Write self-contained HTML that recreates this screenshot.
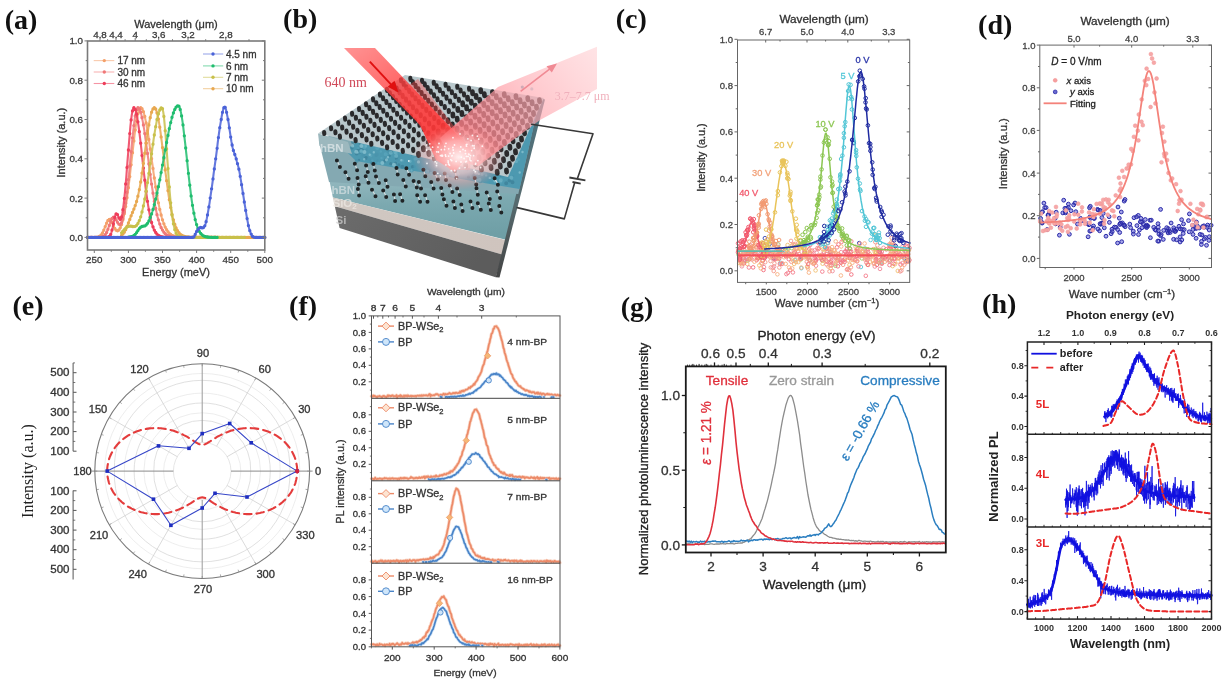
<!DOCTYPE html>
<html><head><meta charset="utf-8"><style>
html,body{margin:0;padding:0;background:#fff;width:1224px;height:683px;overflow:hidden}
svg{display:block;filter:blur(0.6px)}
text{font-family:"Liberation Sans",sans-serif}
.sf{font-family:"Liberation Serif",serif}
</style></head><body>
<svg width="1224" height="683" viewBox="0 0 1224 683">
<defs><linearGradient id="gSi" x1="0" y1="0" x2="1" y2="0.3"><stop offset="0" stop-color="#6c6c6c"/><stop offset="1" stop-color="#5c5c5c"/></linearGradient>
<linearGradient id="gOx" x1="0" y1="0" x2="1" y2="0"><stop offset="0" stop-color="#d0c8c2"/><stop offset="1" stop-color="#cfc4be"/></linearGradient>
<linearGradient id="gBN" x1="0" y1="0" x2="0.15" y2="1"><stop offset="0" stop-color="#94b8bf"/><stop offset="0.45" stop-color="#7ca9b0"/><stop offset="1" stop-color="#6f9fa6"/></linearGradient>
<linearGradient id="gIn" x1="0" y1="0" x2="0.7" y2="1"><stop offset="0" stop-color="#ff6464" stop-opacity="0.7"/><stop offset="0.45" stop-color="#ff3a3a" stop-opacity="0.8"/><stop offset="1" stop-color="#ff2020" stop-opacity="0.88"/></linearGradient>
<linearGradient id="gOut" x1="1" y1="0" x2="0" y2="0.6"><stop offset="0" stop-color="#ffc8cc" stop-opacity="0.5"/><stop offset="0.5" stop-color="#ffa8b0" stop-opacity="0.65"/><stop offset="1" stop-color="#ff7880" stop-opacity="0.8"/></linearGradient>
<radialGradient id="gGlow"><stop offset="0" stop-color="#fff6f6" stop-opacity="0.95"/><stop offset="0.5" stop-color="#ffcaca" stop-opacity="0.7"/><stop offset="1" stop-color="#ff8080" stop-opacity="0"/></radialGradient>
<linearGradient id="gRF" x1="0" y1="0" x2="0" y2="1"><stop offset="0" stop-color="#4f7480"/><stop offset="0.6" stop-color="#566a6e"/><stop offset="1" stop-color="#444"/></linearGradient></defs>
<rect width="1224" height="683" fill="#fff"/>
<path d="M87.5 237.4l.7 0 .6 0 .7 0 .7 0 .7 0 .7 0 .7 0 .6 0 .7 0 .7 0 .7 0 .7-.1.6 0 .7-.1.7-.1.7-.2.7-.3.7-.4.6-.5.7-.7.7-.9.7-1.1.7-1.4.6-1.5.7-1.7.7-1.8.7-1.8.7-1.6.7-1.5.6-1.2.7-.7.7-.3.7.1.7.6.7 1 .6 1.3.7 1.5.7 1.5.7 1.5.7 1.3.6 1.1.7.8.7.4.7.2.7-.3.7-.5.6-.9.7-1.3.7-1.5.7-1.8.7-2.2.6-2.5.7-2.8.7-3.2.7-3.5.7-3.9.7-4.2.6-4.5.7-4.9.7-5.1.7-5.5.7-5.6.6-5.9.7-5.9.7-6.1.7-6 .7-6 .7-5.8.6-5.6.7-5.2.7-4.9.7-4.4.7-3.8.6-3.3.7-2.6.7-1.9.7-1.1.7-.4.7.3.6.7.7 1.3.7 1.7.7 2.2.7 2.6.6 3 .7 3.4.7 3.8.7 4 .7 4.3.7 4.5.6 4.7.7 4.8.7 4.8.7 4.9.7 4.9.7 4.9.6 4.8.7 4.7.7 4.6.7 4.4.7 4.2.6 4.1.7 3.8.7 3.7.7 3.4.7 3.2.7 2.9.6 2.7.7 2.6.7 2.2.7 2.1.7 1.9.6 1.7.7 1.6.7 1.4.7 1.2.7 1.1.7.9.6.8.7.8.7.6.7.5.7.5.6.4.7.4.7.3.7.2.7.2.7.2.6.1.7.2.7.1.7 0 .7.1.7.1.6 0 .7.1.7 0 .7 0 .7 0 .6 0 .7.1.7 0 .7 0 .7 0 .7 0 .6 0 .7 0 .7 0 .7 0 .7 0 .6 0 .7 0 .7 0 .7 0 .7 0 .7 0 .6 0 .7 0 .7 0 .7 0 .7 0 .6 0 .7 0 .7 0 .7 0 .7 0 .7 0 .6 0 .7 0 .7 0 .7 0 .7 0 .6 0 .7 0 .7 0 .7 0 .7 0 .7 0 .6 0 .7 0 .7 0 .7 0 .7 0 .6 0 .7 0 .7 0 .7 0 .7 0 .7 0" stroke="#f4a06a" stroke-width="2.1" fill="none" stroke-linejoin="round" stroke-linecap="round" opacity="0.85"/>
<path d="M87.5 237.4h0M88.8 237.4h0M90.2 237.4h0M91.6 237.4h0M92.9 237.4h0M94.3 237.4h0M95.7 237.3h0M97 237.2h0M98.4 236.9h0M99.8 236.2h0M101.1 235h0M102.5 233h0M103.8 230.1h0M105.2 226.6h0M106.6 223.2h0M107.9 220.5h0M109.3 219.5h0M110.7 220.2h0M112 222.5h0M113.4 225.5h0M114.8 228.3h0M116.1 230.2h0M117.5 230.8h0M118.9 230h0M120.2 227.8h0M121.6 224.5h0M122.9 219.8h0M124.3 213.8h0M125.7 206.4h0M127 197.7h0M128.4 187.7h0M129.8 176.6h0M131.1 164.8h0M132.5 152.7h0M133.9 140.9h0M135.2 130.1h0M136.6 120.8h0M137.9 113.7h0M139.3 109.2h0M140.7 107.7h0M142 108.7h0M143.4 111.7h0M144.8 116.5h0M146.1 122.9h0M147.5 130.7h0M148.9 139.5h0M150.2 149h0M151.6 158.7h0M153 168.5h0M154.3 178h0M155.7 187h0M157 195.3h0M158.4 202.8h0M159.8 209.4h0M161.1 215h0M162.5 219.8h0M163.9 223.8h0M165.2 227.1h0M166.6 229.7h0M168 231.7h0M169.3 233.3h0M170.7 234.4h0M172 235.3h0M173.4 236h0M174.8 236.4h0M176.1 236.7h0M177.5 237h0M178.9 237.1h0M180.2 237.2h0M181.6 237.3h0M183 237.3h0M184.3 237.4h0M185.7 237.4h0M187.1 237.4h0M188.4 237.4h0M189.8 237.4h0M191.1 237.4h0M192.5 237.4h0M193.9 237.4h0M195.2 237.4h0M196.6 237.4h0M198 237.4h0M199.3 237.4h0M200.7 237.4h0M202.1 237.4h0M203.4 237.4h0M204.8 237.4h0M206.1 237.4h0M207.5 237.4h0M208.9 237.4h0M210.2 237.4h0M211.6 237.4h0M213 237.4h0M214.3 237.4h0M215.7 237.4h0M217.1 237.4h0" stroke="#f4a06a" stroke-width="3.3" stroke-linecap="round"/>
<path d="M87.5 237.4l.7 0 .6 0 .7 0 .7 0 .7 0 .7 0 .7 0 .6 0 .7 0 .7 0 .7 0 .7 0 .6 0 .7 0 .7 0 .7 0 .7 0 .7-.1.6 0 .7-.1.7-.2.7-.2.7-.3.6-.4.7-.6.7-.8.7-1 .7-1.2.7-1.5.6-1.7.7-1.9.7-2 .7-2 .7-1.9.7-1.7.6-1.3.7-.9.7-.5.7.1.7.5.6.9.7 1.2.7 1.3.7 1.2.7 1.1.7.8.6.4.7 0 .7-.7.7-1.2.7-1.8.6-2.3.7-3 .7-3.6.7-4.1.7-4.7.7-5.2.6-5.7.7-6.1.7-6.5.7-6.8.7-7 .6-7.2.7-7.1.7-7 .7-6.8.7-6.3.7-5.9.6-5.2.7-4.4.7-3.6.7-2.6.7-1.6.6-.5.7.3.7.9.7 1.4.7 1.9.7 2.5.6 3 .7 3.4.7 3.8.7 4.2.7 4.5.6 4.7.7 4.9.7 5.1.7 5.2.7 5.2.7 5.3.6 5.2.7 5.1.7 5 .7 4.8.7 4.6.7 4.5.6 4.2.7 3.9.7 3.8.7 3.4.7 3.2.6 3 .7 2.7.7 2.4.7 2.3.7 2 .7 1.8.6 1.6.7 1.4.7 1.2.7 1.1.7 1 .6.8.7.7.7.6.7.5.7.5.7.3.6.4.7.2.7.2.7.2.7.2.6.1.7.1.7.1.7 0 .7.1.7 0 .6.1.7 0 .7 0 .7 0 .7.1.7 0 .6 0 .7 0 .7 0 .7 0 .7 0 .6 0 .7 0 .7 0 .7 0 .7 0 .7 0 .6 0 .7 0 .7 0 .7 0 .7 0 .6 0 .7 0 .7 0 .7 0 .7 0 .7 0 .6 0 .7 0 .7 0 .7 0 .7 0 .6 0 .7 0 .7 0 .7 0 .7 0 .7 0 .6 0 .7 0 .7 0 .7 0 .7 0 .6 0 .7 0 .7 0 .7 0 .7 0 .7 0 .6 0 .7 0 .7 0 .7 0 .7 0 .6 0 .7 0 .7 0 .7 0 .7 0 .7 0" stroke="#f07878" stroke-width="2.1" fill="none" stroke-linejoin="round" stroke-linecap="round" opacity="0.85"/>
<path d="M87.5 237.4h0M88.8 237.4h0M90.2 237.4h0M91.6 237.4h0M92.9 237.4h0M94.3 237.4h0M95.7 237.4h0M97 237.4h0M98.4 237.4h0M99.8 237.3h0M101.1 237.2h0M102.5 236.8h0M103.8 236.1h0M105.2 234.7h0M106.6 232.5h0M107.9 229.3h0M109.3 225.4h0M110.7 221.5h0M112 218.5h0M113.4 217.1h0M114.8 217.7h0M116.1 219.8h0M117.5 222.3h0M118.9 224.2h0M120.2 224.6h0M121.6 222.7h0M122.9 218.6h0M124.3 212h0M125.7 203.2h0M127 192.3h0M128.4 179.7h0M129.8 165.9h0M131.1 151.6h0M132.5 137.8h0M133.9 125.6h0M135.2 116h0M136.6 109.8h0M137.9 107.7h0M139.3 108.9h0M140.7 112.2h0M142 117.7h0M143.4 124.9h0M144.8 133.6h0M146.1 143.2h0M147.5 153.5h0M148.9 164h0M150.2 174.3h0M151.6 184.1h0M153 193.2h0M154.3 201.3h0M155.7 208.5h0M157 214.7h0M158.4 219.8h0M159.8 224.1h0M161.1 227.5h0M162.5 230.1h0M163.9 232.2h0M165.2 233.7h0M166.6 234.8h0M168 235.6h0M169.3 236.2h0M170.7 236.6h0M172 236.9h0M173.4 237.1h0M174.8 237.2h0M176.1 237.3h0M177.5 237.3h0M178.9 237.4h0M180.2 237.4h0M181.6 237.4h0M183 237.4h0M184.3 237.4h0M185.7 237.4h0M187.1 237.4h0M188.4 237.4h0M189.8 237.4h0M191.1 237.4h0M192.5 237.4h0M193.9 237.4h0M195.2 237.4h0M196.6 237.4h0M198 237.4h0M199.3 237.4h0M200.7 237.4h0M202.1 237.4h0M203.4 237.4h0M204.8 237.4h0M206.1 237.4h0M207.5 237.4h0M208.9 237.4h0M210.2 237.4h0M211.6 237.4h0M213 237.4h0M214.3 237.4h0M215.7 237.4h0M217.1 237.4h0" stroke="#f07878" stroke-width="3.3" stroke-linecap="round"/>
<path d="M102.5 237.4l.7 0 .6 0 .7 0 .7 0 .7 0 .7-.1.7 0 .6-.2.7-.2.7-.5.7-.8.7-1.2.7-1.8.6-2.5.7-2.9.7-3.4.7-3.4.7-3.1.6-2.3.7-1.2.7-.1.7.9.7 1.5.7 1.7.6 1.2.7.4.7-.6.7-1.9.7-3 .6-4.2.7-5.1.7-6.1.7-6.9.7-7.6.7-8.1.6-8.5.7-8.7.7-8.7.7-8.4.7-8 .6-7.3.7-6.4.7-5.2.7-3.8.7-2.4.7-.8.6.4.7 1.3.7 2 .7 2.8.7 3.5.6 4.1.7 4.7.7 5.2.7 5.6.7 5.9.7 6.1.6 6.3.7 6.3.7 6.2.7 6.2.7 5.9.6 5.8.7 5.4.7 5.1.7 4.8.7 4.5.7 4 .6 3.7.7 3.4.7 2.9.7 2.7.7 2.3.7 2 .6 1.8.7 1.5.7 1.3.7 1.1.7.9.6.8.7.6.7.5.7.5.7.3.7.3.6.2.7.2.7.1.7.2.7 0 .6.1.7.1.7 0 .7 0 .7 0 .7.1.6 0 .7 0" stroke="#ee3d5a" stroke-width="2.1" fill="none" stroke-linejoin="round" stroke-linecap="round" opacity="0.85"/>
<path d="M102.5 237.4h0M103.8 237.4h0M105.2 237.4h0M106.6 237.3h0M107.9 237.1h0M109.3 236.4h0M110.7 234.4h0M112 230.1h0M113.4 223.8h0M114.8 217.3h0M116.1 213.8h0M117.5 214.6h0M118.9 217.8h0M120.2 219.4h0M121.6 216.9h0M122.9 209.7h0M124.3 198.5h0M125.7 184h0M127 167.4h0M128.4 150h0M129.8 133.6h0M131.1 119.9h0M132.5 110.9h0M133.9 107.7h0M135.2 109.4h0M136.6 114.2h0M137.9 121.8h0M139.3 131.7h0M140.7 143.2h0M142 155.6h0M143.4 168.1h0M144.8 180.2h0M146.1 191.4h0M147.5 201.3h0M148.9 209.8h0M150.2 216.9h0M151.6 222.5h0M153 226.8h0M154.3 230.1h0M155.7 232.5h0M157 234.2h0M158.4 235.3h0M159.8 236.1h0M161.1 236.6h0M162.5 236.9h0M163.9 237.1h0M165.2 237.3h0M166.6 237.3h0M168 237.4h0M169.3 237.4h0" stroke="#ee3d5a" stroke-width="3.3" stroke-linecap="round"/>
<path d="M121.6 235.4l.7-.6.6-.7.7-.9.7-1 .7-1.2.7-1.3.7-1.5.6-1.7.7-1.7.7-1.8.7-1.8.7-1.8.6-1.8.7-1.8.7-1.7.7-1.7.7-1.6.7-1.7.6-1.7.7-1.8.7-2 .7-2.2.7-2.5.6-2.7.7-3.1.7-3.4.7-3.7.7-4 .7-4.3.6-4.6.7-4.8.7-4.9.7-5.1.7-5.1.6-5.1.7-5 .7-4.9.7-4.7.7-4.5.7-4.1.6-3.8.7-3.4.7-3 .7-2.5.7-1.9.7-1.4.6-.9.7-.3.7.3.7 1 .7 1.7.6 2.2.7 2.8.7 3.4.7 3.8.7 4.3.7 4.7.6 5 .7 5.3.7 5.4.7 5.5.7 5.6.6 5.6.7 5.6.7 5.5.7 5.3.7 5.1.7 4.9.6 4.6.7 4.4.7 4.1.7 3.8.7 3.5.6 3.2.7 2.9.7 2.6.7 2.4.7 2.1.7 1.9.6 1.7.7 1.4.7 1.3.7 1.1.7.9.7.9.6.6.7.6.7.5.7.4.7.4.6.2.7.3.7.2.7.1.7.1.7.1.6.1.7.1.7 0 .7.1.7 0 .6 0 .7 0 .7.1.7 0 .7 0 .7 0 .6 0 .7 0 .7 0 .7 0 .7 0 .6 0 .7 0 .7 0 .7 0 .7 0 .7 0 .6 0 .7 0 .7 0 .7 0 .7 0 .6 0 .7 0 .7 0 .7 0 .7 0 .7 0 .6 0 .7 0 .7 0 .7 0 .7 0 .6 0 .7 0 .7 0 .7 0 .7 0 .7 0 .6 0 .7 0 .7 0 .7 0 .7 0 .7 0 .6 0 .7 0 .7 0 .7 0 .7 0 .6 0 .7 0 .7 0 .7 0 .7 0 .7 0 .6 0 .7 0 .7 0 .7 0 .7 0 .6 0 .7 0 .7 0 .7 0 .7 0 .7 0 .6 0 .7 0 .7 0 .7 0 .7 0 .6 0 .7 0 .7 0 .7 0 .7 0 .7 0 .6 0 .7 0 .7 0 .7 0 .7 0 .7 0 .6 0 .7 0 .7 0 .7 0 .7 0 .6 0 .7 0 .7 0 .7 0 .7 0 .7 0 .6 0 .7 0 .7 0 .7 0 .7 0 .6 0 .7 0 .7 0 .7 0 .7 0 .7 0 .6 0 .7 0 .7 0" stroke="#e8a850" stroke-width="2.1" fill="none" stroke-linejoin="round" stroke-linecap="round" opacity="0.85"/>
<path d="M121.6 235.4h0M122.9 234.1h0M124.3 232.2h0M125.7 229.7h0M127 226.5h0M128.4 223h0M129.8 219.4h0M131.1 215.8h0M132.5 212.4h0M133.9 209.1h0M135.2 205.6h0M136.6 201.4h0M137.9 196.2h0M139.3 189.7h0M140.7 182h0M142 173.1h0M143.4 163.4h0M144.8 153.2h0M146.1 143.1h0M147.5 133.5h0M148.9 124.9h0M150.2 117.7h0M151.6 112.2h0M153 108.9h0M154.3 107.7h0M155.7 109h0M157 112.9h0M158.4 119.1h0M159.8 127.2h0M161.1 136.9h0M162.5 147.6h0M163.9 158.7h0M165.2 169.9h0M166.6 180.7h0M168 190.7h0M169.3 199.7h0M170.7 207.6h0M172 214.3h0M173.4 219.8h0M174.8 224.3h0M176.1 227.9h0M177.5 230.6h0M178.9 232.6h0M180.2 234.1h0M181.6 235.2h0M183 236h0M184.3 236.5h0M185.7 236.8h0M187.1 237h0M188.4 237.2h0M189.8 237.3h0M191.1 237.3h0M192.5 237.4h0M193.9 237.4h0M195.2 237.4h0M196.6 237.4h0M198 237.4h0M199.3 237.4h0M200.7 237.4h0M202.1 237.4h0M203.4 237.4h0M204.8 237.4h0M206.1 237.4h0M207.5 237.4h0M208.9 237.4h0M210.2 237.4h0M211.6 237.4h0M213 237.4h0M214.3 237.4h0M215.7 237.4h0M217.1 237.4h0M218.4 237.4h0M219.8 237.4h0M221.2 237.4h0M222.5 237.4h0M223.9 237.4h0M225.2 237.4h0M226.6 237.4h0M228 237.4h0M229.3 237.4h0M230.7 237.4h0M232.1 237.4h0M233.4 237.4h0M234.8 237.4h0M236.2 237.4h0M237.5 237.4h0M238.9 237.4h0M240.2 237.4h0M241.6 237.4h0M243 237.4h0M244.3 237.4h0M245.7 237.4h0M247.1 237.4h0M248.4 237.4h0M249.8 237.4h0M251.2 237.4h0M252.5 237.4h0M253.9 237.4h0M255.3 237.4h0M256.6 237.4h0M258 237.4h0M259.3 237.4h0M260.7 237.4h0M262.1 237.4h0M263.4 237.4h0M264.8 237.4h0" stroke="#e8a850" stroke-width="3.3" stroke-linecap="round"/>
<path d="M121.6 232.8l.7-.8.6-.8.7-.8.7-.8.7-.7.7-.7.7-.6.6-.5.7-.4.7-.3.7-.2.7-.1.6.1.7 0 .7.2.7.1.7.1.7 0 .6-.1.7-.2.7-.4.7-.6.7-.8.6-1.1.7-1.3.7-1.5.7-1.8.7-2 .7-2.3.6-2.6.7-2.9.7-3.1.7-3.3.7-3.6.6-3.8.7-4 .7-4.2.7-4.4.7-4.6.7-4.7.6-4.8.7-4.9.7-4.9.7-4.9.7-4.8.7-4.8.6-4.7.7-4.5.7-4.3.7-4 .7-3.8.6-3.4.7-3 .7-2.6.7-2.2.7-1.7.7-1.3.6-.7.7-.3.7 1 .7 3 .7 4.8.6 6.4.7 7.8.7 8.8.7 9.5.7 9.7.7 9.8.6 9.5.7 9 .7 8.3.7 7.5.7 6.6.6 5.6.7 4.8.7 4 .7 3.3.7 2.6.7 2 .6 1.6.7 1.1.7.9.7.7.7.4.7.3.6.3.7.1.7.1.7.1.7 0 .6.1.7 0 .7 0 .7 0 .7 0 .7 0 .6 0 .7 0 .7 0 .7 0 .7 0 .6 0 .7 0 .7 0 .7 0 .7 0 .7 0 .6 0 .7 0 .7 0 .7 0 .7 0 .6 0 .7 0 .7 0 .7 0 .7 0 .7 0 .6 0 .7 0 .7 0 .7 0 .7 0 .6 0 .7 0 .7 0 .7 0 .7 0 .7 0 .6 0 .7 0 .7 0 .7 0 .7 0 .6 0 .7 0 .7 0 .7 0 .7 0 .7 0 .6 0 .7 0 .7 0 .7 0 .7 0 .7 0 .6 0 .7 0 .7 0 .7 0 .7 0 .6 0 .7 0 .7 0 .7 0 .7 0 .7 0 .6 0 .7 0 .7 0 .7 0 .7 0 .6 0 .7 0 .7 0 .7 0 .7 0 .7 0 .6 0 .7 0 .7 0 .7 0 .7 0 .6 0 .7 0 .7 0 .7 0 .7 0 .7 0 .6 0" stroke="#c8c04a" stroke-width="2.1" fill="none" stroke-linejoin="round" stroke-linecap="round" opacity="0.85"/>
<path d="M121.6 232.8h0M122.9 231.2h0M124.3 229.6h0M125.7 228.2h0M127 227.1h0M128.4 226.4h0M129.8 226.1h0M131.1 226.2h0M132.5 226.5h0M133.9 226.6h0M135.2 226.3h0M136.6 225.3h0M137.9 223.4h0M139.3 220.6h0M140.7 216.8h0M142 211.9h0M143.4 205.9h0M144.8 199h0M146.1 191.2h0M147.5 182.6h0M148.9 173.3h0M150.2 163.6h0M151.6 153.8h0M153 144.2h0M154.3 135h0M155.7 126.7h0M157 119.5h0M158.4 113.9h0M159.8 110h0M161.1 108h0M162.5 108.7h0M163.9 116.5h0M165.2 130.7h0M166.6 149h0M168 168.5h0M169.3 187h0M170.7 202.8h0M172 215h0M173.4 223.8h0M174.8 229.7h0M176.1 233.3h0M177.5 235.3h0M178.9 236.4h0M180.2 237h0M181.6 237.2h0M183 237.3h0M184.3 237.4h0M185.7 237.4h0M187.1 237.4h0M188.4 237.4h0M189.8 237.4h0M191.1 237.4h0M192.5 237.4h0M193.9 237.4h0M195.2 237.4h0M196.6 237.4h0M198 237.4h0M199.3 237.4h0M200.7 237.4h0M202.1 237.4h0M203.4 237.4h0M204.8 237.4h0M206.1 237.4h0M207.5 237.4h0M208.9 237.4h0M210.2 237.4h0M211.6 237.4h0M213 237.4h0M214.3 237.4h0M215.7 237.4h0M217.1 237.4h0M218.4 237.4h0M219.8 237.4h0M221.2 237.4h0M222.5 237.4h0M223.9 237.4h0M225.2 237.4h0M226.6 237.4h0M228 237.4h0M229.3 237.4h0M230.7 237.4h0M232.1 237.4h0M233.4 237.4h0M234.8 237.4h0M236.2 237.4h0M237.5 237.4h0M238.9 237.4h0M240.2 237.4h0M241.6 237.4h0M243 237.4h0M244.3 237.4h0" stroke="#c8c04a" stroke-width="3.3" stroke-linecap="round"/>
<path d="M128.4 237.1l.7-.1.7-.1.6-.1.7-.1.7-.2.7-.2.7-.4.7-.4.6-.5.7-.7.7-.8.7-.9.7-1 .6-1 .7-1 .7-1 .7-.7.7-.7.7-.4.6-.3.7-.2.7-.1.7-.1.7-.2.6-.4.7-.5.7-.7.7-1 .7-1.1.7-1.3.6-1.5.7-1.7.7-1.8.7-2 .7-2.1.7-2.3.6-2.4.7-2.5.7-2.7.7-2.8.7-2.9.6-3.1.7-3.2.7-3.2.7-3.4.7-3.5.7-3.6.6-3.6.7-3.7.7-3.8.7-3.8.7-3.8.6-3.8.7-3.7.7-3.8.7-3.7.7-3.6.7-3.5.6-3.4.7-3.3.7-3.1.7-3 .7-2.7.6-2.6.7-2.3.7-2.1.7-1.9.7-1.6.7-1.3.6-1 .7-.8.7-.4.7-.2.7.5.7 1.2.6 2.1.7 2.8.7 3.6.7 4.2.7 4.8.6 5.2.7 5.7.7 6 .7 6.2.7 6.4.7 6.3.6 6.4.7 6.2.7 6.1.7 5.8.7 5.5.6 5.2.7 4.9.7 4.5.7 4.1.7 3.8.7 3.4.6 3 .7 2.7.7 2.3.7 2.1.7 1.8.6 1.5.7 1.3.7 1.1.7 1 .7.7.7.7.6.5.7.5.7.3.7.3.7.2.6.2.7.1.7.1.7.1.7.1.7 0 .6.1.7 0 .7 0 .7.1.7 0 .6 0 .7 0 .7 0 .7 0 .7 0 .7 0" stroke="#1fbd6e" stroke-width="2.1" fill="none" stroke-linejoin="round" stroke-linecap="round" opacity="0.85"/>
<path d="M128.4 237.1h0M129.8 236.9h0M131.1 236.7h0M132.5 236.3h0M133.9 235.5h0M135.2 234.3h0M136.6 232.6h0M137.9 230.6h0M139.3 228.6h0M140.7 227.2h0M142 226.5h0M143.4 226.2h0M144.8 225.9h0M146.1 225h0M147.5 223.3h0M148.9 220.9h0M150.2 217.7h0M151.6 213.9h0M153 209.5h0M154.3 204.6h0M155.7 199.1h0M157 193.1h0M158.4 186.7h0M159.8 179.8h0M161.1 172.6h0M162.5 165.1h0M163.9 157.5h0M165.2 150h0M166.6 142.5h0M168 135.4h0M169.3 128.7h0M170.7 122.6h0M172 117.3h0M173.4 112.9h0M174.8 109.4h0M176.1 107.1h0M177.5 105.9h0M178.9 106.2h0M180.2 109.5h0M181.6 115.9h0M183 124.9h0M184.3 135.8h0M185.7 148h0M187.1 160.7h0M188.4 173.3h0M189.8 185.2h0M191.1 195.9h0M192.5 205.3h0M193.9 213.2h0M195.2 219.6h0M196.6 224.6h0M198 228.5h0M199.3 231.3h0M200.7 233.4h0M202.1 234.8h0M203.4 235.8h0M204.8 236.4h0M206.1 236.8h0M207.5 237h0M208.9 237.2h0M210.2 237.3h0M211.6 237.3h0M213 237.4h0M214.3 237.4h0M215.7 237.4h0M217.1 237.4h0" stroke="#1fbd6e" stroke-width="3.3" stroke-linecap="round"/>
<path d="M87.5 237.4l.7 0 .6 0 .7 0 .7 0 .7 0 .7 0 .7 0 .6 0 .7 0 .7 0 .7 0 .7 0 .6 0 .7 0 .7 0 .7 0 .7 0 .7 0 .6 0 .7 0 .7 0 .7 0 .7 0 .6 0 .7 0 .7 0 .7 0 .7 0 .7 0 .6 0 .7 0 .7 0 .7 0 .7 0 .7 0 .6 0 .7 0 .7 0 .7 0 .7 0 .6 0 .7 0 .7 0 .7 0 .7 0 .7 0 .6 0 .7 0 .7 0 .7 0 .7 0 .6 0 .7 0 .7 0 .7 0 .7 0 .7 0 .6 0 .7 0 .7 0 .7 0 .7 0 .6 0 .7 0 .7 0 .7 0 .7 0 .7 0 .6 0 .7 0 .7 0 .7 0 .7 0 .6 0 .7 0 .7 0 .7 0 .7 0 .7 0 .6 0 .7 0 .7 0 .7 0 .7 0 .6 0 .7 0 .7 0 .7 0 .7 0 .7 0 .6 0 .7 0 .7 0 .7 0 .7 0 .7 0 .6 0 .7 0 .7 0 .7 0 .7 0 .6 0 .7 0 .7 0 .7 0 .7 0 .7 0 .6 0 .7 0 .7 0 .7 0 .7 0 .6 0 .7 0 .7 0 .7 0 .7 0 .7 0 .6 0 .7 0 .7 0 .7 0 .7 0 .6 0 .7 0 .7 0 .7 0 .7 0 .7 0 .6 0 .7 0 .7 0 .7 0 .7 0 .7 0 .6 0 .7 0 .7 0 .7 0 .7 0 .6 0 .7 0 .7 0 .7 0 .7 0 .7 0 .6 0 .7 0 .7 0 .7 0 .7 0 .6 0 .7 0 .7 0 .7 0 .7-.5.7-1.1.6-1.5.7-1.6.7-1.2.7-1 .7-.9.6-.8.7-.7.7-.5.7-.2.7.2.7.3.6 0 .7-.3.7-.8.7-1 .7-1.7.6-2.4.7-3.2.7-3.6.7-3.9.7-4.1.7-4.3.6-4.5.7-4.6.7-4.7.7-4.9.7-5 .6-5 .7-5 .7-5.1.7-5 .7-5.1.7-5.4.6-5.4.7-5.3.7-5.1.7-4.8.7-4.3.7-3.9.6-3.8.7-3.4.7-2.7.7-1.9.7-1 .6.6.7 2 .7 3 .7 3.6.7 3.6.7 3.9.6 4.4.7 4.6.7 4.7.7 4.3.7 3.6.6 3 .7 2.4.7 2.1.7 2 .7 2 .7 2.3.6 2.5.7 2.4.7 2.6.7 2.9.7 3.4.6 3.7.7 4.1.7 4.3.7 4.4.7 4.4.7 4.3.6 4.2.7 4.2.7 4.2.7 4.2.7 4 .7 3.7.6 3.3.7 2.8.7 2.3.7 1.9.7 1.5.6 1.3.7 1 .7.5.7.3.7.1.7.1.6 0 .7 0 .7 0 .7 0 .7 0 .6 0 .7 0 .7 0 .7 0 .7 0 .7 0 .6 0 .7 0 .7 0" stroke="#4a62d8" stroke-width="2.1" fill="none" stroke-linejoin="round" stroke-linecap="round" opacity="0.85"/>
<path d="M87.5 237.4h0M88.8 237.4h0M90.2 237.4h0M91.6 237.4h0M92.9 237.4h0M94.3 237.4h0M95.7 237.4h0M97 237.4h0M98.4 237.4h0M99.8 237.4h0M101.1 237.4h0M102.5 237.4h0M103.8 237.4h0M105.2 237.4h0M106.6 237.4h0M107.9 237.4h0M109.3 237.4h0M110.7 237.4h0M112 237.4h0M113.4 237.4h0M114.8 237.4h0M116.1 237.4h0M117.5 237.4h0M118.9 237.4h0M120.2 237.4h0M121.6 237.4h0M122.9 237.4h0M124.3 237.4h0M125.7 237.4h0M127 237.4h0M128.4 237.4h0M129.8 237.4h0M131.1 237.4h0M132.5 237.4h0M133.9 237.4h0M135.2 237.4h0M136.6 237.4h0M137.9 237.4h0M139.3 237.4h0M140.7 237.4h0M142 237.4h0M143.4 237.4h0M144.8 237.4h0M146.1 237.4h0M147.5 237.4h0M148.9 237.4h0M150.2 237.4h0M151.6 237.4h0M153 237.4h0M154.3 237.4h0M155.7 237.4h0M157 237.4h0M158.4 237.4h0M159.8 237.4h0M161.1 237.4h0M162.5 237.4h0M163.9 237.4h0M165.2 237.4h0M166.6 237.4h0M168 237.4h0M169.3 237.4h0M170.7 237.4h0M172 237.4h0M173.4 237.4h0M174.8 237.4h0M176.1 237.4h0M177.5 237.4h0M178.9 237.4h0M180.2 237.4h0M181.6 237.4h0M183 237.4h0M184.3 237.4h0M185.7 237.4h0M187.1 237.4h0M188.4 237.4h0M189.8 237.4h0M191.1 237.4h0M192.5 237.4h0M193.9 236.9h0M195.2 234.3h0M196.6 231.5h0M198 229.6h0M199.3 228.1h0M200.7 227.4h0M202.1 227.9h0M203.4 227.6h0M204.8 225.8h0M206.1 221.7h0M207.5 214.9h0M208.9 206.9h0M210.2 198.1h0M211.6 188.8h0M213 178.9h0M214.3 168.9h0M215.7 158.8h0M217.1 148.3h0M218.4 137.6h0M219.8 127.7h0M221.2 119.5h0M222.5 112.3h0M223.9 107.7h0M225.2 107.3h0M226.6 112.3h0M228 119.5h0M229.3 127.8h0M230.7 137.1h0M232.1 145h0M233.4 150.4h0M234.8 154.5h0M236.2 158.8h0M237.5 163.7h0M238.9 169.2h0M240.2 176.3h0M241.6 184.7h0M243 193.5h0M244.3 202h0M245.7 210.4h0M247.1 218.6h0M248.4 225.6h0M249.8 230.7h0M251.2 234.1h0M252.5 236.4h0M253.9 237.2h0M255.3 237.4h0M256.6 237.4h0M258 237.4h0M259.3 237.4h0M260.7 237.4h0M262.1 237.4h0M263.4 237.4h0M264.8 237.4h0" stroke="#4a62d8" stroke-width="3.3" stroke-linecap="round"/>
<rect x="87.5" y="41" width="177.3" height="209" stroke="#7a7a7a" stroke-width="1.6" fill="none"/>
<path d="M87.5 237.4L84.5 237.4M264.8 237.4L261.8 237.4" stroke="#7a7a7a" stroke-width="1"/>
<text x="83" y="240.9" font-size="9.8" text-anchor="end" fill="#3a3a3a" stroke="#3a3a3a" stroke-width="0.3">0.0</text>
<path d="M87.5 198.1L84.5 198.1M264.8 198.1L261.8 198.1" stroke="#7a7a7a" stroke-width="1"/>
<text x="83" y="201.6" font-size="9.8" text-anchor="end" fill="#3a3a3a" stroke="#3a3a3a" stroke-width="0.3">0.2</text>
<path d="M87.5 158.8L84.5 158.8M264.8 158.8L261.8 158.8" stroke="#7a7a7a" stroke-width="1"/>
<text x="83" y="162.3" font-size="9.8" text-anchor="end" fill="#3a3a3a" stroke="#3a3a3a" stroke-width="0.3">0.4</text>
<path d="M87.5 119.5L84.5 119.5M264.8 119.5L261.8 119.5" stroke="#7a7a7a" stroke-width="1"/>
<text x="83" y="123" font-size="9.8" text-anchor="end" fill="#3a3a3a" stroke="#3a3a3a" stroke-width="0.3">0.6</text>
<path d="M87.5 80.2L84.5 80.2M264.8 80.2L261.8 80.2" stroke="#7a7a7a" stroke-width="1"/>
<text x="83" y="83.7" font-size="9.8" text-anchor="end" fill="#3a3a3a" stroke="#3a3a3a" stroke-width="0.3">0.8</text>
<path d="M87.5 40.9L84.5 40.9M264.8 40.9L261.8 40.9" stroke="#7a7a7a" stroke-width="1"/>
<text x="83" y="44.4" font-size="9.8" text-anchor="end" fill="#3a3a3a" stroke="#3a3a3a" stroke-width="0.3">1.0</text>
<path d="M87.5 217.8L85.7 217.8M264.8 217.8L263 217.8M87.5 178.4L85.7 178.4M264.8 178.4L263 178.4M87.5 139.2L85.7 139.2M264.8 139.2L263 139.2M87.5 99.8L85.7 99.8M264.8 99.8L263 99.8M87.5 60.6L85.7 60.6M264.8 60.6L263 60.6M94.3 250L94.3 253" stroke="#7a7a7a" stroke-width="1"/>
<text x="94.3" y="263" font-size="9.8" text-anchor="middle" fill="#3a3a3a" stroke="#3a3a3a" stroke-width="0.3">250</text>
<path d="M128.4 250L128.4 253" stroke="#7a7a7a" stroke-width="1"/>
<text x="128.4" y="263" font-size="9.8" text-anchor="middle" fill="#3a3a3a" stroke="#3a3a3a" stroke-width="0.3">300</text>
<path d="M162.5 250L162.5 253" stroke="#7a7a7a" stroke-width="1"/>
<text x="162.5" y="263" font-size="9.8" text-anchor="middle" fill="#3a3a3a" stroke="#3a3a3a" stroke-width="0.3">350</text>
<path d="M196.6 250L196.6 253" stroke="#7a7a7a" stroke-width="1"/>
<text x="196.6" y="263" font-size="9.8" text-anchor="middle" fill="#3a3a3a" stroke="#3a3a3a" stroke-width="0.3">400</text>
<path d="M230.7 250L230.7 253" stroke="#7a7a7a" stroke-width="1"/>
<text x="230.7" y="263" font-size="9.8" text-anchor="middle" fill="#3a3a3a" stroke="#3a3a3a" stroke-width="0.3">450</text>
<path d="M264.8 250L264.8 253" stroke="#7a7a7a" stroke-width="1"/>
<text x="264.8" y="263" font-size="9.8" text-anchor="middle" fill="#3a3a3a" stroke="#3a3a3a" stroke-width="0.3">500</text>
<path d="M111.3 250L111.3 251.8M145.4 250L145.4 251.8M179.6 250L179.6 251.8M213.7 250L213.7 251.8M247.8 250L247.8 251.8" stroke="#7a7a7a" stroke-width="1"/>
<text x="176" y="275.5" font-size="11" text-anchor="middle" fill="#333" stroke="#333" stroke-width="0.3">Energy (meV)</text>
<text font-size="11" text-anchor="middle" fill="#333" stroke="#333" stroke-width="0.3" transform="translate(64.8 142.6) rotate(-90)">Intensity (a.u.)</text>
<path d="M100 41L100 38" stroke="#7a7a7a" stroke-width="1"/>
<text x="100" y="37.5" font-size="9.8" text-anchor="middle" fill="#3a3a3a" stroke="#3a3a3a" stroke-width="0.3">4.8</text>
<path d="M116 41L116 38" stroke="#7a7a7a" stroke-width="1"/>
<text x="116" y="37.5" font-size="9.8" text-anchor="middle" fill="#3a3a3a" stroke="#3a3a3a" stroke-width="0.3">4.4</text>
<path d="M135.2 41L135.2 38" stroke="#7a7a7a" stroke-width="1"/>
<text x="135.2" y="37.5" font-size="9.8" text-anchor="middle" fill="#3a3a3a" stroke="#3a3a3a" stroke-width="0.3">4</text>
<path d="M158.7 41L158.7 38" stroke="#7a7a7a" stroke-width="1"/>
<text x="158.7" y="37.5" font-size="9.8" text-anchor="middle" fill="#3a3a3a" stroke="#3a3a3a" stroke-width="0.3">3.6</text>
<path d="M188 41L188 38" stroke="#7a7a7a" stroke-width="1"/>
<text x="188" y="37.5" font-size="9.8" text-anchor="middle" fill="#3a3a3a" stroke="#3a3a3a" stroke-width="0.3">3.2</text>
<path d="M225.8 41L225.8 38" stroke="#7a7a7a" stroke-width="1"/>
<text x="225.8" y="37.5" font-size="9.8" text-anchor="middle" fill="#3a3a3a" stroke="#3a3a3a" stroke-width="0.3">2.8</text>
<path d="M107.6 41L107.6 39.2M125.1 41L125.1 39.2M146.3 41L146.3 39.2M172.5 41L172.5 39.2M205.7 41L205.7 39.2M249 41L249 39.2" stroke="#7a7a7a" stroke-width="1"/>
<text x="176" y="27.5" font-size="11" text-anchor="middle" fill="#333" stroke="#333" stroke-width="0.3">Wavelength (μm)</text>
<path d="M93.7 60.6L114.3 60.6" stroke="#f4a06a" stroke-width="1.1" opacity="0.55"/>
<path d="M104.3 60.6h0" stroke="#f4a06a" stroke-width="3.4" stroke-linecap="round"/>
<text x="117.4" y="64.2" font-size="10" fill="#333" stroke="#333" stroke-width="0.3">17 nm</text>
<path d="M93.7 72L114.3 72" stroke="#f07878" stroke-width="1.1" opacity="0.55"/>
<path d="M104.3 72h0" stroke="#f07878" stroke-width="3.4" stroke-linecap="round"/>
<text x="117.4" y="75.6" font-size="10" fill="#333" stroke="#333" stroke-width="0.3">30 nm</text>
<path d="M93.7 83.5L114.3 83.5" stroke="#ee3d5a" stroke-width="1.1" opacity="0.55"/>
<path d="M104.3 83.5h0" stroke="#ee3d5a" stroke-width="3.4" stroke-linecap="round"/>
<text x="117.4" y="87.1" font-size="10" fill="#333" stroke="#333" stroke-width="0.3">46 nm</text>
<path d="M203 54L223.2 54" stroke="#4a62d8" stroke-width="1.1" opacity="0.55"/>
<path d="M213 54h0" stroke="#4a62d8" stroke-width="3.4" stroke-linecap="round"/>
<text x="225.9" y="57.6" font-size="10" fill="#333" stroke="#333" stroke-width="0.3">4.5 nm</text>
<path d="M203 65.9L223.2 65.9" stroke="#1fbd6e" stroke-width="1.1" opacity="0.55"/>
<path d="M213 65.9h0" stroke="#1fbd6e" stroke-width="3.4" stroke-linecap="round"/>
<text x="225.9" y="69.5" font-size="10" fill="#333" stroke="#333" stroke-width="0.3">6 nm</text>
<path d="M203 77.3L223.2 77.3" stroke="#c8c04a" stroke-width="1.1" opacity="0.55"/>
<path d="M213 77.3h0" stroke="#c8c04a" stroke-width="3.4" stroke-linecap="round"/>
<text x="225.9" y="80.9" font-size="10" fill="#333" stroke="#333" stroke-width="0.3">7 nm</text>
<path d="M203 88.7L223.2 88.7" stroke="#e8a850" stroke-width="1.1" opacity="0.55"/>
<path d="M213 88.7h0" stroke="#e8a850" stroke-width="3.4" stroke-linecap="round"/>
<text x="225.9" y="92.3" font-size="10" fill="#333" stroke="#333" stroke-width="0.3">10 nm</text>
<polygon points="329,178.5 519.5,189 507.9,240.2 332.9,197.4" fill="url(#gBN)"/>
<polygon points="332.9,197.4 506.6,240.2 503,254.8 334.8,206.3" fill="url(#gOx)"/>
<polygon points="334.8,206.3 503,254.8 495.7,277.2 339.6,228" fill="url(#gSi)"/>
<polygon points="540,98 545,99.5 499.5,277.5 495.7,277.2" fill="url(#gRF)"/>
<polygon points="319,142 405,90 538.4,105 518.3,194 329,182" fill="#84a9b2"/>
<text x="331.5" y="193.5" font-size="11.5" fill="#dfe6e8" font-weight="bold" opacity="0.65">hBN</text>
<text x="332.5" y="207" font-size="11.5" fill="#efebe6" font-weight="bold" opacity="0.7">SiO<tspan font-size="8" dy="2">2</tspan></text>
<text x="335.5" y="224" font-size="11.5" fill="#d0d0d0" font-weight="bold" opacity="0.7">Si</text>
<polygon points="345,150 420,100 539.8,99 530.5,140 519.5,189 356,161" fill="#4a98b0" opacity="0.95"/>
<path d="M386.5 139.2h0M454.6 156h0M472.7 133.9h0M488.9 139.4h0M532 101.5h0M365.2 136h0M422.3 131.8h0M359 160h0M420.6 152.8h0M453.6 163.3h0M479.9 172h0M469.4 152.8h0M377 145.4h0M360.1 144.3h0M503.4 122.8h0M500.5 138h0M493.4 151.4h0M503.7 102.9h0M486.3 116.8h0M490.3 138.6h0M408.4 142h0M444 147.8h0M389.7 155.8h0M394.3 140.4h0M502.9 155.9h0M385.4 159.4h0M449.4 123.7h0M497.4 134.2h0M451.1 151.1h0" stroke="#3c8098" stroke-width="2.4" stroke-linecap="round" opacity="0.75"/>
<path d="M390.7 163.7h0M509.3 99.2h0M352 147.9h0M411.4 151.7h0M444 152.9h0M511.5 133.8h0M396.4 158.4h0M395.6 163.1h0M421.1 151.6h0M378.3 135.5h0M468.4 177h0M403.3 132.2h0M385.2 142.7h0M491.9 166.8h0M473.2 175.7h0M501.2 175.4h0M501.3 145.6h0M391.5 151.3h0M480.6 124.2h0M529.6 99.4h0M459.5 147.9h0M499.8 165.2h0M398.8 164.9h0M422.8 128.7h0M506.8 140.7h0M428.8 157.9h0M412.5 166.7h0M512.4 125.8h0M466.9 149.7h0M384.6 161.2h0M431.3 134.3h0M423.8 148.8h0M359.1 138.7h0" stroke="#3c8098" stroke-width="3.2" stroke-linecap="round" opacity="0.75"/>
<path d="M353 142h0M356.7 153.4h0M376.5 138h0M506.2 183.3h0M511.1 111.7h0M359.5 152.3h0M478.3 124.1h0M402.3 166.8h0M512.2 111.1h0M357.9 150.7h0M526.1 106.9h0M440.1 127.9h0M473.7 124.5h0M509.5 180.4h0M389.8 137.8h0M384.6 142h0M512.5 182.2h0M510.5 119.4h0M359.4 141.6h0M380.6 127.5h0M389.5 150.2h0M381.2 140.9h0M395.2 142.3h0M397 123.2h0M527.3 103.3h0M439 138.6h0M466.7 169.3h0M376.6 141.4h0M412.5 153.7h0M473.6 115.9h0M508.3 141.4h0M429.8 136.2h0M372.3 162.9h0M361.9 150.1h0M366 158.1h0M390.9 151.1h0M482 136h0M474.9 174.3h0M507.3 115.7h0M359.7 148.2h0M511.9 150h0" stroke="#3c8098" stroke-width="4" stroke-linecap="round" opacity="0.75"/>
<path d="M364.2 140.7h0M393.7 133h0M360.1 152.8h0M436 141.6h0M488.4 139.9h0M464.9 140.9h0M521.6 110h0M409.3 140h0M505.6 109.8h0M428.5 147.7h0M427.8 164.1h0M474.9 164.4h0M388.1 158.7h0M453.2 151.6h0M380.4 146.6h0M513.1 176.1h0M455.1 137.8h0M439.1 145.3h0M510.2 114.9h0M437 173.7h0M392.6 142h0M444.3 158h0M475.3 148.2h0M377.4 160.5h0M412 140.6h0M486.2 112h0M478 179.1h0M366.9 149.6h0M447.9 172h0M371.9 156.3h0M500.5 101.2h0M414.4 166.7h0M489.9 94.3h0" stroke="#4a94ac" stroke-width="2.4" stroke-linecap="round" opacity="0.75"/>
<path d="M444.8 132h0M518.2 151.9h0M522.3 87.1h0M420.8 149.3h0M495.8 170.1h0M476.7 143.1h0M372.4 141.9h0M456.8 148.7h0M388.1 152.3h0M369.6 159.7h0M414.2 149.7h0M507.4 114.1h0M385.8 156.5h0M493 152h0M426.8 160h0M396.5 146.7h0M461.6 141.7h0M398.6 146h0M435.7 153.1h0M488.3 112.5h0M416.9 155.7h0M368.5 158.9h0M385.3 129h0M507 139.4h0M397.5 160.2h0M444.4 147.2h0M455.8 133.7h0M398.7 156.4h0M376 155.4h0M365.5 144h0M473 141.1h0" stroke="#4a94ac" stroke-width="3.2" stroke-linecap="round" opacity="0.75"/>
<path d="M480.4 181.3h0M469 134.7h0M502.8 160.4h0M502.2 175.4h0M364.3 146.5h0M465.5 171.8h0M503.4 152.4h0M448.2 128.1h0M356.7 161h0M376.7 154.4h0M421.3 142.8h0M429.4 170.4h0M411.8 170.5h0M465.2 146.3h0M501.2 154.8h0M372.2 130.2h0M484.1 124.5h0M447.4 115.3h0M479.8 121.9h0M406.5 143h0M397 138.2h0M363.3 155h0M509.2 142.8h0M411.6 144.5h0M486.1 157.3h0M384 145.9h0M476.3 158.8h0" stroke="#4a94ac" stroke-width="4" stroke-linecap="round" opacity="0.75"/>
<path d="M385.1 137.7h0M420.9 136.7h0M490.3 163.6h0M494.2 115.7h0M428.1 149.9h0M380.8 151.5h0M526.8 115.1h0M393.5 150.3h0M396.7 144.2h0M479 104.2h0M379.1 144.5h0M381.5 158.1h0M437.4 115.3h0M532 101.4h0M441.5 158.2h0M447.1 106.8h0M372.4 160.8h0M510.9 164.2h0M358.5 147.9h0M528.9 104.2h0M457 155h0M460.3 165.4h0M402.9 160.5h0M501.3 126.7h0M438.1 149h0M413.3 155.4h0M461.4 127.9h0M407.8 169.4h0M454 151.6h0M505.5 125.3h0M424.6 154.1h0M364.3 144.9h0M410 134.1h0" stroke="#5aa6bc" stroke-width="2.4" stroke-linecap="round" opacity="0.75"/>
<path d="M396.2 130.9h0M511.5 131.4h0M405 147.5h0M503.8 139.4h0M510.6 140.5h0M516.3 142.2h0M416.4 158.5h0M429 153.3h0M422.1 149.2h0M402.2 132h0M500.6 181.9h0M378.5 163.4h0M414.9 159.1h0M382.6 142.1h0M396.6 153.1h0M371 155.7h0M480 148.5h0M365 146.3h0M395.7 145.2h0M496.4 124.6h0M518.6 159.5h0M426.2 162.1h0M404.2 149.3h0M389.8 148.9h0M494 162.3h0M476 166h0M452.8 176.2h0M519.2 111.7h0" stroke="#5aa6bc" stroke-width="3.2" stroke-linecap="round" opacity="0.75"/>
<path d="M496.4 161.2h0M489.5 128.8h0M477.8 169h0M477.5 142.4h0M513.8 158.3h0M467 124.1h0M377.3 148.1h0M480.4 158h0M409.1 149h0M476 107.8h0M490.6 152.1h0M364.3 147.2h0M463.4 145.7h0M385.7 154.2h0M484.9 172.7h0M490.1 139.3h0M513.7 158.9h0M361.3 151.2h0M395.2 151.5h0" stroke="#5aa6bc" stroke-width="4" stroke-linecap="round" opacity="0.75"/>
<path d="M387 148.6h0M411.5 170.5h0M442.9 136.1h0M486.2 175.4h0M505.1 157.6h0M464.3 142h0M442.7 122.7h0M432.8 135.8h0M429.6 145.6h0M409.6 144.4h0M520.3 106.1h0M421.7 146.9h0M357.9 152.6h0M405 139.7h0M426.3 133.4h0M525.3 108.3h0M365.9 146.3h0M372.7 138.3h0M518.3 148.2h0M457.9 108.5h0M497.8 146h0M400.5 144.1h0M467.8 138.1h0" stroke="#6eb2c4" stroke-width="2.4" stroke-linecap="round" opacity="0.75"/>
<path d="M498.7 130.2h0M458.4 174.3h0M508.3 134h0M516.8 156.2h0M391.8 129.4h0M395.3 152.7h0M373.8 129.6h0M476.9 180.4h0M423.4 155h0M426.9 133.1h0M410.1 161.3h0M516.3 161.4h0M361.1 150.9h0M435.1 163.4h0M523.6 119.5h0M395 151h0M404.7 132.9h0M482.1 174.3h0M459.2 156h0" stroke="#6eb2c4" stroke-width="3.2" stroke-linecap="round" opacity="0.75"/>
<path d="M431 173.8h0M464.4 144.2h0M474.1 119.7h0M448.2 141.2h0M479.6 180.1h0M472.7 153.1h0M457.2 172.7h0M500.8 180.2h0M396.2 155.9h0M408.1 151.6h0M441.6 138.9h0M475.7 166.9h0M370.3 140.3h0M357.1 138.5h0M427.2 171.5h0M444.3 112.3h0M477.7 162.4h0M436.3 165.9h0M377.6 144.6h0M477.9 124.3h0M511.3 177.8h0M390.8 152.8h0M362.4 138.5h0" stroke="#6eb2c4" stroke-width="4" stroke-linecap="round" opacity="0.75"/>
<path d="M394.2 134.6h0M502.9 129.7h0M453.2 144.7h0M373.8 152.3h0M354.8 139.5h0M412.5 138.1h0M522.5 152h0M510.8 156.7h0M387.9 157.2h0M391.8 143h0M498.4 103.7h0M352.2 137.5h0M364.2 159.3h0M489.8 177.9h0M401.3 160.3h0M478.8 173.9h0M439 123.3h0M447.7 176.2h0M479.9 124.2h0M527.3 115.2h0M369.7 154.7h0M416.2 145.8h0M519.7 172.5h0" stroke="#8cc4d2" stroke-width="2.4" stroke-linecap="round" opacity="0.75"/>
<path d="M501.8 115.5h0M388.2 146.1h0M429.6 154.6h0M474.5 101.1h0M418.5 161.9h0M465.2 118.3h0M423.5 147.4h0M512.2 112.9h0M531.8 88.9h0M516.4 129h0M511.3 166.4h0M356.8 140.1h0M458.3 111.9h0M414.5 130.2h0M523.4 137.7h0M428.8 157.1h0M509.8 124.1h0M496.8 103.9h0M363 135.1h0M478.2 121.9h0M386 144.9h0M410 133.4h0M467.2 128.7h0M491.5 167.9h0M495 180.8h0M386.4 159.8h0M352.6 145.9h0M508 161.6h0" stroke="#8cc4d2" stroke-width="3.2" stroke-linecap="round" opacity="0.75"/>
<path d="M361.3 145.9h0M490.6 117.8h0M371.6 131.3h0M364.4 152.1h0M477.8 135.2h0M446.1 142.8h0M504.3 129.1h0M444.7 117.5h0M486.1 158.6h0M471.1 148.2h0M475.2 102h0M444.4 136.6h0M504.6 125h0M467.2 128.4h0M514.2 148.3h0M480.1 116.9h0M394 164.7h0M495 133.4h0M433 143h0M356.2 151.8h0M494.9 138.2h0M438.3 152.3h0M476.1 172.8h0M439.3 158.8h0M522.2 117.6h0M440.8 150.5h0M494.7 116.6h0M382.3 162.9h0M380 133h0M503.7 141.4h0" stroke="#8cc4d2" stroke-width="4" stroke-linecap="round" opacity="0.75"/>
<path d="M336.9 160.5l3 6M345.4 172.3l3.1 6M357.5 177.9l1.2 6M357.9 189.1l1.1 6M354.8 163.7l2.3 6M365.7 176.2l2.8 6M366.1 165.5l1.8 6M376 176.4l2.9 6M372 189.7l3.5 6M373.4 164.1l1.4 6M385.7 180.3l1.9 6M383.2 190.5l3 6M393.9 194.4l1.2 6M396.5 167.9l1.2 6M403.3 179.9l2.5 6M400.1 194.2l2.3 6M406.4 168.3l2.7 6M413.6 180.9l3.2 6M418.9 182.1l2.1 6M417.2 195.3l3 6M423.4 169.7l1.9 6M431.2 182.1l2.4 6M425.1 195.3l2.4 6M434.6 173l3.3 6M441.2 188.1l1.2 6M444.7 173.4l1.3 6M449.7 185.5l2.7 6M443.9 199.2l2.6 6M455 171.2l1.5 6M457.1 188.5l2.6 6M453.4 201.4l1.5 6M461.3 204.4l1.3 6M474.7 177.9l1.5 6M476.5 188.2l1.2 6M470.5 201.5l1.9 6M486.7 192.5l3.1 6M477.8 203.3l3 6M494.6 178.3l3.4 6M497.2 191.6l2.9 6M488.8 203.5l2 6M499.3 206l1.9 6" stroke="#d8e0e2" stroke-width="1.1"/>
<path d="M336.9 160.5h0M339.9 167h0M345.4 172.3h0M348.6 178.8h0M357.5 177.9h0M358.7 184.4h0M357.9 189.1h0M359.1 195.6h0M354.8 163.7h0M357.1 170.2h0M365.7 176.2h0M368.5 182.7h0M366.1 165.5h0M367.8 172h0M376 176.4h0M378.9 182.9h0M372 189.7h0M375.5 196.2h0M373.4 164.1h0M374.8 170.6h0M385.7 180.3h0M387.5 186.8h0M383.2 190.5h0M386.2 197h0M393.9 194.4h0M395.1 200.9h0M396.5 167.9h0M397.7 174.4h0M403.3 179.9h0M405.8 186.4h0M400.1 194.2h0M402.4 200.7h0M406.4 168.3h0M409.1 174.8h0M413.6 180.9h0M416.8 187.4h0M418.9 182.1h0M421 188.6h0M417.2 195.3h0M420.1 201.8h0M423.4 169.7h0M425.3 176.2h0M431.2 182.1h0M433.6 188.6h0M425.1 195.3h0M427.5 201.8h0M434.6 173h0M437.9 179.5h0M441.2 188.1h0M442.4 194.6h0M444.7 173.4h0M446 179.9h0M449.7 185.5h0M452.4 192h0M443.9 199.2h0M446.5 205.7h0M455 171.2h0M456.4 177.7h0M457.1 188.5h0M459.7 195h0M453.4 201.4h0M454.9 207.9h0M461.3 204.4h0M462.6 210.9h0M474.7 177.9h0M476.2 184.4h0M476.5 188.2h0M477.8 194.7h0M470.5 201.5h0M472.4 208h0M486.7 192.5h0M489.8 199h0M477.8 203.3h0M480.8 209.8h0M494.6 178.3h0M497.9 184.8h0M497.2 191.6h0M500.1 198.1h0M488.8 203.5h0M490.8 210h0M499.3 206h0M501.3 212.5h0" stroke="#202426" stroke-width="4" stroke-linecap="round"/>
<polygon points="318,133.5 348,142 352,154 319.5,146" fill="#9cb8be"/>
<text x="320" y="151.5" font-size="11.5" fill="#e6ecee" font-weight="bold" opacity="0.7">hBN</text>
<polygon points="318,133.5 405,75 543.8,98 508,177" fill="#b9c8cc"/>
<path d="M324.1 132l.2 2M335.3 131.3l.2 2M339.8 135.6l.2 2M350.9 134.8l.2 2M355.5 139.1l.2 2M366.4 138.4l.2 2M371.2 142.7l.2 2M382 141.9l.2 2M387 146.3l.2 2M397.5 145.4l.2 2M402.7 149.9l.2 2M413.1 148.9l.2 2M331 127.2l.2 2M342.1 126.5l.2 2M346.4 130.6l.2 2M357.3 129.8l.2 2M361.8 134.1l.2 2M372.6 133.2l.2 2M377.2 137.5l.2 2M387.8 136.6l.2 2M392.6 141l.2 2M403 140l.2 2M408 144.4l.2 2M418.2 143.3l.2 2M338 122.4l.2 2M349 121.6l.2 2M353.1 125.7l.2 2M363.8 124.8l.2 2M368.1 129l.2 2M378.7 128.1l.2 2M383.1 132.3l.2 2M393.5 131.3l.2 2M398.2 135.6l.2 2M408.4 134.6l.2 2M413.2 138.9l.2 2M423.3 137.8l.2 2M345 117.6l.2 2M355.8 116.7l.2 2M359.7 120.8l.2 2M370.3 119.8l.2 2M374.4 123.9l.2 2M384.8 122.9l.2 2M389.1 127.1l.2 2M399.3 126l.2 2M403.8 130.3l.2 2M413.8 129.1l.2 2M418.5 133.4l.2 2M428.3 132.2l.2 2M352 112.8l.2 2M362.6 111.9l.2 2M366.3 115.8l.2 2M376.7 114.8l.2 2M380.7 118.9l.2 2M390.9 117.8l.2 2M395 121.9l.2 2M405.1 120.8l.2 2M409.4 124.9l.2 2M419.3 123.7l.2 2M423.7 127.9l.2 2M433.4 126.7l.2 2M359 108l.2 2M369.4 107l.2 2M373 110.9l.2 2M383.2 109.8l.2 2M387 113.8l.2 2M397 112.7l.2 2M401 116.7l.2 2M410.9 115.5l.2 2M415 119.6l.2 2M424.7 118.3l.2 2M429 122.5l.2 2M438.5 121.1l.2 2M366 103.2l.2 2M376.2 102.2l.2 2M379.6 106l.2 2M389.7 104.8l.2 2M393.3 108.7l.2 2M403.2 107.5l.2 2M406.9 111.5l.2 2M416.6 110.2l.2 2M420.6 114.2l.2 2M430.1 112.9l.2 2M434.2 117l.2 2M443.6 115.6l.2 2M373 98.4l.2 2M383 97.3l.2 2M386.3 101l.2 2M396.1 99.9l.2 2M399.6 103.7l.2 2M409.3 102.4l.2 2M412.9 106.3l.2 2M422.4 104.9l.2 2M426.2 108.9l.2 2M435.5 107.5l.2 2M439.5 111.5l.2 2M448.7 110l.2 2M379.9 93.6l.2 2M389.8 92.4l.2 2M392.9 96.1l.2 2M402.6 94.9l.2 2M405.9 98.6l.2 2M415.4 97.3l.2 2M418.8 101.1l.2 2M428.2 99.7l.2 2M431.8 103.5l.2 2M441 102.1l.2 2M444.7 106l.2 2M453.7 104.5l.2 2M386.9 88.9l.2 2M396.6 87.6l.2 2M399.5 91.2l.2 2M409.1 89.9l.2 2M412.1 93.5l.2 2M421.5 92.1l.2 2M424.8 95.9l.2 2M433.9 94.4l.2 2M437.4 98.2l.2 2M446.4 96.6l.2 2M450 100.5l.2 2M458.8 98.9l.2 2M393.9 84.1l.2 2M403.5 82.7l.2 2M406.2 86.3l.2 2M415.5 84.9l.2 2M418.4 88.4l.2 2M427.6 87l.2 2M430.7 90.6l.2 2M439.7 89.1l.2 2M443 92.8l.2 2M451.8 91.2l.2 2M455.2 95l.2 2M463.9 93.4l.2 2M400.9 79.3l.2 2M410.3 77.9l.2 2M412.8 81.3l.2 2M422 79.9l.2 2M424.7 83.4l.2 2M433.7 81.8l.2 2M436.6 85.4l.2 2M445.5 83.8l.2 2M448.6 87.5l.2 2M457.2 85.8l.2 2M460.5 89.5l.2 2M469 87.8l.2 2" stroke="#2a2a2c" stroke-width="4.1" stroke-linecap="round"/>
<path d="M418.4 153.3l.2 2.3M428.7 152.3l.2 2.3M434.2 156.9l.2 2.3M444.2 155.8l.2 2.3M449.9 160.5l.2 2.3M459.8 159.3l.2 2.3M465.6 164.1l.2 2.3M475.3 162.8l.2 2.3M481.3 167.7l.2 2.3M490.9 166.3l.2 2.3M497.1 171.2l.2 2.3M506.4 169.8l.2 2.3M423.3 147.7l.2 2.3M433.4 146.6l.2 2.3M438.7 151.1l.2 2.3M448.6 149.9l.2 2.3M454.1 154.6l.2 2.3M463.8 153.3l.2 2.3M469.5 158l.2 2.3M479 156.7l.2 2.3M484.9 161.5l.2 2.3M494.2 160.1l.2 2.3M500.2 164.9l.2 2.3M509.4 163.4l.2 2.3M428.2 142.1l.2 2.3M438.1 140.9l.2 2.3M443.3 145.4l.2 2.3M453 144.1l.2 2.3M458.3 148.7l.2 2.3M467.8 147.3l.2 2.3M473.3 152l.2 2.3M482.7 150.6l.2 2.3M488.4 155.3l.2 2.3M497.6 153.8l.2 2.3M503.4 158.6l.2 2.3M512.4 157.1l.2 2.3M433.1 136.4l.2 2.3M442.9 135.2l.2 2.3M447.8 139.6l.2 2.3M457.4 138.3l.2 2.3M462.5 142.8l.2 2.3M471.9 141.4l.2 2.3M477.2 145.9l.2 2.3M486.4 144.5l.2 2.3M491.9 149.1l.2 2.3M500.9 147.6l.2 2.3M506.6 152.3l.2 2.3M515.4 150.7l.2 2.3M438.1 130.8l.2 2.3M447.6 129.5l.2 2.3M452.4 133.9l.2 2.3M461.8 132.4l.2 2.3M466.7 136.9l.2 2.3M475.9 135.4l.2 2.3M481.1 139.9l.2 2.3M490.1 138.4l.2 2.3M495.4 142.9l.2 2.3M504.3 141.3l.2 2.3M509.8 146l.2 2.3M518.4 144.3l.2 2.3M443 125.2l.2 2.3M452.3 123.8l.2 2.3M457 128.1l.2 2.3M466.1 126.6l.2 2.3M470.9 131l.2 2.3M480 129.4l.2 2.3M484.9 133.9l.2 2.3M493.8 132.3l.2 2.3M498.9 136.8l.2 2.3M507.6 135.1l.2 2.3M512.9 139.6l.2 2.3M521.4 137.9l.2 2.3M447.9 119.6l.2 2.3M457.1 118.1l.2 2.3M461.5 122.3l.2 2.3M470.5 120.8l.2 2.3M475.2 125.1l.2 2.3M484 123.5l.2 2.3M488.8 127.8l.2 2.3M497.5 126.1l.2 2.3M502.5 130.6l.2 2.3M510.9 128.8l.2 2.3M516.1 133.3l.2 2.3M524.4 131.5l.2 2.3M452.8 113.9l.2 2.3M461.8 112.4l.2 2.3M466.1 116.6l.2 2.3M474.9 115l.2 2.3M479.4 119.2l.2 2.3M488 117.5l.2 2.3M492.7 121.8l.2 2.3M501.2 120l.2 2.3M506 124.4l.2 2.3M514.3 122.6l.2 2.3M519.3 127l.2 2.3M527.4 125.1l.2 2.3M457.7 108.3l.2 2.3M466.5 106.7l.2 2.3M470.6 110.8l.2 2.3M479.3 109.1l.2 2.3M483.6 113.3l.2 2.3M492.1 111.5l.2 2.3M496.5 115.7l.2 2.3M504.9 113.9l.2 2.3M509.5 118.2l.2 2.3M517.6 116.3l.2 2.3M522.4 120.7l.2 2.3M530.4 118.7l.2 2.3M462.6 102.7l.2 2.3M471.2 101l.2 2.3M475.2 105l.2 2.3M483.7 103.3l.2 2.3M487.8 107.4l.2 2.3M496.1 105.5l.2 2.3M500.4 109.7l.2 2.3M508.5 107.8l.2 2.3M513 112l.2 2.3M521 110.1l.2 2.3M525.6 114.4l.2 2.3M533.4 112.3l.2 2.3M467.5 97.1l.2 2.3M476 95.3l.2 2.3M479.7 99.3l.2 2.3M488.1 97.5l.2 2.3M492 101.5l.2 2.3M500.2 99.6l.2 2.3M504.3 103.7l.2 2.3M512.2 101.7l.2 2.3M516.5 105.9l.2 2.3M524.3 103.8l.2 2.3M528.8 108l.2 2.3M536.4 106l.2 2.3M472.4 91.5l.2 2.3M480.7 89.6l.2 2.3M484.3 93.5l.2 2.3M492.4 91.6l.2 2.3M496.2 95.6l.2 2.3M504.2 93.6l.2 2.3M508.1 97.6l.2 2.3M515.9 95.6l.2 2.3M520 99.7l.2 2.3M527.7 97.6l.2 2.3M532 101.7l.2 2.3M539.4 99.6l.2 2.3" stroke="#2a2a2c" stroke-width="4.7" stroke-linecap="round"/>
<polygon points="344,48 375,48 472,150 455,172 436,160 420,125" fill="url(#gIn)"/>
<polygon points="597,46.7 597,89 540,120 478,166 452,160 440,138 498,87" fill="url(#gOut)"/>
<polygon points="397,93 418,79 472,150 470,170 450,170" fill="#ff4848" opacity="0.4"/>
<ellipse cx="459" cy="157" rx="46" ry="33" fill="url(#gGlow)"/>
<path d="M437.8 173.3h0M454.5 145h0M467.9 138.8h0M466.5 146.2h0M427 163.4h0M442.1 156.2h0M439 143.5h0M450.1 153.5h0M465.5 153.6h0M444.5 149.5h0M466.4 156.3h0M452.1 155.6h0M471 160.8h0M451.9 155.9h0M451.7 160.6h0M477.4 136.2h0M478.8 139.1h0M445.4 155h0M448.7 148.8h0M465.3 150.7h0M438 147.1h0M475.7 163.5h0M433 156.1h0M430.8 149.5h0M464.1 158.5h0M453.2 150h0M436.7 163.1h0M465.7 161.8h0M452.9 147.5h0M449.5 165.2h0M466.9 144.3h0M466.2 144.8h0M480.6 167.5h0M448.6 156.1h0M441.3 149.7h0M468.7 154.1h0M466.4 161.3h0M440.4 175.8h0M468.1 156.4h0M470.5 155.7h0M448.1 161h0M461 162h0M472.4 135.4h0M436.7 151.8h0M456.7 178.6h0M473.6 155.7h0M438.4 152h0M474.2 148.2h0M461.3 157.2h0M453.7 153h0M436.5 165.5h0M408.8 161h0M442.6 155.8h0M469.9 159.8h0M435.2 161.7h0M429.8 143.8h0M440.5 155.6h0M475.5 164.2h0M448.6 164h0M446 143.3h0M465 167.6h0M475.3 171.7h0M499.7 153.3h0M442 155.1h0M432.6 147.2h0M459.5 168.1h0M448.2 162.2h0M477.9 160.6h0M445.9 164.9h0M426.5 150h0M453 137.7h0M482.3 146.2h0M474 170.1h0M463 149.5h0M451.3 170.7h0M460.1 151.6h0M460 133.9h0M445.8 156.3h0M456.1 161.4h0M471.1 140.5h0M454.7 170.5h0M460.8 146.9h0M472.5 145.7h0M469.9 158h0M450.7 159.6h0M444.9 146.5h0M471.6 150.6h0M426.7 145h0M469 154.3h0M474.1 145.8h0" stroke="#ffffff" stroke-width="1.8" stroke-linecap="round" opacity="0.85"/>
<path d="M369.8 61.6L393.5 87.2" stroke="#e01010" stroke-width="1.9"/>
<path d="M398.5 92.5 L387.8 86.8 L394.5 80.7 Z" fill="#e01010"/>
<path d="M520.6 91.3L551.5 67.6" stroke="#f08a94" stroke-width="1.6"/>
<path d="M557 63.4 L546.5 66.2 L551.8 72.6 Z" fill="#f08a94"/>
<text x="345.8" y="86.8" font-size="14" text-anchor="middle" fill="#d04858" class="sf">640 nm</text>
<text x="582.2" y="99.8" font-size="12" text-anchor="middle" fill="#f0b0bc" class="sf">3.7–7.7 μm</text>
<path d="M531.5 124.2l61.5 9.6-15.4 44.1" stroke="#383838" stroke-width="1.6" fill="none" stroke-linejoin="round" stroke-linecap="round"/>
<path d="M574.5 183.2l-10.2 35.7-47.1-11.3" stroke="#383838" stroke-width="1.6" fill="none" stroke-linejoin="round" stroke-linecap="round"/>
<path d="M569.4 177.5L585.4 180.3M572.5 182L580.7 183.6" stroke="#383838" stroke-width="1.8"/>
<path d="M904 251.5a1.8 1.8 0 1 0 3.6 0a1.8 1.8 0 1 0 -3.6 0M780.5 250.3a1.8 1.8 0 1 0 3.6 0a1.8 1.8 0 1 0 -3.6 0M902.6 258.3a1.8 1.8 0 1 0 3.6 0a1.8 1.8 0 1 0 -3.6 0M771.8 258.4a1.8 1.8 0 1 0 3.6 0a1.8 1.8 0 1 0 -3.6 0M877.7 251.7a1.8 1.8 0 1 0 3.6 0a1.8 1.8 0 1 0 -3.6 0M857.4 243.1a1.8 1.8 0 1 0 3.6 0a1.8 1.8 0 1 0 -3.6 0M906 261.2a1.8 1.8 0 1 0 3.6 0a1.8 1.8 0 1 0 -3.6 0M799.3 256.7a1.8 1.8 0 1 0 3.6 0a1.8 1.8 0 1 0 -3.6 0M880.9 259.3a1.8 1.8 0 1 0 3.6 0a1.8 1.8 0 1 0 -3.6 0M767.8 243.9a1.8 1.8 0 1 0 3.6 0a1.8 1.8 0 1 0 -3.6 0M906 260.6a1.8 1.8 0 1 0 3.6 0a1.8 1.8 0 1 0 -3.6 0M763.1 238.2a1.8 1.8 0 1 0 3.6 0a1.8 1.8 0 1 0 -3.6 0M828.6 252a1.8 1.8 0 1 0 3.6 0a1.8 1.8 0 1 0 -3.6 0" fill="none" stroke="#3040b0" stroke-width="0.9"/>
<path d="M776.4 244.4a1.8 1.8 0 1 0 3.6 0a1.8 1.8 0 1 0 -3.6 0M793.3 260.1a1.8 1.8 0 1 0 3.6 0a1.8 1.8 0 1 0 -3.6 0M799.6 268.2a1.8 1.8 0 1 0 3.6 0a1.8 1.8 0 1 0 -3.6 0M778.9 262.9a1.8 1.8 0 1 0 3.6 0a1.8 1.8 0 1 0 -3.6 0M868.8 240a1.8 1.8 0 1 0 3.6 0a1.8 1.8 0 1 0 -3.6 0M743 260.6a1.8 1.8 0 1 0 3.6 0a1.8 1.8 0 1 0 -3.6 0M745.3 260.4a1.8 1.8 0 1 0 3.6 0a1.8 1.8 0 1 0 -3.6 0M804.4 255.4a1.8 1.8 0 1 0 3.6 0a1.8 1.8 0 1 0 -3.6 0M859.1 267a1.8 1.8 0 1 0 3.6 0a1.8 1.8 0 1 0 -3.6 0M863.3 248.5a1.8 1.8 0 1 0 3.6 0a1.8 1.8 0 1 0 -3.6 0M782.2 253.7a1.8 1.8 0 1 0 3.6 0a1.8 1.8 0 1 0 -3.6 0M879.2 262.4a1.8 1.8 0 1 0 3.6 0a1.8 1.8 0 1 0 -3.6 0M784.9 251a1.8 1.8 0 1 0 3.6 0a1.8 1.8 0 1 0 -3.6 0" fill="none" stroke="#60c8d8" stroke-width="0.9"/>
<path d="M736.7 254.5a1.8 1.8 0 1 0 3.6 0a1.8 1.8 0 1 0 -3.6 0M820.9 260.6a1.8 1.8 0 1 0 3.6 0a1.8 1.8 0 1 0 -3.6 0M877.6 262.9a1.8 1.8 0 1 0 3.6 0a1.8 1.8 0 1 0 -3.6 0M789.9 248.1a1.8 1.8 0 1 0 3.6 0a1.8 1.8 0 1 0 -3.6 0M799.1 259.3a1.8 1.8 0 1 0 3.6 0a1.8 1.8 0 1 0 -3.6 0M888.3 260.4a1.8 1.8 0 1 0 3.6 0a1.8 1.8 0 1 0 -3.6 0M833.6 265.7a1.8 1.8 0 1 0 3.6 0a1.8 1.8 0 1 0 -3.6 0M873.8 249a1.8 1.8 0 1 0 3.6 0a1.8 1.8 0 1 0 -3.6 0M786.3 249a1.8 1.8 0 1 0 3.6 0a1.8 1.8 0 1 0 -3.6 0M808.1 260.1a1.8 1.8 0 1 0 3.6 0a1.8 1.8 0 1 0 -3.6 0M785.3 254.9a1.8 1.8 0 1 0 3.6 0a1.8 1.8 0 1 0 -3.6 0M765.5 246.7a1.8 1.8 0 1 0 3.6 0a1.8 1.8 0 1 0 -3.6 0M860.1 258.4a1.8 1.8 0 1 0 3.6 0a1.8 1.8 0 1 0 -3.6 0M803 252.1a1.8 1.8 0 1 0 3.6 0a1.8 1.8 0 1 0 -3.6 0" fill="none" stroke="#9ccc60" stroke-width="0.9"/>
<path d="M812.8 250.3a1.8 1.8 0 1 0 3.6 0a1.8 1.8 0 1 0 -3.6 0M825.3 254.1a1.8 1.8 0 1 0 3.6 0a1.8 1.8 0 1 0 -3.6 0M786.6 252.8a1.8 1.8 0 1 0 3.6 0a1.8 1.8 0 1 0 -3.6 0M823.5 247.8a1.8 1.8 0 1 0 3.6 0a1.8 1.8 0 1 0 -3.6 0M772.3 266.5a1.8 1.8 0 1 0 3.6 0a1.8 1.8 0 1 0 -3.6 0M802.5 251.5a1.8 1.8 0 1 0 3.6 0a1.8 1.8 0 1 0 -3.6 0M742.1 240.6a1.8 1.8 0 1 0 3.6 0a1.8 1.8 0 1 0 -3.6 0M739.8 261a1.8 1.8 0 1 0 3.6 0a1.8 1.8 0 1 0 -3.6 0M907.8 248a1.8 1.8 0 1 0 3.6 0a1.8 1.8 0 1 0 -3.6 0M743.7 251.8a1.8 1.8 0 1 0 3.6 0a1.8 1.8 0 1 0 -3.6 0M796.6 242.8a1.8 1.8 0 1 0 3.6 0a1.8 1.8 0 1 0 -3.6 0M900.6 246.6a1.8 1.8 0 1 0 3.6 0a1.8 1.8 0 1 0 -3.6 0M783.4 254.1a1.8 1.8 0 1 0 3.6 0a1.8 1.8 0 1 0 -3.6 0M825.4 248.8a1.8 1.8 0 1 0 3.6 0a1.8 1.8 0 1 0 -3.6 0M900.8 263.1a1.8 1.8 0 1 0 3.6 0a1.8 1.8 0 1 0 -3.6 0M770.1 253.4a1.8 1.8 0 1 0 3.6 0a1.8 1.8 0 1 0 -3.6 0M822.1 251.7a1.8 1.8 0 1 0 3.6 0a1.8 1.8 0 1 0 -3.6 0M814 260.1a1.8 1.8 0 1 0 3.6 0a1.8 1.8 0 1 0 -3.6 0M888.6 247a1.8 1.8 0 1 0 3.6 0a1.8 1.8 0 1 0 -3.6 0M815.8 258.5a1.8 1.8 0 1 0 3.6 0a1.8 1.8 0 1 0 -3.6 0M884.9 259.6a1.8 1.8 0 1 0 3.6 0a1.8 1.8 0 1 0 -3.6 0M828.4 254.2a1.8 1.8 0 1 0 3.6 0a1.8 1.8 0 1 0 -3.6 0M740.1 266.3a1.8 1.8 0 1 0 3.6 0a1.8 1.8 0 1 0 -3.6 0M829.4 257.1a1.8 1.8 0 1 0 3.6 0a1.8 1.8 0 1 0 -3.6 0M906.2 251.5a1.8 1.8 0 1 0 3.6 0a1.8 1.8 0 1 0 -3.6 0M791.7 244.3a1.8 1.8 0 1 0 3.6 0a1.8 1.8 0 1 0 -3.6 0M805.8 266.9a1.8 1.8 0 1 0 3.6 0a1.8 1.8 0 1 0 -3.6 0M898.4 257a1.8 1.8 0 1 0 3.6 0a1.8 1.8 0 1 0 -3.6 0M838.8 259.5a1.8 1.8 0 1 0 3.6 0a1.8 1.8 0 1 0 -3.6 0M836.8 257.4a1.8 1.8 0 1 0 3.6 0a1.8 1.8 0 1 0 -3.6 0M897.1 257.9a1.8 1.8 0 1 0 3.6 0a1.8 1.8 0 1 0 -3.6 0M839.4 252.1a1.8 1.8 0 1 0 3.6 0a1.8 1.8 0 1 0 -3.6 0M840.9 260.4a1.8 1.8 0 1 0 3.6 0a1.8 1.8 0 1 0 -3.6 0M822.4 258.4a1.8 1.8 0 1 0 3.6 0a1.8 1.8 0 1 0 -3.6 0M830.7 271.1a1.8 1.8 0 1 0 3.6 0a1.8 1.8 0 1 0 -3.6 0M795.2 255.1a1.8 1.8 0 1 0 3.6 0a1.8 1.8 0 1 0 -3.6 0M880.1 254.9a1.8 1.8 0 1 0 3.6 0a1.8 1.8 0 1 0 -3.6 0M786.1 272.9a1.8 1.8 0 1 0 3.6 0a1.8 1.8 0 1 0 -3.6 0M750.1 259.5a1.8 1.8 0 1 0 3.6 0a1.8 1.8 0 1 0 -3.6 0M814.8 252.5a1.8 1.8 0 1 0 3.6 0a1.8 1.8 0 1 0 -3.6 0M750.6 255a1.8 1.8 0 1 0 3.6 0a1.8 1.8 0 1 0 -3.6 0M862.7 253.4a1.8 1.8 0 1 0 3.6 0a1.8 1.8 0 1 0 -3.6 0M873 266.5a1.8 1.8 0 1 0 3.6 0a1.8 1.8 0 1 0 -3.6 0M749.2 258.4a1.8 1.8 0 1 0 3.6 0a1.8 1.8 0 1 0 -3.6 0M848.5 249a1.8 1.8 0 1 0 3.6 0a1.8 1.8 0 1 0 -3.6 0M833 256.7a1.8 1.8 0 1 0 3.6 0a1.8 1.8 0 1 0 -3.6 0M762.2 267.1a1.8 1.8 0 1 0 3.6 0a1.8 1.8 0 1 0 -3.6 0M770.5 256.8a1.8 1.8 0 1 0 3.6 0a1.8 1.8 0 1 0 -3.6 0M752.3 253.6a1.8 1.8 0 1 0 3.6 0a1.8 1.8 0 1 0 -3.6 0M843.1 251.7a1.8 1.8 0 1 0 3.6 0a1.8 1.8 0 1 0 -3.6 0M898.4 271.4a1.8 1.8 0 1 0 3.6 0a1.8 1.8 0 1 0 -3.6 0M835.2 259.5a1.8 1.8 0 1 0 3.6 0a1.8 1.8 0 1 0 -3.6 0M747 252.1a1.8 1.8 0 1 0 3.6 0a1.8 1.8 0 1 0 -3.6 0M814.2 265.7a1.8 1.8 0 1 0 3.6 0a1.8 1.8 0 1 0 -3.6 0M759.9 248.8a1.8 1.8 0 1 0 3.6 0a1.8 1.8 0 1 0 -3.6 0M881.7 247.8a1.8 1.8 0 1 0 3.6 0a1.8 1.8 0 1 0 -3.6 0M880.1 263.8a1.8 1.8 0 1 0 3.6 0a1.8 1.8 0 1 0 -3.6 0M887.3 244.5a1.8 1.8 0 1 0 3.6 0a1.8 1.8 0 1 0 -3.6 0M808.5 254.1a1.8 1.8 0 1 0 3.6 0a1.8 1.8 0 1 0 -3.6 0M760.4 263.6a1.8 1.8 0 1 0 3.6 0a1.8 1.8 0 1 0 -3.6 0M770.9 267.6a1.8 1.8 0 1 0 3.6 0a1.8 1.8 0 1 0 -3.6 0M747.1 259.3a1.8 1.8 0 1 0 3.6 0a1.8 1.8 0 1 0 -3.6 0M878.2 268.9a1.8 1.8 0 1 0 3.6 0a1.8 1.8 0 1 0 -3.6 0M830.2 256.2a1.8 1.8 0 1 0 3.6 0a1.8 1.8 0 1 0 -3.6 0M835.7 260.7a1.8 1.8 0 1 0 3.6 0a1.8 1.8 0 1 0 -3.6 0M765.6 255.9a1.8 1.8 0 1 0 3.6 0a1.8 1.8 0 1 0 -3.6 0M856.1 253.1a1.8 1.8 0 1 0 3.6 0a1.8 1.8 0 1 0 -3.6 0M767.4 256.3a1.8 1.8 0 1 0 3.6 0a1.8 1.8 0 1 0 -3.6 0M857.5 256.5a1.8 1.8 0 1 0 3.6 0a1.8 1.8 0 1 0 -3.6 0M864.5 256.8a1.8 1.8 0 1 0 3.6 0a1.8 1.8 0 1 0 -3.6 0M787.3 255.6a1.8 1.8 0 1 0 3.6 0a1.8 1.8 0 1 0 -3.6 0M796.4 251.2a1.8 1.8 0 1 0 3.6 0a1.8 1.8 0 1 0 -3.6 0M836.2 258.4a1.8 1.8 0 1 0 3.6 0a1.8 1.8 0 1 0 -3.6 0M741.4 251.5a1.8 1.8 0 1 0 3.6 0a1.8 1.8 0 1 0 -3.6 0" fill="none" stroke="#ef8a9a" stroke-width="0.9"/>
<path d="M813.8 270.4a1.8 1.8 0 1 0 3.6 0a1.8 1.8 0 1 0 -3.6 0M785.8 245a1.8 1.8 0 1 0 3.6 0a1.8 1.8 0 1 0 -3.6 0M738.7 252.8a1.8 1.8 0 1 0 3.6 0a1.8 1.8 0 1 0 -3.6 0M738 252.2a1.8 1.8 0 1 0 3.6 0a1.8 1.8 0 1 0 -3.6 0M873 251.9a1.8 1.8 0 1 0 3.6 0a1.8 1.8 0 1 0 -3.6 0M868.3 261.7a1.8 1.8 0 1 0 3.6 0a1.8 1.8 0 1 0 -3.6 0M769.9 245.2a1.8 1.8 0 1 0 3.6 0a1.8 1.8 0 1 0 -3.6 0M757.8 257.8a1.8 1.8 0 1 0 3.6 0a1.8 1.8 0 1 0 -3.6 0M798.3 259.4a1.8 1.8 0 1 0 3.6 0a1.8 1.8 0 1 0 -3.6 0M751.7 251.7a1.8 1.8 0 1 0 3.6 0a1.8 1.8 0 1 0 -3.6 0M861.2 252.2a1.8 1.8 0 1 0 3.6 0a1.8 1.8 0 1 0 -3.6 0M896.6 258.4a1.8 1.8 0 1 0 3.6 0a1.8 1.8 0 1 0 -3.6 0M865.6 264.6a1.8 1.8 0 1 0 3.6 0a1.8 1.8 0 1 0 -3.6 0M887.3 245.9a1.8 1.8 0 1 0 3.6 0a1.8 1.8 0 1 0 -3.6 0M755.5 257.5a1.8 1.8 0 1 0 3.6 0a1.8 1.8 0 1 0 -3.6 0M790.3 245.3a1.8 1.8 0 1 0 3.6 0a1.8 1.8 0 1 0 -3.6 0M847.7 264.9a1.8 1.8 0 1 0 3.6 0a1.8 1.8 0 1 0 -3.6 0M738 260.5a1.8 1.8 0 1 0 3.6 0a1.8 1.8 0 1 0 -3.6 0M806.6 250.4a1.8 1.8 0 1 0 3.6 0a1.8 1.8 0 1 0 -3.6 0M894.9 252.1a1.8 1.8 0 1 0 3.6 0a1.8 1.8 0 1 0 -3.6 0M822.8 249.6a1.8 1.8 0 1 0 3.6 0a1.8 1.8 0 1 0 -3.6 0M868.1 254.3a1.8 1.8 0 1 0 3.6 0a1.8 1.8 0 1 0 -3.6 0M894.1 253a1.8 1.8 0 1 0 3.6 0a1.8 1.8 0 1 0 -3.6 0M827.7 261.8a1.8 1.8 0 1 0 3.6 0a1.8 1.8 0 1 0 -3.6 0M890.8 266.1a1.8 1.8 0 1 0 3.6 0a1.8 1.8 0 1 0 -3.6 0M898.6 256.9a1.8 1.8 0 1 0 3.6 0a1.8 1.8 0 1 0 -3.6 0M835.6 260.1a1.8 1.8 0 1 0 3.6 0a1.8 1.8 0 1 0 -3.6 0M824.8 256.8a1.8 1.8 0 1 0 3.6 0a1.8 1.8 0 1 0 -3.6 0M896 270.9a1.8 1.8 0 1 0 3.6 0a1.8 1.8 0 1 0 -3.6 0M782.4 251.8a1.8 1.8 0 1 0 3.6 0a1.8 1.8 0 1 0 -3.6 0M820.8 263.7a1.8 1.8 0 1 0 3.6 0a1.8 1.8 0 1 0 -3.6 0M843.2 257.9a1.8 1.8 0 1 0 3.6 0a1.8 1.8 0 1 0 -3.6 0M888.8 253.7a1.8 1.8 0 1 0 3.6 0a1.8 1.8 0 1 0 -3.6 0M752.8 253.5a1.8 1.8 0 1 0 3.6 0a1.8 1.8 0 1 0 -3.6 0M874 234.8a1.8 1.8 0 1 0 3.6 0a1.8 1.8 0 1 0 -3.6 0M891.6 253.7a1.8 1.8 0 1 0 3.6 0a1.8 1.8 0 1 0 -3.6 0M752.5 239.9a1.8 1.8 0 1 0 3.6 0a1.8 1.8 0 1 0 -3.6 0M792.3 263.9a1.8 1.8 0 1 0 3.6 0a1.8 1.8 0 1 0 -3.6 0M864 253.5a1.8 1.8 0 1 0 3.6 0a1.8 1.8 0 1 0 -3.6 0M827.7 248.8a1.8 1.8 0 1 0 3.6 0a1.8 1.8 0 1 0 -3.6 0M841.1 240.1a1.8 1.8 0 1 0 3.6 0a1.8 1.8 0 1 0 -3.6 0M785 249.7a1.8 1.8 0 1 0 3.6 0a1.8 1.8 0 1 0 -3.6 0M809.9 261.8a1.8 1.8 0 1 0 3.6 0a1.8 1.8 0 1 0 -3.6 0M757.5 265.4a1.8 1.8 0 1 0 3.6 0a1.8 1.8 0 1 0 -3.6 0M759 247.2a1.8 1.8 0 1 0 3.6 0a1.8 1.8 0 1 0 -3.6 0M749.6 248a1.8 1.8 0 1 0 3.6 0a1.8 1.8 0 1 0 -3.6 0M876.2 251.3a1.8 1.8 0 1 0 3.6 0a1.8 1.8 0 1 0 -3.6 0M791.5 260.9a1.8 1.8 0 1 0 3.6 0a1.8 1.8 0 1 0 -3.6 0M804.1 257.1a1.8 1.8 0 1 0 3.6 0a1.8 1.8 0 1 0 -3.6 0M872.9 256.2a1.8 1.8 0 1 0 3.6 0a1.8 1.8 0 1 0 -3.6 0M848 258.2a1.8 1.8 0 1 0 3.6 0a1.8 1.8 0 1 0 -3.6 0M851.6 254.1a1.8 1.8 0 1 0 3.6 0a1.8 1.8 0 1 0 -3.6 0M893.3 258.3a1.8 1.8 0 1 0 3.6 0a1.8 1.8 0 1 0 -3.6 0M823.5 244.8a1.8 1.8 0 1 0 3.6 0a1.8 1.8 0 1 0 -3.6 0M873.8 253.6a1.8 1.8 0 1 0 3.6 0a1.8 1.8 0 1 0 -3.6 0M889.4 245.2a1.8 1.8 0 1 0 3.6 0a1.8 1.8 0 1 0 -3.6 0M796.5 262.1a1.8 1.8 0 1 0 3.6 0a1.8 1.8 0 1 0 -3.6 0M807.7 253.1a1.8 1.8 0 1 0 3.6 0a1.8 1.8 0 1 0 -3.6 0M790.4 255.1a1.8 1.8 0 1 0 3.6 0a1.8 1.8 0 1 0 -3.6 0M854.2 250.3a1.8 1.8 0 1 0 3.6 0a1.8 1.8 0 1 0 -3.6 0M754.9 257.8a1.8 1.8 0 1 0 3.6 0a1.8 1.8 0 1 0 -3.6 0M877.2 260.5a1.8 1.8 0 1 0 3.6 0a1.8 1.8 0 1 0 -3.6 0M849.4 255.1a1.8 1.8 0 1 0 3.6 0a1.8 1.8 0 1 0 -3.6 0M805.4 266.6a1.8 1.8 0 1 0 3.6 0a1.8 1.8 0 1 0 -3.6 0M866.3 255.7a1.8 1.8 0 1 0 3.6 0a1.8 1.8 0 1 0 -3.6 0M778.1 252.9a1.8 1.8 0 1 0 3.6 0a1.8 1.8 0 1 0 -3.6 0M903.2 260a1.8 1.8 0 1 0 3.6 0a1.8 1.8 0 1 0 -3.6 0M746.9 245.7a1.8 1.8 0 1 0 3.6 0a1.8 1.8 0 1 0 -3.6 0M789 255.3a1.8 1.8 0 1 0 3.6 0a1.8 1.8 0 1 0 -3.6 0M793.7 248.6a1.8 1.8 0 1 0 3.6 0a1.8 1.8 0 1 0 -3.6 0M737.3 263.1a1.8 1.8 0 1 0 3.6 0a1.8 1.8 0 1 0 -3.6 0M838.1 255.3a1.8 1.8 0 1 0 3.6 0a1.8 1.8 0 1 0 -3.6 0M776.5 259.1a1.8 1.8 0 1 0 3.6 0a1.8 1.8 0 1 0 -3.6 0M776.6 244.7a1.8 1.8 0 1 0 3.6 0a1.8 1.8 0 1 0 -3.6 0M739.2 263.2a1.8 1.8 0 1 0 3.6 0a1.8 1.8 0 1 0 -3.6 0M863 253.5a1.8 1.8 0 1 0 3.6 0a1.8 1.8 0 1 0 -3.6 0M760.4 260.3a1.8 1.8 0 1 0 3.6 0a1.8 1.8 0 1 0 -3.6 0M742.9 261a1.8 1.8 0 1 0 3.6 0a1.8 1.8 0 1 0 -3.6 0M874.3 252.1a1.8 1.8 0 1 0 3.6 0a1.8 1.8 0 1 0 -3.6 0M817.3 248.1a1.8 1.8 0 1 0 3.6 0a1.8 1.8 0 1 0 -3.6 0M828.9 268.2a1.8 1.8 0 1 0 3.6 0a1.8 1.8 0 1 0 -3.6 0M880.2 256.5a1.8 1.8 0 1 0 3.6 0a1.8 1.8 0 1 0 -3.6 0M776.4 257.8a1.8 1.8 0 1 0 3.6 0a1.8 1.8 0 1 0 -3.6 0M756.7 258a1.8 1.8 0 1 0 3.6 0a1.8 1.8 0 1 0 -3.6 0M746.4 260.4a1.8 1.8 0 1 0 3.6 0a1.8 1.8 0 1 0 -3.6 0M777.3 250.5a1.8 1.8 0 1 0 3.6 0a1.8 1.8 0 1 0 -3.6 0M874.3 252.2a1.8 1.8 0 1 0 3.6 0a1.8 1.8 0 1 0 -3.6 0M893.2 264.2a1.8 1.8 0 1 0 3.6 0a1.8 1.8 0 1 0 -3.6 0M745.5 264a1.8 1.8 0 1 0 3.6 0a1.8 1.8 0 1 0 -3.6 0M807.5 257.9a1.8 1.8 0 1 0 3.6 0a1.8 1.8 0 1 0 -3.6 0M801.7 242.9a1.8 1.8 0 1 0 3.6 0a1.8 1.8 0 1 0 -3.6 0M821.2 249.5a1.8 1.8 0 1 0 3.6 0a1.8 1.8 0 1 0 -3.6 0" fill="none" stroke="#f0c070" stroke-width="0.9"/>
<path d="M813.7 261.5a1.8 1.8 0 1 0 3.6 0a1.8 1.8 0 1 0 -3.6 0M768.7 253.1a1.8 1.8 0 1 0 3.6 0a1.8 1.8 0 1 0 -3.6 0M845.1 249a1.8 1.8 0 1 0 3.6 0a1.8 1.8 0 1 0 -3.6 0M904.8 245.9a1.8 1.8 0 1 0 3.6 0a1.8 1.8 0 1 0 -3.6 0M847.8 258a1.8 1.8 0 1 0 3.6 0a1.8 1.8 0 1 0 -3.6 0M887.2 256.2a1.8 1.8 0 1 0 3.6 0a1.8 1.8 0 1 0 -3.6 0M783.9 255.7a1.8 1.8 0 1 0 3.6 0a1.8 1.8 0 1 0 -3.6 0M866.3 264.9a1.8 1.8 0 1 0 3.6 0a1.8 1.8 0 1 0 -3.6 0M736.2 243.3a1.8 1.8 0 1 0 3.6 0a1.8 1.8 0 1 0 -3.6 0M906.1 254.5a1.8 1.8 0 1 0 3.6 0a1.8 1.8 0 1 0 -3.6 0M777.9 253.6a1.8 1.8 0 1 0 3.6 0a1.8 1.8 0 1 0 -3.6 0M799.4 258.4a1.8 1.8 0 1 0 3.6 0a1.8 1.8 0 1 0 -3.6 0M819.2 258.3a1.8 1.8 0 1 0 3.6 0a1.8 1.8 0 1 0 -3.6 0M892.2 249.4a1.8 1.8 0 1 0 3.6 0a1.8 1.8 0 1 0 -3.6 0M779 251.5a1.8 1.8 0 1 0 3.6 0a1.8 1.8 0 1 0 -3.6 0M754.8 260.2a1.8 1.8 0 1 0 3.6 0a1.8 1.8 0 1 0 -3.6 0M808.4 244.9a1.8 1.8 0 1 0 3.6 0a1.8 1.8 0 1 0 -3.6 0M904.6 261.6a1.8 1.8 0 1 0 3.6 0a1.8 1.8 0 1 0 -3.6 0M898.8 264.6a1.8 1.8 0 1 0 3.6 0a1.8 1.8 0 1 0 -3.6 0M884.5 249.3a1.8 1.8 0 1 0 3.6 0a1.8 1.8 0 1 0 -3.6 0M890.1 258.4a1.8 1.8 0 1 0 3.6 0a1.8 1.8 0 1 0 -3.6 0M828.8 254.6a1.8 1.8 0 1 0 3.6 0a1.8 1.8 0 1 0 -3.6 0M761.7 270a1.8 1.8 0 1 0 3.6 0a1.8 1.8 0 1 0 -3.6 0M878.9 259.6a1.8 1.8 0 1 0 3.6 0a1.8 1.8 0 1 0 -3.6 0M881 257.3a1.8 1.8 0 1 0 3.6 0a1.8 1.8 0 1 0 -3.6 0M780.2 264a1.8 1.8 0 1 0 3.6 0a1.8 1.8 0 1 0 -3.6 0M778.1 263.9a1.8 1.8 0 1 0 3.6 0a1.8 1.8 0 1 0 -3.6 0M757.2 255.7a1.8 1.8 0 1 0 3.6 0a1.8 1.8 0 1 0 -3.6 0M884.5 256.5a1.8 1.8 0 1 0 3.6 0a1.8 1.8 0 1 0 -3.6 0M845.8 269.1a1.8 1.8 0 1 0 3.6 0a1.8 1.8 0 1 0 -3.6 0M755.9 258.5a1.8 1.8 0 1 0 3.6 0a1.8 1.8 0 1 0 -3.6 0M754.4 247.2a1.8 1.8 0 1 0 3.6 0a1.8 1.8 0 1 0 -3.6 0M897.5 249a1.8 1.8 0 1 0 3.6 0a1.8 1.8 0 1 0 -3.6 0M867 255.7a1.8 1.8 0 1 0 3.6 0a1.8 1.8 0 1 0 -3.6 0M812.3 263.3a1.8 1.8 0 1 0 3.6 0a1.8 1.8 0 1 0 -3.6 0M891.7 263.6a1.8 1.8 0 1 0 3.6 0a1.8 1.8 0 1 0 -3.6 0M845.7 254.7a1.8 1.8 0 1 0 3.6 0a1.8 1.8 0 1 0 -3.6 0M883.1 258.3a1.8 1.8 0 1 0 3.6 0a1.8 1.8 0 1 0 -3.6 0M836.1 266.3a1.8 1.8 0 1 0 3.6 0a1.8 1.8 0 1 0 -3.6 0M753.7 254.1a1.8 1.8 0 1 0 3.6 0a1.8 1.8 0 1 0 -3.6 0M875.1 264.9a1.8 1.8 0 1 0 3.6 0a1.8 1.8 0 1 0 -3.6 0M878 251.7a1.8 1.8 0 1 0 3.6 0a1.8 1.8 0 1 0 -3.6 0M892.6 258.5a1.8 1.8 0 1 0 3.6 0a1.8 1.8 0 1 0 -3.6 0M829 262.4a1.8 1.8 0 1 0 3.6 0a1.8 1.8 0 1 0 -3.6 0M820.1 260a1.8 1.8 0 1 0 3.6 0a1.8 1.8 0 1 0 -3.6 0M820 254.8a1.8 1.8 0 1 0 3.6 0a1.8 1.8 0 1 0 -3.6 0M888.8 246.2a1.8 1.8 0 1 0 3.6 0a1.8 1.8 0 1 0 -3.6 0M803 252.8a1.8 1.8 0 1 0 3.6 0a1.8 1.8 0 1 0 -3.6 0M773.5 254.7a1.8 1.8 0 1 0 3.6 0a1.8 1.8 0 1 0 -3.6 0M843.8 251.6a1.8 1.8 0 1 0 3.6 0a1.8 1.8 0 1 0 -3.6 0M761 260.8a1.8 1.8 0 1 0 3.6 0a1.8 1.8 0 1 0 -3.6 0M758.6 256.3a1.8 1.8 0 1 0 3.6 0a1.8 1.8 0 1 0 -3.6 0M771.9 257.3a1.8 1.8 0 1 0 3.6 0a1.8 1.8 0 1 0 -3.6 0M771.6 255.5a1.8 1.8 0 1 0 3.6 0a1.8 1.8 0 1 0 -3.6 0M812.9 258.1a1.8 1.8 0 1 0 3.6 0a1.8 1.8 0 1 0 -3.6 0M879.9 251.6a1.8 1.8 0 1 0 3.6 0a1.8 1.8 0 1 0 -3.6 0M849.5 274.5a1.8 1.8 0 1 0 3.6 0a1.8 1.8 0 1 0 -3.6 0M877.9 249.8a1.8 1.8 0 1 0 3.6 0a1.8 1.8 0 1 0 -3.6 0M905.6 256.5a1.8 1.8 0 1 0 3.6 0a1.8 1.8 0 1 0 -3.6 0M907.6 260.1a1.8 1.8 0 1 0 3.6 0a1.8 1.8 0 1 0 -3.6 0M813.8 256.4a1.8 1.8 0 1 0 3.6 0a1.8 1.8 0 1 0 -3.6 0M829.5 260.8a1.8 1.8 0 1 0 3.6 0a1.8 1.8 0 1 0 -3.6 0M763.3 257.3a1.8 1.8 0 1 0 3.6 0a1.8 1.8 0 1 0 -3.6 0M802.5 254.8a1.8 1.8 0 1 0 3.6 0a1.8 1.8 0 1 0 -3.6 0M839.2 262.8a1.8 1.8 0 1 0 3.6 0a1.8 1.8 0 1 0 -3.6 0M893 254.4a1.8 1.8 0 1 0 3.6 0a1.8 1.8 0 1 0 -3.6 0M806.4 264a1.8 1.8 0 1 0 3.6 0a1.8 1.8 0 1 0 -3.6 0M792.9 252.1a1.8 1.8 0 1 0 3.6 0a1.8 1.8 0 1 0 -3.6 0M787 259.2a1.8 1.8 0 1 0 3.6 0a1.8 1.8 0 1 0 -3.6 0M799.5 255.8a1.8 1.8 0 1 0 3.6 0a1.8 1.8 0 1 0 -3.6 0M887.7 248.6a1.8 1.8 0 1 0 3.6 0a1.8 1.8 0 1 0 -3.6 0M874.2 259.2a1.8 1.8 0 1 0 3.6 0a1.8 1.8 0 1 0 -3.6 0M784.1 256.1a1.8 1.8 0 1 0 3.6 0a1.8 1.8 0 1 0 -3.6 0M843 259.6a1.8 1.8 0 1 0 3.6 0a1.8 1.8 0 1 0 -3.6 0M824.9 248.5a1.8 1.8 0 1 0 3.6 0a1.8 1.8 0 1 0 -3.6 0M742.2 263.3a1.8 1.8 0 1 0 3.6 0a1.8 1.8 0 1 0 -3.6 0M792 253.3a1.8 1.8 0 1 0 3.6 0a1.8 1.8 0 1 0 -3.6 0M748.6 248.2a1.8 1.8 0 1 0 3.6 0a1.8 1.8 0 1 0 -3.6 0M855.6 251a1.8 1.8 0 1 0 3.6 0a1.8 1.8 0 1 0 -3.6 0M751.3 267.4a1.8 1.8 0 1 0 3.6 0a1.8 1.8 0 1 0 -3.6 0M849.3 251.7a1.8 1.8 0 1 0 3.6 0a1.8 1.8 0 1 0 -3.6 0M902.8 248a1.8 1.8 0 1 0 3.6 0a1.8 1.8 0 1 0 -3.6 0M777.4 258.5a1.8 1.8 0 1 0 3.6 0a1.8 1.8 0 1 0 -3.6 0M852.9 259.7a1.8 1.8 0 1 0 3.6 0a1.8 1.8 0 1 0 -3.6 0M836.7 244.4a1.8 1.8 0 1 0 3.6 0a1.8 1.8 0 1 0 -3.6 0M855.5 256.1a1.8 1.8 0 1 0 3.6 0a1.8 1.8 0 1 0 -3.6 0M773.1 258.3a1.8 1.8 0 1 0 3.6 0a1.8 1.8 0 1 0 -3.6 0M842.8 261.9a1.8 1.8 0 1 0 3.6 0a1.8 1.8 0 1 0 -3.6 0M750.4 251.2a1.8 1.8 0 1 0 3.6 0a1.8 1.8 0 1 0 -3.6 0M741.6 258.5a1.8 1.8 0 1 0 3.6 0a1.8 1.8 0 1 0 -3.6 0M855.3 249a1.8 1.8 0 1 0 3.6 0a1.8 1.8 0 1 0 -3.6 0M898 254.4a1.8 1.8 0 1 0 3.6 0a1.8 1.8 0 1 0 -3.6 0M829.4 265.4a1.8 1.8 0 1 0 3.6 0a1.8 1.8 0 1 0 -3.6 0" fill="none" stroke="#f26a7a" stroke-width="0.9"/>
<path d="M872.3 263.2a1.8 1.8 0 1 0 3.6 0a1.8 1.8 0 1 0 -3.6 0M802.5 242.8a1.8 1.8 0 1 0 3.6 0a1.8 1.8 0 1 0 -3.6 0M772.8 259.3a1.8 1.8 0 1 0 3.6 0a1.8 1.8 0 1 0 -3.6 0M816.9 248.8a1.8 1.8 0 1 0 3.6 0a1.8 1.8 0 1 0 -3.6 0M866.3 251.9a1.8 1.8 0 1 0 3.6 0a1.8 1.8 0 1 0 -3.6 0M788.4 269.9a1.8 1.8 0 1 0 3.6 0a1.8 1.8 0 1 0 -3.6 0M835.2 247.3a1.8 1.8 0 1 0 3.6 0a1.8 1.8 0 1 0 -3.6 0M887.7 261.5a1.8 1.8 0 1 0 3.6 0a1.8 1.8 0 1 0 -3.6 0M820.5 271.6a1.8 1.8 0 1 0 3.6 0a1.8 1.8 0 1 0 -3.6 0M784.6 274.1a1.8 1.8 0 1 0 3.6 0a1.8 1.8 0 1 0 -3.6 0M789.7 254a1.8 1.8 0 1 0 3.6 0a1.8 1.8 0 1 0 -3.6 0M817.4 243.6a1.8 1.8 0 1 0 3.6 0a1.8 1.8 0 1 0 -3.6 0M738.6 259.3a1.8 1.8 0 1 0 3.6 0a1.8 1.8 0 1 0 -3.6 0M840.7 261.5a1.8 1.8 0 1 0 3.6 0a1.8 1.8 0 1 0 -3.6 0M880.1 263a1.8 1.8 0 1 0 3.6 0a1.8 1.8 0 1 0 -3.6 0M825.2 261.7a1.8 1.8 0 1 0 3.6 0a1.8 1.8 0 1 0 -3.6 0M821.4 258a1.8 1.8 0 1 0 3.6 0a1.8 1.8 0 1 0 -3.6 0M791.1 272.4a1.8 1.8 0 1 0 3.6 0a1.8 1.8 0 1 0 -3.6 0M814.3 259.6a1.8 1.8 0 1 0 3.6 0a1.8 1.8 0 1 0 -3.6 0M868.3 257a1.8 1.8 0 1 0 3.6 0a1.8 1.8 0 1 0 -3.6 0M905.2 243.7a1.8 1.8 0 1 0 3.6 0a1.8 1.8 0 1 0 -3.6 0M891.8 255.8a1.8 1.8 0 1 0 3.6 0a1.8 1.8 0 1 0 -3.6 0M806.7 257.1a1.8 1.8 0 1 0 3.6 0a1.8 1.8 0 1 0 -3.6 0M822.6 257.1a1.8 1.8 0 1 0 3.6 0a1.8 1.8 0 1 0 -3.6 0M829.6 252.2a1.8 1.8 0 1 0 3.6 0a1.8 1.8 0 1 0 -3.6 0M854.8 256a1.8 1.8 0 1 0 3.6 0a1.8 1.8 0 1 0 -3.6 0M826.3 243.1a1.8 1.8 0 1 0 3.6 0a1.8 1.8 0 1 0 -3.6 0M856.7 266.4a1.8 1.8 0 1 0 3.6 0a1.8 1.8 0 1 0 -3.6 0M853.8 260.2a1.8 1.8 0 1 0 3.6 0a1.8 1.8 0 1 0 -3.6 0M749.4 249.3a1.8 1.8 0 1 0 3.6 0a1.8 1.8 0 1 0 -3.6 0M752.4 253.2a1.8 1.8 0 1 0 3.6 0a1.8 1.8 0 1 0 -3.6 0M784.1 256.3a1.8 1.8 0 1 0 3.6 0a1.8 1.8 0 1 0 -3.6 0M767.9 254a1.8 1.8 0 1 0 3.6 0a1.8 1.8 0 1 0 -3.6 0M824.5 260.6a1.8 1.8 0 1 0 3.6 0a1.8 1.8 0 1 0 -3.6 0M744.8 253.5a1.8 1.8 0 1 0 3.6 0a1.8 1.8 0 1 0 -3.6 0M833.7 258.3a1.8 1.8 0 1 0 3.6 0a1.8 1.8 0 1 0 -3.6 0M850.9 258.3a1.8 1.8 0 1 0 3.6 0a1.8 1.8 0 1 0 -3.6 0M864.7 262.7a1.8 1.8 0 1 0 3.6 0a1.8 1.8 0 1 0 -3.6 0M779.2 255.7a1.8 1.8 0 1 0 3.6 0a1.8 1.8 0 1 0 -3.6 0M839.8 241.9a1.8 1.8 0 1 0 3.6 0a1.8 1.8 0 1 0 -3.6 0M744.8 258.8a1.8 1.8 0 1 0 3.6 0a1.8 1.8 0 1 0 -3.6 0M899.8 256.3a1.8 1.8 0 1 0 3.6 0a1.8 1.8 0 1 0 -3.6 0M742.9 259.5a1.8 1.8 0 1 0 3.6 0a1.8 1.8 0 1 0 -3.6 0M737.7 255.8a1.8 1.8 0 1 0 3.6 0a1.8 1.8 0 1 0 -3.6 0M773.7 259.2a1.8 1.8 0 1 0 3.6 0a1.8 1.8 0 1 0 -3.6 0M824.7 264.4a1.8 1.8 0 1 0 3.6 0a1.8 1.8 0 1 0 -3.6 0M747.1 267.5a1.8 1.8 0 1 0 3.6 0a1.8 1.8 0 1 0 -3.6 0M848.4 257.5a1.8 1.8 0 1 0 3.6 0a1.8 1.8 0 1 0 -3.6 0M866.2 249.3a1.8 1.8 0 1 0 3.6 0a1.8 1.8 0 1 0 -3.6 0M874.6 256.3a1.8 1.8 0 1 0 3.6 0a1.8 1.8 0 1 0 -3.6 0M798.3 258.4a1.8 1.8 0 1 0 3.6 0a1.8 1.8 0 1 0 -3.6 0M847.4 255a1.8 1.8 0 1 0 3.6 0a1.8 1.8 0 1 0 -3.6 0M865.5 260.1a1.8 1.8 0 1 0 3.6 0a1.8 1.8 0 1 0 -3.6 0M836.5 254.2a1.8 1.8 0 1 0 3.6 0a1.8 1.8 0 1 0 -3.6 0M849.5 241.3a1.8 1.8 0 1 0 3.6 0a1.8 1.8 0 1 0 -3.6 0M903.8 252.4a1.8 1.8 0 1 0 3.6 0a1.8 1.8 0 1 0 -3.6 0M877.3 251.5a1.8 1.8 0 1 0 3.6 0a1.8 1.8 0 1 0 -3.6 0M855.3 261.4a1.8 1.8 0 1 0 3.6 0a1.8 1.8 0 1 0 -3.6 0M747.6 248.4a1.8 1.8 0 1 0 3.6 0a1.8 1.8 0 1 0 -3.6 0M864.4 251.5a1.8 1.8 0 1 0 3.6 0a1.8 1.8 0 1 0 -3.6 0M844.4 253.8a1.8 1.8 0 1 0 3.6 0a1.8 1.8 0 1 0 -3.6 0M857 254.3a1.8 1.8 0 1 0 3.6 0a1.8 1.8 0 1 0 -3.6 0M810.6 254.7a1.8 1.8 0 1 0 3.6 0a1.8 1.8 0 1 0 -3.6 0M847.9 251.3a1.8 1.8 0 1 0 3.6 0a1.8 1.8 0 1 0 -3.6 0M815.7 248.1a1.8 1.8 0 1 0 3.6 0a1.8 1.8 0 1 0 -3.6 0M838.8 261.6a1.8 1.8 0 1 0 3.6 0a1.8 1.8 0 1 0 -3.6 0M874.2 261.1a1.8 1.8 0 1 0 3.6 0a1.8 1.8 0 1 0 -3.6 0M810.4 250.7a1.8 1.8 0 1 0 3.6 0a1.8 1.8 0 1 0 -3.6 0M887.7 265.1a1.8 1.8 0 1 0 3.6 0a1.8 1.8 0 1 0 -3.6 0M808.5 260.4a1.8 1.8 0 1 0 3.6 0a1.8 1.8 0 1 0 -3.6 0M891.3 245.7a1.8 1.8 0 1 0 3.6 0a1.8 1.8 0 1 0 -3.6 0M890.6 243.3a1.8 1.8 0 1 0 3.6 0a1.8 1.8 0 1 0 -3.6 0M769 254.1a1.8 1.8 0 1 0 3.6 0a1.8 1.8 0 1 0 -3.6 0M807.4 249.1a1.8 1.8 0 1 0 3.6 0a1.8 1.8 0 1 0 -3.6 0M846 251.2a1.8 1.8 0 1 0 3.6 0a1.8 1.8 0 1 0 -3.6 0M815.6 242a1.8 1.8 0 1 0 3.6 0a1.8 1.8 0 1 0 -3.6 0M827.3 248.6a1.8 1.8 0 1 0 3.6 0a1.8 1.8 0 1 0 -3.6 0M874.1 260.2a1.8 1.8 0 1 0 3.6 0a1.8 1.8 0 1 0 -3.6 0M741.1 254.8a1.8 1.8 0 1 0 3.6 0a1.8 1.8 0 1 0 -3.6 0M892.4 259.2a1.8 1.8 0 1 0 3.6 0a1.8 1.8 0 1 0 -3.6 0M860.3 255.6a1.8 1.8 0 1 0 3.6 0a1.8 1.8 0 1 0 -3.6 0M777 252.1a1.8 1.8 0 1 0 3.6 0a1.8 1.8 0 1 0 -3.6 0M864 275.8a1.8 1.8 0 1 0 3.6 0a1.8 1.8 0 1 0 -3.6 0M896.8 252.1a1.8 1.8 0 1 0 3.6 0a1.8 1.8 0 1 0 -3.6 0M756.5 251.3a1.8 1.8 0 1 0 3.6 0a1.8 1.8 0 1 0 -3.6 0M801.6 243.4a1.8 1.8 0 1 0 3.6 0a1.8 1.8 0 1 0 -3.6 0M760.2 249.6a1.8 1.8 0 1 0 3.6 0a1.8 1.8 0 1 0 -3.6 0M748.5 245.2a1.8 1.8 0 1 0 3.6 0a1.8 1.8 0 1 0 -3.6 0" fill="none" stroke="#f47a8a" stroke-width="0.9"/>
<path d="M738.7 258.1a1.8 1.8 0 1 0 3.6 0a1.8 1.8 0 1 0 -3.6 0M741.3 263a1.8 1.8 0 1 0 3.6 0a1.8 1.8 0 1 0 -3.6 0M833.4 256.6a1.8 1.8 0 1 0 3.6 0a1.8 1.8 0 1 0 -3.6 0M808.4 252.4a1.8 1.8 0 1 0 3.6 0a1.8 1.8 0 1 0 -3.6 0M772.6 263.4a1.8 1.8 0 1 0 3.6 0a1.8 1.8 0 1 0 -3.6 0M864.8 249.3a1.8 1.8 0 1 0 3.6 0a1.8 1.8 0 1 0 -3.6 0M746.5 252.7a1.8 1.8 0 1 0 3.6 0a1.8 1.8 0 1 0 -3.6 0M789.6 261.8a1.8 1.8 0 1 0 3.6 0a1.8 1.8 0 1 0 -3.6 0M818.7 256.3a1.8 1.8 0 1 0 3.6 0a1.8 1.8 0 1 0 -3.6 0M770.9 252.9a1.8 1.8 0 1 0 3.6 0a1.8 1.8 0 1 0 -3.6 0M805.6 255.8a1.8 1.8 0 1 0 3.6 0a1.8 1.8 0 1 0 -3.6 0M773.8 251.6a1.8 1.8 0 1 0 3.6 0a1.8 1.8 0 1 0 -3.6 0M858.3 250.4a1.8 1.8 0 1 0 3.6 0a1.8 1.8 0 1 0 -3.6 0M873.5 242.1a1.8 1.8 0 1 0 3.6 0a1.8 1.8 0 1 0 -3.6 0M771.9 271a1.8 1.8 0 1 0 3.6 0a1.8 1.8 0 1 0 -3.6 0M902.5 264.7a1.8 1.8 0 1 0 3.6 0a1.8 1.8 0 1 0 -3.6 0M769 267.4a1.8 1.8 0 1 0 3.6 0a1.8 1.8 0 1 0 -3.6 0M807.1 259.8a1.8 1.8 0 1 0 3.6 0a1.8 1.8 0 1 0 -3.6 0M836.9 258.3a1.8 1.8 0 1 0 3.6 0a1.8 1.8 0 1 0 -3.6 0M776.1 256.5a1.8 1.8 0 1 0 3.6 0a1.8 1.8 0 1 0 -3.6 0M889.1 251.6a1.8 1.8 0 1 0 3.6 0a1.8 1.8 0 1 0 -3.6 0M888.6 244.4a1.8 1.8 0 1 0 3.6 0a1.8 1.8 0 1 0 -3.6 0M845.1 269.7a1.8 1.8 0 1 0 3.6 0a1.8 1.8 0 1 0 -3.6 0M761.3 253.9a1.8 1.8 0 1 0 3.6 0a1.8 1.8 0 1 0 -3.6 0M738.4 259.8a1.8 1.8 0 1 0 3.6 0a1.8 1.8 0 1 0 -3.6 0M863.1 259.5a1.8 1.8 0 1 0 3.6 0a1.8 1.8 0 1 0 -3.6 0M887.3 259.8a1.8 1.8 0 1 0 3.6 0a1.8 1.8 0 1 0 -3.6 0M787.5 254.3a1.8 1.8 0 1 0 3.6 0a1.8 1.8 0 1 0 -3.6 0M802.5 249.4a1.8 1.8 0 1 0 3.6 0a1.8 1.8 0 1 0 -3.6 0M850.1 255.8a1.8 1.8 0 1 0 3.6 0a1.8 1.8 0 1 0 -3.6 0M836.1 256.8a1.8 1.8 0 1 0 3.6 0a1.8 1.8 0 1 0 -3.6 0M892.4 244.9a1.8 1.8 0 1 0 3.6 0a1.8 1.8 0 1 0 -3.6 0M797.4 254a1.8 1.8 0 1 0 3.6 0a1.8 1.8 0 1 0 -3.6 0M876.1 249.9a1.8 1.8 0 1 0 3.6 0a1.8 1.8 0 1 0 -3.6 0M833.2 264a1.8 1.8 0 1 0 3.6 0a1.8 1.8 0 1 0 -3.6 0M768.7 261.1a1.8 1.8 0 1 0 3.6 0a1.8 1.8 0 1 0 -3.6 0M783.9 255.2a1.8 1.8 0 1 0 3.6 0a1.8 1.8 0 1 0 -3.6 0M780.4 263.2a1.8 1.8 0 1 0 3.6 0a1.8 1.8 0 1 0 -3.6 0M787.5 255.3a1.8 1.8 0 1 0 3.6 0a1.8 1.8 0 1 0 -3.6 0M792.5 245.2a1.8 1.8 0 1 0 3.6 0a1.8 1.8 0 1 0 -3.6 0M889.8 237.8a1.8 1.8 0 1 0 3.6 0a1.8 1.8 0 1 0 -3.6 0M875.6 245.3a1.8 1.8 0 1 0 3.6 0a1.8 1.8 0 1 0 -3.6 0M864.2 258.8a1.8 1.8 0 1 0 3.6 0a1.8 1.8 0 1 0 -3.6 0M873.9 262.1a1.8 1.8 0 1 0 3.6 0a1.8 1.8 0 1 0 -3.6 0M778.3 252.3a1.8 1.8 0 1 0 3.6 0a1.8 1.8 0 1 0 -3.6 0M906.4 258.7a1.8 1.8 0 1 0 3.6 0a1.8 1.8 0 1 0 -3.6 0M819 255.4a1.8 1.8 0 1 0 3.6 0a1.8 1.8 0 1 0 -3.6 0M849.1 267.3a1.8 1.8 0 1 0 3.6 0a1.8 1.8 0 1 0 -3.6 0M828 265.4a1.8 1.8 0 1 0 3.6 0a1.8 1.8 0 1 0 -3.6 0M834.4 253.7a1.8 1.8 0 1 0 3.6 0a1.8 1.8 0 1 0 -3.6 0M739.4 262.9a1.8 1.8 0 1 0 3.6 0a1.8 1.8 0 1 0 -3.6 0M865.8 258.5a1.8 1.8 0 1 0 3.6 0a1.8 1.8 0 1 0 -3.6 0M794.8 248.7a1.8 1.8 0 1 0 3.6 0a1.8 1.8 0 1 0 -3.6 0M847.3 270a1.8 1.8 0 1 0 3.6 0a1.8 1.8 0 1 0 -3.6 0M805 261.8a1.8 1.8 0 1 0 3.6 0a1.8 1.8 0 1 0 -3.6 0M841.3 264.8a1.8 1.8 0 1 0 3.6 0a1.8 1.8 0 1 0 -3.6 0M777.5 267.5a1.8 1.8 0 1 0 3.6 0a1.8 1.8 0 1 0 -3.6 0M805.8 257.7a1.8 1.8 0 1 0 3.6 0a1.8 1.8 0 1 0 -3.6 0M745.3 253.4a1.8 1.8 0 1 0 3.6 0a1.8 1.8 0 1 0 -3.6 0M849 256.6a1.8 1.8 0 1 0 3.6 0a1.8 1.8 0 1 0 -3.6 0M740.2 255.7a1.8 1.8 0 1 0 3.6 0a1.8 1.8 0 1 0 -3.6 0M760.7 253.7a1.8 1.8 0 1 0 3.6 0a1.8 1.8 0 1 0 -3.6 0M765.6 239.2a1.8 1.8 0 1 0 3.6 0a1.8 1.8 0 1 0 -3.6 0M827.7 271.4a1.8 1.8 0 1 0 3.6 0a1.8 1.8 0 1 0 -3.6 0M901.3 256.8a1.8 1.8 0 1 0 3.6 0a1.8 1.8 0 1 0 -3.6 0M858.2 243.7a1.8 1.8 0 1 0 3.6 0a1.8 1.8 0 1 0 -3.6 0M890 253.7a1.8 1.8 0 1 0 3.6 0a1.8 1.8 0 1 0 -3.6 0M764.4 251.3a1.8 1.8 0 1 0 3.6 0a1.8 1.8 0 1 0 -3.6 0M802.2 248.4a1.8 1.8 0 1 0 3.6 0a1.8 1.8 0 1 0 -3.6 0M899.6 270.6a1.8 1.8 0 1 0 3.6 0a1.8 1.8 0 1 0 -3.6 0M902.9 248.6a1.8 1.8 0 1 0 3.6 0a1.8 1.8 0 1 0 -3.6 0M905.5 253.6a1.8 1.8 0 1 0 3.6 0a1.8 1.8 0 1 0 -3.6 0M789.2 240.9a1.8 1.8 0 1 0 3.6 0a1.8 1.8 0 1 0 -3.6 0M894.8 249.7a1.8 1.8 0 1 0 3.6 0a1.8 1.8 0 1 0 -3.6 0M906.8 261.7a1.8 1.8 0 1 0 3.6 0a1.8 1.8 0 1 0 -3.6 0M759.7 251.8a1.8 1.8 0 1 0 3.6 0a1.8 1.8 0 1 0 -3.6 0M803.8 255.6a1.8 1.8 0 1 0 3.6 0a1.8 1.8 0 1 0 -3.6 0M824.4 253.8a1.8 1.8 0 1 0 3.6 0a1.8 1.8 0 1 0 -3.6 0M800.9 244.6a1.8 1.8 0 1 0 3.6 0a1.8 1.8 0 1 0 -3.6 0M879.5 263.2a1.8 1.8 0 1 0 3.6 0a1.8 1.8 0 1 0 -3.6 0M774.9 257.4a1.8 1.8 0 1 0 3.6 0a1.8 1.8 0 1 0 -3.6 0M856.9 251.6a1.8 1.8 0 1 0 3.6 0a1.8 1.8 0 1 0 -3.6 0M763.4 262.2a1.8 1.8 0 1 0 3.6 0a1.8 1.8 0 1 0 -3.6 0M876.2 261.4a1.8 1.8 0 1 0 3.6 0a1.8 1.8 0 1 0 -3.6 0" fill="none" stroke="#f59a8a" stroke-width="0.9"/>
<path d="M907.2 249.9a1.8 1.8 0 1 0 3.6 0a1.8 1.8 0 1 0 -3.6 0M754.6 250.7a1.8 1.8 0 1 0 3.6 0a1.8 1.8 0 1 0 -3.6 0M869.9 256.1a1.8 1.8 0 1 0 3.6 0a1.8 1.8 0 1 0 -3.6 0M792.6 250.5a1.8 1.8 0 1 0 3.6 0a1.8 1.8 0 1 0 -3.6 0M759.4 263.1a1.8 1.8 0 1 0 3.6 0a1.8 1.8 0 1 0 -3.6 0M901.5 255a1.8 1.8 0 1 0 3.6 0a1.8 1.8 0 1 0 -3.6 0M832.2 250a1.8 1.8 0 1 0 3.6 0a1.8 1.8 0 1 0 -3.6 0M862.8 243.5a1.8 1.8 0 1 0 3.6 0a1.8 1.8 0 1 0 -3.6 0M894.2 247.9a1.8 1.8 0 1 0 3.6 0a1.8 1.8 0 1 0 -3.6 0M889.3 242.4a1.8 1.8 0 1 0 3.6 0a1.8 1.8 0 1 0 -3.6 0M783.9 263.9a1.8 1.8 0 1 0 3.6 0a1.8 1.8 0 1 0 -3.6 0M834.1 262.3a1.8 1.8 0 1 0 3.6 0a1.8 1.8 0 1 0 -3.6 0M812.8 262.7a1.8 1.8 0 1 0 3.6 0a1.8 1.8 0 1 0 -3.6 0M828 250.9a1.8 1.8 0 1 0 3.6 0a1.8 1.8 0 1 0 -3.6 0M887.2 255.4a1.8 1.8 0 1 0 3.6 0a1.8 1.8 0 1 0 -3.6 0M904.6 252.1a1.8 1.8 0 1 0 3.6 0a1.8 1.8 0 1 0 -3.6 0M883.1 261.7a1.8 1.8 0 1 0 3.6 0a1.8 1.8 0 1 0 -3.6 0M826.6 266.6a1.8 1.8 0 1 0 3.6 0a1.8 1.8 0 1 0 -3.6 0M742.2 255.2a1.8 1.8 0 1 0 3.6 0a1.8 1.8 0 1 0 -3.6 0M791.4 254.9a1.8 1.8 0 1 0 3.6 0a1.8 1.8 0 1 0 -3.6 0M790.4 268.4a1.8 1.8 0 1 0 3.6 0a1.8 1.8 0 1 0 -3.6 0M752.6 261.7a1.8 1.8 0 1 0 3.6 0a1.8 1.8 0 1 0 -3.6 0M772.2 254a1.8 1.8 0 1 0 3.6 0a1.8 1.8 0 1 0 -3.6 0M806.2 268.5a1.8 1.8 0 1 0 3.6 0a1.8 1.8 0 1 0 -3.6 0M839.1 275.5a1.8 1.8 0 1 0 3.6 0a1.8 1.8 0 1 0 -3.6 0M759 268.3a1.8 1.8 0 1 0 3.6 0a1.8 1.8 0 1 0 -3.6 0M737.9 261.4a1.8 1.8 0 1 0 3.6 0a1.8 1.8 0 1 0 -3.6 0M906.3 253.9a1.8 1.8 0 1 0 3.6 0a1.8 1.8 0 1 0 -3.6 0M740 264.3a1.8 1.8 0 1 0 3.6 0a1.8 1.8 0 1 0 -3.6 0M780.5 249.4a1.8 1.8 0 1 0 3.6 0a1.8 1.8 0 1 0 -3.6 0M782.5 251.5a1.8 1.8 0 1 0 3.6 0a1.8 1.8 0 1 0 -3.6 0M763 255.6a1.8 1.8 0 1 0 3.6 0a1.8 1.8 0 1 0 -3.6 0M822.5 260.9a1.8 1.8 0 1 0 3.6 0a1.8 1.8 0 1 0 -3.6 0M870.9 260.4a1.8 1.8 0 1 0 3.6 0a1.8 1.8 0 1 0 -3.6 0M904.7 262.2a1.8 1.8 0 1 0 3.6 0a1.8 1.8 0 1 0 -3.6 0M799.5 267.6a1.8 1.8 0 1 0 3.6 0a1.8 1.8 0 1 0 -3.6 0M752.8 246.5a1.8 1.8 0 1 0 3.6 0a1.8 1.8 0 1 0 -3.6 0M833.9 241.4a1.8 1.8 0 1 0 3.6 0a1.8 1.8 0 1 0 -3.6 0M811.4 263.8a1.8 1.8 0 1 0 3.6 0a1.8 1.8 0 1 0 -3.6 0M832.8 250.5a1.8 1.8 0 1 0 3.6 0a1.8 1.8 0 1 0 -3.6 0M793.6 259.3a1.8 1.8 0 1 0 3.6 0a1.8 1.8 0 1 0 -3.6 0M794.2 262a1.8 1.8 0 1 0 3.6 0a1.8 1.8 0 1 0 -3.6 0M786.3 253.4a1.8 1.8 0 1 0 3.6 0a1.8 1.8 0 1 0 -3.6 0M861.7 256.2a1.8 1.8 0 1 0 3.6 0a1.8 1.8 0 1 0 -3.6 0M770.1 256.8a1.8 1.8 0 1 0 3.6 0a1.8 1.8 0 1 0 -3.6 0M767.9 256.6a1.8 1.8 0 1 0 3.6 0a1.8 1.8 0 1 0 -3.6 0M818.5 256.7a1.8 1.8 0 1 0 3.6 0a1.8 1.8 0 1 0 -3.6 0M808.5 250.7a1.8 1.8 0 1 0 3.6 0a1.8 1.8 0 1 0 -3.6 0M900.3 267.5a1.8 1.8 0 1 0 3.6 0a1.8 1.8 0 1 0 -3.6 0M807.1 272.6a1.8 1.8 0 1 0 3.6 0a1.8 1.8 0 1 0 -3.6 0M817.8 255.2a1.8 1.8 0 1 0 3.6 0a1.8 1.8 0 1 0 -3.6 0M787.3 267.5a1.8 1.8 0 1 0 3.6 0a1.8 1.8 0 1 0 -3.6 0M860.5 250.6a1.8 1.8 0 1 0 3.6 0a1.8 1.8 0 1 0 -3.6 0M827.1 256.1a1.8 1.8 0 1 0 3.6 0a1.8 1.8 0 1 0 -3.6 0M831.8 254a1.8 1.8 0 1 0 3.6 0a1.8 1.8 0 1 0 -3.6 0M858.7 256a1.8 1.8 0 1 0 3.6 0a1.8 1.8 0 1 0 -3.6 0M830.3 247.1a1.8 1.8 0 1 0 3.6 0a1.8 1.8 0 1 0 -3.6 0M793.4 243.9a1.8 1.8 0 1 0 3.6 0a1.8 1.8 0 1 0 -3.6 0M906.6 257.9a1.8 1.8 0 1 0 3.6 0a1.8 1.8 0 1 0 -3.6 0M839.4 246.5a1.8 1.8 0 1 0 3.6 0a1.8 1.8 0 1 0 -3.6 0M853.8 246.7a1.8 1.8 0 1 0 3.6 0a1.8 1.8 0 1 0 -3.6 0M833.7 252.6a1.8 1.8 0 1 0 3.6 0a1.8 1.8 0 1 0 -3.6 0M890.8 256.8a1.8 1.8 0 1 0 3.6 0a1.8 1.8 0 1 0 -3.6 0M855.5 260.8a1.8 1.8 0 1 0 3.6 0a1.8 1.8 0 1 0 -3.6 0M899.5 250.6a1.8 1.8 0 1 0 3.6 0a1.8 1.8 0 1 0 -3.6 0M836.7 254.1a1.8 1.8 0 1 0 3.6 0a1.8 1.8 0 1 0 -3.6 0M890.2 251.3a1.8 1.8 0 1 0 3.6 0a1.8 1.8 0 1 0 -3.6 0M788.7 257.3a1.8 1.8 0 1 0 3.6 0a1.8 1.8 0 1 0 -3.6 0M782.3 257.3a1.8 1.8 0 1 0 3.6 0a1.8 1.8 0 1 0 -3.6 0M871.9 263.8a1.8 1.8 0 1 0 3.6 0a1.8 1.8 0 1 0 -3.6 0M775.5 256.3a1.8 1.8 0 1 0 3.6 0a1.8 1.8 0 1 0 -3.6 0M829.6 250.1a1.8 1.8 0 1 0 3.6 0a1.8 1.8 0 1 0 -3.6 0M871.3 249.1a1.8 1.8 0 1 0 3.6 0a1.8 1.8 0 1 0 -3.6 0M775.6 274.3a1.8 1.8 0 1 0 3.6 0a1.8 1.8 0 1 0 -3.6 0M896.3 261.5a1.8 1.8 0 1 0 3.6 0a1.8 1.8 0 1 0 -3.6 0M771.1 254a1.8 1.8 0 1 0 3.6 0a1.8 1.8 0 1 0 -3.6 0M748.6 258.1a1.8 1.8 0 1 0 3.6 0a1.8 1.8 0 1 0 -3.6 0M859 248.8a1.8 1.8 0 1 0 3.6 0a1.8 1.8 0 1 0 -3.6 0M753.9 245.3a1.8 1.8 0 1 0 3.6 0a1.8 1.8 0 1 0 -3.6 0M860.4 254.6a1.8 1.8 0 1 0 3.6 0a1.8 1.8 0 1 0 -3.6 0M851.1 259.9a1.8 1.8 0 1 0 3.6 0a1.8 1.8 0 1 0 -3.6 0M802.5 257.4a1.8 1.8 0 1 0 3.6 0a1.8 1.8 0 1 0 -3.6 0M747.6 250.4a1.8 1.8 0 1 0 3.6 0a1.8 1.8 0 1 0 -3.6 0M850.6 262.8a1.8 1.8 0 1 0 3.6 0a1.8 1.8 0 1 0 -3.6 0M756.8 242.8a1.8 1.8 0 1 0 3.6 0a1.8 1.8 0 1 0 -3.6 0M881.6 259.2a1.8 1.8 0 1 0 3.6 0a1.8 1.8 0 1 0 -3.6 0M795.7 248.8a1.8 1.8 0 1 0 3.6 0a1.8 1.8 0 1 0 -3.6 0M846.5 260.5a1.8 1.8 0 1 0 3.6 0a1.8 1.8 0 1 0 -3.6 0M742.7 250.3a1.8 1.8 0 1 0 3.6 0a1.8 1.8 0 1 0 -3.6 0" fill="none" stroke="#f7b080" stroke-width="0.9"/>
<path d="M742.3 246.5a1.8 1.8 0 1 0 3.6 0a1.8 1.8 0 1 0 -3.6 0M748.7 218.7a1.8 1.8 0 1 0 3.6 0a1.8 1.8 0 1 0 -3.6 0M759.8 257.5a1.8 1.8 0 1 0 3.6 0a1.8 1.8 0 1 0 -3.6 0M761.2 253.1a1.8 1.8 0 1 0 3.6 0a1.8 1.8 0 1 0 -3.6 0M748.4 218.7a1.8 1.8 0 1 0 3.6 0a1.8 1.8 0 1 0 -3.6 0M743.8 232.3a1.8 1.8 0 1 0 3.6 0a1.8 1.8 0 1 0 -3.6 0M752.3 226.1a1.8 1.8 0 1 0 3.6 0a1.8 1.8 0 1 0 -3.6 0M745.3 230.1a1.8 1.8 0 1 0 3.6 0a1.8 1.8 0 1 0 -3.6 0M738.4 248.3a1.8 1.8 0 1 0 3.6 0a1.8 1.8 0 1 0 -3.6 0M752 219.1a1.8 1.8 0 1 0 3.6 0a1.8 1.8 0 1 0 -3.6 0M740.4 240.4a1.8 1.8 0 1 0 3.6 0a1.8 1.8 0 1 0 -3.6 0M755.2 235.4a1.8 1.8 0 1 0 3.6 0a1.8 1.8 0 1 0 -3.6 0M736.2 252.2a1.8 1.8 0 1 0 3.6 0a1.8 1.8 0 1 0 -3.6 0M758.6 243.9a1.8 1.8 0 1 0 3.6 0a1.8 1.8 0 1 0 -3.6 0M764.3 251.9a1.8 1.8 0 1 0 3.6 0a1.8 1.8 0 1 0 -3.6 0M746.1 230.8a1.8 1.8 0 1 0 3.6 0a1.8 1.8 0 1 0 -3.6 0M752 227.8a1.8 1.8 0 1 0 3.6 0a1.8 1.8 0 1 0 -3.6 0M753.7 231.1a1.8 1.8 0 1 0 3.6 0a1.8 1.8 0 1 0 -3.6 0M759.6 248.1a1.8 1.8 0 1 0 3.6 0a1.8 1.8 0 1 0 -3.6 0M744.4 235.1a1.8 1.8 0 1 0 3.6 0a1.8 1.8 0 1 0 -3.6 0M743.2 240a1.8 1.8 0 1 0 3.6 0a1.8 1.8 0 1 0 -3.6 0M762.9 256.3a1.8 1.8 0 1 0 3.6 0a1.8 1.8 0 1 0 -3.6 0M737.4 243.6a1.8 1.8 0 1 0 3.6 0a1.8 1.8 0 1 0 -3.6 0M751.4 232.2a1.8 1.8 0 1 0 3.6 0a1.8 1.8 0 1 0 -3.6 0M755.3 236.4a1.8 1.8 0 1 0 3.6 0a1.8 1.8 0 1 0 -3.6 0M751.9 223.5a1.8 1.8 0 1 0 3.6 0a1.8 1.8 0 1 0 -3.6 0M737.9 259.8a1.8 1.8 0 1 0 3.6 0a1.8 1.8 0 1 0 -3.6 0M737.9 248.3a1.8 1.8 0 1 0 3.6 0a1.8 1.8 0 1 0 -3.6 0M746.5 229.7a1.8 1.8 0 1 0 3.6 0a1.8 1.8 0 1 0 -3.6 0M743.1 246a1.8 1.8 0 1 0 3.6 0a1.8 1.8 0 1 0 -3.6 0M762.4 254.4a1.8 1.8 0 1 0 3.6 0a1.8 1.8 0 1 0 -3.6 0M751.2 223a1.8 1.8 0 1 0 3.6 0a1.8 1.8 0 1 0 -3.6 0M755.1 232.7a1.8 1.8 0 1 0 3.6 0a1.8 1.8 0 1 0 -3.6 0M762.7 258a1.8 1.8 0 1 0 3.6 0a1.8 1.8 0 1 0 -3.6 0M749.8 219.7a1.8 1.8 0 1 0 3.6 0a1.8 1.8 0 1 0 -3.6 0M761.7 254.1a1.8 1.8 0 1 0 3.6 0a1.8 1.8 0 1 0 -3.6 0M753.9 228.1a1.8 1.8 0 1 0 3.6 0a1.8 1.8 0 1 0 -3.6 0M745.3 234.4a1.8 1.8 0 1 0 3.6 0a1.8 1.8 0 1 0 -3.6 0M756.7 245a1.8 1.8 0 1 0 3.6 0a1.8 1.8 0 1 0 -3.6 0M764.3 251.1a1.8 1.8 0 1 0 3.6 0a1.8 1.8 0 1 0 -3.6 0M753.9 234.8a1.8 1.8 0 1 0 3.6 0a1.8 1.8 0 1 0 -3.6 0M738 249.1a1.8 1.8 0 1 0 3.6 0a1.8 1.8 0 1 0 -3.6 0M754.7 236.9a1.8 1.8 0 1 0 3.6 0a1.8 1.8 0 1 0 -3.6 0M742.2 246.9a1.8 1.8 0 1 0 3.6 0a1.8 1.8 0 1 0 -3.6 0M741.2 244.5a1.8 1.8 0 1 0 3.6 0a1.8 1.8 0 1 0 -3.6 0M744.8 235.9a1.8 1.8 0 1 0 3.6 0a1.8 1.8 0 1 0 -3.6 0M742 246.9a1.8 1.8 0 1 0 3.6 0a1.8 1.8 0 1 0 -3.6 0M746.7 227a1.8 1.8 0 1 0 3.6 0a1.8 1.8 0 1 0 -3.6 0M741.3 242.1a1.8 1.8 0 1 0 3.6 0a1.8 1.8 0 1 0 -3.6 0M737.6 249.8a1.8 1.8 0 1 0 3.6 0a1.8 1.8 0 1 0 -3.6 0M738.8 241.4a1.8 1.8 0 1 0 3.6 0a1.8 1.8 0 1 0 -3.6 0M757.8 247a1.8 1.8 0 1 0 3.6 0a1.8 1.8 0 1 0 -3.6 0M736.7 250a1.8 1.8 0 1 0 3.6 0a1.8 1.8 0 1 0 -3.6 0M752.9 225.6a1.8 1.8 0 1 0 3.6 0a1.8 1.8 0 1 0 -3.6 0M752.6 228.5a1.8 1.8 0 1 0 3.6 0a1.8 1.8 0 1 0 -3.6 0M762.8 245.8a1.8 1.8 0 1 0 3.6 0a1.8 1.8 0 1 0 -3.6 0M750.3 220.4a1.8 1.8 0 1 0 3.6 0a1.8 1.8 0 1 0 -3.6 0M759.2 256.9a1.8 1.8 0 1 0 3.6 0a1.8 1.8 0 1 0 -3.6 0M738.1 258.3a1.8 1.8 0 1 0 3.6 0a1.8 1.8 0 1 0 -3.6 0M761.2 243.1a1.8 1.8 0 1 0 3.6 0a1.8 1.8 0 1 0 -3.6 0" fill="none" stroke="#f25a6e" stroke-width="1"/>
<path d="M771.1 241.5a1.8 1.8 0 1 0 3.6 0a1.8 1.8 0 1 0 -3.6 0M769.5 234.4a1.8 1.8 0 1 0 3.6 0a1.8 1.8 0 1 0 -3.6 0M767.3 220.8a1.8 1.8 0 1 0 3.6 0a1.8 1.8 0 1 0 -3.6 0M765.8 214.2a1.8 1.8 0 1 0 3.6 0a1.8 1.8 0 1 0 -3.6 0M756.9 227.6a1.8 1.8 0 1 0 3.6 0a1.8 1.8 0 1 0 -3.6 0M759.5 204.2a1.8 1.8 0 1 0 3.6 0a1.8 1.8 0 1 0 -3.6 0M777.3 248.5a1.8 1.8 0 1 0 3.6 0a1.8 1.8 0 1 0 -3.6 0M769.8 236.7a1.8 1.8 0 1 0 3.6 0a1.8 1.8 0 1 0 -3.6 0M770 241.2a1.8 1.8 0 1 0 3.6 0a1.8 1.8 0 1 0 -3.6 0M773 244.2a1.8 1.8 0 1 0 3.6 0a1.8 1.8 0 1 0 -3.6 0M762.1 205.5a1.8 1.8 0 1 0 3.6 0a1.8 1.8 0 1 0 -3.6 0M747.1 246.4a1.8 1.8 0 1 0 3.6 0a1.8 1.8 0 1 0 -3.6 0M775.7 254.8a1.8 1.8 0 1 0 3.6 0a1.8 1.8 0 1 0 -3.6 0M755 232.8a1.8 1.8 0 1 0 3.6 0a1.8 1.8 0 1 0 -3.6 0M747.2 246.5a1.8 1.8 0 1 0 3.6 0a1.8 1.8 0 1 0 -3.6 0M763.2 201.3a1.8 1.8 0 1 0 3.6 0a1.8 1.8 0 1 0 -3.6 0M756.4 224.2a1.8 1.8 0 1 0 3.6 0a1.8 1.8 0 1 0 -3.6 0M751.8 237.9a1.8 1.8 0 1 0 3.6 0a1.8 1.8 0 1 0 -3.6 0M761 203.8a1.8 1.8 0 1 0 3.6 0a1.8 1.8 0 1 0 -3.6 0M777.3 251a1.8 1.8 0 1 0 3.6 0a1.8 1.8 0 1 0 -3.6 0M770.3 235.9a1.8 1.8 0 1 0 3.6 0a1.8 1.8 0 1 0 -3.6 0M751.8 245.8a1.8 1.8 0 1 0 3.6 0a1.8 1.8 0 1 0 -3.6 0M775.8 249.2a1.8 1.8 0 1 0 3.6 0a1.8 1.8 0 1 0 -3.6 0M749.4 251.2a1.8 1.8 0 1 0 3.6 0a1.8 1.8 0 1 0 -3.6 0M749.1 249.2a1.8 1.8 0 1 0 3.6 0a1.8 1.8 0 1 0 -3.6 0M751.7 241a1.8 1.8 0 1 0 3.6 0a1.8 1.8 0 1 0 -3.6 0M746.9 253.6a1.8 1.8 0 1 0 3.6 0a1.8 1.8 0 1 0 -3.6 0M757.1 215.3a1.8 1.8 0 1 0 3.6 0a1.8 1.8 0 1 0 -3.6 0M752.5 237.6a1.8 1.8 0 1 0 3.6 0a1.8 1.8 0 1 0 -3.6 0M761.6 201a1.8 1.8 0 1 0 3.6 0a1.8 1.8 0 1 0 -3.6 0M777.1 250.3a1.8 1.8 0 1 0 3.6 0a1.8 1.8 0 1 0 -3.6 0M760.1 202.6a1.8 1.8 0 1 0 3.6 0a1.8 1.8 0 1 0 -3.6 0M770.4 237a1.8 1.8 0 1 0 3.6 0a1.8 1.8 0 1 0 -3.6 0M761.9 202.6a1.8 1.8 0 1 0 3.6 0a1.8 1.8 0 1 0 -3.6 0M747.5 241.7a1.8 1.8 0 1 0 3.6 0a1.8 1.8 0 1 0 -3.6 0M747.8 259.1a1.8 1.8 0 1 0 3.6 0a1.8 1.8 0 1 0 -3.6 0M776.4 249.1a1.8 1.8 0 1 0 3.6 0a1.8 1.8 0 1 0 -3.6 0M756.6 225.6a1.8 1.8 0 1 0 3.6 0a1.8 1.8 0 1 0 -3.6 0M776 246.8a1.8 1.8 0 1 0 3.6 0a1.8 1.8 0 1 0 -3.6 0M755.1 232.1a1.8 1.8 0 1 0 3.6 0a1.8 1.8 0 1 0 -3.6 0M759.3 208.9a1.8 1.8 0 1 0 3.6 0a1.8 1.8 0 1 0 -3.6 0M767.9 226.6a1.8 1.8 0 1 0 3.6 0a1.8 1.8 0 1 0 -3.6 0M760.9 204.5a1.8 1.8 0 1 0 3.6 0a1.8 1.8 0 1 0 -3.6 0M766.9 219.4a1.8 1.8 0 1 0 3.6 0a1.8 1.8 0 1 0 -3.6 0M763.1 207.1a1.8 1.8 0 1 0 3.6 0a1.8 1.8 0 1 0 -3.6 0M777.3 240a1.8 1.8 0 1 0 3.6 0a1.8 1.8 0 1 0 -3.6 0M764 200.4a1.8 1.8 0 1 0 3.6 0a1.8 1.8 0 1 0 -3.6 0M772.3 244.9a1.8 1.8 0 1 0 3.6 0a1.8 1.8 0 1 0 -3.6 0M768.5 222.9a1.8 1.8 0 1 0 3.6 0a1.8 1.8 0 1 0 -3.6 0M767.2 230.6a1.8 1.8 0 1 0 3.6 0a1.8 1.8 0 1 0 -3.6 0M752.5 240.4a1.8 1.8 0 1 0 3.6 0a1.8 1.8 0 1 0 -3.6 0M751.3 238a1.8 1.8 0 1 0 3.6 0a1.8 1.8 0 1 0 -3.6 0M764.6 203.9a1.8 1.8 0 1 0 3.6 0a1.8 1.8 0 1 0 -3.6 0M754.1 235.1a1.8 1.8 0 1 0 3.6 0a1.8 1.8 0 1 0 -3.6 0M756.9 223.7a1.8 1.8 0 1 0 3.6 0a1.8 1.8 0 1 0 -3.6 0M746 253.5a1.8 1.8 0 1 0 3.6 0a1.8 1.8 0 1 0 -3.6 0M747.9 248a1.8 1.8 0 1 0 3.6 0a1.8 1.8 0 1 0 -3.6 0M774.1 241a1.8 1.8 0 1 0 3.6 0a1.8 1.8 0 1 0 -3.6 0M770.8 239.4a1.8 1.8 0 1 0 3.6 0a1.8 1.8 0 1 0 -3.6 0M754.4 233.2a1.8 1.8 0 1 0 3.6 0a1.8 1.8 0 1 0 -3.6 0" fill="none" stroke="#f29a72" stroke-width="1"/>
<path d="M776.1 191.1a1.8 1.8 0 1 0 3.6 0a1.8 1.8 0 1 0 -3.6 0M765.4 248a1.8 1.8 0 1 0 3.6 0a1.8 1.8 0 1 0 -3.6 0M764.9 241.8a1.8 1.8 0 1 0 3.6 0a1.8 1.8 0 1 0 -3.6 0M778.1 172.4a1.8 1.8 0 1 0 3.6 0a1.8 1.8 0 1 0 -3.6 0M781.4 162.7a1.8 1.8 0 1 0 3.6 0a1.8 1.8 0 1 0 -3.6 0M798.6 244.8a1.8 1.8 0 1 0 3.6 0a1.8 1.8 0 1 0 -3.6 0M801.9 243.9a1.8 1.8 0 1 0 3.6 0a1.8 1.8 0 1 0 -3.6 0M769.5 229.4a1.8 1.8 0 1 0 3.6 0a1.8 1.8 0 1 0 -3.6 0M780.7 163.7a1.8 1.8 0 1 0 3.6 0a1.8 1.8 0 1 0 -3.6 0M769.2 229.1a1.8 1.8 0 1 0 3.6 0a1.8 1.8 0 1 0 -3.6 0M788 195.7a1.8 1.8 0 1 0 3.6 0a1.8 1.8 0 1 0 -3.6 0M785.5 173a1.8 1.8 0 1 0 3.6 0a1.8 1.8 0 1 0 -3.6 0M788.8 200a1.8 1.8 0 1 0 3.6 0a1.8 1.8 0 1 0 -3.6 0M759.9 243.7a1.8 1.8 0 1 0 3.6 0a1.8 1.8 0 1 0 -3.6 0M786.7 179.1a1.8 1.8 0 1 0 3.6 0a1.8 1.8 0 1 0 -3.6 0M785.9 178.1a1.8 1.8 0 1 0 3.6 0a1.8 1.8 0 1 0 -3.6 0M798.1 248.4a1.8 1.8 0 1 0 3.6 0a1.8 1.8 0 1 0 -3.6 0M763.9 245.3a1.8 1.8 0 1 0 3.6 0a1.8 1.8 0 1 0 -3.6 0M798.7 246.4a1.8 1.8 0 1 0 3.6 0a1.8 1.8 0 1 0 -3.6 0M788.8 201a1.8 1.8 0 1 0 3.6 0a1.8 1.8 0 1 0 -3.6 0M779.6 166.1a1.8 1.8 0 1 0 3.6 0a1.8 1.8 0 1 0 -3.6 0M760.1 242.5a1.8 1.8 0 1 0 3.6 0a1.8 1.8 0 1 0 -3.6 0M760.7 256.2a1.8 1.8 0 1 0 3.6 0a1.8 1.8 0 1 0 -3.6 0M803.6 254.3a1.8 1.8 0 1 0 3.6 0a1.8 1.8 0 1 0 -3.6 0M795.8 235a1.8 1.8 0 1 0 3.6 0a1.8 1.8 0 1 0 -3.6 0M766.3 248.4a1.8 1.8 0 1 0 3.6 0a1.8 1.8 0 1 0 -3.6 0M762.6 246.4a1.8 1.8 0 1 0 3.6 0a1.8 1.8 0 1 0 -3.6 0M780.8 160.8a1.8 1.8 0 1 0 3.6 0a1.8 1.8 0 1 0 -3.6 0M788.5 194a1.8 1.8 0 1 0 3.6 0a1.8 1.8 0 1 0 -3.6 0M760.3 249.1a1.8 1.8 0 1 0 3.6 0a1.8 1.8 0 1 0 -3.6 0M794.7 238.7a1.8 1.8 0 1 0 3.6 0a1.8 1.8 0 1 0 -3.6 0M783.6 165.9a1.8 1.8 0 1 0 3.6 0a1.8 1.8 0 1 0 -3.6 0M764.3 229.6a1.8 1.8 0 1 0 3.6 0a1.8 1.8 0 1 0 -3.6 0M788.7 191.8a1.8 1.8 0 1 0 3.6 0a1.8 1.8 0 1 0 -3.6 0M794.7 230.6a1.8 1.8 0 1 0 3.6 0a1.8 1.8 0 1 0 -3.6 0M785.5 178.4a1.8 1.8 0 1 0 3.6 0a1.8 1.8 0 1 0 -3.6 0M781.6 161.6a1.8 1.8 0 1 0 3.6 0a1.8 1.8 0 1 0 -3.6 0M763.7 252.9a1.8 1.8 0 1 0 3.6 0a1.8 1.8 0 1 0 -3.6 0M794.9 224.8a1.8 1.8 0 1 0 3.6 0a1.8 1.8 0 1 0 -3.6 0M790.5 211.3a1.8 1.8 0 1 0 3.6 0a1.8 1.8 0 1 0 -3.6 0M794.5 229.3a1.8 1.8 0 1 0 3.6 0a1.8 1.8 0 1 0 -3.6 0M802.7 254a1.8 1.8 0 1 0 3.6 0a1.8 1.8 0 1 0 -3.6 0M780.6 161.8a1.8 1.8 0 1 0 3.6 0a1.8 1.8 0 1 0 -3.6 0M766.3 246.7a1.8 1.8 0 1 0 3.6 0a1.8 1.8 0 1 0 -3.6 0M776 195.2a1.8 1.8 0 1 0 3.6 0a1.8 1.8 0 1 0 -3.6 0M798.8 240.2a1.8 1.8 0 1 0 3.6 0a1.8 1.8 0 1 0 -3.6 0M764.2 252.4a1.8 1.8 0 1 0 3.6 0a1.8 1.8 0 1 0 -3.6 0M802.9 247.2a1.8 1.8 0 1 0 3.6 0a1.8 1.8 0 1 0 -3.6 0M794.1 218.7a1.8 1.8 0 1 0 3.6 0a1.8 1.8 0 1 0 -3.6 0M784.6 161.8a1.8 1.8 0 1 0 3.6 0a1.8 1.8 0 1 0 -3.6 0M762.4 248.7a1.8 1.8 0 1 0 3.6 0a1.8 1.8 0 1 0 -3.6 0M782.2 160.8a1.8 1.8 0 1 0 3.6 0a1.8 1.8 0 1 0 -3.6 0M773.2 212.3a1.8 1.8 0 1 0 3.6 0a1.8 1.8 0 1 0 -3.6 0M785.8 175a1.8 1.8 0 1 0 3.6 0a1.8 1.8 0 1 0 -3.6 0M780.2 160.8a1.8 1.8 0 1 0 3.6 0a1.8 1.8 0 1 0 -3.6 0M767 242.2a1.8 1.8 0 1 0 3.6 0a1.8 1.8 0 1 0 -3.6 0M764 241.2a1.8 1.8 0 1 0 3.6 0a1.8 1.8 0 1 0 -3.6 0M795.6 231.4a1.8 1.8 0 1 0 3.6 0a1.8 1.8 0 1 0 -3.6 0M781.9 160.8a1.8 1.8 0 1 0 3.6 0a1.8 1.8 0 1 0 -3.6 0M767.1 236.6a1.8 1.8 0 1 0 3.6 0a1.8 1.8 0 1 0 -3.6 0" fill="none" stroke="#e9c45a" stroke-width="1"/>
<path d="M830.3 181.6a1.8 1.8 0 1 0 3.6 0a1.8 1.8 0 1 0 -3.6 0M804 241.3a1.8 1.8 0 1 0 3.6 0a1.8 1.8 0 1 0 -3.6 0M841 234.6a1.8 1.8 0 1 0 3.6 0a1.8 1.8 0 1 0 -3.6 0M803.5 232a1.8 1.8 0 1 0 3.6 0a1.8 1.8 0 1 0 -3.6 0M836.5 228.2a1.8 1.8 0 1 0 3.6 0a1.8 1.8 0 1 0 -3.6 0M830.3 186.3a1.8 1.8 0 1 0 3.6 0a1.8 1.8 0 1 0 -3.6 0M819.1 186.5a1.8 1.8 0 1 0 3.6 0a1.8 1.8 0 1 0 -3.6 0M826.3 145.2a1.8 1.8 0 1 0 3.6 0a1.8 1.8 0 1 0 -3.6 0M837.9 228.6a1.8 1.8 0 1 0 3.6 0a1.8 1.8 0 1 0 -3.6 0M813.5 222.6a1.8 1.8 0 1 0 3.6 0a1.8 1.8 0 1 0 -3.6 0M809.1 238.7a1.8 1.8 0 1 0 3.6 0a1.8 1.8 0 1 0 -3.6 0M819.8 169.4a1.8 1.8 0 1 0 3.6 0a1.8 1.8 0 1 0 -3.6 0M844.9 236.2a1.8 1.8 0 1 0 3.6 0a1.8 1.8 0 1 0 -3.6 0M827.2 141.2a1.8 1.8 0 1 0 3.6 0a1.8 1.8 0 1 0 -3.6 0M805 228a1.8 1.8 0 1 0 3.6 0a1.8 1.8 0 1 0 -3.6 0M802.9 242a1.8 1.8 0 1 0 3.6 0a1.8 1.8 0 1 0 -3.6 0M830.7 193.1a1.8 1.8 0 1 0 3.6 0a1.8 1.8 0 1 0 -3.6 0M809.3 225.3a1.8 1.8 0 1 0 3.6 0a1.8 1.8 0 1 0 -3.6 0M802.2 240.1a1.8 1.8 0 1 0 3.6 0a1.8 1.8 0 1 0 -3.6 0M831.9 206.7a1.8 1.8 0 1 0 3.6 0a1.8 1.8 0 1 0 -3.6 0M815.3 205.5a1.8 1.8 0 1 0 3.6 0a1.8 1.8 0 1 0 -3.6 0M825.7 137.3a1.8 1.8 0 1 0 3.6 0a1.8 1.8 0 1 0 -3.6 0M806.3 239.8a1.8 1.8 0 1 0 3.6 0a1.8 1.8 0 1 0 -3.6 0M840.8 232.6a1.8 1.8 0 1 0 3.6 0a1.8 1.8 0 1 0 -3.6 0M833.3 211.5a1.8 1.8 0 1 0 3.6 0a1.8 1.8 0 1 0 -3.6 0M816.7 200.1a1.8 1.8 0 1 0 3.6 0a1.8 1.8 0 1 0 -3.6 0M847.8 248.3a1.8 1.8 0 1 0 3.6 0a1.8 1.8 0 1 0 -3.6 0M836.3 225.5a1.8 1.8 0 1 0 3.6 0a1.8 1.8 0 1 0 -3.6 0M817.4 194.6a1.8 1.8 0 1 0 3.6 0a1.8 1.8 0 1 0 -3.6 0M833.9 216a1.8 1.8 0 1 0 3.6 0a1.8 1.8 0 1 0 -3.6 0M816.6 199.6a1.8 1.8 0 1 0 3.6 0a1.8 1.8 0 1 0 -3.6 0M834.3 204.5a1.8 1.8 0 1 0 3.6 0a1.8 1.8 0 1 0 -3.6 0M842 235.1a1.8 1.8 0 1 0 3.6 0a1.8 1.8 0 1 0 -3.6 0M800.7 234.8a1.8 1.8 0 1 0 3.6 0a1.8 1.8 0 1 0 -3.6 0M807.4 229.4a1.8 1.8 0 1 0 3.6 0a1.8 1.8 0 1 0 -3.6 0M815.9 199.4a1.8 1.8 0 1 0 3.6 0a1.8 1.8 0 1 0 -3.6 0M842.8 236.7a1.8 1.8 0 1 0 3.6 0a1.8 1.8 0 1 0 -3.6 0M840.3 228.4a1.8 1.8 0 1 0 3.6 0a1.8 1.8 0 1 0 -3.6 0M847.4 245.1a1.8 1.8 0 1 0 3.6 0a1.8 1.8 0 1 0 -3.6 0M802.5 244.7a1.8 1.8 0 1 0 3.6 0a1.8 1.8 0 1 0 -3.6 0M827.9 158.8a1.8 1.8 0 1 0 3.6 0a1.8 1.8 0 1 0 -3.6 0M809.6 228.2a1.8 1.8 0 1 0 3.6 0a1.8 1.8 0 1 0 -3.6 0M810.9 224.9a1.8 1.8 0 1 0 3.6 0a1.8 1.8 0 1 0 -3.6 0M806 236.8a1.8 1.8 0 1 0 3.6 0a1.8 1.8 0 1 0 -3.6 0M812.8 225a1.8 1.8 0 1 0 3.6 0a1.8 1.8 0 1 0 -3.6 0M823.6 129.6a1.8 1.8 0 1 0 3.6 0a1.8 1.8 0 1 0 -3.6 0M818.6 179.6a1.8 1.8 0 1 0 3.6 0a1.8 1.8 0 1 0 -3.6 0M815.7 205.1a1.8 1.8 0 1 0 3.6 0a1.8 1.8 0 1 0 -3.6 0M835.5 227.1a1.8 1.8 0 1 0 3.6 0a1.8 1.8 0 1 0 -3.6 0M808.9 237.2a1.8 1.8 0 1 0 3.6 0a1.8 1.8 0 1 0 -3.6 0M826.5 145.2a1.8 1.8 0 1 0 3.6 0a1.8 1.8 0 1 0 -3.6 0M815.4 212.6a1.8 1.8 0 1 0 3.6 0a1.8 1.8 0 1 0 -3.6 0M830.7 184.9a1.8 1.8 0 1 0 3.6 0a1.8 1.8 0 1 0 -3.6 0M806.8 240.6a1.8 1.8 0 1 0 3.6 0a1.8 1.8 0 1 0 -3.6 0M802.2 242.4a1.8 1.8 0 1 0 3.6 0a1.8 1.8 0 1 0 -3.6 0M837.6 230.9a1.8 1.8 0 1 0 3.6 0a1.8 1.8 0 1 0 -3.6 0M833.4 210.3a1.8 1.8 0 1 0 3.6 0a1.8 1.8 0 1 0 -3.6 0M845 245.3a1.8 1.8 0 1 0 3.6 0a1.8 1.8 0 1 0 -3.6 0M836 217.9a1.8 1.8 0 1 0 3.6 0a1.8 1.8 0 1 0 -3.6 0M816.5 210.4a1.8 1.8 0 1 0 3.6 0a1.8 1.8 0 1 0 -3.6 0M841.5 238.1a1.8 1.8 0 1 0 3.6 0a1.8 1.8 0 1 0 -3.6 0M818.7 187.7a1.8 1.8 0 1 0 3.6 0a1.8 1.8 0 1 0 -3.6 0M834.1 217a1.8 1.8 0 1 0 3.6 0a1.8 1.8 0 1 0 -3.6 0M843.4 240.8a1.8 1.8 0 1 0 3.6 0a1.8 1.8 0 1 0 -3.6 0M802.9 241.9a1.8 1.8 0 1 0 3.6 0a1.8 1.8 0 1 0 -3.6 0M847.6 240.3a1.8 1.8 0 1 0 3.6 0a1.8 1.8 0 1 0 -3.6 0M805.9 238.1a1.8 1.8 0 1 0 3.6 0a1.8 1.8 0 1 0 -3.6 0M844.9 235.8a1.8 1.8 0 1 0 3.6 0a1.8 1.8 0 1 0 -3.6 0M846.7 239.7a1.8 1.8 0 1 0 3.6 0a1.8 1.8 0 1 0 -3.6 0M823.8 129.6a1.8 1.8 0 1 0 3.6 0a1.8 1.8 0 1 0 -3.6 0M820.7 155.5a1.8 1.8 0 1 0 3.6 0a1.8 1.8 0 1 0 -3.6 0M823.1 140.8a1.8 1.8 0 1 0 3.6 0a1.8 1.8 0 1 0 -3.6 0M826.7 144.2a1.8 1.8 0 1 0 3.6 0a1.8 1.8 0 1 0 -3.6 0M814.8 217.8a1.8 1.8 0 1 0 3.6 0a1.8 1.8 0 1 0 -3.6 0M798.5 240.8a1.8 1.8 0 1 0 3.6 0a1.8 1.8 0 1 0 -3.6 0M817.6 197.2a1.8 1.8 0 1 0 3.6 0a1.8 1.8 0 1 0 -3.6 0M840 236a1.8 1.8 0 1 0 3.6 0a1.8 1.8 0 1 0 -3.6 0M828.7 177.3a1.8 1.8 0 1 0 3.6 0a1.8 1.8 0 1 0 -3.6 0M822.1 142.6a1.8 1.8 0 1 0 3.6 0a1.8 1.8 0 1 0 -3.6 0M834.8 221.5a1.8 1.8 0 1 0 3.6 0a1.8 1.8 0 1 0 -3.6 0M818.6 176.6a1.8 1.8 0 1 0 3.6 0a1.8 1.8 0 1 0 -3.6 0M831 192.6a1.8 1.8 0 1 0 3.6 0a1.8 1.8 0 1 0 -3.6 0M816.2 203.6a1.8 1.8 0 1 0 3.6 0a1.8 1.8 0 1 0 -3.6 0M846.3 240.8a1.8 1.8 0 1 0 3.6 0a1.8 1.8 0 1 0 -3.6 0M840 234a1.8 1.8 0 1 0 3.6 0a1.8 1.8 0 1 0 -3.6 0" fill="none" stroke="#8cc652" stroke-width="1"/>
<path d="M829.6 221.2a1.8 1.8 0 1 0 3.6 0a1.8 1.8 0 1 0 -3.6 0M873 234.3a1.8 1.8 0 1 0 3.6 0a1.8 1.8 0 1 0 -3.6 0M842.1 137.8a1.8 1.8 0 1 0 3.6 0a1.8 1.8 0 1 0 -3.6 0M849.4 97a1.8 1.8 0 1 0 3.6 0a1.8 1.8 0 1 0 -3.6 0M827.9 226.9a1.8 1.8 0 1 0 3.6 0a1.8 1.8 0 1 0 -3.6 0M855 167.3a1.8 1.8 0 1 0 3.6 0a1.8 1.8 0 1 0 -3.6 0M825.6 237.3a1.8 1.8 0 1 0 3.6 0a1.8 1.8 0 1 0 -3.6 0M878.3 242.8a1.8 1.8 0 1 0 3.6 0a1.8 1.8 0 1 0 -3.6 0M846.9 84.4a1.8 1.8 0 1 0 3.6 0a1.8 1.8 0 1 0 -3.6 0M846.8 98.4a1.8 1.8 0 1 0 3.6 0a1.8 1.8 0 1 0 -3.6 0M838.5 175.5a1.8 1.8 0 1 0 3.6 0a1.8 1.8 0 1 0 -3.6 0M835.1 203.8a1.8 1.8 0 1 0 3.6 0a1.8 1.8 0 1 0 -3.6 0M877.9 238.2a1.8 1.8 0 1 0 3.6 0a1.8 1.8 0 1 0 -3.6 0M870.1 233.7a1.8 1.8 0 1 0 3.6 0a1.8 1.8 0 1 0 -3.6 0M826.4 235.3a1.8 1.8 0 1 0 3.6 0a1.8 1.8 0 1 0 -3.6 0M828.1 220.4a1.8 1.8 0 1 0 3.6 0a1.8 1.8 0 1 0 -3.6 0M839.3 159a1.8 1.8 0 1 0 3.6 0a1.8 1.8 0 1 0 -3.6 0M836.5 189.1a1.8 1.8 0 1 0 3.6 0a1.8 1.8 0 1 0 -3.6 0M866.7 222.4a1.8 1.8 0 1 0 3.6 0a1.8 1.8 0 1 0 -3.6 0M854.3 150.1a1.8 1.8 0 1 0 3.6 0a1.8 1.8 0 1 0 -3.6 0M823.2 247.1a1.8 1.8 0 1 0 3.6 0a1.8 1.8 0 1 0 -3.6 0M838.6 174.3a1.8 1.8 0 1 0 3.6 0a1.8 1.8 0 1 0 -3.6 0M858 183.5a1.8 1.8 0 1 0 3.6 0a1.8 1.8 0 1 0 -3.6 0M834.2 212.2a1.8 1.8 0 1 0 3.6 0a1.8 1.8 0 1 0 -3.6 0M821 239.2a1.8 1.8 0 1 0 3.6 0a1.8 1.8 0 1 0 -3.6 0M818.1 237.2a1.8 1.8 0 1 0 3.6 0a1.8 1.8 0 1 0 -3.6 0M825.8 242.9a1.8 1.8 0 1 0 3.6 0a1.8 1.8 0 1 0 -3.6 0M840.6 155.6a1.8 1.8 0 1 0 3.6 0a1.8 1.8 0 1 0 -3.6 0M824.4 239.3a1.8 1.8 0 1 0 3.6 0a1.8 1.8 0 1 0 -3.6 0M821.8 236.2a1.8 1.8 0 1 0 3.6 0a1.8 1.8 0 1 0 -3.6 0M863.1 220.7a1.8 1.8 0 1 0 3.6 0a1.8 1.8 0 1 0 -3.6 0M860.2 211.1a1.8 1.8 0 1 0 3.6 0a1.8 1.8 0 1 0 -3.6 0M835.4 205.9a1.8 1.8 0 1 0 3.6 0a1.8 1.8 0 1 0 -3.6 0M842.9 126.3a1.8 1.8 0 1 0 3.6 0a1.8 1.8 0 1 0 -3.6 0M850.1 109.4a1.8 1.8 0 1 0 3.6 0a1.8 1.8 0 1 0 -3.6 0M846.3 91a1.8 1.8 0 1 0 3.6 0a1.8 1.8 0 1 0 -3.6 0M829.8 228.2a1.8 1.8 0 1 0 3.6 0a1.8 1.8 0 1 0 -3.6 0M856.2 178.7a1.8 1.8 0 1 0 3.6 0a1.8 1.8 0 1 0 -3.6 0M871.6 228a1.8 1.8 0 1 0 3.6 0a1.8 1.8 0 1 0 -3.6 0M821 243.7a1.8 1.8 0 1 0 3.6 0a1.8 1.8 0 1 0 -3.6 0M874.1 239.9a1.8 1.8 0 1 0 3.6 0a1.8 1.8 0 1 0 -3.6 0M862.7 216.5a1.8 1.8 0 1 0 3.6 0a1.8 1.8 0 1 0 -3.6 0M874.6 238.1a1.8 1.8 0 1 0 3.6 0a1.8 1.8 0 1 0 -3.6 0M876.3 238.3a1.8 1.8 0 1 0 3.6 0a1.8 1.8 0 1 0 -3.6 0M838.3 177.2a1.8 1.8 0 1 0 3.6 0a1.8 1.8 0 1 0 -3.6 0M825.1 226.7a1.8 1.8 0 1 0 3.6 0a1.8 1.8 0 1 0 -3.6 0M825 235.4a1.8 1.8 0 1 0 3.6 0a1.8 1.8 0 1 0 -3.6 0M842.1 133.2a1.8 1.8 0 1 0 3.6 0a1.8 1.8 0 1 0 -3.6 0M877.1 232.6a1.8 1.8 0 1 0 3.6 0a1.8 1.8 0 1 0 -3.6 0M877.1 235.3a1.8 1.8 0 1 0 3.6 0a1.8 1.8 0 1 0 -3.6 0M843.5 122.1a1.8 1.8 0 1 0 3.6 0a1.8 1.8 0 1 0 -3.6 0M858.7 190.9a1.8 1.8 0 1 0 3.6 0a1.8 1.8 0 1 0 -3.6 0M854.5 156a1.8 1.8 0 1 0 3.6 0a1.8 1.8 0 1 0 -3.6 0M874.1 236.4a1.8 1.8 0 1 0 3.6 0a1.8 1.8 0 1 0 -3.6 0M825 234.8a1.8 1.8 0 1 0 3.6 0a1.8 1.8 0 1 0 -3.6 0M828.3 228a1.8 1.8 0 1 0 3.6 0a1.8 1.8 0 1 0 -3.6 0M875 239.8a1.8 1.8 0 1 0 3.6 0a1.8 1.8 0 1 0 -3.6 0M872.4 227.9a1.8 1.8 0 1 0 3.6 0a1.8 1.8 0 1 0 -3.6 0M832.3 211.4a1.8 1.8 0 1 0 3.6 0a1.8 1.8 0 1 0 -3.6 0M830 224.1a1.8 1.8 0 1 0 3.6 0a1.8 1.8 0 1 0 -3.6 0M850.1 99.2a1.8 1.8 0 1 0 3.6 0a1.8 1.8 0 1 0 -3.6 0M870.8 231.6a1.8 1.8 0 1 0 3.6 0a1.8 1.8 0 1 0 -3.6 0M865.9 221.8a1.8 1.8 0 1 0 3.6 0a1.8 1.8 0 1 0 -3.6 0M854.3 152.7a1.8 1.8 0 1 0 3.6 0a1.8 1.8 0 1 0 -3.6 0M852 141.3a1.8 1.8 0 1 0 3.6 0a1.8 1.8 0 1 0 -3.6 0M872.4 237.4a1.8 1.8 0 1 0 3.6 0a1.8 1.8 0 1 0 -3.6 0M864.3 219.2a1.8 1.8 0 1 0 3.6 0a1.8 1.8 0 1 0 -3.6 0M826.1 229.8a1.8 1.8 0 1 0 3.6 0a1.8 1.8 0 1 0 -3.6 0M834.9 206.5a1.8 1.8 0 1 0 3.6 0a1.8 1.8 0 1 0 -3.6 0M835 199.6a1.8 1.8 0 1 0 3.6 0a1.8 1.8 0 1 0 -3.6 0M825.6 232.9a1.8 1.8 0 1 0 3.6 0a1.8 1.8 0 1 0 -3.6 0M827.9 235.5a1.8 1.8 0 1 0 3.6 0a1.8 1.8 0 1 0 -3.6 0M864.2 226.8a1.8 1.8 0 1 0 3.6 0a1.8 1.8 0 1 0 -3.6 0M858.2 189.5a1.8 1.8 0 1 0 3.6 0a1.8 1.8 0 1 0 -3.6 0M876.1 237.4a1.8 1.8 0 1 0 3.6 0a1.8 1.8 0 1 0 -3.6 0M829.8 226.9a1.8 1.8 0 1 0 3.6 0a1.8 1.8 0 1 0 -3.6 0M838.2 180.9a1.8 1.8 0 1 0 3.6 0a1.8 1.8 0 1 0 -3.6 0M830 231.4a1.8 1.8 0 1 0 3.6 0a1.8 1.8 0 1 0 -3.6 0M831.4 213.5a1.8 1.8 0 1 0 3.6 0a1.8 1.8 0 1 0 -3.6 0M819.2 244.4a1.8 1.8 0 1 0 3.6 0a1.8 1.8 0 1 0 -3.6 0M848.8 84.8a1.8 1.8 0 1 0 3.6 0a1.8 1.8 0 1 0 -3.6 0M838.2 188.5a1.8 1.8 0 1 0 3.6 0a1.8 1.8 0 1 0 -3.6 0M842.1 147.3a1.8 1.8 0 1 0 3.6 0a1.8 1.8 0 1 0 -3.6 0M828.8 225.3a1.8 1.8 0 1 0 3.6 0a1.8 1.8 0 1 0 -3.6 0M830.1 218.5a1.8 1.8 0 1 0 3.6 0a1.8 1.8 0 1 0 -3.6 0" fill="none" stroke="#52c6d6" stroke-width="1"/>
<path d="M894.8 233.7a1.8 1.8 0 1 0 3.6 0a1.8 1.8 0 1 0 -3.6 0M868.4 143.8a1.8 1.8 0 1 0 3.6 0a1.8 1.8 0 1 0 -3.6 0M867.2 143.2a1.8 1.8 0 1 0 3.6 0a1.8 1.8 0 1 0 -3.6 0M818.2 242.3a1.8 1.8 0 1 0 3.6 0a1.8 1.8 0 1 0 -3.6 0M842.8 191.5a1.8 1.8 0 1 0 3.6 0a1.8 1.8 0 1 0 -3.6 0M879.5 210.5a1.8 1.8 0 1 0 3.6 0a1.8 1.8 0 1 0 -3.6 0M833.7 220.5a1.8 1.8 0 1 0 3.6 0a1.8 1.8 0 1 0 -3.6 0M824.2 234.9a1.8 1.8 0 1 0 3.6 0a1.8 1.8 0 1 0 -3.6 0M874.8 199.8a1.8 1.8 0 1 0 3.6 0a1.8 1.8 0 1 0 -3.6 0M820.1 238.7a1.8 1.8 0 1 0 3.6 0a1.8 1.8 0 1 0 -3.6 0M863.9 98.2a1.8 1.8 0 1 0 3.6 0a1.8 1.8 0 1 0 -3.6 0M822.2 231.9a1.8 1.8 0 1 0 3.6 0a1.8 1.8 0 1 0 -3.6 0M822.5 226a1.8 1.8 0 1 0 3.6 0a1.8 1.8 0 1 0 -3.6 0M852.1 143.1a1.8 1.8 0 1 0 3.6 0a1.8 1.8 0 1 0 -3.6 0M873.6 186.8a1.8 1.8 0 1 0 3.6 0a1.8 1.8 0 1 0 -3.6 0M833.9 209.1a1.8 1.8 0 1 0 3.6 0a1.8 1.8 0 1 0 -3.6 0M893.8 245.9a1.8 1.8 0 1 0 3.6 0a1.8 1.8 0 1 0 -3.6 0M822.1 241.5a1.8 1.8 0 1 0 3.6 0a1.8 1.8 0 1 0 -3.6 0M899.6 238.2a1.8 1.8 0 1 0 3.6 0a1.8 1.8 0 1 0 -3.6 0M819.1 239.9a1.8 1.8 0 1 0 3.6 0a1.8 1.8 0 1 0 -3.6 0M897.8 240.9a1.8 1.8 0 1 0 3.6 0a1.8 1.8 0 1 0 -3.6 0M822 236a1.8 1.8 0 1 0 3.6 0a1.8 1.8 0 1 0 -3.6 0M829.9 233.1a1.8 1.8 0 1 0 3.6 0a1.8 1.8 0 1 0 -3.6 0M843.5 193.3a1.8 1.8 0 1 0 3.6 0a1.8 1.8 0 1 0 -3.6 0M828.1 226.5a1.8 1.8 0 1 0 3.6 0a1.8 1.8 0 1 0 -3.6 0M843.6 186.7a1.8 1.8 0 1 0 3.6 0a1.8 1.8 0 1 0 -3.6 0M819.9 238.1a1.8 1.8 0 1 0 3.6 0a1.8 1.8 0 1 0 -3.6 0M836.5 210.9a1.8 1.8 0 1 0 3.6 0a1.8 1.8 0 1 0 -3.6 0M888.8 225.6a1.8 1.8 0 1 0 3.6 0a1.8 1.8 0 1 0 -3.6 0M847.7 171.3a1.8 1.8 0 1 0 3.6 0a1.8 1.8 0 1 0 -3.6 0M878.4 207a1.8 1.8 0 1 0 3.6 0a1.8 1.8 0 1 0 -3.6 0M890.7 234a1.8 1.8 0 1 0 3.6 0a1.8 1.8 0 1 0 -3.6 0M900.3 240.9a1.8 1.8 0 1 0 3.6 0a1.8 1.8 0 1 0 -3.6 0M826.8 240.2a1.8 1.8 0 1 0 3.6 0a1.8 1.8 0 1 0 -3.6 0M843.7 195.4a1.8 1.8 0 1 0 3.6 0a1.8 1.8 0 1 0 -3.6 0M860.9 78.9a1.8 1.8 0 1 0 3.6 0a1.8 1.8 0 1 0 -3.6 0M886 234.7a1.8 1.8 0 1 0 3.6 0a1.8 1.8 0 1 0 -3.6 0M838.6 209.4a1.8 1.8 0 1 0 3.6 0a1.8 1.8 0 1 0 -3.6 0M824.1 236.2a1.8 1.8 0 1 0 3.6 0a1.8 1.8 0 1 0 -3.6 0M895 237.3a1.8 1.8 0 1 0 3.6 0a1.8 1.8 0 1 0 -3.6 0M899.7 233.2a1.8 1.8 0 1 0 3.6 0a1.8 1.8 0 1 0 -3.6 0M832.2 229.4a1.8 1.8 0 1 0 3.6 0a1.8 1.8 0 1 0 -3.6 0M898.8 240.4a1.8 1.8 0 1 0 3.6 0a1.8 1.8 0 1 0 -3.6 0M857.6 76.4a1.8 1.8 0 1 0 3.6 0a1.8 1.8 0 1 0 -3.6 0M892.6 238.2a1.8 1.8 0 1 0 3.6 0a1.8 1.8 0 1 0 -3.6 0M901.5 242.9a1.8 1.8 0 1 0 3.6 0a1.8 1.8 0 1 0 -3.6 0M858 70.7a1.8 1.8 0 1 0 3.6 0a1.8 1.8 0 1 0 -3.6 0M856.4 81.4a1.8 1.8 0 1 0 3.6 0a1.8 1.8 0 1 0 -3.6 0M874.3 197.8a1.8 1.8 0 1 0 3.6 0a1.8 1.8 0 1 0 -3.6 0M862.7 88.7a1.8 1.8 0 1 0 3.6 0a1.8 1.8 0 1 0 -3.6 0M840.3 202.3a1.8 1.8 0 1 0 3.6 0a1.8 1.8 0 1 0 -3.6 0M886.6 226.4a1.8 1.8 0 1 0 3.6 0a1.8 1.8 0 1 0 -3.6 0M898.4 234a1.8 1.8 0 1 0 3.6 0a1.8 1.8 0 1 0 -3.6 0M898.5 238.1a1.8 1.8 0 1 0 3.6 0a1.8 1.8 0 1 0 -3.6 0M868.6 150.8a1.8 1.8 0 1 0 3.6 0a1.8 1.8 0 1 0 -3.6 0M845.5 181.6a1.8 1.8 0 1 0 3.6 0a1.8 1.8 0 1 0 -3.6 0M830.5 224.9a1.8 1.8 0 1 0 3.6 0a1.8 1.8 0 1 0 -3.6 0M888.7 231.3a1.8 1.8 0 1 0 3.6 0a1.8 1.8 0 1 0 -3.6 0M864.3 108.4a1.8 1.8 0 1 0 3.6 0a1.8 1.8 0 1 0 -3.6 0M879.8 216.8a1.8 1.8 0 1 0 3.6 0a1.8 1.8 0 1 0 -3.6 0M830.5 225.3a1.8 1.8 0 1 0 3.6 0a1.8 1.8 0 1 0 -3.6 0M868.6 147.1a1.8 1.8 0 1 0 3.6 0a1.8 1.8 0 1 0 -3.6 0M853 117.9a1.8 1.8 0 1 0 3.6 0a1.8 1.8 0 1 0 -3.6 0M897.4 240.1a1.8 1.8 0 1 0 3.6 0a1.8 1.8 0 1 0 -3.6 0M858.3 75.4a1.8 1.8 0 1 0 3.6 0a1.8 1.8 0 1 0 -3.6 0M892.4 240.3a1.8 1.8 0 1 0 3.6 0a1.8 1.8 0 1 0 -3.6 0M872.5 187.9a1.8 1.8 0 1 0 3.6 0a1.8 1.8 0 1 0 -3.6 0M894.9 235.3a1.8 1.8 0 1 0 3.6 0a1.8 1.8 0 1 0 -3.6 0M881.7 214.8a1.8 1.8 0 1 0 3.6 0a1.8 1.8 0 1 0 -3.6 0M863.7 102.4a1.8 1.8 0 1 0 3.6 0a1.8 1.8 0 1 0 -3.6 0M850.8 139.8a1.8 1.8 0 1 0 3.6 0a1.8 1.8 0 1 0 -3.6 0M870.9 174.9a1.8 1.8 0 1 0 3.6 0a1.8 1.8 0 1 0 -3.6 0M870.4 162.3a1.8 1.8 0 1 0 3.6 0a1.8 1.8 0 1 0 -3.6 0M825.8 234.1a1.8 1.8 0 1 0 3.6 0a1.8 1.8 0 1 0 -3.6 0M880 212a1.8 1.8 0 1 0 3.6 0a1.8 1.8 0 1 0 -3.6 0M874.9 201.5a1.8 1.8 0 1 0 3.6 0a1.8 1.8 0 1 0 -3.6 0M872.9 189a1.8 1.8 0 1 0 3.6 0a1.8 1.8 0 1 0 -3.6 0M888.7 227.3a1.8 1.8 0 1 0 3.6 0a1.8 1.8 0 1 0 -3.6 0M864.9 109.5a1.8 1.8 0 1 0 3.6 0a1.8 1.8 0 1 0 -3.6 0M870.9 169.6a1.8 1.8 0 1 0 3.6 0a1.8 1.8 0 1 0 -3.6 0M821.5 236.9a1.8 1.8 0 1 0 3.6 0a1.8 1.8 0 1 0 -3.6 0M862.3 86.4a1.8 1.8 0 1 0 3.6 0a1.8 1.8 0 1 0 -3.6 0M820.6 238.5a1.8 1.8 0 1 0 3.6 0a1.8 1.8 0 1 0 -3.6 0M866.1 125.4a1.8 1.8 0 1 0 3.6 0a1.8 1.8 0 1 0 -3.6 0M850.3 140a1.8 1.8 0 1 0 3.6 0a1.8 1.8 0 1 0 -3.6 0" fill="none" stroke="#1e2aa0" stroke-width="1"/>
<path d="M737.5 255.3L909.7 255.3" stroke="#f5505a" stroke-width="2.2"/>
<path d="M737.5 250.9l.7-.1.6-.1.7-.2.6-.4.7-.4.6-.6.7-.8.7-1 .6-1.2.7-1.5.6-1.8.7-2 .6-2.3.7-2.4.7-2.5.6-2.6.7-2.4.6-2.2.7-1.8.7-1.4.6-.8.7-.2.6.4.7.9.6 1.5.7 2 .7 2.2.6 2.5.7 2.5.6 2.5.7 2.4.6 2.2.7 2 .7 1.7.6 1.4.7 1.2.6.9.7.8.6.5.7.4.7.3.6.2.7.2" stroke="#f25a6e" stroke-width="1.5" fill="none" stroke-linejoin="round" stroke-linecap="round"/>
<path d="M737.5 251.1l.7 0 .6 0 .7 0 .6 0 .7 0 .6 0 .7 0 .7 0 .6 0 .7 0 .6 0 .7-.1.6 0 .7-.1.7-.1.6-.1.7-.2.6-.3.7-.3.7-.6.6-.6.7-.9.6-1.2.7-1.4.6-1.7.7-2.1.7-2.5.6-2.8.7-3.2.6-3.4.7-3.7.6-3.9.7-3.9.7-3.8.6-3.5.7-3.1.6-2.7.7-1.9.6-1.2.7-.4.7.4.6 1.2.7 1.9.6 2.7.7 3.1.6 3.5.7 3.8.7 3.9.6 3.9.7 3.7.6 3.4.7 3.2.7 2.8.6 2.5.7 2.1.6 1.7.7 1.4.6 1.2.7.9.7.6.6.6.7.3.6.3.7.2" stroke="#f29a72" stroke-width="1.5" fill="none" stroke-linejoin="round" stroke-linecap="round"/>
<path d="M737.5 251.1l.7 0 .6 0 .7 0 .6 0 .7 0 .6 0 .7 0 .7 0 .6 0 .7 0 .6 0 .7 0 .6 0 .7 0 .7 0 .6 0 .7 0 .6 0 .7 0 .7 0 .6 0 .7 0 .6 0 .7 0 .6 0 .7 0 .7 0 .6 0 .7 0 .6-.1.7 0 .6 0 .7-.1.7-.1.6-.1.7-.1.6-.2.7-.2.6-.3.7-.4.7-.5.6-.6.7-.7.6-.9.7-1.1.6-1.3.7-1.6.7-1.9.6-2.1.7-2.4.6-2.8.7-3.1.7-3.5.6-3.8.7-4.1.6-4.4.7-4.6.6-4.9.7-4.9.7-4.9.6-4.9.7-4.8.6-4.5.7-4.1.6-3.7.7-3.2.7-2.5.6-1.9.7-1.1.6-.4.7.4.6 1.1.7 1.9.7 2.5.6 3.2.7 3.7.6 4.1.7 4.5.7 4.8.6 4.9.7 4.9.6 4.9.7 4.9.6 4.6.7 4.4.7 4.1.6 3.8.7 3.5.6 3.1.7 2.8.6 2.4.7 2.1.7 1.9.6 1.6.7 1.3.6 1.1.7.9.6.7.7.6.7.5.6.4.7.3.6.2.7.2" stroke="#e9c45a" stroke-width="1.5" fill="none" stroke-linejoin="round" stroke-linecap="round"/>
<path d="M782.7 248.4l.7 0 .6-.1.7-.1.6-.1.7-.1.7-.1.6-.1.7-.1.6-.1.7-.2.6-.1.7-.1.7-.2.6-.1.7-.2.6-.2.7-.2.6-.2.7-.2.7-.2.6-.2.7-.3.6-.2.7-.3.7-.3.6-.3.7-.4.6-.4.7-.4.6-.4.7-.5.7-.5.6-.5.7-.6.6-.7.7-.7.6-.7.7-.9.7-.9.6-1 .7-1.1.6-1.2.7-1.4.6-1.5.7-1.6.7-1.9.6-2.1.7-2.3.6-2.6.7-3 .6-3.3.7-3.7.7-4.2.6-4.7.7-5.2.6-5.9.7-6.4.7-6.9.6-7.4.7-7.7.6-7.5.7-7.1.6-6.1.7-4.6.7-2.6.6-.3.7 2 .6 4.2.7 5.7.6 6.9.7 7.5.7 7.7.6 7.5.7 7 .6 6.6.7 6 .6 5.4.7 4.8.7 4.3.6 3.8.7 3.4.6 3.1.7 2.6.6 2.4.7 2.2.7 1.9.6 1.7.7 1.6.6 1.4.7 1.2.7 1.2.6 1 .7.9.6.9.7.8.6.7.7.6.7.6.6.6.7.5.6.5.7.4.6.4.7.4.7.4.6.3.7.3.6.3.7.3.6.2.7.3.7.2.6.2.7.2.6.2.7.1.6.2.7.2.7.1.6.2.7.1.6.1.7.1.7.2.6.1.7.1.6.1.7.1.6.1.7 0 .7.1.6.1.7.1.6.1.7 0 .6.1.7 0 .7.1.6.1.7 0 .6.1.7 0 .6.1.7 0 .7.1.6 0 .7.1.6 0 .7 0 .7.1.6 0 .7.1.6 0 .7 0 .6.1.7 0 .7 0 .6.1.7 0 .6 0 .7 0 .6.1.7 0 .7 0 .6 0 .7.1.6 0 .7 0 .6 0 .7 0 .7.1.6 0 .7 0 .6 0 .7 0 .6.1.7 0 .7 0 .6 0 .7 0 .6 0 .7.1.7 0 .6 0 .7 0 .6 0 .7 0 .6 0 .7.1.7 0 .6 0 .7 0 .6 0" stroke="#8cc652" stroke-width="1.5" fill="none" stroke-linejoin="round" stroke-linecap="round"/>
<path d="M803.3 246.5l.6-.1.7-.2.6-.1.7-.2.6-.1.7-.2.7-.2.6-.1.7-.2.6-.2.7-.2.7-.2.6-.3.7-.2.6-.2.7-.3.6-.3.7-.3.7-.3.6-.3.7-.4.6-.3.7-.4.6-.4.7-.5.7-.4.6-.5.7-.5.6-.6.7-.6.6-.6.7-.7.7-.7.6-.8.7-.9.6-.9.7-1 .6-1 .7-1.2.7-1.2.6-1.3.7-1.5.6-1.6.7-1.7.7-1.9.6-2.1.7-2.3.6-2.5.7-2.8.6-3 .7-3.4.7-3.7.6-4.1.7-4.5.6-4.9.7-5.5.6-6.1.7-6.6.7-7.2.6-7.7.7-8.3.6-8.7.7-9 .6-9 .7-8.8.7-8 .6-7 .7-5.3.6-3.4.7-1.2.6 1.2.7 3.4.7 5.3.6 7 .7 8 .6 8.8.7 9 .7 9 .6 8.7.7 8.3.6 7.7.7 7.2.6 6.6.7 6.1.7 5.5.6 4.9.7 4.5.6 4.1.7 3.7.6 3.4.7 3 .7 2.8.6 2.5.7 2.3.6 2.1.7 1.9.6 1.7.7 1.6.7 1.5.6 1.3.7 1.2.6 1.2.7 1 .7 1 .6.9.7.9.6.8.7.7.6.7.7.6.7.6.6.6.7.5.6.5.7.4.6.5.7.4.7.4.6.3.7.4.6.3.7.3.6.3.7.3.7.3.6.2.7.2.6.3.7.2.6.2.7.2.7.2.6.1.7.2.6.2.7.1.7.2.6.1.7.2.6.1.7.1.6.1.7.2.7.1.6.1.7.1.6.1.7.1.6.1.7.1.7 0 .6.1.7.1.6.1.7.1.6 0 .7.1.7.1.6 0 .7.1.6.1.7 0" stroke="#52c6d6" stroke-width="1.5" fill="none" stroke-linejoin="round" stroke-linecap="round"/>
<path d="M764.6 248.9l.7 0 .6 0 .7-.1.7 0 .6 0 .7-.1.6 0 .7 0 .6-.1.7 0 .7 0 .6-.1.7 0 .6 0 .7-.1.6 0 .7-.1.7 0 .6-.1.7 0 .6 0 .7-.1.7 0 .6-.1.7 0 .6-.1.7 0 .6-.1.7-.1.7 0 .6-.1.7 0 .6-.1.7-.1.6 0 .7-.1.7-.1.6 0 .7-.1.6-.1.7-.1.6 0 .7-.1.7-.1.6-.1.7-.1.6-.1.7-.1.6-.1.7 0 .7-.2.6-.1.7-.1.6-.1.7-.1.7-.1.6-.1.7-.2.6-.1.7-.1.6-.2.7-.1.7-.2.6-.1.7-.2.6-.1.7-.2.6-.2.7-.2.7-.2.6-.2.7-.2.6-.2.7-.2.6-.2.7-.3.7-.2.6-.3.7-.3.6-.3.7-.3.6-.3.7-.3.7-.3.6-.4.7-.3.6-.4.7-.4.7-.5.6-.4.7-.5.6-.4.7-.6.6-.5.7-.6.7-.6.6-.6.7-.7.6-.7.7-.7.6-.8.7-.8.7-.9.6-.9.7-1 .6-1 .7-1.1.6-1.2.7-1.3.7-1.3.6-1.4.7-1.5.6-1.7.7-1.7.6-1.9.7-2 .7-2.1.6-2.3.7-2.4.6-2.7.7-2.8.7-3.1.6-3.3.7-3.5.6-3.8.7-4.1.6-4.3.7-4.7.7-5 .6-5.4.7-5.7.6-6 .7-6.3.6-6.7.7-6.9.7-7 .6-7.2.7-7.1.6-7 .7-6.7.6-6.1.7-5.5.7-4.6.6-3.5.7-2.3.6-1 .7.3.7 1.7.6 2.9.7 4.1.6 5 .7 5.9.6 6.4.7 6.9.7 7 .6 7.2.7 7.1.6 7 .7 6.8.6 6.5.7 6.2.7 5.8.6 5.5.7 5.2.6 4.9.7 4.5.6 4.2.7 4 .7 3.6.6 3.4.7 3.2.6 2.9.7 2.8.6 2.5.7 2.4.7 2.2.6 2.1.7 1.9.6 1.8.7 1.7.7 1.5.6 1.5.7 1.4.6 1.3.7 1.2.6 1.1.7 1.1.7 1 .6 1 .7.9.6.8.7.8.6.8.7.7.7.7.6.6.7.6.6.6.7.6.6.5.7.5.7.5.6.4.7.5.6.4.7.4.6.3.7.4.7.3.6.4.7.3.6.3.7.3.7.3.6.2.7.3.6.2.7.3.6.2.7.2.7.2" stroke="#1e2aa0" stroke-width="1.5" fill="none" stroke-linejoin="round" stroke-linecap="round"/>
<path d="M737.5 251.1L782.7 251.1" stroke="#60b8b0" stroke-width="1.8"/>
<rect x="737.5" y="40" width="172.2" height="242.4" stroke="#666" stroke-width="1" fill="none"/>
<path d="M737.5 270.8L734.5 270.8M909.7 270.8L906.7 270.8" stroke="#666" stroke-width="1"/>
<text x="733" y="274.2" font-size="9.5" text-anchor="end" fill="#444" stroke="#444" stroke-width="0.3">0.0</text>
<path d="M737.5 224.5L734.5 224.5M909.7 224.5L906.7 224.5" stroke="#666" stroke-width="1"/>
<text x="733" y="227.9" font-size="9.5" text-anchor="end" fill="#444" stroke="#444" stroke-width="0.3">0.2</text>
<path d="M737.5 178.2L734.5 178.2M909.7 178.2L906.7 178.2" stroke="#666" stroke-width="1"/>
<text x="733" y="181.6" font-size="9.5" text-anchor="end" fill="#444" stroke="#444" stroke-width="0.3">0.4</text>
<path d="M737.5 131.9L734.5 131.9M909.7 131.9L906.7 131.9" stroke="#666" stroke-width="1"/>
<text x="733" y="135.3" font-size="9.5" text-anchor="end" fill="#444" stroke="#444" stroke-width="0.3">0.6</text>
<path d="M737.5 85.6L734.5 85.6M909.7 85.6L906.7 85.6" stroke="#666" stroke-width="1"/>
<text x="733" y="89" font-size="9.5" text-anchor="end" fill="#444" stroke="#444" stroke-width="0.3">0.8</text>
<path d="M737.5 39.3L734.5 39.3M909.7 39.3L906.7 39.3" stroke="#666" stroke-width="1"/>
<text x="733" y="42.7" font-size="9.5" text-anchor="end" fill="#444" stroke="#444" stroke-width="0.3">1.0</text>
<path d="M737.5 247.7L735.7 247.7M909.7 247.7L907.9 247.7M737.5 201.3L735.7 201.3M909.7 201.3L907.9 201.3M737.5 155.1L735.7 155.1M909.7 155.1L907.9 155.1M737.5 108.8L735.7 108.8M909.7 108.8L907.9 108.8M737.5 62.5L735.7 62.5M909.7 62.5L907.9 62.5M766.3 282.4L766.3 284.4" stroke="#666" stroke-width="1"/>
<text x="766.3" y="295" font-size="9.5" text-anchor="middle" fill="#444" stroke="#444" stroke-width="0.3">1500</text>
<path d="M807.4 282.4L807.4 284.4" stroke="#666" stroke-width="1"/>
<text x="807.4" y="295" font-size="9.5" text-anchor="middle" fill="#444" stroke="#444" stroke-width="0.3">2000</text>
<path d="M848.5 282.4L848.5 284.4" stroke="#666" stroke-width="1"/>
<text x="848.5" y="295" font-size="9.5" text-anchor="middle" fill="#444" stroke="#444" stroke-width="0.3">2500</text>
<path d="M889.6 282.4L889.6 284.4" stroke="#666" stroke-width="1"/>
<text x="889.6" y="295" font-size="9.5" text-anchor="middle" fill="#444" stroke="#444" stroke-width="0.3">3000</text>
<path d="M745.7 282.4L745.7 284.2M786.8 282.4L786.8 284.2M827.9 282.4L827.9 284.2M869 282.4L869 284.2" stroke="#666" stroke-width="1"/>
<text font-size="10.5" text-anchor="middle" fill="#333" stroke="#333" stroke-width="0.3" transform="translate(827 307) scale(1.080 1)">Wave number (cm<tspan dy="-4" font-size="7">−1</tspan><tspan dy="4">)</tspan></text>
<text font-size="10.8" text-anchor="middle" fill="#333" stroke="#333" stroke-width="0.3" transform="translate(704.8 157.5) rotate(-90)">Intensity (a.u.)</text>
<path d="M765.7 40L765.7 42.5" stroke="#666" stroke-width="1"/>
<text x="765.7" y="35.3" font-size="9.5" text-anchor="middle" fill="#444" stroke="#444" stroke-width="0.3">6.7</text>
<path d="M807 40L807 42.5" stroke="#666" stroke-width="1"/>
<text x="807" y="35.3" font-size="9.5" text-anchor="middle" fill="#444" stroke="#444" stroke-width="0.3">5.0</text>
<path d="M847.8 40L847.8 42.5" stroke="#666" stroke-width="1"/>
<text x="847.8" y="35.3" font-size="9.5" text-anchor="middle" fill="#444" stroke="#444" stroke-width="0.3">4.0</text>
<path d="M888.8 40L888.8 42.5" stroke="#666" stroke-width="1"/>
<text x="888.8" y="35.3" font-size="9.5" text-anchor="middle" fill="#444" stroke="#444" stroke-width="0.3">3.3</text>
<path d="M780 40L780 41.5M825.6 40L825.6 41.5M871.3 40L871.3 41.5" stroke="#666" stroke-width="1"/>
<text font-size="10.5" text-anchor="middle" fill="#333" stroke="#333" stroke-width="0.3" transform="translate(824 23) scale(1.120 1)">Wavelength (μm)</text>
<text x="862.5" y="62.8" font-size="9.3" text-anchor="middle" fill="#2a35a8" stroke="#2a35a8" stroke-width="0.3">0 V</text>
<text x="847.6" y="79.3" font-size="9.3" text-anchor="middle" fill="#55c8d8" stroke="#55c8d8" stroke-width="0.3">5 V</text>
<text x="825" y="126.5" font-size="9.3" text-anchor="middle" fill="#8cc652" stroke="#8cc652" stroke-width="0.3">10 V</text>
<text x="783.6" y="148.3" font-size="9.3" text-anchor="middle" fill="#e9c45a" stroke="#e9c45a" stroke-width="0.3">20 V</text>
<text x="761.6" y="175.5" font-size="9.3" text-anchor="middle" fill="#f2a27a" stroke="#f2a27a" stroke-width="0.3">30 V</text>
<text x="748.7" y="195.7" font-size="9.3" text-anchor="middle" fill="#f25a6e" stroke="#f25a6e" stroke-width="0.3">40 V</text>
<path d="M1144.7 227.6a1.9 1.9 0 1 0 3.8 0a1.9 1.9 0 1 0 -3.8 0M1199.5 244.5a1.9 1.9 0 1 0 3.8 0a1.9 1.9 0 1 0 -3.8 0M1164.8 227.7a1.9 1.9 0 1 0 3.8 0a1.9 1.9 0 1 0 -3.8 0M1117.8 224.5a1.9 1.9 0 1 0 3.8 0a1.9 1.9 0 1 0 -3.8 0M1199.6 241.4a1.9 1.9 0 1 0 3.8 0a1.9 1.9 0 1 0 -3.8 0M1057.5 235.2a1.9 1.9 0 1 0 3.8 0a1.9 1.9 0 1 0 -3.8 0M1118.4 223.4a1.9 1.9 0 1 0 3.8 0a1.9 1.9 0 1 0 -3.8 0M1136.4 215.4a1.9 1.9 0 1 0 3.8 0a1.9 1.9 0 1 0 -3.8 0M1040.3 212a1.9 1.9 0 1 0 3.8 0a1.9 1.9 0 1 0 -3.8 0M1195 228.1a1.9 1.9 0 1 0 3.8 0a1.9 1.9 0 1 0 -3.8 0M1169.2 223a1.9 1.9 0 1 0 3.8 0a1.9 1.9 0 1 0 -3.8 0M1061.8 200.2a1.9 1.9 0 1 0 3.8 0a1.9 1.9 0 1 0 -3.8 0M1143.8 226.4a1.9 1.9 0 1 0 3.8 0a1.9 1.9 0 1 0 -3.8 0M1187.3 231.8a1.9 1.9 0 1 0 3.8 0a1.9 1.9 0 1 0 -3.8 0M1073.9 211.7a1.9 1.9 0 1 0 3.8 0a1.9 1.9 0 1 0 -3.8 0M1187.5 213.9a1.9 1.9 0 1 0 3.8 0a1.9 1.9 0 1 0 -3.8 0M1087.6 207.7a1.9 1.9 0 1 0 3.8 0a1.9 1.9 0 1 0 -3.8 0M1154.1 230.3a1.9 1.9 0 1 0 3.8 0a1.9 1.9 0 1 0 -3.8 0M1073.1 203a1.9 1.9 0 1 0 3.8 0a1.9 1.9 0 1 0 -3.8 0M1203.6 237.4a1.9 1.9 0 1 0 3.8 0a1.9 1.9 0 1 0 -3.8 0M1191.1 234.4a1.9 1.9 0 1 0 3.8 0a1.9 1.9 0 1 0 -3.8 0M1066.5 207.5a1.9 1.9 0 1 0 3.8 0a1.9 1.9 0 1 0 -3.8 0M1063 208.3a1.9 1.9 0 1 0 3.8 0a1.9 1.9 0 1 0 -3.8 0M1141.4 223.7a1.9 1.9 0 1 0 3.8 0a1.9 1.9 0 1 0 -3.8 0M1038.7 218.4a1.9 1.9 0 1 0 3.8 0a1.9 1.9 0 1 0 -3.8 0M1091.2 228.3a1.9 1.9 0 1 0 3.8 0a1.9 1.9 0 1 0 -3.8 0M1178.2 236.9a1.9 1.9 0 1 0 3.8 0a1.9 1.9 0 1 0 -3.8 0M1120.5 222.9a1.9 1.9 0 1 0 3.8 0a1.9 1.9 0 1 0 -3.8 0M1158.7 209.4a1.9 1.9 0 1 0 3.8 0a1.9 1.9 0 1 0 -3.8 0M1042 203.1a1.9 1.9 0 1 0 3.8 0a1.9 1.9 0 1 0 -3.8 0M1166.5 228.7a1.9 1.9 0 1 0 3.8 0a1.9 1.9 0 1 0 -3.8 0M1173 231.4a1.9 1.9 0 1 0 3.8 0a1.9 1.9 0 1 0 -3.8 0M1100.8 222.6a1.9 1.9 0 1 0 3.8 0a1.9 1.9 0 1 0 -3.8 0M1046.1 215.4a1.9 1.9 0 1 0 3.8 0a1.9 1.9 0 1 0 -3.8 0M1069.1 210.7a1.9 1.9 0 1 0 3.8 0a1.9 1.9 0 1 0 -3.8 0M1167.5 231a1.9 1.9 0 1 0 3.8 0a1.9 1.9 0 1 0 -3.8 0M1197.3 228a1.9 1.9 0 1 0 3.8 0a1.9 1.9 0 1 0 -3.8 0M1098.8 224.3a1.9 1.9 0 1 0 3.8 0a1.9 1.9 0 1 0 -3.8 0M1127.9 224.1a1.9 1.9 0 1 0 3.8 0a1.9 1.9 0 1 0 -3.8 0M1166.2 232.9a1.9 1.9 0 1 0 3.8 0a1.9 1.9 0 1 0 -3.8 0M1174.6 229.3a1.9 1.9 0 1 0 3.8 0a1.9 1.9 0 1 0 -3.8 0M1200 234.9a1.9 1.9 0 1 0 3.8 0a1.9 1.9 0 1 0 -3.8 0M1053.7 223.9a1.9 1.9 0 1 0 3.8 0a1.9 1.9 0 1 0 -3.8 0M1195.3 225.8a1.9 1.9 0 1 0 3.8 0a1.9 1.9 0 1 0 -3.8 0M1096.3 210a1.9 1.9 0 1 0 3.8 0a1.9 1.9 0 1 0 -3.8 0M1091.6 226a1.9 1.9 0 1 0 3.8 0a1.9 1.9 0 1 0 -3.8 0M1092.3 218.6a1.9 1.9 0 1 0 3.8 0a1.9 1.9 0 1 0 -3.8 0M1063.6 212.9a1.9 1.9 0 1 0 3.8 0a1.9 1.9 0 1 0 -3.8 0M1156.1 223.7a1.9 1.9 0 1 0 3.8 0a1.9 1.9 0 1 0 -3.8 0M1046.4 214.9a1.9 1.9 0 1 0 3.8 0a1.9 1.9 0 1 0 -3.8 0M1207 240.4a1.9 1.9 0 1 0 3.8 0a1.9 1.9 0 1 0 -3.8 0M1078.7 220.9a1.9 1.9 0 1 0 3.8 0a1.9 1.9 0 1 0 -3.8 0M1139.8 222.1a1.9 1.9 0 1 0 3.8 0a1.9 1.9 0 1 0 -3.8 0M1110.3 231.6a1.9 1.9 0 1 0 3.8 0a1.9 1.9 0 1 0 -3.8 0M1047.6 212.3a1.9 1.9 0 1 0 3.8 0a1.9 1.9 0 1 0 -3.8 0M1122.6 225.2a1.9 1.9 0 1 0 3.8 0a1.9 1.9 0 1 0 -3.8 0M1181.6 223.9a1.9 1.9 0 1 0 3.8 0a1.9 1.9 0 1 0 -3.8 0M1200.7 226.5a1.9 1.9 0 1 0 3.8 0a1.9 1.9 0 1 0 -3.8 0M1146 226.1a1.9 1.9 0 1 0 3.8 0a1.9 1.9 0 1 0 -3.8 0M1112.5 227.1a1.9 1.9 0 1 0 3.8 0a1.9 1.9 0 1 0 -3.8 0M1063.6 211.8a1.9 1.9 0 1 0 3.8 0a1.9 1.9 0 1 0 -3.8 0M1115.7 229.5a1.9 1.9 0 1 0 3.8 0a1.9 1.9 0 1 0 -3.8 0M1209.2 225.3a1.9 1.9 0 1 0 3.8 0a1.9 1.9 0 1 0 -3.8 0M1115.7 243a1.9 1.9 0 1 0 3.8 0a1.9 1.9 0 1 0 -3.8 0M1121.7 225.3a1.9 1.9 0 1 0 3.8 0a1.9 1.9 0 1 0 -3.8 0M1087.9 231.1a1.9 1.9 0 1 0 3.8 0a1.9 1.9 0 1 0 -3.8 0M1107.2 216.7a1.9 1.9 0 1 0 3.8 0a1.9 1.9 0 1 0 -3.8 0M1207.3 230a1.9 1.9 0 1 0 3.8 0a1.9 1.9 0 1 0 -3.8 0M1202.4 238.9a1.9 1.9 0 1 0 3.8 0a1.9 1.9 0 1 0 -3.8 0M1096 229a1.9 1.9 0 1 0 3.8 0a1.9 1.9 0 1 0 -3.8 0M1053.3 218.3a1.9 1.9 0 1 0 3.8 0a1.9 1.9 0 1 0 -3.8 0M1186.6 220.6a1.9 1.9 0 1 0 3.8 0a1.9 1.9 0 1 0 -3.8 0M1100 217.6a1.9 1.9 0 1 0 3.8 0a1.9 1.9 0 1 0 -3.8 0M1157 241.1a1.9 1.9 0 1 0 3.8 0a1.9 1.9 0 1 0 -3.8 0M1151.8 227.3a1.9 1.9 0 1 0 3.8 0a1.9 1.9 0 1 0 -3.8 0M1158.7 235.7a1.9 1.9 0 1 0 3.8 0a1.9 1.9 0 1 0 -3.8 0M1086.2 236.8a1.9 1.9 0 1 0 3.8 0a1.9 1.9 0 1 0 -3.8 0M1156.4 227.1a1.9 1.9 0 1 0 3.8 0a1.9 1.9 0 1 0 -3.8 0M1088.4 206.3a1.9 1.9 0 1 0 3.8 0a1.9 1.9 0 1 0 -3.8 0M1137.5 230a1.9 1.9 0 1 0 3.8 0a1.9 1.9 0 1 0 -3.8 0M1040.1 222.4a1.9 1.9 0 1 0 3.8 0a1.9 1.9 0 1 0 -3.8 0M1153.1 229.6a1.9 1.9 0 1 0 3.8 0a1.9 1.9 0 1 0 -3.8 0M1117.4 218.2a1.9 1.9 0 1 0 3.8 0a1.9 1.9 0 1 0 -3.8 0M1174.7 239.8a1.9 1.9 0 1 0 3.8 0a1.9 1.9 0 1 0 -3.8 0M1097.7 230.8a1.9 1.9 0 1 0 3.8 0a1.9 1.9 0 1 0 -3.8 0M1179.9 239.9a1.9 1.9 0 1 0 3.8 0a1.9 1.9 0 1 0 -3.8 0M1098 210.4a1.9 1.9 0 1 0 3.8 0a1.9 1.9 0 1 0 -3.8 0M1155.9 241.1a1.9 1.9 0 1 0 3.8 0a1.9 1.9 0 1 0 -3.8 0M1205.2 227.4a1.9 1.9 0 1 0 3.8 0a1.9 1.9 0 1 0 -3.8 0M1128.7 227.7a1.9 1.9 0 1 0 3.8 0a1.9 1.9 0 1 0 -3.8 0M1066.5 204.1a1.9 1.9 0 1 0 3.8 0a1.9 1.9 0 1 0 -3.8 0M1119.8 241.7a1.9 1.9 0 1 0 3.8 0a1.9 1.9 0 1 0 -3.8 0M1156.5 230.6a1.9 1.9 0 1 0 3.8 0a1.9 1.9 0 1 0 -3.8 0M1067.5 234.3a1.9 1.9 0 1 0 3.8 0a1.9 1.9 0 1 0 -3.8 0M1171.7 239.3a1.9 1.9 0 1 0 3.8 0a1.9 1.9 0 1 0 -3.8 0M1110.1 229.2a1.9 1.9 0 1 0 3.8 0a1.9 1.9 0 1 0 -3.8 0M1144.9 225.1a1.9 1.9 0 1 0 3.8 0a1.9 1.9 0 1 0 -3.8 0M1161.4 239.4a1.9 1.9 0 1 0 3.8 0a1.9 1.9 0 1 0 -3.8 0M1042.8 207.6a1.9 1.9 0 1 0 3.8 0a1.9 1.9 0 1 0 -3.8 0M1149.4 220.2a1.9 1.9 0 1 0 3.8 0a1.9 1.9 0 1 0 -3.8 0M1075.6 224.1a1.9 1.9 0 1 0 3.8 0a1.9 1.9 0 1 0 -3.8 0M1045.3 229.5a1.9 1.9 0 1 0 3.8 0a1.9 1.9 0 1 0 -3.8 0M1118.8 223.2a1.9 1.9 0 1 0 3.8 0a1.9 1.9 0 1 0 -3.8 0M1060.9 212.9a1.9 1.9 0 1 0 3.8 0a1.9 1.9 0 1 0 -3.8 0M1092.4 217.7a1.9 1.9 0 1 0 3.8 0a1.9 1.9 0 1 0 -3.8 0M1044.2 207.6a1.9 1.9 0 1 0 3.8 0a1.9 1.9 0 1 0 -3.8 0M1117.8 232.5a1.9 1.9 0 1 0 3.8 0a1.9 1.9 0 1 0 -3.8 0M1139.1 218.4a1.9 1.9 0 1 0 3.8 0a1.9 1.9 0 1 0 -3.8 0M1078.8 218.4a1.9 1.9 0 1 0 3.8 0a1.9 1.9 0 1 0 -3.8 0M1107.5 222.4a1.9 1.9 0 1 0 3.8 0a1.9 1.9 0 1 0 -3.8 0M1085.8 223.8a1.9 1.9 0 1 0 3.8 0a1.9 1.9 0 1 0 -3.8 0M1180.4 229.4a1.9 1.9 0 1 0 3.8 0a1.9 1.9 0 1 0 -3.8 0M1102.1 208.8a1.9 1.9 0 1 0 3.8 0a1.9 1.9 0 1 0 -3.8 0M1054.3 212.2a1.9 1.9 0 1 0 3.8 0a1.9 1.9 0 1 0 -3.8 0M1131.4 231.2a1.9 1.9 0 1 0 3.8 0a1.9 1.9 0 1 0 -3.8 0M1202.2 227.2a1.9 1.9 0 1 0 3.8 0a1.9 1.9 0 1 0 -3.8 0M1178.2 242a1.9 1.9 0 1 0 3.8 0a1.9 1.9 0 1 0 -3.8 0M1148.1 220.2a1.9 1.9 0 1 0 3.8 0a1.9 1.9 0 1 0 -3.8 0M1101.3 213.4a1.9 1.9 0 1 0 3.8 0a1.9 1.9 0 1 0 -3.8 0M1134.6 216.8a1.9 1.9 0 1 0 3.8 0a1.9 1.9 0 1 0 -3.8 0M1202 225.8a1.9 1.9 0 1 0 3.8 0a1.9 1.9 0 1 0 -3.8 0M1098.2 223.7a1.9 1.9 0 1 0 3.8 0a1.9 1.9 0 1 0 -3.8 0M1191.1 229.5a1.9 1.9 0 1 0 3.8 0a1.9 1.9 0 1 0 -3.8 0M1135 225.6a1.9 1.9 0 1 0 3.8 0a1.9 1.9 0 1 0 -3.8 0M1143.4 219.5a1.9 1.9 0 1 0 3.8 0a1.9 1.9 0 1 0 -3.8 0M1190.7 225.5a1.9 1.9 0 1 0 3.8 0a1.9 1.9 0 1 0 -3.8 0M1102.4 227.8a1.9 1.9 0 1 0 3.8 0a1.9 1.9 0 1 0 -3.8 0M1088 216.9a1.9 1.9 0 1 0 3.8 0a1.9 1.9 0 1 0 -3.8 0M1204.6 245.3a1.9 1.9 0 1 0 3.8 0a1.9 1.9 0 1 0 -3.8 0M1194.5 222a1.9 1.9 0 1 0 3.8 0a1.9 1.9 0 1 0 -3.8 0M1140.1 227.7a1.9 1.9 0 1 0 3.8 0a1.9 1.9 0 1 0 -3.8 0M1123.1 199.5a1.9 1.9 0 1 0 3.8 0a1.9 1.9 0 1 0 -3.8 0M1109.2 233.7a1.9 1.9 0 1 0 3.8 0a1.9 1.9 0 1 0 -3.8 0M1122.3 201.1a1.9 1.9 0 1 0 3.8 0a1.9 1.9 0 1 0 -3.8 0M1087.1 224.8a1.9 1.9 0 1 0 3.8 0a1.9 1.9 0 1 0 -3.8 0M1144.5 226.2a1.9 1.9 0 1 0 3.8 0a1.9 1.9 0 1 0 -3.8 0M1114 227.3a1.9 1.9 0 1 0 3.8 0a1.9 1.9 0 1 0 -3.8 0M1179.7 219.7a1.9 1.9 0 1 0 3.8 0a1.9 1.9 0 1 0 -3.8 0M1040.3 223.1a1.9 1.9 0 1 0 3.8 0a1.9 1.9 0 1 0 -3.8 0M1198.2 234.4a1.9 1.9 0 1 0 3.8 0a1.9 1.9 0 1 0 -3.8 0M1172 230a1.9 1.9 0 1 0 3.8 0a1.9 1.9 0 1 0 -3.8 0M1064.6 208.4a1.9 1.9 0 1 0 3.8 0a1.9 1.9 0 1 0 -3.8 0M1207.4 236.7a1.9 1.9 0 1 0 3.8 0a1.9 1.9 0 1 0 -3.8 0M1119.4 212a1.9 1.9 0 1 0 3.8 0a1.9 1.9 0 1 0 -3.8 0M1148.5 237.7a1.9 1.9 0 1 0 3.8 0a1.9 1.9 0 1 0 -3.8 0M1058.3 227.2a1.9 1.9 0 1 0 3.8 0a1.9 1.9 0 1 0 -3.8 0M1168.3 232.5a1.9 1.9 0 1 0 3.8 0a1.9 1.9 0 1 0 -3.8 0M1095.6 209.4a1.9 1.9 0 1 0 3.8 0a1.9 1.9 0 1 0 -3.8 0M1088.9 230.9a1.9 1.9 0 1 0 3.8 0a1.9 1.9 0 1 0 -3.8 0M1099.9 223.3a1.9 1.9 0 1 0 3.8 0a1.9 1.9 0 1 0 -3.8 0M1165.6 231.1a1.9 1.9 0 1 0 3.8 0a1.9 1.9 0 1 0 -3.8 0M1081.3 220.5a1.9 1.9 0 1 0 3.8 0a1.9 1.9 0 1 0 -3.8 0M1116.1 207a1.9 1.9 0 1 0 3.8 0a1.9 1.9 0 1 0 -3.8 0M1131.5 234.1a1.9 1.9 0 1 0 3.8 0a1.9 1.9 0 1 0 -3.8 0M1040.6 211.8a1.9 1.9 0 1 0 3.8 0a1.9 1.9 0 1 0 -3.8 0M1136.6 234.5a1.9 1.9 0 1 0 3.8 0a1.9 1.9 0 1 0 -3.8 0M1159.3 234.5a1.9 1.9 0 1 0 3.8 0a1.9 1.9 0 1 0 -3.8 0M1194.2 238.3a1.9 1.9 0 1 0 3.8 0a1.9 1.9 0 1 0 -3.8 0M1104.1 236.2a1.9 1.9 0 1 0 3.8 0a1.9 1.9 0 1 0 -3.8 0M1071.7 204.9a1.9 1.9 0 1 0 3.8 0a1.9 1.9 0 1 0 -3.8 0M1088.8 218.2a1.9 1.9 0 1 0 3.8 0a1.9 1.9 0 1 0 -3.8 0M1181.3 233.5a1.9 1.9 0 1 0 3.8 0a1.9 1.9 0 1 0 -3.8 0M1157 234.1a1.9 1.9 0 1 0 3.8 0a1.9 1.9 0 1 0 -3.8 0M1171.8 227.8a1.9 1.9 0 1 0 3.8 0a1.9 1.9 0 1 0 -3.8 0M1194 228.4a1.9 1.9 0 1 0 3.8 0a1.9 1.9 0 1 0 -3.8 0M1132.1 217.7a1.9 1.9 0 1 0 3.8 0a1.9 1.9 0 1 0 -3.8 0M1123.3 226.7a1.9 1.9 0 1 0 3.8 0a1.9 1.9 0 1 0 -3.8 0M1138.4 221.9a1.9 1.9 0 1 0 3.8 0a1.9 1.9 0 1 0 -3.8 0M1177.1 226.3a1.9 1.9 0 1 0 3.8 0a1.9 1.9 0 1 0 -3.8 0M1178.4 228.9a1.9 1.9 0 1 0 3.8 0a1.9 1.9 0 1 0 -3.8 0M1173.7 231.2a1.9 1.9 0 1 0 3.8 0a1.9 1.9 0 1 0 -3.8 0M1161.8 230.4a1.9 1.9 0 1 0 3.8 0a1.9 1.9 0 1 0 -3.8 0M1205.7 225.1a1.9 1.9 0 1 0 3.8 0a1.9 1.9 0 1 0 -3.8 0M1046.5 214.9a1.9 1.9 0 1 0 3.8 0a1.9 1.9 0 1 0 -3.8 0M1182.3 229.6a1.9 1.9 0 1 0 3.8 0a1.9 1.9 0 1 0 -3.8 0" fill="#a8a8ea" stroke="#2a2aa8" stroke-width="1"/>
<path d="M1201.1 205.2a1.9 1.9 0 1 0 3.8 0a1.9 1.9 0 1 0 -3.8 0M1160.1 133a1.9 1.9 0 1 0 3.8 0a1.9 1.9 0 1 0 -3.8 0M1195.3 208.9a1.9 1.9 0 1 0 3.8 0a1.9 1.9 0 1 0 -3.8 0M1063.7 227.1a1.9 1.9 0 1 0 3.8 0a1.9 1.9 0 1 0 -3.8 0M1065.7 225.9a1.9 1.9 0 1 0 3.8 0a1.9 1.9 0 1 0 -3.8 0M1144.7 68.6a1.9 1.9 0 1 0 3.8 0a1.9 1.9 0 1 0 -3.8 0M1103 209.4a1.9 1.9 0 1 0 3.8 0a1.9 1.9 0 1 0 -3.8 0M1050.4 212.6a1.9 1.9 0 1 0 3.8 0a1.9 1.9 0 1 0 -3.8 0M1165.2 160.1a1.9 1.9 0 1 0 3.8 0a1.9 1.9 0 1 0 -3.8 0M1188.5 203.8a1.9 1.9 0 1 0 3.8 0a1.9 1.9 0 1 0 -3.8 0M1091.9 209.2a1.9 1.9 0 1 0 3.8 0a1.9 1.9 0 1 0 -3.8 0M1140.9 125.2a1.9 1.9 0 1 0 3.8 0a1.9 1.9 0 1 0 -3.8 0M1102.2 209.7a1.9 1.9 0 1 0 3.8 0a1.9 1.9 0 1 0 -3.8 0M1047.6 223.5a1.9 1.9 0 1 0 3.8 0a1.9 1.9 0 1 0 -3.8 0M1146.2 79a1.9 1.9 0 1 0 3.8 0a1.9 1.9 0 1 0 -3.8 0M1124.7 168.5a1.9 1.9 0 1 0 3.8 0a1.9 1.9 0 1 0 -3.8 0M1144.4 85.2a1.9 1.9 0 1 0 3.8 0a1.9 1.9 0 1 0 -3.8 0M1083.2 223.8a1.9 1.9 0 1 0 3.8 0a1.9 1.9 0 1 0 -3.8 0M1166.6 173a1.9 1.9 0 1 0 3.8 0a1.9 1.9 0 1 0 -3.8 0M1126.6 168.2a1.9 1.9 0 1 0 3.8 0a1.9 1.9 0 1 0 -3.8 0M1101.6 206.8a1.9 1.9 0 1 0 3.8 0a1.9 1.9 0 1 0 -3.8 0M1164.2 153.6a1.9 1.9 0 1 0 3.8 0a1.9 1.9 0 1 0 -3.8 0M1150.2 58.5a1.9 1.9 0 1 0 3.8 0a1.9 1.9 0 1 0 -3.8 0M1052.7 223.5a1.9 1.9 0 1 0 3.8 0a1.9 1.9 0 1 0 -3.8 0M1059.5 224.3a1.9 1.9 0 1 0 3.8 0a1.9 1.9 0 1 0 -3.8 0M1139.8 99.4a1.9 1.9 0 1 0 3.8 0a1.9 1.9 0 1 0 -3.8 0M1120.4 170.8a1.9 1.9 0 1 0 3.8 0a1.9 1.9 0 1 0 -3.8 0M1093.4 214.5a1.9 1.9 0 1 0 3.8 0a1.9 1.9 0 1 0 -3.8 0M1162.2 153.8a1.9 1.9 0 1 0 3.8 0a1.9 1.9 0 1 0 -3.8 0M1047.3 211.1a1.9 1.9 0 1 0 3.8 0a1.9 1.9 0 1 0 -3.8 0M1154.7 78.5a1.9 1.9 0 1 0 3.8 0a1.9 1.9 0 1 0 -3.8 0M1076.3 203.7a1.9 1.9 0 1 0 3.8 0a1.9 1.9 0 1 0 -3.8 0M1152 62.7a1.9 1.9 0 1 0 3.8 0a1.9 1.9 0 1 0 -3.8 0M1178.6 191.1a1.9 1.9 0 1 0 3.8 0a1.9 1.9 0 1 0 -3.8 0M1098.7 204a1.9 1.9 0 1 0 3.8 0a1.9 1.9 0 1 0 -3.8 0M1078.3 224.4a1.9 1.9 0 1 0 3.8 0a1.9 1.9 0 1 0 -3.8 0M1097.8 203.5a1.9 1.9 0 1 0 3.8 0a1.9 1.9 0 1 0 -3.8 0M1104.1 199.4a1.9 1.9 0 1 0 3.8 0a1.9 1.9 0 1 0 -3.8 0M1149 54.1a1.9 1.9 0 1 0 3.8 0a1.9 1.9 0 1 0 -3.8 0M1175.8 211a1.9 1.9 0 1 0 3.8 0a1.9 1.9 0 1 0 -3.8 0M1126.7 164.7a1.9 1.9 0 1 0 3.8 0a1.9 1.9 0 1 0 -3.8 0M1139.6 121.7a1.9 1.9 0 1 0 3.8 0a1.9 1.9 0 1 0 -3.8 0M1105.8 214.7a1.9 1.9 0 1 0 3.8 0a1.9 1.9 0 1 0 -3.8 0M1054.7 216.6a1.9 1.9 0 1 0 3.8 0a1.9 1.9 0 1 0 -3.8 0M1044.8 221.2a1.9 1.9 0 1 0 3.8 0a1.9 1.9 0 1 0 -3.8 0M1190.3 225a1.9 1.9 0 1 0 3.8 0a1.9 1.9 0 1 0 -3.8 0M1038.2 221a1.9 1.9 0 1 0 3.8 0a1.9 1.9 0 1 0 -3.8 0M1118.6 183.5a1.9 1.9 0 1 0 3.8 0a1.9 1.9 0 1 0 -3.8 0M1111.5 211.1a1.9 1.9 0 1 0 3.8 0a1.9 1.9 0 1 0 -3.8 0M1117.8 190.5a1.9 1.9 0 1 0 3.8 0a1.9 1.9 0 1 0 -3.8 0M1065.3 218.1a1.9 1.9 0 1 0 3.8 0a1.9 1.9 0 1 0 -3.8 0M1102.2 223.8a1.9 1.9 0 1 0 3.8 0a1.9 1.9 0 1 0 -3.8 0M1064.1 210.4a1.9 1.9 0 1 0 3.8 0a1.9 1.9 0 1 0 -3.8 0M1081.6 219.2a1.9 1.9 0 1 0 3.8 0a1.9 1.9 0 1 0 -3.8 0M1087.2 212.4a1.9 1.9 0 1 0 3.8 0a1.9 1.9 0 1 0 -3.8 0M1078.4 221a1.9 1.9 0 1 0 3.8 0a1.9 1.9 0 1 0 -3.8 0M1196.4 214.3a1.9 1.9 0 1 0 3.8 0a1.9 1.9 0 1 0 -3.8 0M1101.3 199.8a1.9 1.9 0 1 0 3.8 0a1.9 1.9 0 1 0 -3.8 0M1153.5 103.4a1.9 1.9 0 1 0 3.8 0a1.9 1.9 0 1 0 -3.8 0M1118.9 188.5a1.9 1.9 0 1 0 3.8 0a1.9 1.9 0 1 0 -3.8 0M1152.6 92.4a1.9 1.9 0 1 0 3.8 0a1.9 1.9 0 1 0 -3.8 0M1087.9 222.7a1.9 1.9 0 1 0 3.8 0a1.9 1.9 0 1 0 -3.8 0M1066 231.8a1.9 1.9 0 1 0 3.8 0a1.9 1.9 0 1 0 -3.8 0M1072.5 214.3a1.9 1.9 0 1 0 3.8 0a1.9 1.9 0 1 0 -3.8 0M1051.5 221a1.9 1.9 0 1 0 3.8 0a1.9 1.9 0 1 0 -3.8 0M1106.8 199.8a1.9 1.9 0 1 0 3.8 0a1.9 1.9 0 1 0 -3.8 0M1091.5 217a1.9 1.9 0 1 0 3.8 0a1.9 1.9 0 1 0 -3.8 0M1118.2 197.1a1.9 1.9 0 1 0 3.8 0a1.9 1.9 0 1 0 -3.8 0M1161 126.7a1.9 1.9 0 1 0 3.8 0a1.9 1.9 0 1 0 -3.8 0M1066.1 220a1.9 1.9 0 1 0 3.8 0a1.9 1.9 0 1 0 -3.8 0M1199.1 203.7a1.9 1.9 0 1 0 3.8 0a1.9 1.9 0 1 0 -3.8 0M1148.7 107a1.9 1.9 0 1 0 3.8 0a1.9 1.9 0 1 0 -3.8 0M1039.2 213.7a1.9 1.9 0 1 0 3.8 0a1.9 1.9 0 1 0 -3.8 0M1048.5 220.6a1.9 1.9 0 1 0 3.8 0a1.9 1.9 0 1 0 -3.8 0M1045.8 229.9a1.9 1.9 0 1 0 3.8 0a1.9 1.9 0 1 0 -3.8 0M1132 136.8a1.9 1.9 0 1 0 3.8 0a1.9 1.9 0 1 0 -3.8 0M1098 213.8a1.9 1.9 0 1 0 3.8 0a1.9 1.9 0 1 0 -3.8 0M1054.1 206.9a1.9 1.9 0 1 0 3.8 0a1.9 1.9 0 1 0 -3.8 0M1122.2 177a1.9 1.9 0 1 0 3.8 0a1.9 1.9 0 1 0 -3.8 0M1198.3 209.7a1.9 1.9 0 1 0 3.8 0a1.9 1.9 0 1 0 -3.8 0M1046.7 220.3a1.9 1.9 0 1 0 3.8 0a1.9 1.9 0 1 0 -3.8 0M1106.1 202.3a1.9 1.9 0 1 0 3.8 0a1.9 1.9 0 1 0 -3.8 0M1107.9 204.5a1.9 1.9 0 1 0 3.8 0a1.9 1.9 0 1 0 -3.8 0M1090.5 214a1.9 1.9 0 1 0 3.8 0a1.9 1.9 0 1 0 -3.8 0M1204.4 217.1a1.9 1.9 0 1 0 3.8 0a1.9 1.9 0 1 0 -3.8 0M1068.8 228.2a1.9 1.9 0 1 0 3.8 0a1.9 1.9 0 1 0 -3.8 0M1129.1 164.4a1.9 1.9 0 1 0 3.8 0a1.9 1.9 0 1 0 -3.8 0M1052.5 223.3a1.9 1.9 0 1 0 3.8 0a1.9 1.9 0 1 0 -3.8 0M1130.9 151a1.9 1.9 0 1 0 3.8 0a1.9 1.9 0 1 0 -3.8 0M1195.8 227.4a1.9 1.9 0 1 0 3.8 0a1.9 1.9 0 1 0 -3.8 0M1074.8 228.5a1.9 1.9 0 1 0 3.8 0a1.9 1.9 0 1 0 -3.8 0M1041.1 231a1.9 1.9 0 1 0 3.8 0a1.9 1.9 0 1 0 -3.8 0M1135.9 130.7a1.9 1.9 0 1 0 3.8 0a1.9 1.9 0 1 0 -3.8 0M1102.6 220.1a1.9 1.9 0 1 0 3.8 0a1.9 1.9 0 1 0 -3.8 0M1194.4 222.9a1.9 1.9 0 1 0 3.8 0a1.9 1.9 0 1 0 -3.8 0M1090.8 230.2a1.9 1.9 0 1 0 3.8 0a1.9 1.9 0 1 0 -3.8 0M1076.4 214.7a1.9 1.9 0 1 0 3.8 0a1.9 1.9 0 1 0 -3.8 0M1057.9 222.7a1.9 1.9 0 1 0 3.8 0a1.9 1.9 0 1 0 -3.8 0M1170.3 178.5a1.9 1.9 0 1 0 3.8 0a1.9 1.9 0 1 0 -3.8 0M1178.4 200.7a1.9 1.9 0 1 0 3.8 0a1.9 1.9 0 1 0 -3.8 0M1052.1 218.1a1.9 1.9 0 1 0 3.8 0a1.9 1.9 0 1 0 -3.8 0M1080 211.5a1.9 1.9 0 1 0 3.8 0a1.9 1.9 0 1 0 -3.8 0M1136.9 114.5a1.9 1.9 0 1 0 3.8 0a1.9 1.9 0 1 0 -3.8 0M1080.1 207.3a1.9 1.9 0 1 0 3.8 0a1.9 1.9 0 1 0 -3.8 0M1046.3 217.7a1.9 1.9 0 1 0 3.8 0a1.9 1.9 0 1 0 -3.8 0M1072.3 221.6a1.9 1.9 0 1 0 3.8 0a1.9 1.9 0 1 0 -3.8 0M1055 214.4a1.9 1.9 0 1 0 3.8 0a1.9 1.9 0 1 0 -3.8 0M1110.1 210.4a1.9 1.9 0 1 0 3.8 0a1.9 1.9 0 1 0 -3.8 0M1133.3 125.7a1.9 1.9 0 1 0 3.8 0a1.9 1.9 0 1 0 -3.8 0M1191.5 219.7a1.9 1.9 0 1 0 3.8 0a1.9 1.9 0 1 0 -3.8 0M1136.5 140.4a1.9 1.9 0 1 0 3.8 0a1.9 1.9 0 1 0 -3.8 0M1113.8 195.4a1.9 1.9 0 1 0 3.8 0a1.9 1.9 0 1 0 -3.8 0M1201.6 227.5a1.9 1.9 0 1 0 3.8 0a1.9 1.9 0 1 0 -3.8 0M1162.7 156.4a1.9 1.9 0 1 0 3.8 0a1.9 1.9 0 1 0 -3.8 0M1177.1 203.7a1.9 1.9 0 1 0 3.8 0a1.9 1.9 0 1 0 -3.8 0M1103.6 208a1.9 1.9 0 1 0 3.8 0a1.9 1.9 0 1 0 -3.8 0M1067.1 218.5a1.9 1.9 0 1 0 3.8 0a1.9 1.9 0 1 0 -3.8 0M1083 221a1.9 1.9 0 1 0 3.8 0a1.9 1.9 0 1 0 -3.8 0M1049 227.7a1.9 1.9 0 1 0 3.8 0a1.9 1.9 0 1 0 -3.8 0M1168.9 180.3a1.9 1.9 0 1 0 3.8 0a1.9 1.9 0 1 0 -3.8 0M1046.8 222.8a1.9 1.9 0 1 0 3.8 0a1.9 1.9 0 1 0 -3.8 0M1060.4 230.8a1.9 1.9 0 1 0 3.8 0a1.9 1.9 0 1 0 -3.8 0M1200.6 203.9a1.9 1.9 0 1 0 3.8 0a1.9 1.9 0 1 0 -3.8 0M1142.9 80.8a1.9 1.9 0 1 0 3.8 0a1.9 1.9 0 1 0 -3.8 0M1100.1 203.4a1.9 1.9 0 1 0 3.8 0a1.9 1.9 0 1 0 -3.8 0M1094.7 203.9a1.9 1.9 0 1 0 3.8 0a1.9 1.9 0 1 0 -3.8 0M1179.7 199.7a1.9 1.9 0 1 0 3.8 0a1.9 1.9 0 1 0 -3.8 0M1162.5 141.6a1.9 1.9 0 1 0 3.8 0a1.9 1.9 0 1 0 -3.8 0M1067.4 215.2a1.9 1.9 0 1 0 3.8 0a1.9 1.9 0 1 0 -3.8 0M1159.6 162.3a1.9 1.9 0 1 0 3.8 0a1.9 1.9 0 1 0 -3.8 0M1174.2 184.2a1.9 1.9 0 1 0 3.8 0a1.9 1.9 0 1 0 -3.8 0M1058.3 228.4a1.9 1.9 0 1 0 3.8 0a1.9 1.9 0 1 0 -3.8 0M1117 177.7a1.9 1.9 0 1 0 3.8 0a1.9 1.9 0 1 0 -3.8 0M1112.4 216.3a1.9 1.9 0 1 0 3.8 0a1.9 1.9 0 1 0 -3.8 0M1198.4 210.5a1.9 1.9 0 1 0 3.8 0a1.9 1.9 0 1 0 -3.8 0M1129.3 148.9a1.9 1.9 0 1 0 3.8 0a1.9 1.9 0 1 0 -3.8 0M1055.8 223.6a1.9 1.9 0 1 0 3.8 0a1.9 1.9 0 1 0 -3.8 0M1177.5 200.1a1.9 1.9 0 1 0 3.8 0a1.9 1.9 0 1 0 -3.8 0M1205.5 216.8a1.9 1.9 0 1 0 3.8 0a1.9 1.9 0 1 0 -3.8 0M1043.7 230.1a1.9 1.9 0 1 0 3.8 0a1.9 1.9 0 1 0 -3.8 0" fill="#f6a8a8" stroke="#f49a9a" stroke-width="0.6"/>
<path d="M1039.4 222.6l.7-.1.7 0 .7 0 .7 0 .7-.1.7 0 .7 0 .6-.1.7 0 .7 0 .7-.1.7 0 .7 0 .7-.1.7 0 .7 0 .7-.1.7 0 .7-.1.6 0 .7 0 .7-.1.7 0 .7-.1.7 0 .7-.1.7 0 .7-.1.7 0 .7-.1.7 0 .6-.1.7-.1.7 0 .7-.1.7 0 .7-.1.7-.1.7 0 .7-.1.7-.1.7-.1.7 0 .6-.1.7-.1.7-.1.7-.1.7-.1.7 0 .7-.1.7-.1.7-.1.7-.1.7-.1.7-.1.7-.2.6-.1.7-.1.7-.1.7-.1.7-.2.7-.1.7-.1.7-.2.7-.1.7-.2.7-.1.7-.2.6-.2.7-.1.7-.2.7-.2.7-.2.7-.2.7-.2.7-.2.7-.2.7-.2.7-.3.7-.2.6-.3.7-.2.7-.3.7-.3.7-.3.7-.3.7-.3.7-.3.7-.4.7-.3.7-.4.7-.4.6-.4.7-.4.7-.4.7-.5.7-.4.7-.5.7-.5.7-.6.7-.5.7-.6.7-.6.7-.7.6-.6.7-.7.7-.8.7-.7.7-.8.7-.9.7-.9.7-.9.7-1 .7-1.1.7-1 .7-1.2.7-1.2.6-1.3.7-1.3.7-1.4.7-1.5.7-1.6.7-1.7.7-1.8.7-1.8.7-2 .7-2.1.7-2.2.7-2.3.6-2.5.7-2.6.7-2.7.7-2.9.7-3.1.7-3.2.7-3.4.7-3.5.7-3.7.7-3.9.7-4.1.7-4.2.6-4.4.7-4.5.7-4.6.7-4.7.7-4.7.7-4.7.7-4.7.7-4.5.7-4.4.7-4.2.7-3.8.7-3.5.6-2.9.7-2.5.7-1.9.7-1.2.7-.5.7.1.7.8.7 1.4.7 2.1.7 2.7.7 3.1.7 3.6.6 4 .7 4.3.7 4.4.7 4.6.7 4.8.7 4.7.7 4.7.7 4.7.7 4.6.7 4.5.7 4.3.7 4.2.7 4 .6 3.9.7 3.7.7 3.5.7 3.3.7 3.2.7 3 .7 2.9.7 2.7.7 2.6.7 2.4.7 2.3.7 2.2.6 2 .7 2 .7 1.8.7 1.8.7 1.6.7 1.6.7 1.5.7 1.4.7 1.3.7 1.3.7 1.2.7 1.2.6 1.1.7 1 .7 1 .7.9.7.9.7.9.7.8.7.8.7.7.7.7.7.7.7.6.6.7.7.5.7.6.7.6.7.5.7.5.7.5.7.4.7.5.7.4.7.4.7.4.6.4.7.3.7.4.7.3.7.4.7.3.7.3.7.3.7.3.7.2.7.3.7.3.7.2.6.2.7.3.7.2.7.2.7.2.7.2.7.2.7.2.7.2" stroke="#f4827a" stroke-width="1.8" fill="none" stroke-linejoin="round" stroke-linecap="round"/>
<rect x="1039.8" y="45.1" width="171.7" height="222.4" stroke="#666" stroke-width="1" fill="none"/>
<path d="M1039.8 258.4L1036.8 258.4M1211.5 258.4L1208.5 258.4" stroke="#666" stroke-width="1"/>
<text x="1035.5" y="261.8" font-size="9.5" text-anchor="end" fill="#444" stroke="#444" stroke-width="0.3">0.0</text>
<path d="M1039.8 215.7L1036.8 215.7M1211.5 215.7L1208.5 215.7" stroke="#666" stroke-width="1"/>
<text x="1035.5" y="219.1" font-size="9.5" text-anchor="end" fill="#444" stroke="#444" stroke-width="0.3">0.2</text>
<path d="M1039.8 173.1L1036.8 173.1M1211.5 173.1L1208.5 173.1" stroke="#666" stroke-width="1"/>
<text x="1035.5" y="176.5" font-size="9.5" text-anchor="end" fill="#444" stroke="#444" stroke-width="0.3">0.4</text>
<path d="M1039.8 130.4L1036.8 130.4M1211.5 130.4L1208.5 130.4" stroke="#666" stroke-width="1"/>
<text x="1035.5" y="133.8" font-size="9.5" text-anchor="end" fill="#444" stroke="#444" stroke-width="0.3">0.6</text>
<path d="M1039.8 87.8L1036.8 87.8M1211.5 87.8L1208.5 87.8" stroke="#666" stroke-width="1"/>
<text x="1035.5" y="91.2" font-size="9.5" text-anchor="end" fill="#444" stroke="#444" stroke-width="0.3">0.8</text>
<path d="M1039.8 45.1L1036.8 45.1M1211.5 45.1L1208.5 45.1" stroke="#666" stroke-width="1"/>
<text x="1035.5" y="48.5" font-size="9.5" text-anchor="end" fill="#444" stroke="#444" stroke-width="0.3">1.0</text>
<path d="M1039.8 237.1L1038 237.1M1211.5 237.1L1209.7 237.1M1039.8 194.4L1038 194.4M1211.5 194.4L1209.7 194.4M1039.8 151.8L1038 151.8M1211.5 151.8L1209.7 151.8M1039.8 109.1L1038 109.1M1211.5 109.1L1209.7 109.1M1039.8 66.5L1038 66.5M1211.5 66.5L1209.7 66.5M1074 267.5L1074 269.5" stroke="#666" stroke-width="1"/>
<text x="1074" y="281" font-size="9.5" text-anchor="middle" fill="#444" stroke="#444" stroke-width="0.3">2000</text>
<path d="M1131.7 267.5L1131.7 269.5" stroke="#666" stroke-width="1"/>
<text x="1131.7" y="281" font-size="9.5" text-anchor="middle" fill="#444" stroke="#444" stroke-width="0.3">2500</text>
<path d="M1189.3 267.5L1189.3 269.5" stroke="#666" stroke-width="1"/>
<text x="1189.3" y="281" font-size="9.5" text-anchor="middle" fill="#444" stroke="#444" stroke-width="0.3">3000</text>
<path d="M1045.2 267.5L1045.2 269.3M1102.8 267.5L1102.8 269.3M1160.5 267.5L1160.5 269.3" stroke="#666" stroke-width="1"/>
<text font-size="10.5" text-anchor="middle" fill="#333" stroke="#333" stroke-width="0.3" transform="translate(1122 298) scale(1.100 1)">Wave number (cm<tspan dy="-4" font-size="7">−1</tspan><tspan dy="4">)</tspan></text>
<text font-size="11.2" text-anchor="middle" fill="#333" stroke="#333" stroke-width="0.3" transform="translate(1007 153.7) rotate(-90)">Intensity (a.u.)</text>
<path d="M1074 45.1L1074 47.6" stroke="#666" stroke-width="1"/>
<text x="1074" y="41.5" font-size="9.5" text-anchor="middle" fill="#444" stroke="#444" stroke-width="0.3">5.0</text>
<path d="M1131.7 45.1L1131.7 47.6" stroke="#666" stroke-width="1"/>
<text x="1131.7" y="41.5" font-size="9.5" text-anchor="middle" fill="#444" stroke="#444" stroke-width="0.3">4.0</text>
<path d="M1192.8 45.1L1192.8 47.6" stroke="#666" stroke-width="1"/>
<text x="1192.8" y="41.5" font-size="9.5" text-anchor="middle" fill="#444" stroke="#444" stroke-width="0.3">3.3</text>
<path d="M1099.6 45.1L1099.6 46.6M1163.7 45.1L1163.7 46.6" stroke="#666" stroke-width="1"/>
<text font-size="10.5" text-anchor="middle" fill="#333" stroke="#333" stroke-width="0.3" transform="translate(1125 24.5) scale(1.120 1)">Wavelength (μm)</text>
<text x="1051.3" y="64.5" font-size="10" fill="#222" stroke="#222" stroke-width="0.3"><tspan font-style="italic">D</tspan> = 0 V/nm</text>
<path d="M1053.3 80.3a1.9 1.9 0 1 0 3.8 0a1.9 1.9 0 1 0 -3.8 0" fill="#f5a0a0" stroke="#f49090" stroke-width="0.6"/>
<text x="1066.6" y="83.5" font-size="9.5" fill="#222" stroke="#222" stroke-width="0.3"><tspan font-style="italic">x</tspan> axis</text>
<path d="M1053.3 91.9a1.9 1.9 0 1 0 3.8 0a1.9 1.9 0 1 0 -3.8 0" fill="#6a6ad0" stroke="#2a2aa8" stroke-width="0.8"/>
<text x="1070" y="95.2" font-size="9.5" fill="#222" stroke="#222" stroke-width="0.3"><tspan font-style="italic">y</tspan> axis</text>
<path d="M1043.6 103.3L1066.6 103.3" stroke="#f4827a" stroke-width="1.8"/>
<text x="1070" y="106.6" font-size="9.5" fill="#222" stroke="#222" stroke-width="0.3">Fitting</text>
<path d="M163.6 471.1a38.6 38.6 0 1 0 77.2 0a38.6 38.6 0 1 0 -77.2 0" fill="none" stroke="#e9e9e9" stroke-width="0.8"/>
<path d="M153.8 471.1a48.5 48.5 0 1 0 96.9 0a48.5 48.5 0 1 0 -96.9 0" fill="none" stroke="#d8d8d8" stroke-width="0.8"/>
<path d="M143.9 471.1a58.3 58.3 0 1 0 116.6 0a58.3 58.3 0 1 0 -116.6 0" fill="none" stroke="#e9e9e9" stroke-width="0.8"/>
<path d="M134.1 471.1a68.1 68.1 0 1 0 136.2 0a68.1 68.1 0 1 0 -136.2 0" fill="none" stroke="#d8d8d8" stroke-width="0.8"/>
<path d="M124.3 471.1a77.9 77.9 0 1 0 155.9 0a77.9 77.9 0 1 0 -155.9 0" fill="none" stroke="#e9e9e9" stroke-width="0.8"/>
<path d="M114.4 471.1a87.8 87.8 0 1 0 175.5 0a87.8 87.8 0 1 0 -175.5 0" fill="none" stroke="#d8d8d8" stroke-width="0.8"/>
<path d="M104.6 471.1a97.6 97.6 0 1 0 195.2 0a97.6 97.6 0 1 0 -195.2 0" fill="none" stroke="#e9e9e9" stroke-width="0.8"/>
<path d="M173.4 471.1a28.8 28.8 0 1 0 57.6 0a28.8 28.8 0 1 0 -57.6 0" fill="none" stroke="#e0e0e0" stroke-width="0.8"/>
<path d="M227.1 456.7L295.2 417.4M216.6 446.2L255.9 378.1M187.8 446.2L148.5 378.1M177.3 456.7L109.2 417.4M177.3 485.5L109.2 524.8M187.8 496L148.5 564.1M216.6 496L255.9 564.1M227.1 485.5L295.2 524.8" stroke="#d0d0d0" stroke-width="0.8"/>
<path d="M91.8 471.1L173.4 471.1M231 471.1L312.6 471.1" stroke="#8a8a8a" stroke-width="1"/>
<path d="M202.2 363.7L202.2 442.3M202.2 499.9L202.2 578.5" stroke="#9a9a9a" stroke-width="1"/>
<path d="M94.8 471.1a107.4 107.4 0 1 0 214.8 0a107.4 107.4 0 1 0 -214.8 0" fill="none" stroke="#7a7a7a" stroke-width="1.1"/>
<path d="M309.6 471.1L307.1 471.1M308 452.5L305.5 452.9M303.1 434.4L300.8 435.2M295.2 417.4L293 418.7M284.5 402.1L282.6 403.7M271.2 388.8L269.6 390.7M255.9 378.1L254.7 380.3M238.9 370.2L238.1 372.5M220.8 365.3L220.4 367.8M202.2 363.7L202.2 366.2M183.6 365.3L184 367.8M165.5 370.2L166.3 372.5M148.5 378.1L149.8 380.3M133.2 388.8L134.8 390.7M119.9 402.1L121.8 403.7M109.2 417.4L111.4 418.7M101.3 434.4L103.6 435.2M96.4 452.5L98.9 452.9M94.8 471.1L97.3 471.1M96.4 489.7L98.9 489.3M101.3 507.8L103.6 507M109.2 524.8L111.4 523.6M119.9 540.1L121.8 538.5M133.2 553.4L134.8 551.5M148.5 564.1L149.7 561.9M165.5 572L166.3 569.7M183.6 576.9L184 574.4M202.2 578.5L202.2 576M220.8 576.9L220.4 574.4M238.9 572L238.1 569.7M255.9 564.1L254.7 561.9M271.2 553.4L269.6 551.5M284.5 540.1L282.6 538.5M295.2 524.8L293 523.6M303.1 507.8L300.8 507M308 489.7L305.5 489.3" stroke="#888" stroke-width="0.7"/>
<path d="M297.2 471.1l0-1.7-.1-1.6-.2-1.7-.3-1.6-.3-1.6-.4-1.7-.4-1.6-.5-1.5-.6-1.6-.7-1.5-.7-1.5-.8-1.5-.8-1.5-.9-1.4-1-1.4-1-1.3-1.1-1.4-1.1-1.2-1.2-1.3-1.2-1.1-1.2-1.2-1.4-1.1-1.3-1-1.4-1-1.4-1-1.5-.9-1.5-.8-1.5-.8-1.5-.7-1.6-.7-1.6-.6-1.6-.6-1.6-.5-1.7-.5-1.6-.4-1.6-.4-1.7-.3-1.7-.3-1.6-.2-1.7-.1-1.6-.1-1.7-.1-1.6 0-1.6 0-1.6.1-1.6.1-1.6.2-1.5.2-1.5.2-1.5.3-1.5.3-1.5.4-1.4.3-1.4.4-1.4.4-1.3.5-1.3.5-1.2.4-1.3.5-1.2.5-1.1.6-1.1.5-1.1.6-1.1.5-1 .5-1 .6-.9.5-.9.6-.9.5-.9.5-.8.5-.7.5-.8.5-.7.5-.7.5-.7.4-.6.4-.6.4-.6.3-.6.4-.5.3-.6.2-.5.3-.5.2-.5.2-.4.1-.5.1-.5.1-.4.1-.5 0-.5 0-.4-.1-.5-.1-.5-.1-.4-.1-.5-.2-.5-.2-.5-.3-.6-.2-.5-.3-.6-.4-.6-.3-.6-.4-.6-.4-.7-.4-.7-.5-.7-.5-.8-.5-.7-.5-.8-.5-.9-.5-.9-.5-.9-.6-.9-.5-1-.6-1-.5-1.1-.5-1.1-.6-1.1-.5-1.1-.6-1.2-.5-1.3-.5-1.2-.4-1.3-.5-1.3-.5-1.4-.4-1.4-.4-1.4-.3-1.5-.4-1.5-.3-1.5-.3-1.5-.2-1.5-.2-1.6-.2-1.6-.1-1.6-.1-1.6 0-1.6 0-1.7.1-1.6.1-1.7.1-1.6.2-1.7.3-1.7.3-1.6.4-1.6.4-1.7.5-1.6.5-1.6.6-1.6.6-1.6.7-1.5.7-1.5.8-1.5.8-1.5.9-1.4 1-1.4 1-1.3 1-1.4 1.1-1.2 1.2-1.2 1.1-1.2 1.3-1.1 1.2-1.1 1.4-1 1.3-1 1.4-.9 1.4-.8 1.5-.8 1.5-.7 1.5-.7 1.5-.6 1.6-.5 1.5-.4 1.6-.4 1.7-.3 1.6-.3 1.6-.2 1.7-.1 1.6 0 1.7 0 1.7.1 1.6.2 1.7.3 1.6.3 1.6.4 1.7.4 1.6.5 1.5.6 1.6.7 1.5.7 1.5.8 1.5.8 1.5.9 1.4 1 1.4 1 1.3 1.1 1.4 1.1 1.2 1.2 1.3 1.2 1.1 1.2 1.2 1.4 1.1 1.3 1 1.4 1 1.4 1 1.5.9 1.5.8 1.5.8 1.5.7 1.6.7 1.6.6 1.6.6 1.6.5 1.7.5 1.6.4 1.6.4 1.7.3 1.7.3 1.6.2 1.7.1 1.6.1 1.7.1 1.6 0 1.6 0 1.6-.1 1.6-.1 1.6-.2 1.5-.2 1.5-.2 1.5-.3 1.5-.3 1.5-.4 1.4-.3 1.4-.4 1.4-.4 1.3-.5 1.3-.5 1.2-.4 1.3-.5 1.2-.5 1.1-.6 1.1-.5 1.1-.6 1.1-.5 1-.5 1-.6.9-.5.9-.6.9-.5.9-.5.8-.5.7-.5.8-.5.7-.5.7-.5.7-.4.6-.4.6-.4.6-.3.6-.4.5-.3.6-.2.5-.3.5-.2.5-.2.4-.1.5-.1.5-.1.4-.1.5 0 .5 0 .4.1.5.1.5.1.4.1.5.2.5.2.5.3.6.2.5.3.6.4.6.3.6.4.6.4.7.4.7.5.7.5.8.5.7.5.8.5.9.5.9.5.9.6.9.5 1 .6 1 .5 1.1.5 1.1.6 1.1.5 1.1.6 1.2.5 1.3.5 1.2.4 1.3.5 1.3.5 1.4.4 1.4.4 1.4.3 1.5.4 1.5.3 1.5.3 1.5.2 1.5.2 1.6.2 1.6.1 1.6.1 1.6 0 1.6 0 1.7-.1 1.6-.1 1.7-.1 1.6-.2 1.7-.3 1.7-.3 1.6-.4 1.6-.4 1.7-.5 1.6-.5 1.6-.6 1.6-.6 1.6-.7 1.5-.7 1.5-.8 1.5-.8 1.5-.9 1.4-1 1.4-1 1.3-1 1.4-1.1 1.2-1.2 1.2-1.1 1.2-1.3 1.1-1.2 1.1-1.4 1-1.3 1-1.4.9-1.4.8-1.5.8-1.5.7-1.5.7-1.5.6-1.6.5-1.5.4-1.6.4-1.7.3-1.6.3-1.6.2-1.7.1-1.6 0-1.7" stroke="#e43c3c" stroke-width="2.1" fill="none" stroke-linejoin="round" stroke-linecap="round" stroke-dasharray="7.5 5"/>
<path d="M297.2 471.1l-46-28.3-21.5-19.3-27.5 10.1-13.2 14.7-30.5-2.5-51.3 25.3 46.3 28.1 17.4 26.1 31.3-17.3 12.8-14.7 32 3.7 50.2-25.9" stroke="#3646c8" stroke-width="1.1" fill="none" stroke-linejoin="round" stroke-linecap="round"/>
<rect x="295.4" y="469.3" width="3.6" height="3.6" fill="#1f2ec0"/>
<rect x="249.4" y="441" width="3.6" height="3.6" fill="#1f2ec0"/>
<rect x="227.9" y="421.7" width="3.6" height="3.6" fill="#1f2ec0"/>
<rect x="200.4" y="431.8" width="3.6" height="3.6" fill="#1f2ec0"/>
<rect x="187.2" y="446.5" width="3.6" height="3.6" fill="#1f2ec0"/>
<rect x="156.7" y="444.1" width="3.6" height="3.6" fill="#1f2ec0"/>
<rect x="105.4" y="469.3" width="3.6" height="3.6" fill="#1f2ec0"/>
<rect x="151.7" y="497.4" width="3.6" height="3.6" fill="#1f2ec0"/>
<rect x="169.1" y="523.5" width="3.6" height="3.6" fill="#1f2ec0"/>
<rect x="200.4" y="506.2" width="3.6" height="3.6" fill="#1f2ec0"/>
<rect x="213.2" y="491.5" width="3.6" height="3.6" fill="#1f2ec0"/>
<rect x="245.2" y="495.2" width="3.6" height="3.6" fill="#1f2ec0"/>
<path d="M297.2 471.1h0" stroke="#d02040" stroke-width="4.4" stroke-linecap="round"/>
<text font-size="10.5" text-anchor="middle" fill="#333" stroke="#333" stroke-width="0.3" transform="translate(318 474.8) scale(1.060 1)">0</text>
<text font-size="10.5" text-anchor="middle" fill="#333" stroke="#333" stroke-width="0.3" transform="translate(304.3 413.2) scale(1.060 1)">30</text>
<text font-size="10.5" text-anchor="middle" fill="#333" stroke="#333" stroke-width="0.3" transform="translate(264.7 373.1) scale(1.060 1)">60</text>
<text font-size="10.5" text-anchor="middle" fill="#333" stroke="#333" stroke-width="0.3" transform="translate(203 356.7) scale(1.060 1)">90</text>
<text font-size="10.5" text-anchor="middle" fill="#333" stroke="#333" stroke-width="0.3" transform="translate(139.5 373.1) scale(1.060 1)">120</text>
<text font-size="10.5" text-anchor="middle" fill="#333" stroke="#333" stroke-width="0.3" transform="translate(98 413.4) scale(1.060 1)">150</text>
<text font-size="10.5" text-anchor="middle" fill="#333" stroke="#333" stroke-width="0.3" transform="translate(82.5 474.8) scale(1.060 1)">180</text>
<text font-size="10.5" text-anchor="middle" fill="#333" stroke="#333" stroke-width="0.3" transform="translate(99 538.7) scale(1.060 1)">210</text>
<text font-size="10.5" text-anchor="middle" fill="#333" stroke="#333" stroke-width="0.3" transform="translate(137.7 578.4) scale(1.060 1)">240</text>
<text font-size="10.5" text-anchor="middle" fill="#333" stroke="#333" stroke-width="0.3" transform="translate(203 592.9) scale(1.060 1)">270</text>
<text font-size="10.5" text-anchor="middle" fill="#333" stroke="#333" stroke-width="0.3" transform="translate(265.7 578.4) scale(1.060 1)">300</text>
<text font-size="10.5" text-anchor="middle" fill="#333" stroke="#333" stroke-width="0.3" transform="translate(305.3 538.7) scale(1.060 1)">330</text>
<path d="M73.1 362.9L73.1 451.2M73.1 490.5L73.1 579.5M73.1 372.7L76.5 372.7" stroke="#555" stroke-width="1"/>
<text font-size="10.5" text-anchor="end" fill="#333" stroke="#333" stroke-width="0.3" transform="translate(69.5 376.4) scale(1.100 1)">500</text>
<path d="M73.1 382.5L75.3 382.5" stroke="#555" stroke-width="0.8"/>
<path d="M73.1 392.3L76.5 392.3" stroke="#555" stroke-width="1"/>
<text font-size="10.5" text-anchor="end" fill="#333" stroke="#333" stroke-width="0.3" transform="translate(69.5 396) scale(1.100 1)">400</text>
<path d="M73.1 402.1L75.3 402.1" stroke="#555" stroke-width="0.8"/>
<path d="M73.1 412L76.5 412" stroke="#555" stroke-width="1"/>
<text font-size="10.5" text-anchor="end" fill="#333" stroke="#333" stroke-width="0.3" transform="translate(69.5 415.7) scale(1.100 1)">300</text>
<path d="M73.1 421.8L75.3 421.8" stroke="#555" stroke-width="0.8"/>
<path d="M73.1 431.6L76.5 431.6" stroke="#555" stroke-width="1"/>
<text font-size="10.5" text-anchor="end" fill="#333" stroke="#333" stroke-width="0.3" transform="translate(69.5 435.3) scale(1.100 1)">200</text>
<path d="M73.1 441.4L75.3 441.4" stroke="#555" stroke-width="0.8"/>
<path d="M73.1 451.2L76.5 451.2" stroke="#555" stroke-width="1"/>
<text font-size="10.5" text-anchor="end" fill="#333" stroke="#333" stroke-width="0.3" transform="translate(69.5 454.9) scale(1.100 1)">100</text>
<path d="M73.1 362.9L75 362.9" stroke="#555" stroke-width="0.8"/>
<path d="M73.1 490.8L76.5 490.8" stroke="#555" stroke-width="1"/>
<text font-size="10.5" text-anchor="end" fill="#333" stroke="#333" stroke-width="0.3" transform="translate(69.5 494.5) scale(1.100 1)">100</text>
<path d="M73.1 500.6L75.3 500.6" stroke="#555" stroke-width="0.8"/>
<path d="M73.1 510.4L76.5 510.4" stroke="#555" stroke-width="1"/>
<text font-size="10.5" text-anchor="end" fill="#333" stroke="#333" stroke-width="0.3" transform="translate(69.5 514.1) scale(1.100 1)">200</text>
<path d="M73.1 520.2L75.3 520.2" stroke="#555" stroke-width="0.8"/>
<path d="M73.1 530.1L76.5 530.1" stroke="#555" stroke-width="1"/>
<text font-size="10.5" text-anchor="end" fill="#333" stroke="#333" stroke-width="0.3" transform="translate(69.5 533.8) scale(1.100 1)">300</text>
<path d="M73.1 539.9L75.3 539.9" stroke="#555" stroke-width="0.8"/>
<path d="M73.1 549.7L76.5 549.7" stroke="#555" stroke-width="1"/>
<text font-size="10.5" text-anchor="end" fill="#333" stroke="#333" stroke-width="0.3" transform="translate(69.5 553.4) scale(1.100 1)">400</text>
<path d="M73.1 559.5L75.3 559.5" stroke="#555" stroke-width="0.8"/>
<path d="M73.1 569.3L76.5 569.3" stroke="#555" stroke-width="1"/>
<text font-size="10.5" text-anchor="end" fill="#333" stroke="#333" stroke-width="0.3" transform="translate(69.5 573) scale(1.100 1)">500</text>
<text font-size="16" text-anchor="middle" fill="#222" class="sf" transform="translate(32.5 471) rotate(-90)">Intensity (a.u.)</text>
<path d="M371.4 396.3l.6.5.7-.3.6-1.1.6 1 .6-.6.7.3.6.4.6.5.7.1.6-.7.6-.1.6.1.7-.5.6.6.6.1.7.4.6.4.6-1.3.6 0 .7-.3.6.8.6.2.7-.1.6.5.6-.5.6-1.4.7 1.1.6-1 .6.3.7.6.6-.4.6.3.6-.9.7.1.6 1 .6 0 .7-.3.6.2.6-.1.6-1.1.7 2.7.6-1.6.6 0 .7-.3.6.4.6-1.2.6 1.5.7-.9.6.9.6-.1.7.2.6-1.2.6 1.2.6-.7.7-.6.6.6.6.5.7-1.2.6.8.6.2.6-.2.7 0 .6-.4.6.7.7-.5.6.3.6-.1.6.2.7-.3.6-.2.6.7.7-.6.6-.3.6-.1.6.3.7.1.6-.5.6.1.7.5.6-.8.6.4.6.3.7-.7.6.2.6-.1.7 0 .6-.1.6.1.6.4.7.1.6-.7.6-1 .7.1.6 2.2.6-1.5.6.3.7.3.6-.2.6-.2.6.3.7-.4.6-.6.6-.4.7.4.6-.3.6.6.6.4.7.7.6-.7.6-.4.7.8.6-.7.6.6.6-1.3.7-.5.6.8.6.6.7-1.1.6.4.6.3.6-.5.7-.3.6 0 .6-.9.7.4.6.6.6.1.6-.1.7-.6.6-.4.6.4.7-.4.6.6.6-.7.6-.2.7.5.6.2.6-.2.7-.4.6.2.6-1.4.6 1.2.7-1.5.6-.4.6.5.7-.9.6 1 .6-.9.6 0 .7-.9.6 0 .6 0 .7-.5.6-.4.6-1.1.6-.1.7.7.6-1.5.6.1.7-.6.6-.4.6-.7.6-1.1.7.6.6-1.7.6-.8.7-.9.6-.7.6-1.1.6-1.9.7-1.2.6-.8.6-1.1.7-1.6.6-1.1.6-2.6.6-2.3.7-1.7.6-.8.6-3 .7-2.2.6-2 .6-2.1.6-2.6.7-1.9.6-3 .6-3 .7-2 .6-3.2.6-1.8.6-3.6.7-.5.6-1.6.6-2.9.7-.2.6-2.1.6-.2.6.1.7-.3.6 1.3.6.2.7 1.4.6 1.4.6 1.6.6 2.8.7 2.4.6 2.3.6 1.6.7 3.5.6 3.1.6 1.4.6 3.5.7 1.7.6 2.1.6 3 .7 2.1.6 1.2.6 2.6.6 1.6.7 2.2.6 2 .6 1.9.7 1.1.6.6.6 2.2.6 1.5.7.8.6 1.2.6 1.1.7 0 .6 1.5.6.4.6 1.3.7.8.6.5.6.3.7-.3.6 1.2.6.5.6.4.7.3.6.8.6-.1.7.6.6.9.6 0 .6-.6.7.4.6.2.6.3.7 1 .6-.9.6.8.6.2.7.5.6-.6.6.3.7-.2.6 0 .6 1.2.6.4.7-.6.6-.4.6 1.1.7-1.4.6 1.2.6.4.6-.7.7-.3.6 1 .6.9.7-1.3.6.1.6-.1.6.4.7 1.2.6-.6.6-.2.7-.5.6-.2.6.8.6-.4.7.1.6.4.6-.1.7-.1.6 0 .6.6.6.5.7-.5.6-.1.6-.4.7.6.6.3.6-.1.6-.6.7.4.6.4.6-.4.6.4" stroke="#f6c0a8" stroke-width="3.2" fill="none" stroke-linejoin="round" stroke-linecap="round" opacity="0.7"/>
<path d="M371.4 396.3l.6.5.7-.3.6-1.1.6 1 .6-.6.7.3.6.4.6.5.7.1.6-.7.6-.1.6.1.7-.5.6.6.6.1.7.4.6.4.6-1.3.6 0 .7-.3.6.8.6.2.7-.1.6.5.6-.5.6-1.4.7 1.1.6-1 .6.3.7.6.6-.4.6.3.6-.9.7.1.6 1 .6 0 .7-.3.6.2.6-.1.6-1.1.7 2.7.6-1.6.6 0 .7-.3.6.4.6-1.2.6 1.5.7-.9.6.9.6-.1.7.2.6-1.2.6 1.2.6-.7.7-.6.6.6.6.5.7-1.2.6.8.6.2.6-.2.7 0 .6-.4.6.7.7-.5.6.3.6-.1.6.2.7-.3.6-.2.6.7.7-.6.6-.3.6-.1.6.3.7.1.6-.5.6.1.7.5.6-.8.6.4.6.3.7-.7.6.2.6-.1.7 0 .6-.1.6.1.6.4.7.1.6-.7.6-1 .7.1.6 2.2.6-1.5.6.3.7.3.6-.2.6-.2.6.3.7-.4.6-.6.6-.4.7.4.6-.3.6.6.6.4.7.7.6-.7.6-.4.7.8.6-.7.6.6.6-1.3.7-.5.6.8.6.6.7-1.1.6.4.6.3.6-.5.7-.3.6 0 .6-.9.7.4.6.6.6.1.6-.1.7-.6.6-.4.6.4.7-.4.6.6.6-.7.6-.2.7.5.6.2.6-.2.7-.4.6.2.6-1.4.6 1.2.7-1.5.6-.4.6.5.7-.9.6 1 .6-.9.6 0 .7-.9.6 0 .6 0 .7-.5.6-.4.6-1.1.6-.1.7.7.6-1.5.6.1.7-.6.6-.4.6-.7.6-1.1.7.6.6-1.7.6-.8.7-.9.6-.7.6-1.1.6-1.9.7-1.2.6-.8.6-1.1.7-1.6.6-1.1.6-2.6.6-2.3.7-1.7.6-.8.6-3 .7-2.2.6-2 .6-2.1.6-2.6.7-1.9.6-3 .6-3 .7-2 .6-3.2.6-1.8.6-3.6.7-.5.6-1.6.6-2.9.7-.2.6-2.1.6-.2.6.1.7-.3.6 1.3.6.2.7 1.4.6 1.4.6 1.6.6 2.8.7 2.4.6 2.3.6 1.6.7 3.5.6 3.1.6 1.4.6 3.5.7 1.7.6 2.1.6 3 .7 2.1.6 1.2.6 2.6.6 1.6.7 2.2.6 2 .6 1.9.7 1.1.6.6.6 2.2.6 1.5.7.8.6 1.2.6 1.1.7 0 .6 1.5.6.4.6 1.3.7.8.6.5.6.3.7-.3.6 1.2.6.5.6.4.7.3.6.8.6-.1.7.6.6.9.6 0 .6-.6.7.4.6.2.6.3.7 1 .6-.9.6.8.6.2.7.5.6-.6.6.3.7-.2.6 0 .6 1.2.6.4.7-.6.6-.4.6 1.1.7-1.4.6 1.2.6.4.6-.7.7-.3.6 1 .6.9.7-1.3.6.1.6-.1.6.4.7 1.2.6-.6.6-.2.7-.5.6-.2.6.8.6-.4.7.1.6.4.6-.1.7-.1.6 0 .6.6.6.5.7-.5.6-.1.6-.4.7.6.6.3.6-.1.6-.6.7.4.6.4.6-.4.6.4" stroke="#ec8a68" stroke-width="1.7" fill="none" stroke-linejoin="round" stroke-linecap="round"/>
<path d="M440.5 396.7l.7.6.6-.2" stroke="#b8d4f0" stroke-width="3.2" fill="none" stroke-linejoin="round" stroke-linecap="round" opacity="0.6"/>
<path d="M445.6 397.1l.6-.3.6.1.6.2.7-.1.6-.1.6.2.7-.3.6-.1.6-.2.6.5.7-.5.6 0 .6.5.7-.4.6-.3.6.6.6.1.7-.7.6.1.6-.3.7.1.6.1.6-.4.6-.2.7.3.6.2.6-.9.7-.1.6.9.6-.3.6-.2.7-.8.6.1.6-.1.7-.4.6.1.6-.5.6-.6.7.8.6-.7.6-.3.7 0 .6-.6.6.3.6-1.2.7-.1.6-.8.6-.7.7.4.6-1.1.6-.5.6-.4.7-.3.6-.5.6-.2.7-.8.6-1 .6-.5.6-1.1.7-.2.6-1 .6-.8.7-.9.6-.5.6.3.6-2 .7-.5.6-.2.6-.9.7-.6.6-.8.6-.8.6-.8.7.3.6-.5.6.2.7-.7.6.2.6.5.6-.8.7-.4.6 1.4.6-.3.7-.1.6.2.6 1.5.6-.7.7.9.6 1.1.6.1.7.7.6 1.3.6.4.6.6.7.4.6 1.3.6.6.7.2.6.7.6 1.2.6.7.7 1.1.6-.4.6 1.6.7-.5.6 1.2.6.5.6.4.7 1 .6.1.6.7.7-.6.6 1.2.6.3.6-.2.7 1 .6.4.6-.2.7.2.6.9.6.2.6-.4.7.6.6.1.6.5.7-.4.6.5.6-.5.6.5.7.2.6.8.6-.6.7 0 .6.9.6-.4.6-.1.7.3.6-.3.6.4.7.7.6-.5.6.1.6.6.7-.4.6.1.6.1.7-.3.6.4.6-.3.6-.4.7.4.6.4" stroke="#b8d4f0" stroke-width="3.2" fill="none" stroke-linejoin="round" stroke-linecap="round" opacity="0.6"/>
<path d="M543.6 397l.6 0" stroke="#b8d4f0" stroke-width="3.2" fill="none" stroke-linejoin="round" stroke-linecap="round" opacity="0.6"/>
<path d="M551.2 397.3l.6-.2" stroke="#b8d4f0" stroke-width="3.2" fill="none" stroke-linejoin="round" stroke-linecap="round" opacity="0.6"/>
<path d="M553 397.2l.7-.1" stroke="#b8d4f0" stroke-width="3.2" fill="none" stroke-linejoin="round" stroke-linecap="round" opacity="0.6"/>
<path d="M440.5 396.7l.7.6.6-.2" stroke="#4a84c8" stroke-width="1.7" fill="none" stroke-linejoin="round" stroke-linecap="round"/>
<path d="M445.6 397.1l.6-.3.6.1.6.2.7-.1.6-.1.6.2.7-.3.6-.1.6-.2.6.5.7-.5.6 0 .6.5.7-.4.6-.3.6.6.6.1.7-.7.6.1.6-.3.7.1.6.1.6-.4.6-.2.7.3.6.2.6-.9.7-.1.6.9.6-.3.6-.2.7-.8.6.1.6-.1.7-.4.6.1.6-.5.6-.6.7.8.6-.7.6-.3.7 0 .6-.6.6.3.6-1.2.7-.1.6-.8.6-.7.7.4.6-1.1.6-.5.6-.4.7-.3.6-.5.6-.2.7-.8.6-1 .6-.5.6-1.1.7-.2.6-1 .6-.8.7-.9.6-.5.6.3.6-2 .7-.5.6-.2.6-.9.7-.6.6-.8.6-.8.6-.8.7.3.6-.5.6.2.7-.7.6.2.6.5.6-.8.7-.4.6 1.4.6-.3.7-.1.6.2.6 1.5.6-.7.7.9.6 1.1.6.1.7.7.6 1.3.6.4.6.6.7.4.6 1.3.6.6.7.2.6.7.6 1.2.6.7.7 1.1.6-.4.6 1.6.7-.5.6 1.2.6.5.6.4.7 1 .6.1.6.7.7-.6.6 1.2.6.3.6-.2.7 1 .6.4.6-.2.7.2.6.9.6.2.6-.4.7.6.6.1.6.5.7-.4.6.5.6-.5.6.5.7.2.6.8.6-.6.7 0 .6.9.6-.4.6-.1.7.3.6-.3.6.4.7.7.6-.5.6.1.6.6.7-.4.6.1.6.1.7-.3.6.4.6-.3.6-.4.7.4.6.4" stroke="#4a84c8" stroke-width="1.7" fill="none" stroke-linejoin="round" stroke-linecap="round"/>
<path d="M543.6 397l.6 0" stroke="#4a84c8" stroke-width="1.7" fill="none" stroke-linejoin="round" stroke-linecap="round"/>
<path d="M551.2 397.3l.6-.2" stroke="#4a84c8" stroke-width="1.7" fill="none" stroke-linejoin="round" stroke-linecap="round"/>
<path d="M553 397.2l.7-.1" stroke="#4a84c8" stroke-width="1.7" fill="none" stroke-linejoin="round" stroke-linecap="round"/>
<path d="M487.6 352.6l3.2 3.2l-3.2 3.2l-3.2 -3.2z" fill="#f6b878" stroke="#ec9a68" stroke-width="0.8"/>
<path d="M486.2 380.4a2.6 2.6 0 1 0 5.2 0a2.6 2.6 0 1 0 -5.2 0" fill="#cfe4f8" stroke="#4a84c8" stroke-width="0.9"/>
<path d="M378 326.1L394 326.1" stroke="#ec8a68" stroke-width="1.4"/>
<path d="M386 322.1l4 4l-4 4l-4 -4z" fill="#fde4d2" stroke="#ec8a68" stroke-width="0.9"/>
<text font-size="10" fill="#333" stroke="#333" stroke-width="0.3" transform="translate(398 329.7) scale(1.080 1)">BP-WSe<tspan dy="2.5" font-size="7">2</tspan></text>
<path d="M378 341.9L394 341.9" stroke="#4a84c8" stroke-width="1.4"/>
<path d="M382.5 341.9a3.5 3.5 0 1 0 7 0a3.5 3.5 0 1 0 -7 0" fill="#cfe6fa" stroke="#4a84c8" stroke-width="0.9"/>
<text font-size="10" fill="#333" stroke="#333" stroke-width="0.3" transform="translate(398 345.5) scale(1.080 1)">BP</text>
<text font-size="9.5" fill="#333" stroke="#333" stroke-width="0.3" transform="translate(507.2 345.2) scale(1.080 1)">4 nm-BP</text>
<path d="M371.5 381.8L368.7 381.8" stroke="#444" stroke-width="0.9"/>
<text font-size="8.8" text-anchor="end" fill="#333" stroke="#333" stroke-width="0.3" transform="translate(366 384.9) scale(1.080 1)">0.2</text>
<path d="M371.5 365.3L368.7 365.3" stroke="#444" stroke-width="0.9"/>
<text font-size="8.8" text-anchor="end" fill="#333" stroke="#333" stroke-width="0.3" transform="translate(366 368.4) scale(1.080 1)">0.4</text>
<path d="M371.5 348.9L368.7 348.9" stroke="#444" stroke-width="0.9"/>
<text font-size="8.8" text-anchor="end" fill="#333" stroke="#333" stroke-width="0.3" transform="translate(366 352) scale(1.080 1)">0.6</text>
<path d="M371.5 332.4L368.7 332.4" stroke="#444" stroke-width="0.9"/>
<text font-size="8.8" text-anchor="end" fill="#333" stroke="#333" stroke-width="0.3" transform="translate(366 335.5) scale(1.080 1)">0.8</text>
<path d="M371.5 315.9L368.7 315.9" stroke="#444" stroke-width="0.9"/>
<text font-size="8.8" text-anchor="end" fill="#333" stroke="#333" stroke-width="0.3" transform="translate(366 319) scale(1.080 1)">1.0</text>
<path d="M371.5 390.1L369.9 390.1M371.5 373.6L369.9 373.6M371.5 357.1L369.9 357.1M371.5 340.6L369.9 340.6M371.5 324.1L369.9 324.1" stroke="#444" stroke-width="0.7"/>
<path d="M371.5 398.3L560 398.3" stroke="#444" stroke-width="1"/>
<path d="M371.4 478.6l.6 0 .7.2.6.5.6-.4.6.3.7-1.6.6 1.2.6.3.7 0 .6-.4.6.2.6-.2.7-.3.6.4.6-.3.7.4.6.4.6-.5.6-.3.7.2.6-.7.6.4.7-.2.6.1.6.3.6.3.7-.4.6.4.6-.6.7.7.6-.6.6.3.6-.4.7-.1.6.7.6-.4.7.1.6.1.6 0 .6.1.7-.2.6.7.6-.7.7-.2.6.7.6-1 .6-.3.7.9.6-.7.6.2.7.4.6-.9.6.6.6-.4.7.5.6-.3.6.1.7.8.6-.1.6-.4.6-.4.7 0 .6-1.2.6.9.7-.2.6.3.6.7.6-.6.7.4.6-.2.6-.6.7.2.6.6.6-.5.6.3.7-1 .6.6.6.4.7-.6.6-.4.6.6.6-.3.7-.7.6-.3.6 1.9.7-.5.6-1.5.6.4.6.4.7-1.1.6 1.4.6-.5.7.1.6.6.6-1.5.6.8.7.3.6-.5.6-.4.6.4.7-.7.6.8.6-1.5.7 1.1.6-.1.6.3.6-.1.7-.6.6-.9.6.6.7-.2.6-.5.6.5.6-.8.7.1.6-.9.6.5.7-.1.6.2.6-1.2.6 0 .7 0 .6.1.6-1.2.7.7.6-1.7.6.4.6-.6.7.5.6-1.1.6-1 .7 0 .6-1.9.6.2.6-1.7.7-.2.6-1.7.6-.4.7-1.3.6-1.5.6-2 .6-1.6.7-1.2.6-1.2.6-3.2.7-1.4.6-1.6.6-2.4.6-2.4.7-3.3.6-1.5.6-3.9.7-1.4.6-3.2.6-1.6.6-3.2.7-3.8.6-1.2.6-2.4.7-2.2.6-2.3.6-1.4.6-.5.7-2.1.6-.3.6.1.7-.4.6 1.3.6.8.6 1.1.7 1.1.6 1.9.6 3.1.7 1.9.6 2.6.6 2.2.6 2.9.7 2.1.6 3.4.6 3.6.7 1.5.6 2.2.6 3.3.6 1.3.7 1 .6 3.3.6 3.1.7 1.9.6 1 .6 2.1.6 1 .7 2.1.6 1.4.6.5.7 2.2.6-.1.6.3.6 1.6.7.9.6.3.6 1 .7-.2.6 1.2.6 1.1.6.2.7 1 .6-.5.6 1 .7.4.6.4.6-1.3.6.8.7 1.1.6 0 .6.9.7-.2.6.1.6.4.6.6.7-1.4.6 1.3.6-.9.7.1.6-.3.6 2 .6-.7.7.9.6 0 .6-.7.7.1.6.3.6.3.6-.3.7-.2.6.3.6-.5.7.5.6 1.1.6-.2.6-1.2.7 0 .6.6.6-.4.7 1.5.6-.9.6-.4.6.3.7.2.6-.2.6.3.7.5.6 0 .6-.3.6-.9.7.3.6.5.6 0 .7.6.6-1.2.6 1 .6.7.7-1.1.6-.4.6-.5.7 1.8.6-.9.6 1.3.6-.6.7-1.1.6 1.1.6 0 .7-.7.6.8.6-.5.6-.3.7.4.6.5.6-.7.7.2.6-.1.6-.1.6.3.7-.5.6 1.4.6-.8.7.5.6-.6.6.2.6.1.7-.2.6.5.6-.3.7.3.6-.7.6.9.6.1.7-.4.6-.4.6.9.6-.6" stroke="#f6c0a8" stroke-width="3.2" fill="none" stroke-linejoin="round" stroke-linecap="round" opacity="0.7"/>
<path d="M371.4 478.6l.6 0 .7.2.6.5.6-.4.6.3.7-1.6.6 1.2.6.3.7 0 .6-.4.6.2.6-.2.7-.3.6.4.6-.3.7.4.6.4.6-.5.6-.3.7.2.6-.7.6.4.7-.2.6.1.6.3.6.3.7-.4.6.4.6-.6.7.7.6-.6.6.3.6-.4.7-.1.6.7.6-.4.7.1.6.1.6 0 .6.1.7-.2.6.7.6-.7.7-.2.6.7.6-1 .6-.3.7.9.6-.7.6.2.7.4.6-.9.6.6.6-.4.7.5.6-.3.6.1.7.8.6-.1.6-.4.6-.4.7 0 .6-1.2.6.9.7-.2.6.3.6.7.6-.6.7.4.6-.2.6-.6.7.2.6.6.6-.5.6.3.7-1 .6.6.6.4.7-.6.6-.4.6.6.6-.3.7-.7.6-.3.6 1.9.7-.5.6-1.5.6.4.6.4.7-1.1.6 1.4.6-.5.7.1.6.6.6-1.5.6.8.7.3.6-.5.6-.4.6.4.7-.7.6.8.6-1.5.7 1.1.6-.1.6.3.6-.1.7-.6.6-.9.6.6.7-.2.6-.5.6.5.6-.8.7.1.6-.9.6.5.7-.1.6.2.6-1.2.6 0 .7 0 .6.1.6-1.2.7.7.6-1.7.6.4.6-.6.7.5.6-1.1.6-1 .7 0 .6-1.9.6.2.6-1.7.7-.2.6-1.7.6-.4.7-1.3.6-1.5.6-2 .6-1.6.7-1.2.6-1.2.6-3.2.7-1.4.6-1.6.6-2.4.6-2.4.7-3.3.6-1.5.6-3.9.7-1.4.6-3.2.6-1.6.6-3.2.7-3.8.6-1.2.6-2.4.7-2.2.6-2.3.6-1.4.6-.5.7-2.1.6-.3.6.1.7-.4.6 1.3.6.8.6 1.1.7 1.1.6 1.9.6 3.1.7 1.9.6 2.6.6 2.2.6 2.9.7 2.1.6 3.4.6 3.6.7 1.5.6 2.2.6 3.3.6 1.3.7 1 .6 3.3.6 3.1.7 1.9.6 1 .6 2.1.6 1 .7 2.1.6 1.4.6.5.7 2.2.6-.1.6.3.6 1.6.7.9.6.3.6 1 .7-.2.6 1.2.6 1.1.6.2.7 1 .6-.5.6 1 .7.4.6.4.6-1.3.6.8.7 1.1.6 0 .6.9.7-.2.6.1.6.4.6.6.7-1.4.6 1.3.6-.9.7.1.6-.3.6 2 .6-.7.7.9.6 0 .6-.7.7.1.6.3.6.3.6-.3.7-.2.6.3.6-.5.7.5.6 1.1.6-.2.6-1.2.7 0 .6.6.6-.4.7 1.5.6-.9.6-.4.6.3.7.2.6-.2.6.3.7.5.6 0 .6-.3.6-.9.7.3.6.5.6 0 .7.6.6-1.2.6 1 .6.7.7-1.1.6-.4.6-.5.7 1.8.6-.9.6 1.3.6-.6.7-1.1.6 1.1.6 0 .7-.7.6.8.6-.5.6-.3.7.4.6.5.6-.7.7.2.6-.1.6-.1.6.3.7-.5.6 1.4.6-.8.7.5.6-.6.6.2.6.1.7-.2.6.5.6-.3.7.3.6-.7.6.9.6.1.7-.4.6-.4.6.9.6-.6" stroke="#ec8a68" stroke-width="1.7" fill="none" stroke-linejoin="round" stroke-linecap="round"/>
<path d="M428.6 479.1l.6.6" stroke="#b8d4f0" stroke-width="3.2" fill="none" stroke-linejoin="round" stroke-linecap="round" opacity="0.6"/>
<path d="M430.5 479.8l.6-.2.6-.3.7-.1" stroke="#b8d4f0" stroke-width="3.2" fill="none" stroke-linejoin="round" stroke-linecap="round" opacity="0.6"/>
<path d="M433.6 479.4l.6.1.7-.4" stroke="#b8d4f0" stroke-width="3.2" fill="none" stroke-linejoin="round" stroke-linecap="round" opacity="0.6"/>
<path d="M436.1 479.5l.7-.3.6-.2.6.3.6-.6.7.1.6.7.6-.7.7.2.6-.4.6.2.6-.2.7.4.6-.4.6-.2.7-.2.6-.2.6-.2.6-.1.7-.7.6.3.6-.2.7.3.6-.3.6-.8.6.5.7-.9.6-.3.6-.5.7.2.6-.7.6 0 .6-.8.7-1.1.6-.5.6.5.7-1.4.6-1 .6-.1.6-1 .7-1.1.6-.7.6.2.7-1.4.6-.7.6-1.1.6-.1.7-1.9.6-.8.6-.1.7-1.2.6-.9.6-1.4.6-.6.7-.2.6-1.3.6-.5.7-1.3.6.3.6-.4.6 0 .7.1.6-.5.6-.8.7.8.6.3.6.4.6-.4.7.8.6.2.6 2 .7.2.6 1 .6.1.6 1.4.7.9.6.7.6.3.7 1.3.6.9.6.4.6 1.4.7 1.3.6.4.6.1.7 1.4.6.7.6.3.6 1.5.7.1.6.5.6.9.7.8.6.3.6.4.6.1.7.5.6.5.6.5.7.1.6 1.4.6-.4.6.1.7.2.6-.3.6.3.7.3.6 0 .6.6.6.5.7-1.2.6.9.6.2.7-.3.6-.3.6.8.6.3.7 0 .6-.1.6.1.7.7.6-.7.6-.3.6.5.7.4.6-.4.6.6.7-.6.6.2" stroke="#b8d4f0" stroke-width="3.2" fill="none" stroke-linejoin="round" stroke-linecap="round" opacity="0.6"/>
<path d="M517.8 479.7l.7-.3" stroke="#b8d4f0" stroke-width="3.2" fill="none" stroke-linejoin="round" stroke-linecap="round" opacity="0.6"/>
<path d="M519.7 479.6l.7.1" stroke="#b8d4f0" stroke-width="3.2" fill="none" stroke-linejoin="round" stroke-linecap="round" opacity="0.6"/>
<path d="M546.1 479.7l.7.1" stroke="#b8d4f0" stroke-width="3.2" fill="none" stroke-linejoin="round" stroke-linecap="round" opacity="0.6"/>
<path d="M428.6 479.1l.6.6" stroke="#4a84c8" stroke-width="1.7" fill="none" stroke-linejoin="round" stroke-linecap="round"/>
<path d="M430.5 479.8l.6-.2.6-.3.7-.1" stroke="#4a84c8" stroke-width="1.7" fill="none" stroke-linejoin="round" stroke-linecap="round"/>
<path d="M433.6 479.4l.6.1.7-.4" stroke="#4a84c8" stroke-width="1.7" fill="none" stroke-linejoin="round" stroke-linecap="round"/>
<path d="M436.1 479.5l.7-.3.6-.2.6.3.6-.6.7.1.6.7.6-.7.7.2.6-.4.6.2.6-.2.7.4.6-.4.6-.2.7-.2.6-.2.6-.2.6-.1.7-.7.6.3.6-.2.7.3.6-.3.6-.8.6.5.7-.9.6-.3.6-.5.7.2.6-.7.6 0 .6-.8.7-1.1.6-.5.6.5.7-1.4.6-1 .6-.1.6-1 .7-1.1.6-.7.6.2.7-1.4.6-.7.6-1.1.6-.1.7-1.9.6-.8.6-.1.7-1.2.6-.9.6-1.4.6-.6.7-.2.6-1.3.6-.5.7-1.3.6.3.6-.4.6 0 .7.1.6-.5.6-.8.7.8.6.3.6.4.6-.4.7.8.6.2.6 2 .7.2.6 1 .6.1.6 1.4.7.9.6.7.6.3.7 1.3.6.9.6.4.6 1.4.7 1.3.6.4.6.1.7 1.4.6.7.6.3.6 1.5.7.1.6.5.6.9.7.8.6.3.6.4.6.1.7.5.6.5.6.5.7.1.6 1.4.6-.4.6.1.7.2.6-.3.6.3.7.3.6 0 .6.6.6.5.7-1.2.6.9.6.2.7-.3.6-.3.6.8.6.3.7 0 .6-.1.6.1.7.7.6-.7.6-.3.6.5.7.4.6-.4.6.6.7-.6.6.2" stroke="#4a84c8" stroke-width="1.7" fill="none" stroke-linejoin="round" stroke-linecap="round"/>
<path d="M517.8 479.7l.7-.3" stroke="#4a84c8" stroke-width="1.7" fill="none" stroke-linejoin="round" stroke-linecap="round"/>
<path d="M519.7 479.6l.7.1" stroke="#4a84c8" stroke-width="1.7" fill="none" stroke-linejoin="round" stroke-linecap="round"/>
<path d="M546.1 479.7l.7.1" stroke="#4a84c8" stroke-width="1.7" fill="none" stroke-linejoin="round" stroke-linecap="round"/>
<path d="M466.3 437.2l3.2 3.2l-3.2 3.2l-3.2 -3.2z" fill="#f6b878" stroke="#ec9a68" stroke-width="0.8"/>
<path d="M466.2 461.8a2.6 2.6 0 1 0 5.2 0a2.6 2.6 0 1 0 -5.2 0" fill="#cfe4f8" stroke="#4a84c8" stroke-width="0.9"/>
<path d="M378 407.8L394 407.8" stroke="#ec8a68" stroke-width="1.4"/>
<path d="M386 403.8l4 4l-4 4l-4 -4z" fill="#fde4d2" stroke="#ec8a68" stroke-width="0.9"/>
<text font-size="10" fill="#333" stroke="#333" stroke-width="0.3" transform="translate(398 411.4) scale(1.080 1)">BP-WSe<tspan dy="2.5" font-size="7">2</tspan></text>
<path d="M378 423.9L394 423.9" stroke="#4a84c8" stroke-width="1.4"/>
<path d="M382.5 423.9a3.5 3.5 0 1 0 7 0a3.5 3.5 0 1 0 -7 0" fill="#cfe6fa" stroke="#4a84c8" stroke-width="0.9"/>
<text font-size="10" fill="#333" stroke="#333" stroke-width="0.3" transform="translate(398 427.5) scale(1.080 1)">BP</text>
<text font-size="9.5" fill="#333" stroke="#333" stroke-width="0.3" transform="translate(507.2 422.6) scale(1.080 1)">5 nm-BP</text>
<path d="M371.5 464.3L368.7 464.3" stroke="#444" stroke-width="0.9"/>
<text font-size="8.8" text-anchor="end" fill="#333" stroke="#333" stroke-width="0.3" transform="translate(366 467.4) scale(1.080 1)">0.2</text>
<path d="M371.5 447.8L368.7 447.8" stroke="#444" stroke-width="0.9"/>
<text font-size="8.8" text-anchor="end" fill="#333" stroke="#333" stroke-width="0.3" transform="translate(366 450.9) scale(1.080 1)">0.4</text>
<path d="M371.5 431.3L368.7 431.3" stroke="#444" stroke-width="0.9"/>
<text font-size="8.8" text-anchor="end" fill="#333" stroke="#333" stroke-width="0.3" transform="translate(366 434.4) scale(1.080 1)">0.6</text>
<path d="M371.5 414.8L368.7 414.8" stroke="#444" stroke-width="0.9"/>
<text font-size="8.8" text-anchor="end" fill="#333" stroke="#333" stroke-width="0.3" transform="translate(366 417.9) scale(1.080 1)">0.8</text>
<path d="M371.5 472.6L369.9 472.6M371.5 456.1L369.9 456.1M371.5 439.6L369.9 439.6M371.5 423.1L369.9 423.1M371.5 406.6L369.9 406.6" stroke="#444" stroke-width="0.7"/>
<path d="M371.5 480.8L560 480.8" stroke="#444" stroke-width="1"/>
<path d="M371.4 561.5l.6-.7.7 1.5.6-.6.6-.3.6 0 .7-.5.6.1.6 1.3.7-.4.6.2.6-.9.6.1.7.3.6-.8.6-.5.7 1 .6-.8.6.8.6.6.7-.7.6.5.6-1 .7.9.6-.6.6 0 .6.4.7-.8.6.4.6 0 .7 1.2.6-1.5.6.6.6-.1.7-.3.6-.3.6.8.7-.6.6.8.6-.7.6-.7.7.9.6-.7.6.6.7 1.3.6-1 .6-.7.6.4.7.6.6-.7.6.2.7-.4.6.8.6-.6.6-.5.7.2.6 1.4.6-1.8.7.6.6.6.6-1.1.6-.5.7.8.6 0 .6.6.7-.5.6-.7.6.2.6 0 .7 0 .6 1.6.6-1.3.7-.3.6.1.6-.3.6.5.7-.7.6 0 .6-.1.7.3.6-.3.6-.1.6 0 .7-.4.6.8.6-.3.7-.5.6.2.6.1.6-.6.7.4.6 0 .6-.6.7-.4.6-.9.6 1.4.6-.6.7-.7.6 1.4.6-2 .6.6.7-1.2.6-.4.6-.6.7-.4.6-.4.6.3.6-.7.7-1.3.6-1.4.6-1.1.7.1.6-1.1.6-1.5.6-1.3.7-1.5.6-2.2.6-2.7.7-2.1.6-1.8.6-2.4.6-3.2.7-2.9.6-3.5.6-3.4.7-3 .6-4.7.6-3.2.6-3.7.7-2.6.6-3.9.6-3.3.7-2 .6-3.1.6-.9.6-2 .7.4.6.4.6.9.7 1.5.6 2.9.6 1.5.6 4.2.7 3.3.6 2.8.6 4.3.7 2.8.6 3.2.6 4.5.6 2.5.7 3.6.6 4.3.6 2.1.7 2 .6 2.7.6 2.2.6 2.5.7 1.4.6.8.6 2.9.7.8.6.7.6 1.9.6.6.7.8.6 1.2.6 1.1.7.4.6.3.6-.6.6 1.1.7.4.6-.4.6 0 .7 1.4.6.2.6-.3.6.8.7-.5.6.8.6-1 .7 1.3.6.2.6-.3.6.2.7-.3.6.2.6 0 .7.9.6-.2.6.7.6 0 .7-.5.6-.6.6 1 .7.5.6-.6.6-.2.6.5.7.1.6.3.6-1.3.7-.2.6.4.6.5.6.9.7-1.4.6.4.6.4.7-.2.6.1.6-.7.6.3.7-.5.6.8.6 0 .7.3.6-.2.6-.4.6.3.7.5.6.5.6-.6.7-.2.6-.1.6.5.6-.5.7 1.1.6-1.3.6.3.7.4.6-.6.6 1 .6.3.7-.6.6-.2.6.1.7-.7.6 1.1.6-.9.6.5.7.4.6.4.6-.4.7 0 .6.1.6.2.6-.8.7.1.6 0 .6.7.7-.5.6 0 .6.5.6-.9.7 0 .6 1 .6-.4.7-.5.6-.2.6.6.6-.2.7.3.6.3.6-.9.7.5.6.4.6 0 .6-.6.7 0 .6-.2.6.3.7.2.6-.1.6-.3.6.4.7-.7.6.8.6.5.7-1.7.6.4.6.8.6-.6.7.5.6-.5.6-.2.7 1.4.6-.8.6 0 .6.1.7.6.6-1.2.6-.1.7 1 .6-.3.6.3.6-.1.7-.2.6.3.6-.5.6 1.4" stroke="#f6c0a8" stroke-width="3.2" fill="none" stroke-linejoin="round" stroke-linecap="round" opacity="0.7"/>
<path d="M371.4 561.5l.6-.7.7 1.5.6-.6.6-.3.6 0 .7-.5.6.1.6 1.3.7-.4.6.2.6-.9.6.1.7.3.6-.8.6-.5.7 1 .6-.8.6.8.6.6.7-.7.6.5.6-1 .7.9.6-.6.6 0 .6.4.7-.8.6.4.6 0 .7 1.2.6-1.5.6.6.6-.1.7-.3.6-.3.6.8.7-.6.6.8.6-.7.6-.7.7.9.6-.7.6.6.7 1.3.6-1 .6-.7.6.4.7.6.6-.7.6.2.7-.4.6.8.6-.6.6-.5.7.2.6 1.4.6-1.8.7.6.6.6.6-1.1.6-.5.7.8.6 0 .6.6.7-.5.6-.7.6.2.6 0 .7 0 .6 1.6.6-1.3.7-.3.6.1.6-.3.6.5.7-.7.6 0 .6-.1.7.3.6-.3.6-.1.6 0 .7-.4.6.8.6-.3.7-.5.6.2.6.1.6-.6.7.4.6 0 .6-.6.7-.4.6-.9.6 1.4.6-.6.7-.7.6 1.4.6-2 .6.6.7-1.2.6-.4.6-.6.7-.4.6-.4.6.3.6-.7.7-1.3.6-1.4.6-1.1.7.1.6-1.1.6-1.5.6-1.3.7-1.5.6-2.2.6-2.7.7-2.1.6-1.8.6-2.4.6-3.2.7-2.9.6-3.5.6-3.4.7-3 .6-4.7.6-3.2.6-3.7.7-2.6.6-3.9.6-3.3.7-2 .6-3.1.6-.9.6-2 .7.4.6.4.6.9.7 1.5.6 2.9.6 1.5.6 4.2.7 3.3.6 2.8.6 4.3.7 2.8.6 3.2.6 4.5.6 2.5.7 3.6.6 4.3.6 2.1.7 2 .6 2.7.6 2.2.6 2.5.7 1.4.6.8.6 2.9.7.8.6.7.6 1.9.6.6.7.8.6 1.2.6 1.1.7.4.6.3.6-.6.6 1.1.7.4.6-.4.6 0 .7 1.4.6.2.6-.3.6.8.7-.5.6.8.6-1 .7 1.3.6.2.6-.3.6.2.7-.3.6.2.6 0 .7.9.6-.2.6.7.6 0 .7-.5.6-.6.6 1 .7.5.6-.6.6-.2.6.5.7.1.6.3.6-1.3.7-.2.6.4.6.5.6.9.7-1.4.6.4.6.4.7-.2.6.1.6-.7.6.3.7-.5.6.8.6 0 .7.3.6-.2.6-.4.6.3.7.5.6.5.6-.6.7-.2.6-.1.6.5.6-.5.7 1.1.6-1.3.6.3.7.4.6-.6.6 1 .6.3.7-.6.6-.2.6.1.7-.7.6 1.1.6-.9.6.5.7.4.6.4.6-.4.7 0 .6.1.6.2.6-.8.7.1.6 0 .6.7.7-.5.6 0 .6.5.6-.9.7 0 .6 1 .6-.4.7-.5.6-.2.6.6.6-.2.7.3.6.3.6-.9.7.5.6.4.6 0 .6-.6.7 0 .6-.2.6.3.7.2.6-.1.6-.3.6.4.7-.7.6.8.6.5.7-1.7.6.4.6.8.6-.6.7.5.6-.5.6-.2.7 1.4.6-.8.6 0 .6.1.7.6.6-1.2.6-.1.7 1 .6-.3.6.3.6-.1.7-.2.6.3.6-.5.6 1.4" stroke="#ec8a68" stroke-width="1.7" fill="none" stroke-linejoin="round" stroke-linecap="round"/>
<path d="M422.9 561.9l.7.2" stroke="#b8d4f0" stroke-width="3.2" fill="none" stroke-linejoin="round" stroke-linecap="round" opacity="0.6"/>
<path d="M425.5 562.1l.6-.2.6.2" stroke="#b8d4f0" stroke-width="3.2" fill="none" stroke-linejoin="round" stroke-linecap="round" opacity="0.6"/>
<path d="M428.6 561.9l.6-.2.7.4.6-.9.6.6.6-.4.7 0 .6-1 .6.5.6.1.7.1.6-.4.6-.1.7.3.6-.9.6-.5.6-.2.7-.5.6-.5.6-.2.7-.5.6 0 .6-.8.6-1 .7-.6.6-1.4.6-1.2.7-.8.6-1.1.6-2 .6-1.2.7-2.1.6-1.6.6-1.6.7-1.1.6-2.1.6-2.2.6-1.7.7-1.4.6-2.1.6-1.4.7-1.2.6-.9.6-1.3.6-.4.7.3.6.1.6 0 .7.6.6 2 .6.6.6 1.8.7 1.7.6 1.4.6 2.6.7 1.5.6 2.1.6 2.3.6.4.7 2.2.6 1.9.6.4.7 2.2.6.9.6 1.7.6.4.7 1.4.6.7.6.6.7 1 .6.2.6.7.6.8.7.5.6-.1.6.7.7-.1.6-.1.6 1 .6.1.7-.2.6-.3.6 1.2.7-.2.6 0 .6.2.6-.8.7.2.6.3.6.1.7.3" stroke="#b8d4f0" stroke-width="3.2" fill="none" stroke-linejoin="round" stroke-linecap="round" opacity="0.6"/>
<path d="M486.4 561.8l.6.2" stroke="#b8d4f0" stroke-width="3.2" fill="none" stroke-linejoin="round" stroke-linecap="round" opacity="0.6"/>
<path d="M488.3 561.8l.6.2" stroke="#b8d4f0" stroke-width="3.2" fill="none" stroke-linejoin="round" stroke-linecap="round" opacity="0.6"/>
<path d="M490.2 562l.6.2.6-.1" stroke="#b8d4f0" stroke-width="3.2" fill="none" stroke-linejoin="round" stroke-linecap="round" opacity="0.6"/>
<path d="M497.7 561.7l.7.4.6-.1" stroke="#b8d4f0" stroke-width="3.2" fill="none" stroke-linejoin="round" stroke-linecap="round" opacity="0.6"/>
<path d="M422.9 561.9l.7.2" stroke="#4a84c8" stroke-width="1.7" fill="none" stroke-linejoin="round" stroke-linecap="round"/>
<path d="M425.5 562.1l.6-.2.6.2" stroke="#4a84c8" stroke-width="1.7" fill="none" stroke-linejoin="round" stroke-linecap="round"/>
<path d="M428.6 561.9l.6-.2.7.4.6-.9.6.6.6-.4.7 0 .6-1 .6.5.6.1.7.1.6-.4.6-.1.7.3.6-.9.6-.5.6-.2.7-.5.6-.5.6-.2.7-.5.6 0 .6-.8.6-1 .7-.6.6-1.4.6-1.2.7-.8.6-1.1.6-2 .6-1.2.7-2.1.6-1.6.6-1.6.7-1.1.6-2.1.6-2.2.6-1.7.7-1.4.6-2.1.6-1.4.7-1.2.6-.9.6-1.3.6-.4.7.3.6.1.6 0 .7.6.6 2 .6.6.6 1.8.7 1.7.6 1.4.6 2.6.7 1.5.6 2.1.6 2.3.6.4.7 2.2.6 1.9.6.4.7 2.2.6.9.6 1.7.6.4.7 1.4.6.7.6.6.7 1 .6.2.6.7.6.8.7.5.6-.1.6.7.7-.1.6-.1.6 1 .6.1.7-.2.6-.3.6 1.2.7-.2.6 0 .6.2.6-.8.7.2.6.3.6.1.7.3" stroke="#4a84c8" stroke-width="1.7" fill="none" stroke-linejoin="round" stroke-linecap="round"/>
<path d="M486.4 561.8l.6.2" stroke="#4a84c8" stroke-width="1.7" fill="none" stroke-linejoin="round" stroke-linecap="round"/>
<path d="M488.3 561.8l.6.2" stroke="#4a84c8" stroke-width="1.7" fill="none" stroke-linejoin="round" stroke-linecap="round"/>
<path d="M490.2 562l.6.2.6-.1" stroke="#4a84c8" stroke-width="1.7" fill="none" stroke-linejoin="round" stroke-linecap="round"/>
<path d="M497.7 561.7l.7.4.6-.1" stroke="#4a84c8" stroke-width="1.7" fill="none" stroke-linejoin="round" stroke-linecap="round"/>
<path d="M449.6 514.2l3.2 3.2l-3.2 3.2l-3.2 -3.2z" fill="#f6b878" stroke="#ec9a68" stroke-width="0.8"/>
<path d="M447.5 537.9a2.6 2.6 0 1 0 5.2 0a2.6 2.6 0 1 0 -5.2 0" fill="#cfe4f8" stroke="#4a84c8" stroke-width="0.9"/>
<path d="M378 493.6L394 493.6" stroke="#ec8a68" stroke-width="1.4"/>
<path d="M386 489.6l4 4l-4 4l-4 -4z" fill="#fde4d2" stroke="#ec8a68" stroke-width="0.9"/>
<text font-size="10" fill="#333" stroke="#333" stroke-width="0.3" transform="translate(398 497.2) scale(1.080 1)">BP-WSe<tspan dy="2.5" font-size="7">2</tspan></text>
<path d="M378 509L394 509" stroke="#4a84c8" stroke-width="1.4"/>
<path d="M382.5 509a3.5 3.5 0 1 0 7 0a3.5 3.5 0 1 0 -7 0" fill="#cfe6fa" stroke="#4a84c8" stroke-width="0.9"/>
<text font-size="10" fill="#333" stroke="#333" stroke-width="0.3" transform="translate(398 512.6) scale(1.080 1)">BP</text>
<text font-size="9.5" fill="#333" stroke="#333" stroke-width="0.3" transform="translate(507.2 500) scale(1.080 1)">7 nm-BP</text>
<path d="M371.5 546.7L368.7 546.7" stroke="#444" stroke-width="0.9"/>
<text font-size="8.8" text-anchor="end" fill="#333" stroke="#333" stroke-width="0.3" transform="translate(366 549.8) scale(1.080 1)">0.2</text>
<path d="M371.5 530.2L368.7 530.2" stroke="#444" stroke-width="0.9"/>
<text font-size="8.8" text-anchor="end" fill="#333" stroke="#333" stroke-width="0.3" transform="translate(366 533.3) scale(1.080 1)">0.4</text>
<path d="M371.5 513.8L368.7 513.8" stroke="#444" stroke-width="0.9"/>
<text font-size="8.8" text-anchor="end" fill="#333" stroke="#333" stroke-width="0.3" transform="translate(366 516.9) scale(1.080 1)">0.6</text>
<path d="M371.5 497.3L368.7 497.3" stroke="#444" stroke-width="0.9"/>
<text font-size="8.8" text-anchor="end" fill="#333" stroke="#333" stroke-width="0.3" transform="translate(366 500.4) scale(1.080 1)">0.8</text>
<path d="M371.5 555L369.9 555M371.5 538.5L369.9 538.5M371.5 522L369.9 522M371.5 505.5L369.9 505.5M371.5 489L369.9 489" stroke="#444" stroke-width="0.7"/>
<path d="M371.5 563.2L560 563.2" stroke="#444" stroke-width="1"/>
<path d="M371.4 644.4l.6-.2.7.2.6-.3.6.7.6-.2.7 0 .6 1.1.6-.6.7-.9.6 1.1.6.2.6-.3.7-1.5.6 1 .6-.2.7-.1.6.1.6.7.6 0 .7 0 .6-.8.6 1.4.7-.8.6-.4.6-.2.6.6.7-.2.6.2.6-1.3.7 1.7.6-.4.6-1 .6.4.7-.7.6.1.6.8.7.7.6-.6.6-.5.6-.3.7-.8.6.8.6.3.7 1 .6-.6.6-.5.6.7.7-.5.6-1.6.6 1 .7.2.6 0 .6 0 .6-.6.7-.2.6.4.6.5.7-1.1.6 1.1.6-.6.6.3.7.3.6-.4.6-.4.7.1.6-1.2.6 1.5.6-.7.7-.6.6 0 .6-.2.7-.5.6 1.3.6-1 .6-.4.7-.7.6.3.6-1.3.7.3.6-.7.6-.7.6-.9.7-.7.6.6.6-1.7.7.2.6-2.7.6-1.3.6.1.7-1.6.6-.1.6-1.9.7-2.5.6-.6.6-2.2.6-1.7.7-1.8.6-1.1.6-1.6.6-3 .7-1.3.6-2.6.6-1.8.7-1.4.6-1.4.6-2.6.6-1.2.7-1 .6-.9.6-1.1.7-.8.6-1.2.6.2.6.2.7-1.2.6 1.3.6 1.1.7.9.6.7.6 2.7.6 1.5.7 1.9.6.7.6 2.4.7 2.2.6 1.8.6.8.6 3.4.7 1.8.6 1.5.6 2.1.7 1.3.6 2.2.6 1.2.6 1.4.7 1.5.6.5.6 1.7.7 1.7.6.8.6-.2.6 1.6.7.3.6.9.6 1 .7.9.6.5.6-.9.6 1.8.7.1.6.4.6.8.7-.8.6.3.6.3.6-.6.7 1.1.6 0 .6-.1.7-.6.6.7.6 0 .6.4.7-.5.6.8.6.7.7.5.6-.7.6-.5.6-.1.7.9.6-.6.6.4.7-.5.6.6.6-.3.6-.2.7.9.6.1.6-.8.7-.1.6.5.6-.1.6.8.7-.4.6-.5.6 1.2.7-1.1.6-.6.6 1 .6-.3.7-.3.6.2.6.7.7 1.4.6-2.3.6.7.6.2.7.4.6-.5.6-.5.7-.7.6 1.9.6-.6.6.3.7-.3.6.3.6-.6.7 0 .6.7.6-.1.6-.2.7-.3.6 1 .6-.5.7-.5.6.1.6 1 .6-.8.7-.1.6-.7.6.2.7.1.6.1.6.5.6-.1.7 0 .6.4.6-.2.7-.6.6.4.6-.2.6-.2.7 1.6.6-2 .6.8.7.4.6-.1.6-.3.6.5.7.2.6-.6.6-.3.7 1 .6-.7.6-.5.6.9.7-.9.6.5.6.4.7-.6.6-.1.6-.2.6-.5.7 1.2.6-.2.6.5.7-1 .6 1.2.6-.9.6.6.7.3.6-1.2.6.9.7-.3.6.2.6-.1.6.2.7-.2.6.6.6-1.3.7 1.1.6-.8.6.4.6-.9.7.1.6 1.6.6-.2.7-.1.6-.9.6.1.6.6.7-1 .6.9.6-.2.7-.2.6-.5.6.7.6.4.7-.4.6-.5.6 1.2.7-.3.6-.3.6-.5.6.2.7-.7.6 1.3.6.2.6-.3" stroke="#f6c0a8" stroke-width="3.2" fill="none" stroke-linejoin="round" stroke-linecap="round" opacity="0.7"/>
<path d="M371.4 644.4l.6-.2.7.2.6-.3.6.7.6-.2.7 0 .6 1.1.6-.6.7-.9.6 1.1.6.2.6-.3.7-1.5.6 1 .6-.2.7-.1.6.1.6.7.6 0 .7 0 .6-.8.6 1.4.7-.8.6-.4.6-.2.6.6.7-.2.6.2.6-1.3.7 1.7.6-.4.6-1 .6.4.7-.7.6.1.6.8.7.7.6-.6.6-.5.6-.3.7-.8.6.8.6.3.7 1 .6-.6.6-.5.6.7.7-.5.6-1.6.6 1 .7.2.6 0 .6 0 .6-.6.7-.2.6.4.6.5.7-1.1.6 1.1.6-.6.6.3.7.3.6-.4.6-.4.7.1.6-1.2.6 1.5.6-.7.7-.6.6 0 .6-.2.7-.5.6 1.3.6-1 .6-.4.7-.7.6.3.6-1.3.7.3.6-.7.6-.7.6-.9.7-.7.6.6.6-1.7.7.2.6-2.7.6-1.3.6.1.7-1.6.6-.1.6-1.9.7-2.5.6-.6.6-2.2.6-1.7.7-1.8.6-1.1.6-1.6.6-3 .7-1.3.6-2.6.6-1.8.7-1.4.6-1.4.6-2.6.6-1.2.7-1 .6-.9.6-1.1.7-.8.6-1.2.6.2.6.2.7-1.2.6 1.3.6 1.1.7.9.6.7.6 2.7.6 1.5.7 1.9.6.7.6 2.4.7 2.2.6 1.8.6.8.6 3.4.7 1.8.6 1.5.6 2.1.7 1.3.6 2.2.6 1.2.6 1.4.7 1.5.6.5.6 1.7.7 1.7.6.8.6-.2.6 1.6.7.3.6.9.6 1 .7.9.6.5.6-.9.6 1.8.7.1.6.4.6.8.7-.8.6.3.6.3.6-.6.7 1.1.6 0 .6-.1.7-.6.6.7.6 0 .6.4.7-.5.6.8.6.7.7.5.6-.7.6-.5.6-.1.7.9.6-.6.6.4.7-.5.6.6.6-.3.6-.2.7.9.6.1.6-.8.7-.1.6.5.6-.1.6.8.7-.4.6-.5.6 1.2.7-1.1.6-.6.6 1 .6-.3.7-.3.6.2.6.7.7 1.4.6-2.3.6.7.6.2.7.4.6-.5.6-.5.7-.7.6 1.9.6-.6.6.3.7-.3.6.3.6-.6.7 0 .6.7.6-.1.6-.2.7-.3.6 1 .6-.5.7-.5.6.1.6 1 .6-.8.7-.1.6-.7.6.2.7.1.6.1.6.5.6-.1.7 0 .6.4.6-.2.7-.6.6.4.6-.2.6-.2.7 1.6.6-2 .6.8.7.4.6-.1.6-.3.6.5.7.2.6-.6.6-.3.7 1 .6-.7.6-.5.6.9.7-.9.6.5.6.4.7-.6.6-.1.6-.2.6-.5.7 1.2.6-.2.6.5.7-1 .6 1.2.6-.9.6.6.7.3.6-1.2.6.9.7-.3.6.2.6-.1.6.2.7-.2.6.6.6-1.3.7 1.1.6-.8.6.4.6-.9.7.1.6 1.6.6-.2.7-.1.6-.9.6.1.6.6.7-1 .6.9.6-.2.7-.2.6-.5.6.7.6.4.7-.4.6-.5.6 1.2.7-.3.6-.3.6-.5.6.2.7-.7.6 1.3.6.2.6-.3" stroke="#ec8a68" stroke-width="1.7" fill="none" stroke-linejoin="round" stroke-linecap="round"/>
<path d="M409.7 645.8l.7-.6.6.5.6-.5.7-.3.6.4" stroke="#b8d4f0" stroke-width="3.2" fill="none" stroke-linejoin="round" stroke-linecap="round" opacity="0.6"/>
<path d="M414.1 645.4l.7-.4.6.3" stroke="#b8d4f0" stroke-width="3.2" fill="none" stroke-linejoin="round" stroke-linecap="round" opacity="0.6"/>
<path d="M416.7 645.7l.6-.4.6.1.6-.6.7-.3.6 0 .6-.1.7.4.6-1.6.6.5.6-.9.7.5.6-1.1.6-.4.7-.6.6-.8.6-.4.6-1.2.7.5.6-1.8.6-1.6.7-.9.6-.8.6-1.2.6-1.7.7-1.4.6-.6.6-2.1.6-1.8.7-2.4.6-1.9.6-2 .7-1.7.6-1.1.6-2.1.6-1.1.7-.8.6-2.6.6.1.7-1.3.6-.4.6-.4.6-.1.7.8.6.5.6 1.1.7.7.6.4.6 1.9.6 2.2.7 1.3.6 2 .6 2 .7 2 .6 2 .6.6.6 2.3.7 1.4.6 1 .6 2.8.7.6.6 1.1.6 1.8.6 1.2.7 0 .6 1.3.6 1 .7.7.6 1 .6.6.6.2.7.6.6.2.6.7.7-.3.6.3.6.8.6.3.7-.6.6 1 .6-.3.7-.3.6.6.6-.9.6.8.7.4.6.1.6.2" stroke="#b8d4f0" stroke-width="3.2" fill="none" stroke-linejoin="round" stroke-linecap="round" opacity="0.6"/>
<path d="M472.6 645.3l.6-.1.6.4.7-.3.6.2.6.2.7-.3.6.2" stroke="#b8d4f0" stroke-width="3.2" fill="none" stroke-linejoin="round" stroke-linecap="round" opacity="0.6"/>
<path d="M478.2 645.4l.7-.1" stroke="#b8d4f0" stroke-width="3.2" fill="none" stroke-linejoin="round" stroke-linecap="round" opacity="0.6"/>
<path d="M482 645.4l.6.4" stroke="#b8d4f0" stroke-width="3.2" fill="none" stroke-linejoin="round" stroke-linecap="round" opacity="0.6"/>
<path d="M409.7 645.8l.7-.6.6.5.6-.5.7-.3.6.4" stroke="#4a84c8" stroke-width="1.7" fill="none" stroke-linejoin="round" stroke-linecap="round"/>
<path d="M414.1 645.4l.7-.4.6.3" stroke="#4a84c8" stroke-width="1.7" fill="none" stroke-linejoin="round" stroke-linecap="round"/>
<path d="M416.7 645.7l.6-.4.6.1.6-.6.7-.3.6 0 .6-.1.7.4.6-1.6.6.5.6-.9.7.5.6-1.1.6-.4.7-.6.6-.8.6-.4.6-1.2.7.5.6-1.8.6-1.6.7-.9.6-.8.6-1.2.6-1.7.7-1.4.6-.6.6-2.1.6-1.8.7-2.4.6-1.9.6-2 .7-1.7.6-1.1.6-2.1.6-1.1.7-.8.6-2.6.6.1.7-1.3.6-.4.6-.4.6-.1.7.8.6.5.6 1.1.7.7.6.4.6 1.9.6 2.2.7 1.3.6 2 .6 2 .7 2 .6 2 .6.6.6 2.3.7 1.4.6 1 .6 2.8.7.6.6 1.1.6 1.8.6 1.2.7 0 .6 1.3.6 1 .7.7.6 1 .6.6.6.2.7.6.6.2.6.7.7-.3.6.3.6.8.6.3.7-.6.6 1 .6-.3.7-.3.6.6.6-.9.6.8.7.4.6.1.6.2" stroke="#4a84c8" stroke-width="1.7" fill="none" stroke-linejoin="round" stroke-linecap="round"/>
<path d="M472.6 645.3l.6-.1.6.4.7-.3.6.2.6.2.7-.3.6.2" stroke="#4a84c8" stroke-width="1.7" fill="none" stroke-linejoin="round" stroke-linecap="round"/>
<path d="M478.2 645.4l.7-.1" stroke="#4a84c8" stroke-width="1.7" fill="none" stroke-linejoin="round" stroke-linecap="round"/>
<path d="M482 645.4l.6.4" stroke="#4a84c8" stroke-width="1.7" fill="none" stroke-linejoin="round" stroke-linecap="round"/>
<path d="M439.5 600.1l3.2 3.2l-3.2 3.2l-3.2 -3.2z" fill="#f6b878" stroke="#ec9a68" stroke-width="0.8"/>
<path d="M437.9 612.5a2.6 2.6 0 1 0 5.2 0a2.6 2.6 0 1 0 -5.2 0" fill="#cfe4f8" stroke="#4a84c8" stroke-width="0.9"/>
<path d="M378 576L394 576" stroke="#ec8a68" stroke-width="1.4"/>
<path d="M386 572l4 4l-4 4l-4 -4z" fill="#fde4d2" stroke="#ec8a68" stroke-width="0.9"/>
<text font-size="10" fill="#333" stroke="#333" stroke-width="0.3" transform="translate(398 579.6) scale(1.080 1)">BP-WSe<tspan dy="2.5" font-size="7">2</tspan></text>
<path d="M378 591.3L394 591.3" stroke="#4a84c8" stroke-width="1.4"/>
<path d="M382.5 591.3a3.5 3.5 0 1 0 7 0a3.5 3.5 0 1 0 -7 0" fill="#cfe6fa" stroke="#4a84c8" stroke-width="0.9"/>
<text font-size="10" fill="#333" stroke="#333" stroke-width="0.3" transform="translate(398 594.9) scale(1.080 1)">BP</text>
<text font-size="9.5" fill="#333" stroke="#333" stroke-width="0.3" transform="translate(507.2 583.1) scale(1.080 1)">16 nm-BP</text>
<path d="M371.5 630.1L368.7 630.1" stroke="#444" stroke-width="0.9"/>
<text font-size="8.8" text-anchor="end" fill="#333" stroke="#333" stroke-width="0.3" transform="translate(366 633.2) scale(1.080 1)">0.2</text>
<path d="M371.5 613.4L368.7 613.4" stroke="#444" stroke-width="0.9"/>
<text font-size="8.8" text-anchor="end" fill="#333" stroke="#333" stroke-width="0.3" transform="translate(366 616.5) scale(1.080 1)">0.4</text>
<path d="M371.5 596.6L368.7 596.6" stroke="#444" stroke-width="0.9"/>
<text font-size="8.8" text-anchor="end" fill="#333" stroke="#333" stroke-width="0.3" transform="translate(366 599.7) scale(1.080 1)">0.6</text>
<path d="M371.5 579.9L368.7 579.9" stroke="#444" stroke-width="0.9"/>
<text font-size="8.8" text-anchor="end" fill="#333" stroke="#333" stroke-width="0.3" transform="translate(366 583) scale(1.080 1)">0.8</text>
<path d="M371.5 646.8L368.7 646.8" stroke="#444" stroke-width="0.9"/>
<text font-size="8.8" text-anchor="end" fill="#333" stroke="#333" stroke-width="0.3" transform="translate(366 649.9) scale(1.080 1)">0.0</text>
<path d="M371.5 638.4L369.9 638.4M371.5 621.7L369.9 621.7M371.5 605L369.9 605M371.5 588.3L369.9 588.3M371.5 571.6L369.9 571.6" stroke="#444" stroke-width="0.7"/>
<rect x="371.5" y="315.9" width="188.5" height="330.9" stroke="#555" stroke-width="1" fill="none"/>
<path d="M392.3 646.8L392.3 649.6" stroke="#444" stroke-width="0.9"/>
<text font-size="9.3" text-anchor="middle" fill="#333" stroke="#333" stroke-width="0.3" transform="translate(392.3 660.6) scale(1.080 1)">200</text>
<path d="M434.2 646.8L434.2 649.6" stroke="#444" stroke-width="0.9"/>
<text font-size="9.3" text-anchor="middle" fill="#333" stroke="#333" stroke-width="0.3" transform="translate(434.2 660.6) scale(1.080 1)">300</text>
<path d="M476.1 646.8L476.1 649.6" stroke="#444" stroke-width="0.9"/>
<text font-size="9.3" text-anchor="middle" fill="#333" stroke="#333" stroke-width="0.3" transform="translate(476.1 660.6) scale(1.080 1)">400</text>
<path d="M518 646.8L518 649.6" stroke="#444" stroke-width="0.9"/>
<text font-size="9.3" text-anchor="middle" fill="#333" stroke="#333" stroke-width="0.3" transform="translate(518 660.6) scale(1.080 1)">500</text>
<path d="M559.9 646.8L559.9 649.6" stroke="#444" stroke-width="0.9"/>
<text font-size="9.3" text-anchor="middle" fill="#333" stroke="#333" stroke-width="0.3" transform="translate(559.9 660.6) scale(1.080 1)">600</text>
<path d="M371.4 646.8L371.4 648.4M413.3 646.8L413.3 648.4M455.2 646.8L455.2 648.4M497.1 646.8L497.1 648.4M539 646.8L539 648.4" stroke="#444" stroke-width="0.7"/>
<text font-size="9.5" text-anchor="middle" fill="#333" stroke="#333" stroke-width="0.3" transform="translate(465 675.5) scale(1.080 1)">Energy (meV)</text>
<text font-size="10.9" text-anchor="middle" fill="#333" stroke="#333" stroke-width="0.3" transform="translate(343.6 481.5) scale(1.080 1) rotate(-90)">PL intensity (a.u.)</text>
<path d="M373.5 315.9L373.5 318.7" stroke="#444" stroke-width="0.9"/>
<text font-size="9.5" text-anchor="middle" fill="#333" stroke="#333" stroke-width="0.3" transform="translate(373.5 310.6) scale(1.080 1)">8</text>
<path d="M382.8 315.9L382.8 318.7" stroke="#444" stroke-width="0.9"/>
<text font-size="9.5" text-anchor="middle" fill="#333" stroke="#333" stroke-width="0.3" transform="translate(382.8 310.6) scale(1.080 1)">7</text>
<path d="M395.1 315.9L395.1 318.7" stroke="#444" stroke-width="0.9"/>
<text font-size="9.5" text-anchor="middle" fill="#333" stroke="#333" stroke-width="0.3" transform="translate(395.1 310.6) scale(1.080 1)">6</text>
<path d="M412.4 315.9L412.4 318.7" stroke="#444" stroke-width="0.9"/>
<text font-size="9.5" text-anchor="middle" fill="#333" stroke="#333" stroke-width="0.3" transform="translate(412.4 310.6) scale(1.080 1)">5</text>
<path d="M438.4 315.9L438.4 318.7" stroke="#444" stroke-width="0.9"/>
<text font-size="9.5" text-anchor="middle" fill="#333" stroke="#333" stroke-width="0.3" transform="translate(438.4 310.6) scale(1.080 1)">4</text>
<path d="M481.7 315.9L481.7 318.7" stroke="#444" stroke-width="0.9"/>
<text font-size="9.5" text-anchor="middle" fill="#333" stroke="#333" stroke-width="0.3" transform="translate(481.7 310.6) scale(1.080 1)">3</text>
<path d="M377.8 315.9L377.8 317.5M388.5 315.9L388.5 317.5M403 315.9L403 317.5M424 315.9L424 317.5M457 315.9L457 317.5M516.3 315.9L516.3 317.5" stroke="#444" stroke-width="0.7"/>
<text font-size="9.5" text-anchor="middle" fill="#333" stroke="#333" stroke-width="0.3" transform="translate(466 294.6) scale(1.080 1)">Wavelength (μm)</text>
<path d="M686 544.3l1-.3 1.1-.2 1-.1 1.1.1 1 .3 1-.1 1.1.1 1 .3 1.1-.2 1-.3 1.1.1 1 .2 1 .1 1.1-.2 1 .1 1.1-.1 1-.1 1 .6 1.1-.5 1 .3 1.1-.1 1 .1 1.1-.6 1 .1 1 0 1.1.3 1 .2 1.1-.3 1-.1 1.1 0 1-.2 1 .3 1.1-.5 1 .2 1.1-.3 1 .3 1 .1 1.1.1 1-.4 1.1 0 1 .1 1.1-.1 1 .1 1 0 1.1 0 1 .3 1.1-.3 1-.3 1.1 0 1-.3 1 0 1.1-.1 1-.2 1.1.3 1-.8 1-.2 1.1-.7 1-.4 1.1-.5 1-.6 1.1-.7 1-.4 1-1 1.1-1.6 1-1.1 1.1-1.2 1-1.7 1-1.9 1.1-2.9 1-1.7 1.1-2.4 1-2.4 1.1-2.4 1-3.5 1-3.4 1.1-3.3 1-3.5 1.1-3.7 1-4 1.1-4.5 1-4.3 1-4.5 1.1-5.5 1-4.4 1.1-5.4 1-5.2 1-7.1 1.1-6.3 1-7 1.1-7.1 1-6.4 1.1-6.2 1-5.4 1-4.3 1.1-4.6 1-4.2 1.1-3.3 1-3 1.1-1.9 1-1.2 1 .4 1.1 1.6 1 3.5 1.1 4 1 5 1 5.3 1.1 6 1 6.5 1.1 7 1 8.8 1.1 7.7 1 7.8 1 7.6 1.1 7.2 1 7.3 1.1 6.8 1 6.7 1 5 1.1 5.5 1 4.7 1.1 4 1 4 1.1 3.6 1 2.6 1 2.2 1.1 1.7 1 1.1 1.1 1.7 1 .8 1.1.4 1 .6 1 1.1 1.1.8 1 .4 1.1.8 1 .7 1 .6 1.1.6 1-.1 1.1.4 1 .5 1.1-.1 1 .4 1 .2 1.1.5 1-.4 1.1.5 1-.1 1 .2 1.1.3 1 0 1.1.2 1 .1 1.1 0 1 .2 1-.2 1.1.3 1 .3 1.1-.3 1 .3 1.1-.1 1 .7 1-.6 1.1.7 1-.4 1.1-.7 1 .6 1 0 1.1.4 1 .2 1.1-.2 1-.1 1.1.2 1 .1 1 .1 1.1 0 1-.5 1.1.4 1 .2 1.1 0 1 .2 1 .1 1.1-.3 1-.3 1.1.2 1 .5 1-.6 1.1.3 1-.4 1.1.5 1 .3 1.1-.4 1 .1 1 .3 1.1-.1 1 0 1.1.1 1-.3 1 .1 1.1.1 1 0 1.1-.2 1 .1 1.1.4 1-.4 1-.3 1.1.3 1 .3 1.1-.5 1-.2 1.1.5 1 .5 1-.1 1.1-.8 1 .5 1.1-.2 1 0 1 .1 1.1-.4 1 .4 1.1-.1 1 0 1.1 0 1-.5 1 .8 1.1.1 1-.6 1.1.6 1-.4 1.1.3 1-.5 1 .3 1.1-.2 1 .3 1.1-.1 1 .5 1-.8 1.1.1 1 .1 1.1 0 1 .1 1.1-.1 1-.4 1 .5 1.1 0 1-.3 1.1.1 1 .2" stroke="#8c8c8c" stroke-width="1.3" fill="none" stroke-linejoin="round" stroke-linecap="round"/>
<path d="M686 541.1l1-.1 1.1.9 1-.9 1.1 1.4 1-1.3 1 1.4 1.1-.9 1 .2 1.1.1 1-.5 1.1.8 1-.1 1 .1 1.1-1.2 1 1 1.1-.5 1 .3 1-.6 1.1.9 1-.1 1.1-.1 1-.4 1.1.5 1-.6 1-.1 1.1-.2 1 .2 1.1-.4 1 .8 1.1.1 1 0 1 0 1.1.3 1-.8 1.1.1 1 1 1-.9 1.1.3 1 0 1.1-.3 1-.7 1.1.5 1 .9 1-1 1.1.5 1-1.2 1.1.9 1-.2 1.1 0 1 .3 1-.3 1.1-.1 1-1.1 1.1.9 1-.3 1 .2 1.1-.1 1-.2 1.1-.5 1 1.9 1.1-1.1 1 0 1-.8 1.1.7 1-.9 1.1-.1 1 .6 1-.5 1.1.4 1-.7 1.1.1 1-.4 1.1.1 1 .8 1-1.2 1.1.6 1-.5 1.1.4 1-.5 1.1.9 1-1.1 1 .9 1.1-.4 1-.3 1.1.8 1-.9 1 .1 1.1-.4 1 .4 1.1.3 1 0 1.1-.2 1-.5 1 .1 1.1-.4 1-.5 1.1.7 1 0 1.1-.4 1-.1 1 1 1.1-.7 1-.4 1.1-.3 1 .4 1 .1 1.1-1.5 1 2.3 1.1-2.2 1 .9 1.1-.3 1-.3 1-.2 1.1.4 1 .1 1.1-.9 1-.6 1 .5 1.1-1.3 1 1.4 1.1-1.1 1 0 1.1-.6 1 .8 1-1 1.1 0 1 .5 1.1-1.2 1-.1 1.1-1.2 1-1.3 1-.7 1.1-2 1-.6 1.1-.6 1-1.9 1-1.5 1.1 2.2 1 .7 1.1-.9 1-1.5 1.1-1.3 1-1.8 1-1.2 1.1-2.5 1-1.8 1.1-2.2 1-2.3 1-1.9 1.1-2.6 1-2.3 1.1-2.4 1-2.4 1.1-3 1-3.3 1-1.4 1.1-3.8 1-2.8 1.1-2.7 1-2.2 1.1-2.6 1-3.2 1-2.4 1.1-2.8 1-1.3 1.1-2.2 1-2.8 1-1.4 1.1-2.1 1-2.7 1.1-1.8 1-1.6 1.1-2.6 1-2 1-2.8 1.1-1.9 1-1.8 1.1-3.5 1-1.5 1.1-2.3 1-2 1-2.6 1.1-2 1-2.7 1.1-2.2 1-2.6 1-2 1.1-1.7 1-2.1 1.1-2.3 1-3.1 1.1-1.6 1-3.4 1-1.6 1.1-2 1-2 1.1-2.3 1-.6 1-.6 1.1-.1 1 .6 1.1.4 1 .4 1.1 1.9 1 2.5 1 2.9 1.1.8 1 2.8 1.1 3.6 1 1.8 1.1 3.1 1 2 1 3.2 1.1 3.7 1 4 1.1 2.7 1 2.6 1 4.9 1.1 4.7 1 3.5 1.1 4.9 1 3.1 1.1 5.5 1 3.2 1 2.8 1.1 3.8 1 3.8 1.1 4.5 1 3 1.1 3.5 1 4.5 1 4.1 1.1 4.1 1 5.1 1.1 4.1 1 4.6 1 4.3 1.1 3.5 1 2.4 1.1 2.2 1 .8 1.1 1.8 1 2.2 1-.2 1.1.8 1 2.3 1.1.4 1 1.1" stroke="#2a7ec0" stroke-width="1.5" fill="none" stroke-linejoin="round" stroke-linecap="round"/>
<path d="M686 544.6l1 .1 1.1-.1 1 .1 1.1.1 1-.1 1 .1 1.1 0 1-.1 1.1-.8 1 .4 1.1-.3 1 .7 1-.4 1.1-.4 1-.1 1.1.1 1-.1 1-.4 1.1-1.5 1-1.1 1.1-2.2 1-2 1.1-2.8 1-3.7 1-4.4 1.1-5.4 1-6.4 1.1-6.4 1-7.2 1.1-8.4 1-8.6 1-9.1 1.1-9.1 1-10.1 1.1-9.7 1-10.1 1-10.5 1.1-10.2 1-8.8 1.1-6.4 1-3.3 1.1-.1 1 3.2 1 4.5 1.1 6.8 1 9.2 1.1 11.3 1 11.1 1.1 10.3 1 8.4 1 8.1 1.1 6.8 1 6.9 1.1 5.9 1 4.5 1 4.7 1.1 3.6 1 3.8 1.1 2.7 1 2.9 1.1 2.6 1 3.2 1 2.4 1.1 2.4 1 1.3 1.1 2 1 1.1 1 1.2 1.1 2.2 1 1 1.1.8 1 1.8 1.1.9 1 .4 1 .9 1.1 1.2 1 .1 1.1.8 1 .5 1.1.4 1 .2 1 .6 1.1.8 1-.3 1.1.4 1 .3 1 .5 1.1.2 1-.1 1.1-.2 1 .3 1.1.2 1 .1 1 .1 1.1.2 1 0 1.1.5 1-.3 1.1-.1 1 .2 1-.2 1.1 0 1 .5 1.1.3 1-.2 1 .4 1.1-.5 1 .3 1.1-.1 1 .2 1.1.2 1-.5 1 .5 1.1 0 1 0 1.1.2 1 0 1 .2 1.1-.2 1-.1 1.1.4 1 .2 1.1-.3 1-.2 1 0 1.1.2 1 .3 1.1-.3 1 .2 1.1-.2 1 .1 1 .3 1.1-.2 1 0 1.1-.2 1-.1 1 .7 1.1-.1 1 0 1.1 0 1 0 1.1-.5 1 .3 1 .2 1.1-.2 1 .1 1.1.2 1-.1 1-.1 1.1-.1 1 .5 1.1-.3 1 0 1.1 0 1 .1 1 .1 1.1.2 1-.1 1.1-.1 1 .1 1.1-.3 1 .2 1 0 1.1.1 1-.2 1.1.4 1-.7 1 .7 1.1-.2 1-.1 1.1 0 1-.1 1.1.5 1-.4 1 .3 1.1-.6 1 .8 1.1-.5 1-.1 1.1.2 1-.1 1 0 1.1 0 1-.2 1.1.2 1-.2 1 .2 1.1-.1 1 .4 1.1-.6 1 .3 1.1-.1 1-.2 1 .5 1.1.1 1 .4 1.1-.9 1 .2 1-.4 1.1.4 1 0 1.1.1 1-.1 1.1 0 1 .2 1 0 1.1-.1 1 .2 1.1-.5 1 .4 1.1-.1 1 0 1 .1 1.1-.5 1 .3 1.1-.2 1 .6 1-.2 1.1.3 1-.7 1.1.4 1-.3 1.1-.1 1 .6 1-.5 1.1.2 1-.1 1.1 0 1-.1 1.1.2 1 .3 1-.2 1.1-.1 1 0 1.1.2 1-.1 1-.2 1.1-.2 1 .2 1.1.2 1-.2 1.1.2 1-.3 1 .4 1.1-.5 1 .4 1.1-.5 1 .4" stroke="#e0303c" stroke-width="1.6" fill="none" stroke-linejoin="round" stroke-linecap="round"/>
<rect x="685.8" y="366.4" width="260" height="186.1" stroke="#1a1a1a" stroke-width="1.8" fill="none"/>
<path d="M685.8 544.9L681.8 544.9" stroke="#1a1a1a" stroke-width="1.3"/>
<text font-size="13" text-anchor="end" fill="#333" stroke="#333" stroke-width="0.3" transform="translate(680 549.5) scale(1.050 1)">0.0</text>
<path d="M685.8 470.2L681.8 470.2" stroke="#1a1a1a" stroke-width="1.3"/>
<text font-size="13" text-anchor="end" fill="#333" stroke="#333" stroke-width="0.3" transform="translate(680 474.8) scale(1.050 1)">0.5</text>
<path d="M685.8 395.5L681.8 395.5" stroke="#1a1a1a" stroke-width="1.3"/>
<text font-size="13" text-anchor="end" fill="#333" stroke="#333" stroke-width="0.3" transform="translate(680 400.1) scale(1.050 1)">1.0</text>
<path d="M685.8 507.5L683.3 507.5M685.8 432.8L683.3 432.8" stroke="#1a1a1a" stroke-width="1.1"/>
<path d="M711 552.5L711 556.5" stroke="#1a1a1a" stroke-width="1.3"/>
<text font-size="13" text-anchor="middle" fill="#333" stroke="#333" stroke-width="0.3" transform="translate(711 571.2) scale(1.050 1)">2</text>
<path d="M763.1 552.5L763.1 556.5" stroke="#1a1a1a" stroke-width="1.3"/>
<text font-size="13" text-anchor="middle" fill="#333" stroke="#333" stroke-width="0.3" transform="translate(763.1 571.2) scale(1.050 1)">3</text>
<path d="M815.2 552.5L815.2 556.5" stroke="#1a1a1a" stroke-width="1.3"/>
<text font-size="13" text-anchor="middle" fill="#333" stroke="#333" stroke-width="0.3" transform="translate(815.2 571.2) scale(1.050 1)">4</text>
<path d="M867.3 552.5L867.3 556.5" stroke="#1a1a1a" stroke-width="1.3"/>
<text font-size="13" text-anchor="middle" fill="#333" stroke="#333" stroke-width="0.3" transform="translate(867.3 571.2) scale(1.050 1)">5</text>
<path d="M919.4 552.5L919.4 556.5" stroke="#1a1a1a" stroke-width="1.3"/>
<text font-size="13" text-anchor="middle" fill="#333" stroke="#333" stroke-width="0.3" transform="translate(919.4 571.2) scale(1.050 1)">6</text>
<path d="M737 552.5L737 555M789.1 552.5L789.1 555M841.2 552.5L841.2 555M893.4 552.5L893.4 555" stroke="#1a1a1a" stroke-width="1.1"/>
<text font-size="13" text-anchor="middle" fill="#222" stroke="#222" stroke-width="0.3" transform="translate(814.5 588.6) scale(1.050 1)">Wavelength (μm)</text>
<text font-size="13" text-anchor="middle" fill="#222" stroke="#222" stroke-width="0.3" transform="translate(648.2 459) scale(1.050 1) rotate(-90)">Normalized photoluminescence intensity</text>
<path d="M714.5 366.4L714.5 362.4" stroke="#1a1a1a" stroke-width="1.3"/>
<text font-size="13" text-anchor="middle" fill="#333" stroke="#333" stroke-width="0.3" transform="translate(710.5 358) scale(1.050 1)">0.6</text>
<path d="M736 366.4L736 362.4" stroke="#1a1a1a" stroke-width="1.3"/>
<text font-size="13" text-anchor="middle" fill="#333" stroke="#333" stroke-width="0.3" transform="translate(736 358) scale(1.050 1)">0.5</text>
<path d="M768.3 366.4L768.3 362.4" stroke="#1a1a1a" stroke-width="1.3"/>
<text font-size="13" text-anchor="middle" fill="#333" stroke="#333" stroke-width="0.3" transform="translate(768.3 358) scale(1.050 1)">0.4</text>
<path d="M822.1 366.4L822.1 362.4" stroke="#1a1a1a" stroke-width="1.3"/>
<text font-size="13" text-anchor="middle" fill="#333" stroke="#333" stroke-width="0.3" transform="translate(822.1 358) scale(1.050 1)">0.3</text>
<path d="M929.8 366.4L929.8 362.4" stroke="#1a1a1a" stroke-width="1.3"/>
<text font-size="13" text-anchor="middle" fill="#333" stroke="#333" stroke-width="0.3" transform="translate(929.8 358) scale(1.050 1)">0.2</text>
<path d="M692.9 366.4L692.9 363.9M699.1 366.4L699.1 363.9M706.2 366.4L706.2 363.9M724.2 366.4L724.2 363.9M750.3 366.4L750.3 363.9M791.4 366.4L791.4 363.9M865.2 366.4L865.2 363.9" stroke="#1a1a1a" stroke-width="1"/>
<path d="M687.5 366.4L687.5 364.6M689.6 366.4L689.6 364.6M691.8 366.4L691.8 364.6M694.1 366.4L694.1 364.6M696.5 366.4L696.5 364.6M701.8 366.4L701.8 364.6M704.7 366.4L704.7 364.6M707.7 366.4L707.7 364.6M711 366.4L711 364.6M718.2 366.4L718.2 364.6M722.1 366.4L722.1 364.6M726.4 366.4L726.4 364.6M731 366.4L731 364.6" stroke="#1a1a1a" stroke-width="0.8"/>
<text font-size="13" text-anchor="middle" fill="#222" stroke="#222" stroke-width="0.3" transform="translate(816.5 340) scale(1.050 1)">Photon energy (eV)</text>
<text font-size="13" text-anchor="middle" fill="#e0303c" stroke="#e0303c" stroke-width="0.3" transform="translate(727 385) scale(1.050 1)">Tensile</text>
<text font-size="13" text-anchor="middle" fill="#999" stroke="#999" stroke-width="0.3" transform="translate(801.5 385) scale(1.050 1)">Zero strain</text>
<text font-size="13" text-anchor="middle" fill="#2a7ec0" stroke="#2a7ec0" stroke-width="0.3" transform="translate(900 385) scale(1.050 1)">Compressive</text>
<text font-size="13.5" text-anchor="middle" fill="#e0303c" stroke="#e0303c" stroke-width="0.3" transform="translate(710.5 433) scale(1.050 1) rotate(-90)"><tspan font-style="italic">ε</tspan> = 1.21 %</text>
<text font-size="13" text-anchor="middle" fill="#2a7ec0" stroke="#2a7ec0" stroke-width="0.3" transform="translate(863.8 432.8) scale(1.050 1) rotate(-62)"><tspan font-style="italic">ε</tspan> = -0.66 %</text>
<path d="M1104.4 414.3l.2-1.8.1 2.8.2-4.2.1 7.6.2.3.1-5.8.2 2.6.1-2 .2 2.6.1 5.7.2-4.6.1-4.9.2 4.3.1-2.6.2-1.7.1 4.4.2.4.1-2.2.2-.4.1-4.8.2 1.2.1 7.1.2-3 .1 1.2.2-3.7.1-4.5.2 8.7.1-4.8.2 2.9.1-1.1.2-3.1.1 3.6.2-.3.1 2.1.2-.9.1-.2.2-4 .1 3.7.2-2.3.1.1.2 3.8.1-6.7.2.1.2 3.6.1 4.3.2-2 .1-3.7.2-6.3.1 4.2.2 6.6.1-7.4.2 1.3.1 0 .2-.6.1-4.2.2 5.3.1-4.3.2 1.6.1-4.1.2 2.4.1 5.6.2-4.5.1 3.4.2-2.4.1.3.2-4.7.1 3.2.2 2.4.1-1 .2-2.8.1 2 .2-4.4.1 2.5.2 1.2.1.2.2.5.1-2.4.2 3.3.1-7.1.2 4.6.1 4.3.2-9.7.1 3 .2-2.3.1-2.4.2 4.4.1-1.4.2-1.5.1 3.2.2-3 .1 1.5.2 0 .1 6.9.2-4.4.1-3.5.2-3.7.1 3 .2-1.7.1-.1.2.3.1 7.2.2-5 .1-.5.2-4.7.1 3.8.2-3.3.1 1.1.2 2.5.1.7.2-5 .2 3.6.1-4.3.2-.7.1 4.7.2-7.5.1 6.3.2-6.6.1 3.8.2-6.6.1 5.4.2-3.7.1 3.2.2-1.1.1-.6.2 2.9.1-3.1.2 1 .1-1.3.2.8.1-2.4.2-6.3.1 4.2.2-3 .1.4.2 4 .1-1.2.2-2.6.1-1.4.2-4.6.1 6.2.2 1.1.1-1.2.2-.4.1-.8.2 1.3.1-4.7.2-.9.1-.8.2 1.8.1.9.2-.6.1-5 .2 4.6.1.5.2-4.9.1 6.7.2-8.6.1 2.8.2 7 .1-6.8.2 2.1.1-4 .2.6.1.1.2-.8.1-1.8.2 6.4.1-5.2.2-5.9.1.8.2 5.6.1 2.4.2-6 .1 2.4.2 1.8.1-3.7.2.4.2-2.3.1-4.2.2 5.9.1-6.1.2 4.8.1 3 .2-10.6.1 1.3.2 2.2.1-.4.2 4.1.1 1.3.2-5.1.1 3.1.2-3.6.1-1.3.2-2.2.1 6 .2-4.4.1-5 .2 4.4.1-.1.2-5.5.1 4.6.2-3.6.1-.3.2.5.1 5.4.2-2.7.1-4.3.2 4.2.1-2.8.2 3.6.1-2.1.2-6.1.1 6.9.2-1 .1-5.7.2 1.8.1-1.5.2 4.4.1-5 .2 4.7.1-.4.2 0 .1-3 .2 3 .1-4.8.2 8.6.1-7.6.2 1.8.1-4.2.2-1 .1 5.3.2-2.6.1 2.7.2 1.7.1-.2.2.8.1-6.6.2 2.9.1 4.6.2-2 .1 3.6.2-6.7.1 3.8.2 1.4.2-3.8.1 5.8.2-4.2.1-3.2.2 4.1.1 4.2.2-1.1.1-4.7.2-1.6.1 4.7.2-.5.1 5.4.2.2.1-2.5.2-.9.1-1.4.2-2.9.1 4.5.2-3.7.1 9.3.2-2.1.1-5 .2 2.7.1 3.7.2-7.3.1.4.2 7.6.1-4.2.2 1.9.1.4.2 3.2.1-1.1.2 1.7.1-5.9.2 1.8.1-.3.2 6.5.1-8 .2.8.1 7.4.2-8.4.1 7 .2.4.1-3.4.2-1.9.1 1 .2-3.3.1 4.3.2 2 .1 1.7.2 1.1.1-1.3.2 3.6.1 1.3.2-1.2.1 0 .2-8.4.1 8.2.2 2.7.1-6.1.2 3.5.1 4.7.2-11.5.1 7.6.2.3.2 2.3.1-.3.2-7.5.1 8.2.2-2.2.1 2.7.2.8.1-5.8.2 1.2.1-1.6.2 1.1.1 3 .2.4.1 3.6.2-5.9.1 2 .2 1.5.1-5.6.2 11.8.1-5.3.2-6 .1 8.5.2-9.7.1 5.1.2 5.4.1-5.6.2 1.6.1-.3.2 4.3.1-1.6.2-.2.1.1.2-3.5.1 3.7.2 3.3.1-7.4.2 3.8.1 2.1.2 3.5.1-8 .2-3.9.1 8.3.2-1.8.1 2.5.2-6.7.1 9.7.2 2.2.1-7.1.2-3.2.1.3.2 4.6.1-2.1.2-5.1.1 4.1.2 5.6.1-1.1.2 3.5.1-6.4.2 1.8.1 2.5.2-3.7.1-.8.2 5 .1-5.1.2 2 .1.9.2 1.9.2-3.4.1 7.4.2-5.8.1 4.7.2-.3.1 1.5.2.6.1-8.7.2 4.3.1 0 .2 2.1.1 0 .2-1.6.1 2.2.2.8.1-5.2.2 2.5.1 3.6.2-3.5.1-.4.2-2.9.1 4.4.2 1.2.1-4.6.2 2.4.1 4.9.2 3.9.1-10.4.2 5 .1-5.3.2 1.7.1 2.1.2-1.3.1.4.2-1.7.1 1.3.2-4.3.1 6.1.2 3.7.1-6.3.2 4.9.1-4.2.2-1.1.1 1 .2 1.4.1 2.6.2.7.1 0 .2-6.2.1 3.3.2-.6.1 4.7.2-6.2.1 4.4.2-1.3.1.2.2 8.5.1-6 .2-4.9.1 6.5.2-6.1.1-1.3.2 7.8.1-8.6.2 3.4.1 4.3.2-2.7.2-.8.1 8.2.2-2.6.1-10 .2 9.7.1-7.4.2 11.5.1-9.8.2 6.1.1 2.4.2-7.6.1 10 .2-7.4.1-5.5.2 3.5.1 2.9.2-4.3.1 4.4.2-.7.1 1.9.2-9.2.1 9.3.2-1.8.1-1.9.2 2.6.1 1 .2-.5.1 3.7.2-7.1.1 1.2.2-1.7.1 6.4.2.9.1-3.1.2 3.5.1-1.4.2-1.1.1 2 .2-.7.1-4.6.2 5.7.1-6.8.2 3.3.1-1 .2-.2.1 3.7.2-6.2.1 3.9.2 10.4.1-9.1.2 6.6.1-5.7.2 3 .1-3.5.2 3.3.1-3.5.2-.8.1 1.3.2 2.5.1-.1.2-7 .1 2.8.2 3.3.1-2.6.2 6.1.1-3.5.2 3.9.2-.1.1-4.3.2 4.4.1-2.8.2 0 .1 4 .2-1.7.1-3.9.2 7.5.1-5.9.2-1.5.1 4 .2-2.1.1-1.1.2 2.2.1 5.2.2-6.8.1-1 .2 12.4.1-8 .2 1.7.1-7.8.2 4 .1 1.1.2 1.5.1-.9.2-1.9.1 9.9.2-5.9.1-1.2.2 6.5.1-3.5.2-1.5.1.3.2 6.8.1 2.5.2-9.7.1 6.7.2-2.6.1 1 .2-6.4.1-2.2.2 6.2.1-1.8.2 1.8.1 1.1.2-2.1.1 1.7.2 2.2.1-8.1.2 2.7.1 0 .2-.2.1 2.4.2 7.1.1-4 .2.6.1 1 .2 0 .1-4.4.2.6.1 1.7.2 1.9.1-.7.2-5.5.1-.3.2-.1.2.9.1 2 .2 3 .1 2.9.2-2.3.1-4.4.2 1.5.1 4.2.2.9.1-2 .2 2.1.1 1.7.2-6.8.1.7.2-2.9.1-.2.2 2.6.1.3.2-.5.1 3.3.2 1.4.1-3.4.2 4.5.1-5.7.2 4.3.1-1.1.2-.2.1 3.6.2-2.5.1-4.3.2 8.1.1-3.1.2-3.2.1 2.4.2 2.1.1-4.6.2 1.7.1 3.3.2-.1.1-3.5.2 1.5.1 1.3.2-1.6.1 5.6.2-.7.1-5.4.2 5.1.1 1.3.2-.3.1-6.1.2.1.1 3.2.2-5.2.1 3.8.2-5.1.1 7.8.2.3.1-6.9.2 4.3.1-.7.2 4.9.1-7.8.2 4.5.1-3.1.2 6.1.1-1.5.2 2.8.2-6.6.1 2.3.2-.5.1-2.9.2.7.1 1.9.2.6.1-15.3.2 13.7.1 2.1.2 2.1.1-5.2.2.4.1 4.2.2-2.9.1-1.1.2 1.4.1 1 .2 2.6.1-8.7.2 6.1.1-2.1.2 2.4.1 2.6.2-1.9.1-1.5.2-2.8.1 3.6.2 2.4.1-5.2.2 3 .1-1.2.2 2 .1 0 .2 0 .1-8 .2 1.6.1 1.8.2 1.2.1 7.3.2-3.9.1-.3.2.3.1-5.6.2 4 .1.5.2-3.5.1 5.8.2-6.1.1 8.4.2-10.4.1 8.7.2-.7.1-.5.2-6 .1 9.1.2-4.1.1-1.7.2 2.8.1-6.8.2.6.1 7.1.2 1.6.1-14.9.2 4.9" stroke="#1010e0" stroke-width="0.8" fill="none" stroke-linejoin="round" stroke-linecap="round"/>
<path d="M1104.4 416.6l.7-.3.7-.3.6-.3.7-.3.7-.3.6-.3.7-.4.7-.5.6-.6.7-.7.7-.8.7-.8.6-.9.7-.9.7-1 .6-1 .7-1.1.7-1.1.6-1.1.7-1.2.7-1.2.7-1.3.6-1.3.7-1.3.7-1.4.6-1.4.7-1.5.7-1.5.6-1.5.7-1.6.7-1.6.7-1.6.6-1.7.7-1.6.7-1.7.6-1.8.7-1.9.7-2 .6-2 .7-2 .7-2 .7-2 .6-1.9.7-1.8.7-1.6.6-1.6.7-1.4.7-1.3.6-.9.7-.5.7.1.7.4.6.5.7.8.7.9.6 1 .7 1 .7 1.1.6 1.1.7 1 .7 1 .7 1.1.6 1.1.7 1.1.7 1.2.6 1.2.7 1.1.7 1.2.6 1.1.7 1.1.7 1 .7 1 .6.9.7.8.7.9.6.8.7.7.7.8.6.7.7.7.7.7.7.6.6.6.7.7.7.6.6.5.7.6.7.5.6.5.7.4.7.5.7.4.6.5.7.4.7.5.6.5.7.5.7.5.6.5.7.5.7.5.7.5.6.6.7.5.7.5.6.6.7.6.7.6.6.6.7.6.7.7.7.7.6.7.7.8.7.8.6.7.7.8.7.8.6.7.7.8.7.7.7.6.6.6.7.6.7.6.6.5.7.5.7.5.6.5.7.5.7.4.7.5.6.4.7.4.7.3.6.4.7.3.7.3.6.3.7.2.7.2.7.3.6.2.7.2.7.2.6.2.7.1.7.2.6.2.7.1.7.1.7.2.6.1.7.1.7.1.6.1.7.1.7.1.6.1" stroke="#1010e0" stroke-width="2.6" fill="none" stroke-linejoin="round" stroke-linecap="round"/>
<path d="M1103.4 426l.5-.2.5-.2.5-.1.5-.1.5-.1.5-.1.5-.1.5-.1.5-.2.5-.2.5-.2.5-.3.5-.4.5-.5.6-.5.5-.7.5-.9.5-1.1.5-1.2.5-1.2.5-1.4.5-1.3.5-1.3.5-1.2.5-1.1.5-1.1.5-1.1.5-1.2.5-1.1.5-1.1.5-1.1.5-1 .5-.8.5-.7.5-.5.5-.2.5-.1.5 0 .5.2.5.3.5.4.5.5.5.5.5.6.5.5.5.6.5.5.5.4.5.5.5.4.5.4.5.5.5.5.5.5.5.5.6.5.5.5.5.6.5.4.5.5.5.5.5.4.5.4.5.4.5.3.5.3.5.2.5.2.5.1.5.1.5.1.5.1.5 0 .5 0 .5 0 .5-.1.5-.1.5-.1.5-.1.5-.2.5-.2.5-.2.5-.3.5-.3.5-.4.5-.4.5-.4.5-.4.5-.5.5-.6.5-.5.5-.6.5-.6.5-.7.6-.6.5-.8.5-.7.5-.8.5-.8.5-.9.5-.9.5-.9.5-1 .5-1 .5-1.1.5-1.1.5-1.2.5-1.2.5-1.3.5-1.5.5-1.8.5-1.8.5-2 .5-2.1.5-2.2.5-2.1.5-2.1.5-2.1.5-2 .5-1.8.5-1.7.5-1.5.5-1.4.5-1.5.5-1.5.5-1.5.5-1.4.5-1.4.5-1.4.5-1.3.5-1.2.5-1.2.5-1 .5-1 .5-.8.6-.7.5-.6.5-.4.5-.2.5.2.5.7.5 1.1.5 1.6.5 1.8.5 2.1.5 2.3.5 2.3.5 2.3.5 2.4.5 2.6.5 2.8.5 3 .5 3.1.5 3.1.5 3.2.5 3 .5 2.9.5 2.7.5 2.6.5 2.5.5 2.5.5 2.5.5 2.3.5 2.3.5 2.1.5 1.9.5 1.6.5 1.5.5 1.1.5 1 .5.8.5.7.5.6.5.5.6.4.5.3.5.2.5.2.5.2.5.2.5.1.5.2.5.2.5.1.5.2.5.1.5.1.5.1.5.1.5.1.5.1.5.1.5.1.5 0 .5.1.5 0 .5.1.5 0 .5.1.5 0 .5 0 .5.1.5 0 .5 0 .5.1.5 0 .5 0 .5.1.5 0 .5 0 .5.1.5 0 .5.1.5.1.5 0" stroke="#e82828" stroke-width="2" fill="none" stroke-linejoin="round" stroke-linecap="round" stroke-dasharray="5 3"/>
<text x="1035.8" y="407.7" font-size="11.5" fill="#e82828" font-weight="bold">5L</text>
<path d="M1027.4 426.5L1024.4 426.5M1211.5 426.5L1208.5 426.5" stroke="#222" stroke-width="1.1"/>
<text x="1023.8" y="429.7" font-size="9" text-anchor="end" fill="#333" font-weight="bold">0.0</text>
<path d="M1027.4 396.1L1024.4 396.1M1211.5 396.1L1208.5 396.1" stroke="#222" stroke-width="1.1"/>
<text x="1023.8" y="399.3" font-size="9" text-anchor="end" fill="#333" font-weight="bold">0.4</text>
<path d="M1027.4 365.7L1024.4 365.7M1211.5 365.7L1208.5 365.7" stroke="#222" stroke-width="1.1"/>
<text x="1023.8" y="368.9" font-size="9" text-anchor="end" fill="#333" font-weight="bold">0.8</text>
<path d="M1027.4 411.3L1025.6 411.3M1211.5 411.3L1209.7 411.3M1027.4 380.9L1025.6 380.9M1211.5 380.9L1209.7 380.9M1027.4 350.5L1025.6 350.5M1211.5 350.5L1209.7 350.5" stroke="#222" stroke-width="0.9"/>
<path d="M1027.4 434.2L1211.5 434.2" stroke="#222" stroke-width="1.5"/>
<path d="M1027.2 434.2L1027.2 432M1035.6 434.2L1035.6 432.8M1044 434.2L1044 432M1052.3 434.2L1052.3 432.8M1060.7 434.2L1060.7 432M1069.1 434.2L1069.1 432.8M1077.5 434.2L1077.5 432M1085.8 434.2L1085.8 432.8M1094.2 434.2L1094.2 432M1102.6 434.2L1102.6 432.8M1111 434.2L1111 432M1119.3 434.2L1119.3 432.8M1127.7 434.2L1127.7 432M1136.1 434.2L1136.1 432.8M1144.5 434.2L1144.5 432M1152.8 434.2L1152.8 432.8M1161.2 434.2L1161.2 432M1169.6 434.2L1169.6 432.8M1178 434.2L1178 432M1186.3 434.2L1186.3 432.8M1194.7 434.2L1194.7 432M1203.1 434.2L1203.1 432.8M1211.5 434.2L1211.5 432" stroke="#222" stroke-width="0.9"/>
<path d="M1065.6 502.1l.1 5.4.2-9.2.1 6.9.2-8.8.1 7.2.2-14.9.1 13.9.2-7.4.1-1.3.2 24 .1-23.4.2 6.1.1-10 .2 13.4.1 7.1.2-.4.1-18.6.2 13.3.1 1.8.2-5.3.1-1.7.2-3.3.1 3.5.2-2.8.1-3.7.2 3 .1-4.3.2 5.5.1 1.5.2-15.1.1 13.6.2-3.2.1 8.5.2 4.5.1-11.9.2-.3.1 7.6.2-5.6.1 4 .2 1.5.1.2.2-6.1.1 5.4.2-5 .1-.2.2 2.9.1-12 .2 7.8.1 1.2.2-.2.1-1.5.2.5.1.6.2.2.1 4.6.2 2.7.2-11.1.1-.1.2 8.2.1-7.1.2 3.9.1-1.2.2-7.3.1 6.5.2-2.9.1 1.5.2-3.9.1 10 .2-4.4.1 10.8.2-20.1.1 9 .2 14.8.1-9.6.2-3.9.1-.9.2-2.9.1 22 .2-19.5.1.2.2-4 .1 20.1.2-17.2.1-6.8.2 14.7.1-7.8.2-5 .1 15 .2-.1.1-19.7.2 9.6.1-6.1.2 11.2.1-.8.2-8.1.1 8.9.2 5.9.1-5 .2.4.1-2.9.2-4.4.1-1.9.2-3 .1.3.2 11.9.1 6.8.2-9.9.1-.7.2-8.6.1 13.2.2-2.9.1-2.4.2-9.1.1 14.1.2-2 .1-6 .2-1.8.1 8.3.2-3.1.1 10.1.2-13.5.1 5 .2 8 .2-13.6.1 2.3.2 6.4.1-1.6.2-2.7.1 17.5.2-15.5.1 6.2.2-14.1.1 9.2.2-9 .1 10.2.2-9.4.1 8.4.2-20.4.1 15.1.2 1.7.1-4.6.2 12.8.1-12.3.2.3.1-2.5.2 4.3.1-5 .2 3.6.1 14.6.2-16.4.1-7.9.2 16.1.1-13.4.2 4.1.1-.2.2 11.6.1-6.8.2-8.7.1 9.3.2-3.5.1-3.7.2-2.3.1 4.8.2-7.2.1 6.6.2 4.4.1-1.2.2-3.1.1-4.7.2 2.6.1 2.4.2-.2.1 2.5.2 3.4.1-6.2.2-8.1.1 7.1.2-4.5.1 1.7.2 3 .1-1.2.2.9.1-2.7.2 3.7.1-1.4.2 6.9.1-6 .2-1.9.1 4.5.2 7.2.2-14.1.1 4.7.2-6.9.1-1.3.2 12 .1-6 .2-10.6.1 11.9.2-4.9.1-7.3.2 10.4.1 3 .2-10.7.1 2.9.2 7.4.1-7.6.2 12 .1-14.5.2 5.4.1-.8.2.3.1-4.5.2 12.3.1-11 .2-5.7.1 6 .2-8.3.1 9.8.2-3.9.1 3.2.2-3.2.1-8.7.2 6.1.1 7.2.2-2.6.1-1 .2 1.8.1-12.9.2 12.4.1-6.9.2-.3.1 12.9.2-11.9.1 1.1.2-11.1.1-1.3.2 13.4.1 3.3.2-10.7.1 12.9.2-2.3.1-2 .2 2.1.1-6.1.2-7.3.1-5.4.2 14.4.1-2.3.2-3.4.1 14 .2-15.8.1 4.1.2-4.4.1 2 .2 3.6.1-1.1.2-10.4.2 3.6.1-4.8.2 6 .1 3.8.2-2.5.1-1.4.2 3.5.1-5.1.2 1.9.1-1.1.2-1 .1-4.3.2-1.3.1 5.5.2 13.2.1-5.1.2-11.4.1-4.6.2 5.8.1 5.8.2-3.9.1-9 .2 2.9.1 17.6.2-17.1.1-.8.2 4.4.1-7.4.2 9.5.1-11.2.2 3.9.1 4.3.2 17 .1-9.2.2-13.7.1 1 .2 17.2.1-18.4.2 5.2.1 1.2.2-8 .1 3.1.2 12 .1-8.5.2-11.2.1 22.7.2-14.2.1-3.5.2.7.1 8 .2-6.4.1 3.4.2-11.6.1 1.8.2 14.5.1-2.9.2-6.1.1 7.3.2-6.1.1-5.7.2-2.1.1 4.1.2 10.7.1-6.6.2-5.6.1 9.5.2-11.4.2 5.4.1 4 .2 6.7.1-16.6.2 3.6.1-4.5.2 10.3.1-10.2.2 4.6.1 2.7.2-6.1.1 10.3.2-11.9.1 4.1.2 11 .1-11 .2 4.6.1-5.6.2 13 .1-7.2.2 10.2.1-17.6.2 2.5.1 6.1.2-6.5.1 8.6.2-4.2.1 2.6.2-5.9.1.4.2 15.9.1-21.6.2 9.6.1-8.4.2 14.7.1-2.5.2-4.8.1 9.1.2-7.1.1-1.4.2.4.1 8.1.2-3.1.1 3.7.2-10.8.1 13.9.2-11.3.1-4.7.2 7.5.1 7 .2-4.7.1 4.2.2-11.4.1 2.9.2 1.7.1.1.2 10.6.1 1.7.2-15.8.1 14.3.2-15.2.1.5.2 12.2.1 5.1.2-11.3.2-3.2.1-.6.2 4.4.1-5.4.2 13.5.1-1 .2-19.3.1 14.3.2 2.8.1 8.3.2-18.5.1 7 .2 15.4.1-23.3.2 8.3.1 2.6.2-2 .1-2.1.2 7.4.1 5.4.2-1.1.1-6.8.2-6.4.1 9.1.2-4.8.1 4.2.2 3.5.1-4.7.2-20.1.1 16.3.2-6.8.1 6.5.2-.4.1-2.4.2 12.6.1-2.2.2-7.9.1 6.5.2-1.3.1 2.7.2-9.5.1 3.7.2 12.6.1-9.4.2 9.3.1-7.2.2-4 .1 11.6.2-17.3.1 12.5.2-2.5.1 5.9.2-4.5.1 5.5.2 2.6.1-5.9.2-7.4.1 5.5.2.1.1-2.7.2 4 .1 3.3.2-1.5.1 6.5.2-7.9.1-.5.2-1.5.2 11 .1-13.8.2 7.9.1-5.4.2-2.5.1 2.8.2 2.9.1-3.6.2.3.1 6.4.2-3.2.1 2.4.2 9.1.1-6.6.2 12.3.1-11.6.2-8.2.1-3.2.2-1 .1 4.1.2 6.1.1-5.1.2 10 .1 4.8.2-20.2.1 11 .2-10.7.1 13.1.2 4.8.1 3.7.2-13.7.1-8.2.2 13.7.1 3.7.2-7.5.1 4.9.2 1.1.1-9.4.2 4.9.1 2.2.2 6.2.1 2.4.2-14.9.1 7 .2 7.7.1-1.9.2-9.8.1 12.5.2-5 .1-1 .2-9 .1 7.8.2 3 .1-6.9.2 9.4.1 3.6.2-8.6.1-4.9.2.3.1 9.1.2 7.6.1.6.2-13.7.1-2.4.2 7.1.1 8.6.2-10.9.2 14.4.1-19.6.2-18.2.1 25.3.2.7.1 2.8.2 3.7.1-10.1.2 6.6.1-10.2.2 14.7.1-7 .2 11.2.1-6.6.2-6.8.1-7.1.2 14.3.1 3.1.2-8.2.1-5.8.2-14.2.1 12.4.2-2.8.1 8.9.2 2.7.1.5.2 1.3.1 4 .2-16.5.1-.5.2 10.3.1-.4.2-10.6.1 2.5.2 9.4.1-11.3.2 26.9.1-9.5.2 5.1.1-18.7.2-.1.1 10.4.2-19.2.1 17.6.2 2.4.1-5.5.2-6.6.1 11.7.2-2.6.1-9.4.2-18.5.1 24.4.2-.1.1-7.5.2 6.4.1-4.3.2 13.1.1-5.8.2 7.9.1-3.4.2-3 .1.7.2.1.1-1.6.2 1.4.1 6.2.2-11.3.2-.3.1-3.3.2 5.3.1 5 .2-2.9.1-2.8.2 5.7.1 0 .2-9.6.1 7.9.2 1.2.1-11.2.2 12 .1.6.2-6.3.1-.2.2 2.4.1 12.3.2-12 .1-.8.2 8 .1-9.6.2 6.6.1-3.1.2-2.9.1-1.2.2-11.1.1 24.9.2-9.2.1 3.9.2-5.3.1-5.9.2 13.8.1-3.8.2-5 .1-5.8.2 10.7.1-4.3.2-4.3.1 13.5.2-16.7.1 3.5.2 10.7.1-3.9.2-5.4.1 13.3.2-9.7.1 5 .2 1 .1-6.1.2 5.7.1 1.9.2-3.6.1-4 .2 4 .1-14.6.2 16.2.1-.1.2 8.3.1-12.1.2 4.7.1-8.9.2-1.8.1 5.3.2-7.1.1 11.2.2-2.2.2-2 .1-1.9.2 8.2.1-18.9.2 22.6.1-21.1.2 8.6.1 3.3.2 7.6.1-15.9.2 9.7.1-2.1.2-2.1.1 5.9.2-14 .1 9 .2.2.1-9.9.2-2.4.1 10.9.2 2 .1-6.8.2 15.9.1-2.6.2-9.8.1 8 .2.9.1-9.9.2 4.1.1 2.1.2-7.2.1 10.9.2-3.2.1 3.7.2-12.7.1 17.6.2-4.5.1-3.7.2-4.2.1-1.9.2 4.7.1 8.5.2-7 .1 1.2.2-5.2.1 6.6.2 1 .1-5.3.2 9.4.1-12.9.2-.6.1.9.2.9.1 3 .2-8 .1 9.3.2-2 .1-10.1.2 16.9.1-3.6.2-16 .1 13.4.2-5.9.1 6.3.2 2.3.1-7.3.2 1.8.2-9.5.1 14 .2-20.9.1 9.7.2 11.1.1 18.4.2-12.4.1.7.2-7.5.1-7.5.2.9.1-2.1.2 6.2.1 4.8.2 4 .1-3.2.2 6.6.1-7.6.2-12.7.1 1.7.2 8.3.1 4.2.2-4.5.1 1.9.2 1 .1 3 .2-13.4.1 10.2.2-9.5.1 2.6.2 13.9.1-16.1.2-1.8.1 15 .2-10.7.1-5.1.2 4.6.1 5.7.2-12.8.1 13.8.2-5.4.1-12.8.2 9.1.1 8.8.2-3.2.1-2.9.2 18.2.1-22.4.2 6.6.1 1.5.2-3.2.1-3.9.2 8.5.1-2.8.2-9.3.1 12.8.2-5.9.1-.3.2 9.3.1-3.7.2 5.1.1-8.3.2 8.7.1-3.7.2-6.4.2-.9.1 4.7.2 1 .1-3 .2 3.6.1-2.3.2 4.5.1-2.9.2-3.3.1-3.5.2 16.4.1-6.5.2-2 .1-5.7.2 5.2.1-11.2.2 6.7.1-8.4.2 11.5.1-1.3.2 2.4.1-4.3.2 15.5.1-7 .2-7.7.1 6.7.2-6.3.1 4.5.2-1.5.1 5.8.2-5.2.1 4.9.2 7.3.1-6.8.2-10.2.1.1.2 3.4.1 5.6.2-4.5.1 11.1.2-9.5.1-3.5.2 9.5.1-8.8.2-6.1.1 14.1.2-.8.1-1.6.2 4.5.1-12.5.2 13.3.1-14.4.2-12.5.1 10.4.2 7.2.1-5.7.2 1 .1-2.7.2 3 .1-5.7.2 10.2.1-17.7.2 15.7.1-1.4.2 6.6.1-7.8.2 6" stroke="#1010e0" stroke-width="0.8" fill="none" stroke-linejoin="round" stroke-linecap="round"/>
<path d="M1065.6 499.8l.6-.1.7-.1.7-.1.6 0 .7-.1.7-.1.6-.1.7 0 .7-.1.7-.1.6-.1.7-.1.7 0 .6-.1.7-.1.7-.2.6-.1.7-.1.7-.1.7-.1.6-.1.7-.1.7-.2.6-.1.7-.1.7-.2.6-.3.7-.2.7-.3.7-.4.6-.4.7-.4.7-.5.6-.5.7-.5.7-.6.6-.6.7-.6.7-.7.7-.8.6-.7.7-.8.7-.9.6-.9.7-1 .7-1 .6-1.1.7-1.2.7-1.1.7-1.2.6-1.2.7-1.2.7-1.2.6-1.1.7-1.1.7-1.1.6-1.1.7-1.1.7-1.1.7-1.1.6-1 .7-1.1.7-1 .6-1.1.7-1 .7-1 .6-1 .7-.9.7-1 .7-1.1.6-1 .7-.9.7-.7.6-.4.7-.1.7.3.6.4.7.6.7.7.7.8.6.9.7 1 .7.9.6 1 .7.9.7.9.6 1 .7 1.1.7 1.1.7 1.1.6 1.1.7 1 .7.8.6.8.7.8.7.8.6.7.7.7.7.7.7.7.6.7.7.7.7.8.6.7.7.8.7.8.6.8.7 1 .7.9.7 1 .6.9.7.9.7.9.6.8.7.7.7.6.6.4.7.4.7.4.7.3.6.2.7.2.7.2.6.1.7.2.7.1.6.1.7.2.7.1.7.2.6.2.7.2.7.2.6.3.7.2.7.2.6.2.7.2.7.2.7.1.6.2.7.1.7.1.6.1.7 0 .7.1.6 0 .7.1.7 0 .7 0 .6.1.7 0 .7 0 .6 0 .7.1.7 0 .6 0 .7 0 .7 0 .7 0 .6 0 .7.1.7 0 .6 0 .7 0 .7.1.6 0 .7 0 .7.1.7 0 .6.1.7 0 .7.1.6.1.7 0 .7.1.6 0 .7.1.7.1.7 0 .6.1.7.1.7 0 .6.1.7.1.7 0 .6.1.7.1.7 0 .7.1.6.1.7 0" stroke="#1010e0" stroke-width="2.6" fill="none" stroke-linejoin="round" stroke-linecap="round"/>
<path d="M1065.6 513.6l.5 0 .5 0 .5 0 .5 0 .5.1.5 0 .5 0 .5 0 .5 0 .5 0 .5 0 .5 0 .5 0 .5.1.5 0 .5 0 .5 0 .5-.1.5 0 .5 0 .5 0 .5 0 .5-.1.5 0 .5 0 .5-.1.5 0 .5-.1.5 0 .5-.1.5-.1.5 0 .5-.1.5-.1.5 0 .5-.1.6-.1.5 0 .5-.1.5-.1.5-.1.5 0 .5-.1.5-.1.5-.1.5-.1.5 0 .5-.1.5-.1.5-.1.5 0 .5-.1.5-.1.5-.1.5 0 .5-.1.5-.1.5-.1.5 0 .5-.1.5-.1.5 0 .5-.1.5-.1.5 0 .5-.1.5-.1.5 0 .5-.1.5-.1.5 0 .5-.1.5 0 .5-.1.5-.1.5 0 .5-.1.6-.1.5-.1.5 0 .5-.1.5-.1.5 0 .5-.1.5-.1.5-.1.5 0 .5-.1.5-.1.5-.1.5 0 .5-.1.5-.1.5-.1.5 0 .5-.1.5 0 .5-.1.5 0 .5-.1.5 0 .5-.1.5-.1.5-.1.5-.1.5-.1.5-.1.5-.1.5-.1.5-.2.5-.2.5-.1.5-.3.5-.2.5-.2.5-.2.6-.3.5-.2.5-.2.5-.3.5-.2.5-.3.5-.2.5-.3.5-.3.5-.3.5-.3.5-.3.5-.3.5-.4.5-.3.5-.4.5-.4.5-.5.5-.4.5-.5.5-.5.5-.5.5-.6.5-.5.5-.6.5-.7.5-.7.5-.7.5-.8.5-.8.5-.8.5-1 .5-.9.5-1.1.5-1.1.5-1.1.5-1.2.5-1.3.5-1.4.5-1.4.5-1.5.6-1.8.5-2.1.5-2.3.5-2.6.5-2.7.5-2.7.5-2.8.5-2.7.5-2.6.5-2.4.5-2.4.5-2.5.5-2.5.5-2.1.5-1.7.5-.9.5-.1.5.5.5 1 .5 1.4.5 1.9.5 2 .5 2.3.5 2.6.5 2.9.5 3.3.5 3.4.5 3.6.5 3.5.5 3.4.5 3.2.5 2.7.5 2.7.5 2.7.5 2.6.5 2.3.5 2.2.5 1.8.5 1.5.6 1 .5.8.5.7.5.7.5.6.5.6.5.6.5.5.5.4.5.5.5.4.5.4.5.3.5.3.5.3.5.3.5.3.5.3.5.2.5.2.5.2.5.3.5.2.5.2.5.2.5.2.5.2.5.2.5.2.5.2.5.2.5.2.5.1.5.2.5.1.5.1.5.1.5.1.5.1.5.1.5.1.6.1.5.1.5 0 .5.1.5 0 .5.1.5.1.5 0 .5.1.5 0 .5.1.5 0 .5.1.5 0 .5.1.5 0 .5.1.5.1.5 0 .5.1.5.1.5.1.5 0 .5.1.5.1.5.1.5 0 .5.1.5.1.5.1.5 0 .5.1.5.1.5 0 .5.1.5.1.5 0 .5.1.5.1.6 0 .5.1.5.1.5 0 .5.1.5.1.5 0 .5.1.5.1.5 0 .5.1.5.1.5 0 .5.1" stroke="#e82828" stroke-width="2" fill="none" stroke-linejoin="round" stroke-linecap="round" stroke-dasharray="5 3"/>
<text x="1035.8" y="477.5" font-size="11.5" fill="#e82828" font-weight="bold">4L</text>
<path d="M1027.4 519L1024.4 519M1211.5 519L1208.5 519" stroke="#222" stroke-width="1.1"/>
<text x="1023.8" y="522.2" font-size="9" text-anchor="end" fill="#333" font-weight="bold">0.0</text>
<path d="M1027.4 488.2L1024.4 488.2M1211.5 488.2L1208.5 488.2" stroke="#222" stroke-width="1.1"/>
<text x="1023.8" y="491.4" font-size="9" text-anchor="end" fill="#333" font-weight="bold">0.4</text>
<path d="M1027.4 457.5L1024.4 457.5M1211.5 457.5L1208.5 457.5" stroke="#222" stroke-width="1.1"/>
<text x="1023.8" y="460.7" font-size="9" text-anchor="end" fill="#333" font-weight="bold">0.8</text>
<path d="M1027.4 503.6L1025.6 503.6M1211.5 503.6L1209.7 503.6M1027.4 472.9L1025.6 472.9M1211.5 472.9L1209.7 472.9M1027.4 442.1L1025.6 442.1M1211.5 442.1L1209.7 442.1" stroke="#222" stroke-width="0.9"/>
<path d="M1027.4 527L1211.5 527" stroke="#222" stroke-width="1.5"/>
<path d="M1027.2 527L1027.2 524.8M1035.6 527L1035.6 525.6M1044 527L1044 524.8M1052.3 527L1052.3 525.6M1060.7 527L1060.7 524.8M1069.1 527L1069.1 525.6M1077.5 527L1077.5 524.8M1085.8 527L1085.8 525.6M1094.2 527L1094.2 524.8M1102.6 527L1102.6 525.6M1111 527L1111 524.8M1119.3 527L1119.3 525.6M1127.7 527L1127.7 524.8M1136.1 527L1136.1 525.6M1144.5 527L1144.5 524.8M1152.8 527L1152.8 525.6M1161.2 527L1161.2 524.8M1169.6 527L1169.6 525.6M1178 527L1178 524.8M1186.3 527L1186.3 525.6M1194.7 527L1194.7 524.8M1203.1 527L1203.1 525.6M1211.5 527L1211.5 524.8" stroke="#222" stroke-width="0.9"/>
<path d="M1027.2 605.4l.2 2.2.1-4.1.2-4.9.1 9.4.2-7.3.1 6.7.2-2.7.1-1.8.2-4 .1 6.6.2 1.5.1-1.8.2-1.7.1 3.1.2-2.8.1 3.5.2-3.8.1 4.6.2-5.4.1-6 .2 6.6.1 5 .2-1.9.1-3 .2 2.9.1-6.1.2 6.7.1-3 .2-3.1.1 3.2.2-3.6.1 5.2.2-3.4.1 6 .2-2.8.1-1.7.2-3.9.1.8.2-4.1.1 2.9.2 6 .1-.3.2-6.6.1 3.6.2-7.2.1 5.7.2-1.4.1-.7.2 6.6.1 1.7.2-5.7.1 0 .2 3.6.1-9.7.2 6.2.1-5.3.2-.3.1 9.4.2-3.1.1-.6.2 1.3.1-.5.2-1.9.1 2.8.2.3.1-1.1.2.7.2 3.1.1-13.1.2 11.9.1-.4.2-9.8.1 7.7.2-2.9.1 1 .2 5.6.1-8.6.2 1.9.1-.5.2 2.5.1-.5.2-1.7.1 1.5.2.7.1 3.9.2-2 .1-4.5.2 2.4.1-3.1.2-1.1.1 1.2.2 1 .1 6.7.2-6.2.1.6.2 1.7.1-8.5.2 10.7.1-7 .2-4.9.1 9.8.2-.7.1-6.6.2 4.6.1 2 .2-2.6.1-1 .2.8.1 3.3.2-1.8.1-4.9.2 4.3.1-10.5.2 10.5.1 1.1.2 2.2.1-7.6.2 4.1.1-.9.2-.9.1 2 .2-4.5.1 9.4.2-4.2.1-6.7.2 2.9.1 3 .2-1.2.1.9.2-3.3.1 1.8.2-2.1.1 1.5.2-1.7.2 4.8.1-6.1.2 4.4.1-1.5.2-.1.1-1.5.2-5.7.1 6.1.2-.2.1-4.7.2 3.6.1-1.5.2 1.4.1-2.6.2-.8.1-.4.2-.7.1 1 .2 2.1.1 3.4.2-7.8.1 4.8.2.1.1-4.6.2-1.1.1-.1.2 4.8.1 7.5.2-10.8.1 2.7.2-1.5.1-1.3.2.3.1-8.6.2 7.5.1-3.1.2-1.7.1 2.7.2-2.3.1-1.5.2-1.6.1 3.6.2-.5.1-4 .2-1.5.1-4.2.2 6.8.1 1.6.2-3.3.1-.5.2.1.1-4.6.2-2.7.1 1.4.2 1.4.1.1.2-6.5.1 4.3.2-4.2.1 4.4.2-12.3.1 7.5.2.5.1 2.8.2-5.6.2.3.1 1.1.2-6.1.1 2.8.2-1.2.1 1.4.2-5.4.1-6.2.2 7.6.1-3.8.2-.2.1-4.5.2 2.2.1 3.2.2-4.5.1 1.7.2-5 .1-.2.2 2.3.1-3.3.2 4.6.1-9.3.2 5.7.1-.2.2-3.5.1 4.1.2-2.9.1 1.2.2-1.5.1 2.4.2-3.8.1-.5.2-2.5.1 2 .2-1.1.1 1.5.2-.6.1.7.2-5 .1 6.2.2-3.6.1 1.5.2-1.2.1 0 .2.1.1 1 .2 1.2.1-4.8.2 1.7.1 1.8.2-4 .1 7.5.2-7.1.1 3.1.2.1.1-1.2.2-5.5.1 6 .2-1.5.1-2.2.2 5.6.1-5.3.2 1.9.1-.4.2-.2.1-.8.2-1.6.2 7.2.1-2.9.2-.2.1.7.2-6.3.1 7.1.2-4.3.1 1 .2-8.2.1 7.9.2-.2.1 2.9.2-2 .1-2.3.2-.3.1 2.3.2-1.5.1 4.6.2-3.7.1.5.2.4.1-1.5.2-.8.1 2.8.2 1.9.1 2.5.2-2 .1-2.4.2-2.7.1 4.5.2-3.8.1 3.5.2 1.8.1-.8.2-3.3.1.2.2 5.5.1-1.4.2-6.1.1 2.1.2 2.8.1 1.7.2-1.9.1 3.5.2-3.1.1-.1.2.6.1-.8.2-4.1.1 14.7.2-11.9.1 4.3.2-.1.1 1.1.2 1 .1-2.3.2 3.3.1-8.1.2 5.7.1 2 .2 3.5.1-3.6.2-1.4.1 2.7.2-3.8.1 5.5.2-7.8.2 4.5.1 2.1.2-1.9.1 2.4.2.1.1-.4.2-2.5.1.3.2-1.3.1 4.2.2-3.2.1-2.3.2-.3.1 2.1.2 8.1.1-4 .2 1.2.1-4.3.2-5.5.1 7.8.2.4.1 3.7.2-4.8.1 4 .2-1.2.1 5 .2-3.7.1-.5.2 3.9.1-4.3.2-.2.1 4 .2-1.7.1-2 .2 1.9.1-4 .2 3 .1 3.5.2-1.3.1 6.8.2 1.4.1-11.1.2 7 .1-3.2.2 6 .1-5.2.2 3.6.1.9.2-6.7.1 3.3.2 2 .1-1.1.2-2.8.1 4.4.2-.9.1 2.6.2 3.7.1-2.4.2-8 .1 6.1.2-4.5.1 1.9.2-1.4.1 2.4.2-5.1.1 7.9.2 1.3.2-.4.1-.5.2-3.1.1.9.2.5.1 6.2.2-1.3.1 1.4.2.4.1-4.7.2 1.4.1-3.4.2 6 .1-2.7.2.8.1 4.5.2-5.7.1.7.2 6.4.1-.6.2.2.1-5.6.2-4.2.1 1.6.2 3.9.1-.3.2 1.6.1-.1.2 2.4.1-2.9.2 2.5.1-5.1.2 2.4.1-4.3.2 9.6.1-7.3.2 5.6.1.9.2 3.8.1-1 .2-6.9.1 1 .2 2.2.1 5.5.2-6.1.1-.6.2 6.4.1.3.2-.5.1-3.1.2 2.8.1-1.4.2.7.1.3.2-5.9.1 1.1.2 2.3.1-2.1.2 6.3.1-1.2.2 2 .1-3 .2 1.6.1 3.2.2-6 .1 3.4.2.6.2-1.1.1 9.5.2-5.4.1 2.3.2-2.7.1 1.9.2-3.2.1 6.6.2-6.3.1 6.5.2-6.7.1 1.7.2.3.1-4 .2 6.1.1.7.2-2.7.1 2.1.2-2 .1 2.1.2 14.4.1-15.7.2 6 .1-7.5.2 3.6.1 4.8.2-4.4.1-2.3.2 3 .1.6.2 2.2.1 2.2.2-4.6.1-.5.2-1.7.1 3.1.2 5.6.1-5.8.2-3.4.1 3.8.2 3.5.1 3.3.2-8.3.1-1.8.2 2 .1-3.4.2 4.7.1 2.2.2-2.1.1-.6.2 4.8.1-4.9.2 7.6.1-3.5.2-4.5.1 3 .2-1.1.1-3.1.2 1.7.1.1.2.5.1-1.4.2 1.2.1-3.7.2 4.4.1 1.4.2 2.2.2-1.9.1.1.2 5 .1-6.3.2-1.2.1 2.8.2-1.9.1.5.2 5.9.1-1.3.2-7.2.1 3.5.2.2.1.6.2.6.1-1.6.2 1.2.1-.1.2-.6.1 5.6.2-7.1.1-.7.2-.3.1-1.3.2 6.7.1 2.5.2-9.4.1 4.1.2 1.7.1 1.9.2-3.8.1 2.2.2-.1.1.2.2 2.7.1-5.2.2 4.8.1-1.8.2-3 .1-2.7.2 2.1.1 4.3.2-3.3.1-1 .2 4.1.1-3.9.2 3.7.1.3.2-.1.1 4.3.2-1.3.1-2.6.2 5.4.1 1.7.2-12.3.1 7 .2-2.7.1-2.4.2-3.3.1 1.2.2.7.1 4.5.2.8.1-.1.2-9.1.2 8.1.1-1.3.2 3.9.1-1.8.2-5 .1 2.1.2 5.7.1-3.4.2 1.5.1-2.9.2 2 .1-1.1.2.2.1 1.2.2-6.6.1 8.3.2-.7.1-2.8.2 1.2.1 2.4.2-4.3.1.2.2-1.8.1.6.2.9.1 1.4.2-3.1.1 3.3.2 4.6.1-6.6.2 5 .1-2 .2.5.1-3.2.2-2 .1 2 .2 2 .1-2.6.2-1.5.1 7.7.2-6 .1 5.1.2-5.5.1 2 .2-2 .1.6.2 6 .1-3.2.2 2.3.1-10.3.2 5.6.1 5.8.2-4 .1-1.4.2 4.2.1-1.9.2-.9.1 2.9.2.4.1-6 .2 6.3.1-2.7.2-.6.1-2.6.2-.7.1 3.6.2-1.8.2 2.9.1-3.3.2-2.8.1 7.6.2-6.2.1 2.6.2-2.9.1 5.9.2 2.4.1-3.9.2-4.8.1 2.9.2 2.7.1 1.2.2-3.9.1.7.2 2.4.1-3.9.2 2.7.1.2.2-2.6.1 2.8.2-.4.1 5.3.2-9.7.1.3.2 4.6.1-4 .2 4.4.1-4.6.2 7.9.1-4.3.2-5.4.1 3.2.2 3.2.1-.9.2.4.1-1.9.2-1 .1 1.1.2.9.1-.7.2-2.6.1 2.3.2.3.1-3.2.2 3.9.1-.9.2.9.1-1.1.2 1.9.1 1.7.2-4.6.1 3.6.2-1.4.1.3.2.7.1-4.2.2 1.7.1 3.3.2-.8.1-4.5.2-2.1.1 4.4.2 3.6.1-1.8.2.8.2.5.1-4.9.2.2.1 1 .2.4.1 4.4.2-4.5.1.9.2.1.1 2.7.2-1.4.1-1.3.2 4.5.1-9.4.2 8.7.1-3.2.2-.3.1-.2.2-1.3.1 3.9.2 3.1.1-4.5.2-4.1.1 7.6.2.5.1-6.2.2 4.4.1 1.1.2-4.5.1-.4.2.3.1 2.2.2-2.4.1 4 .2-5.8.1 3.1.2 1.7.1-2 .2-7.3.1 8.1.2-.2.1-3.6.2 6.1.1-.7.2-1.8.1 2.6.2-1.9.1-2.4.2.1.1 2.8.2-1 .1-.3.2-.4.1.6.2-4.3.1 1.9.2 5.6.1-6 .2 2.4.1 1.2.2 1.8.1-2.3.2-3.6.1 7.3.2-.5.1-.6.2-2.4.2-2.5.1 2.2.2-3.5.1 3 .2-1.6.1 1.1.2-2.3.1 1.9.2-.1.1-4.5.2 9.4.1-4.5.2-2.7.1 6.6.2-3.6.1 1.6.2 3.9.1-9.8.2.5.1 2.3.2 1.4.1 1.8.2-.9.1-4.3.2 2.8.1-.2.2 5.9.1-1.2.2-4.5.1.2.2.8.1-2.6.2 2.6.1-1.1.2-2.2.1 1.6.2 1.1.1-3.3.2 5 .1 4.4.2-3.4.1-7.7.2 4.5.1 2.1.2-3.8.1 2.3.2 4.6.1-.6.2-4.6.1.8.2.5.1.3.2 1.2.1-3.7.2 5.7.1-3.4.2-1.6.1-.7.2 4.5.1-.3.2-3.4.1 7.2.2-9.2.1 2.1.2 4.1.1-5.2.2-.2.2 4.8.1-6.9.2 6.8.1-2 .2-5.4.1 4.2.2 1.7.1-6.2.2 10.2.1-2.3.2-5.3.1-2.7.2 7.2.1-6.7.2 6.1.1-1.8.2-2.7.1 5.9.2-1.4.1-3.1.2 2.1.1-.6.2-.6.1 2.2.2 1.5.1-1.5.2 3.7.1-4.9.2 2.4.1 2.1.2-4.1.1 4.1.2-8.7.1 5.6.2-5.1.1 1.8.2.6.1-3.1.2 3.1.1-.5.2 1.2.1 2.2.2-2.5.1 4.5.2-2.6.1-1.2.2 1.5.1-2.6.2 1.3.1-2.3.2 1.9.1.2.2 0 .1 2.1.2 3.2.1-6.3.2 5.8.1-3.8.2 2 .1-5.1.2 5.9.1-8 .2 6.7.1-3.8.2 5.1.1-4.5.2.5.2-2 .1 3.6.2 3.2.1 1.1.2-6.8.1 3 .2 4.4.1-7.5.2 1.3.1 2.1.2-.8.1-3.9.2 8.1.1-6.1.2-2.8.1-1.5.2 9.6.1-7.9.2 7.9.1-4.2.2-3.7.1.6.2 1.1.1 2.5.2-1.6.1 5.8.2-3.7.1 1.4.2-3.8.1-.8.2 1.4.1 2.6.2-1.5.1-2.7.2 3 .1-2.5.2.4.1-1.6.2.8.1 3.9.2.2.1 2 .2-2.8.1 0 .2-3.2.1 1.6.2 7.7.1-6.1.2-4 .1 7.9.2-8.2.1 1.6.2-1.6.1 5.5.2.7.1-.7.2-1.7.1-.4.2-4.4.1 5.3.2-.3.1.2.2-2 .1-.7.2 1.6.2-1.9.1 7.2.2-8.9.1 6.4.2-2.2.1-7.7.2 5 .1 1.6.2-.1.1-3.5.2 7.4.1 2.1.2-3.5.1-1.1.2 6.4.1-1 .2-9.8.1 2.1.2-.6.1 1.3.2-.3.1.9.2-1.6.1-.5.2-.5.1 4.6.2 2.2.1-8.4.2 5 .1-2.5.2 3.4.1-3.8.2 2.5.1-.3.2 2.3.1-.6.2 1 .1.1.2-1.2.1 0 .2-1.1.1-.2.2 1.5.1-2.3.2 2.5.1-2.8.2 4.5.1-1.8.2-2.3.1 3.8.2-2.2.1 1 .2.5.1-2.3.2 1.6.1-2.1.2-2.5.1 0 .2 4 .1-5.3.2 5.9.1 2.9.2-2.9.1 3.7.2-3.2.1 4.9.2-9.3.2 3.5.1-2.9.2.6.1 2.1.2 1.6.1-2.7.2 5.4.1-1 .2-.8.1-7.4.2 2.2.1 4.6.2-6.2.1 2 .2 1.1.1-2.4.2 3.7.1-3 .2 1.9.1.5.2-.2.1 1.6.2-2.2.1 3.2.2-4.5.1 2.4.2 4.5.1-6.7.2-.1.1 4.2.2-2.4.1-1 .2-4.2.1 4.3.2-.3.1 3 .2 3.4.1-5.5.2.6.1 1.4.2-1.3.1 1.8.2.7.1-3.9.2-.7.1 3.3.2-6.9.1 1.7.2 4.3.1 1.3.2.3.1.8.2-.2.1-.1.2-2.2.1-1.2.2-2.1.1 2.7.2 4.1.1-10.5.2 5.6.1 4.3.2-4.2.1 9.5.2-.7.1-5 .2-5.2.2 1.9.1 2.9.2-.7.1.3.2-.6.1-8.2.2.5.1 8.8.2-.8.1 2.3.2 0 .1-5.7.2 1.7.1 3.9.2-3.6.1-.3.2-1 .1 1.8.2 1.4.1-.4.2-4.2.1 2.3.2-7.1.1 7.1.2-.2.1-3.4.2 7.3.1-4 .2.1.1 2.1.2-4 .1 5.5.2-4.5.1-1.7.2 2.6.1-1.2.2 2.1.1-1.4.2 1.5.1 2.2.2-2.9.1-1.1.2.2.1.3.2 4.1.1-4.5.2 1.2.1.8.2-3.3.1 2.8.2-2.5.1.7.2-.7.1 3.2.2 1.8.1-4.3.2.2.1 4.9.2-3.6.1.7.2-4 .1 5.7.2-5.8.1 5.3.2-1.7.1 3 .2-1.9.2-3.8.1 1.1.2 2.4.1-6.8.2 3.6.1 2.8.2-.9.1.7.2-.6.1 2.1.2-4.1.1 3.6.2-.7.1-.3.2 1.7.1-3.7.2 5.7.1-.5.2-7 .1-1.2.2 2.4.1 2.8" stroke="#1010e0" stroke-width="0.8" fill="none" stroke-linejoin="round" stroke-linecap="round"/>
<path d="M1027.2 604.6l.7-.1.6-.2.7-.2.7-.2.7-.1.6-.2.7-.2.7-.2.6-.2.7-.2.7-.2.6-.2.7-.2.7-.2.6-.2.7-.1.7-.2.7-.2.6-.2.7-.2.7-.2.6-.3.7-.3.7-.4.7-.5.6-.4.7-.5.7-.5.6-.5.7-.7.7-.7.6-.8.7-1 .7-1.2.6-1.4.7-1.7.7-2 .7-2.4.6-2.5.7-2.8.7-2.8.6-2.9.7-3 .7-3.3.7-3.6.6-3.7.7-3.6.7-3.4.6-3.1.7-2.5.7-1.9.6-1.6.7-1.2.7-.9.6-.7.7-.6.7-.6.7-.5.6-.3.7-.2.7 0 .6 0 .7.2.7.3.7.3.6.4.7.4.7.5.6.5.7.6.7.6.6.7.7.8.7.8.6.9.7.9.7 1 .7 1.1.6 1.1.7 1.1.7 1.2.6 1.2.7 1.2.7 1.1.7 1.2.6 1.1.7 1.1.7 1.1.6 1 .7 1 .7 1 .6 1 .7 1 .7 1 .7.9.6 1 .7 1 .7.9.6 1 .7 1.1.7 1 .6 1.1.7 1.1.7 1.2.7 1.2.6 1.1.7 1.2.7 1.1.6 1 .7 1 .7.9.6.8.7.7.7.7.6.5.7.5.7.5.7.4.6.3.7.3.7.3.6.2.7.2.7.2.7.2.6.2.7.2.7.1.6.2.7.1.7.1.6.1.7.1.7.1.6.1.7.1.7.1.7.1.6 0 .7.1.7.1.6 0 .7.1.7 0 .7.1.6.1.7 0 .7.1.6.1.7 0 .7.1.6.1.7.1.7.1.6 0 .7.1.7.1.7.1.6 0 .7.1.7.1.6 0 .7.1.7.1.7 0 .6.1.7 0 .7.1.6 0 .7.1.7 0 .6.1.7 0 .7.1.6 0 .7 0 .7.1.7 0 .6 0 .7 0 .7.1.6 0 .7 0 .7 0 .7.1.6 0 .7 0 .7 0 .6 0 .7.1.7 0 .6 0 .7 0 .7 0 .7.1.6 0 .7 0 .7 0 .6 0 .7 0 .7 0 .6.1.7 0 .7 0 .7 0 .6 0 .7 0 .7 0 .6 0 .7 0 .7.1.6 0 .7 0 .7 0 .6 0 .7 0 .7 0 .7 0 .6 0 .7 0 .7 0 .6 0 .7.1.7 0 .7 0 .6 0 .7 0 .7 0 .6 0 .7 0 .7 0 .6 0 .7 0 .7 0 .6 0 .7 0 .7 0 .7 0 .6 0 .7 0 .7 0 .6 0 .7 0 .7 0 .7 0 .6 0 .7 0 .7 0 .6 0 .7 0 .7 0 .6 0 .7 0 .7 0 .7 0 .6 0 .7 0 .7 0 .6 0 .7 0 .7 0 .6 0 .7 0 .7 0 .7 0 .6 0 .7 0 .7 0 .6 0 .7 0 .7 0 .6 0 .7 0 .7 0 .6 0" stroke="#1010e0" stroke-width="2.6" fill="none" stroke-linejoin="round" stroke-linecap="round"/>
<path d="M1027.2 611.2l.5 0 .5 0 .5 0 .5 0 .5 0 .5 0 .5 0 .5-.1.5 0 .5 0 .5 0 .5 0 .5 0 .5 0 .5 0 .5 0 .5 0 .5 0 .5 0 .5 0 .6 0 .5-.1.5 0 .5 0 .5 0 .5 0 .5 0 .5 0 .5-.1.5 0 .5 0 .5 0 .5-.1.5 0 .5 0 .5-.1.5 0 .5 0 .5-.1.5 0 .5 0 .5-.1.5 0 .5-.1.5 0 .5-.1.5 0 .5-.1.5 0 .5-.1.5 0 .5-.1.5 0 .5-.1.5 0 .5-.1.5 0 .5-.1.5 0 .6-.1.5 0 .5-.1.5 0 .5-.1.5 0 .5-.1.5 0 .5-.1.5 0 .5-.1.5 0 .5-.1.5 0 .5 0 .5-.1.5 0 .5-.1.5 0 .5-.1.5 0 .5-.1.5 0 .5 0 .5-.1.5 0 .5-.1.5 0 .5-.1.5 0 .5-.1.5 0 .5-.1.5 0 .5-.1.5 0 .5-.1.5 0 .5-.1.5 0 .5-.1.6 0 .5-.1.5 0 .5-.1.5 0 .5 0 .5-.1.5 0 .5-.1.5 0 .5-.1.5 0 .5-.1.5 0 .5-.1.5-.1.5 0 .5-.1.5-.1.5-.1.5-.1.5-.1.5-.2.5-.1.5-.1.5-.1.5 0 .5-.1.5-.1.5 0 .5-.1.5-.2.5-.1.5-.2.5-.3.5-.3.5-.4.5-.5.5-.6.6-.7.5-.8.5-.8.5-1 .5-1.1.5-1.2.5-1.2.5-1.4.5-1.4.5-1.5.5-1.6.5-1.7.5-1.7.5-1.7.5-1.9.5-2.1.5-2.2.5-2.4.5-2.4.5-2.6.5-2.5.5-2.6.5-2.5.5-2.5.5-2.3.5-2.2.5-2.1.5-1.9.5-1.8.5-1.8.5-1.8.5-1.7.5-1.6.5-1.6.5-1.4.5-1.3.5-1.2.5-1 .5-.9.5-.6.5-.5.6-.1.5.3.5.5.5.9.5 1.1.5 1.2.5 1.5.5 1.5.5 1.6.5 1.6.5 1.7.5 1.7.5 1.9.5 2 .5 2.1.5 2.1.5 2.2.5 2.1.5 2.2.5 2.2.5 2.1.5 2.1.5 2 .5 2 .5 2 .5 2 .5 2 .5 2.1.5 2 .5 2 .5 1.9.5 1.9.5 1.8.5 1.7.5 1.6.5 1.5.5 1.3.5 1.2.5 1.1.6 1.1.5.9.5.8.5.8.5.7.5.6.5.6.5.5.5.5.5.4.5.4.5.4.5.4.5.3.5.2.5.3.5.2.5.2.5.2.5.2.5.1.5.1.5.1.5.1.5.1.5 0 .5.1.5 0 .5.1.5 0 .5 0 .5.1.5 0 .5 0 .5 0 .5.1.5 0 .5 0 .5 0 .5.1.6 0 .5 0 .5 0 .5 0 .5.1.5 0 .5 0 .5 0 .5 0 .5 0 .5.1.5 0 .5 0 .5 0 .5 0 .5 0 .5 0 .5.1.5 0 .5 0 .5 0 .5 0 .5 0 .5 0 .5 0 .5 0 .5 0 .5 0 .5.1.5 0 .5 0 .5 0 .5 0 .5 0 .5 0 .5 0 .5 0 .5 0 .5 0 .5 0 .6 0 .5 0 .5 0 .5 0 .5 0 .5 0 .5 0 .5 0 .5 0 .5 0 .5 0 .5 0 .5 0 .5 0 .5 0 .5 0 .5 0 .5 0 .5 0 .5 0 .5 0 .5 0 .5 0 .5 0 .5 0 .5 0 .5 0 .5 0 .5 0 .5 0 .5 0 .5 0 .5 0 .5 0 .5 0 .5 0 .5 0 .5 0 .5 0 .5 0 .6 0 .5 0 .5 0 .5 0 .5 0 .5 0 .5 0 .5 0 .5 0 .5 0 .5 0 .5 0 .5 0 .5 0 .5 0 .5 0 .5 0 .5.1.5 0 .5 0 .5 0 .5 0 .5 0 .5 0 .5 0 .5 0 .5 0" stroke="#e82828" stroke-width="2" fill="none" stroke-linejoin="round" stroke-linecap="round" stroke-dasharray="5 3"/>
<text x="1035.8" y="546.6" font-size="11.5" fill="#e82828" font-weight="bold">3L</text>
<path d="M1027.4 611.6L1024.4 611.6M1211.5 611.6L1208.5 611.6" stroke="#222" stroke-width="1.1"/>
<text x="1023.8" y="614.8" font-size="9" text-anchor="end" fill="#333" font-weight="bold">0.0</text>
<path d="M1027.4 580.7L1024.4 580.7M1211.5 580.7L1208.5 580.7" stroke="#222" stroke-width="1.1"/>
<text x="1023.8" y="583.9" font-size="9" text-anchor="end" fill="#333" font-weight="bold">0.4</text>
<path d="M1027.4 549.8L1024.4 549.8M1211.5 549.8L1208.5 549.8" stroke="#222" stroke-width="1.1"/>
<text x="1023.8" y="553" font-size="9" text-anchor="end" fill="#333" font-weight="bold">0.8</text>
<path d="M1027.4 596.1L1025.6 596.1M1211.5 596.1L1209.7 596.1M1027.4 565.2L1025.6 565.2M1211.5 565.2L1209.7 565.2M1027.4 534.3L1025.6 534.3M1211.5 534.3L1209.7 534.3" stroke="#222" stroke-width="0.9"/>
<rect x="1027.4" y="342" width="184.1" height="277.1" stroke="#222" stroke-width="1.5" fill="none"/>
<path d="M1044 619.1L1044 616.1" stroke="#222" stroke-width="1.1"/>
<text x="1044" y="630.8" font-size="9" text-anchor="middle" fill="#333" font-weight="bold">1000</text>
<path d="M1077.5 619.1L1077.5 616.1" stroke="#222" stroke-width="1.1"/>
<text x="1077.5" y="630.8" font-size="9" text-anchor="middle" fill="#333" font-weight="bold">1200</text>
<path d="M1111 619.1L1111 616.1" stroke="#222" stroke-width="1.1"/>
<text x="1111" y="630.8" font-size="9" text-anchor="middle" fill="#333" font-weight="bold">1400</text>
<path d="M1144.5 619.1L1144.5 616.1" stroke="#222" stroke-width="1.1"/>
<text x="1144.5" y="630.8" font-size="9" text-anchor="middle" fill="#333" font-weight="bold">1600</text>
<path d="M1178 619.1L1178 616.1" stroke="#222" stroke-width="1.1"/>
<text x="1178" y="630.8" font-size="9" text-anchor="middle" fill="#333" font-weight="bold">1800</text>
<path d="M1211.5 619.1L1211.5 616.1" stroke="#222" stroke-width="1.1"/>
<text x="1211.5" y="630.8" font-size="9" text-anchor="middle" fill="#333" font-weight="bold">2000</text>
<path d="M1027.2 619.1L1027.2 617.3M1035.6 619.1L1035.6 617.3M1052.3 619.1L1052.3 617.3M1060.7 619.1L1060.7 617.3M1069.1 619.1L1069.1 617.3M1085.8 619.1L1085.8 617.3M1094.2 619.1L1094.2 617.3M1102.6 619.1L1102.6 617.3M1119.3 619.1L1119.3 617.3M1127.7 619.1L1127.7 617.3M1136.1 619.1L1136.1 617.3M1152.8 619.1L1152.8 617.3M1161.2 619.1L1161.2 617.3M1169.6 619.1L1169.6 617.3M1186.3 619.1L1186.3 617.3M1194.7 619.1L1194.7 617.3M1203.1 619.1L1203.1 617.3" stroke="#222" stroke-width="0.9"/>
<text x="1120" y="647.9" font-size="12.5" text-anchor="middle" fill="#222" font-weight="bold">Wavelength (nm)</text>
<text font-size="13" text-anchor="middle" fill="#222" font-weight="bold" transform="translate(998.3 476.5) rotate(-90)">Normalized PL</text>
<path d="M1044 342L1044 345" stroke="#222" stroke-width="1.1"/>
<text x="1044" y="336" font-size="9" text-anchor="middle" fill="#333" font-weight="bold">1.2</text>
<path d="M1077.9 342L1077.9 345" stroke="#222" stroke-width="1.1"/>
<text x="1077.9" y="336" font-size="9" text-anchor="middle" fill="#333" font-weight="bold">1.0</text>
<path d="M1110.6 342L1110.6 345" stroke="#222" stroke-width="1.1"/>
<text x="1110.6" y="336" font-size="9" text-anchor="middle" fill="#333" font-weight="bold">0.9</text>
<path d="M1144.5 342L1144.5 345" stroke="#222" stroke-width="1.1"/>
<text x="1144.5" y="336" font-size="9" text-anchor="middle" fill="#333" font-weight="bold">0.8</text>
<path d="M1178.3 342L1178.3 345" stroke="#222" stroke-width="1.1"/>
<text x="1178.3" y="336" font-size="9" text-anchor="middle" fill="#333" font-weight="bold">0.7</text>
<path d="M1211.5 342L1211.5 345" stroke="#222" stroke-width="1.1"/>
<text x="1211.5" y="336" font-size="9" text-anchor="middle" fill="#333" font-weight="bold">0.6</text>
<path d="M1060.9 342L1060.9 343.8M1094.2 342L1094.2 343.8M1127.5 342L1127.5 343.8M1161.4 342L1161.4 343.8M1194.9 342L1194.9 343.8" stroke="#222" stroke-width="0.9"/>
<text x="1120" y="319" font-size="11.8" text-anchor="middle" fill="#222" font-weight="bold">Photon energy (eV)</text>
<path d="M1031.3 353.7L1056.7 353.7" stroke="#1010e0" stroke-width="1.8"/>
<text x="1059.8" y="357.4" font-size="10.8" fill="#222" font-weight="bold">before</text>
<path d="M1031.3 367.6L1056.7 367.6" stroke="#e82828" stroke-width="1.8" stroke-dasharray="7 8"/>
<text x="1059.8" y="371.3" font-size="10.8" fill="#222" font-weight="bold">after</text>
<text x="4.8" y="28.8" font-size="28" fill="#111" font-weight="bold" class="sf">(a)</text>
<text x="283.1" y="27.8" font-size="28" fill="#111" font-weight="bold" class="sf">(b)</text>
<text x="615.7" y="27.8" font-size="28" fill="#111" font-weight="bold" class="sf">(c)</text>
<text x="978.1" y="34.2" font-size="28" fill="#111" font-weight="bold" class="sf">(d)</text>
<text x="12.4" y="315.3" font-size="28" fill="#111" font-weight="bold" class="sf">(e)</text>
<text x="289.1" y="315" font-size="28" fill="#111" font-weight="bold" class="sf">(f)</text>
<text x="620.7" y="315.8" font-size="28" fill="#111" font-weight="bold" class="sf">(g)</text>
<text x="982.1" y="313" font-size="28" fill="#111" font-weight="bold" class="sf">(h)</text>
</svg></body></html>
